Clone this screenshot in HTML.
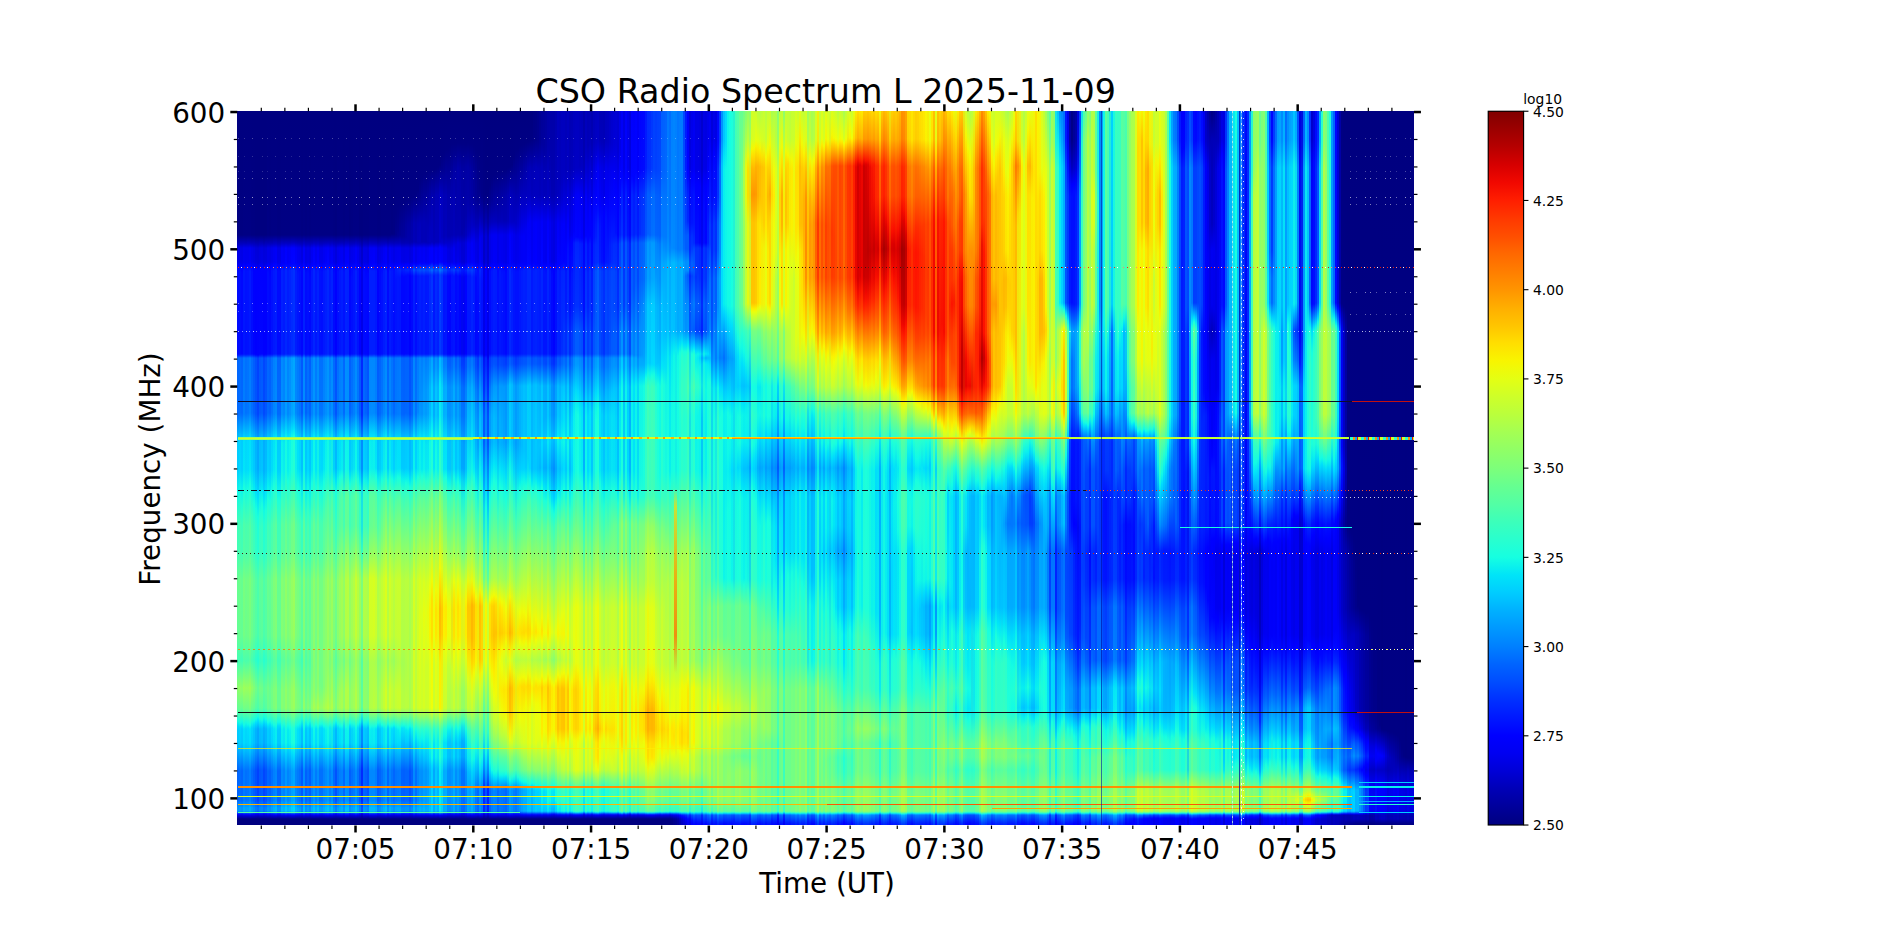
<!DOCTYPE html>
<html><head><meta charset="utf-8"><title>CSO Radio Spectrum L 2025-11-09</title>
<style>
html,body{margin:0;padding:0;background:#fff}
body{width:1898px;height:927px;position:relative;overflow:hidden}
#sp{position:absolute;left:237px;top:111px;width:1177px;height:714px;display:flex;overflow:hidden}
#sp i{display:block;flex:none;width:2px;height:714px}
#ln{position:absolute;left:0;top:0;width:1898px;height:927px}
#ln b{position:absolute;display:block}
#cb{position:absolute;left:1488px;top:111px;width:36px;height:714px;background:linear-gradient(to top,#000080 0.0%,#00009b 2.5%,#0000b6 5.0%,#0000d6 7.5%,#0000f1 10.0%,#0000ff 12.5%,#0018ff 15.0%,#0030ff 17.5%,#004cff 20.0%,#0064ff 22.5%,#0080ff 25.0%,#0098ff 27.5%,#00b0ff 30.0%,#00ccff 32.5%,#00e4f8 35.0%,#16ffe1 37.5%,#29ffce 40.0%,#3cffba 42.5%,#53ffa4 45.0%,#66ff90 47.5%,#7dff7a 50.0%,#90ff66 52.5%,#a4ff53 55.0%,#baff3c 57.5%,#ceff29 60.0%,#e4ff13 62.5%,#f8f500 65.0%,#ffde00 67.5%,#ffc400 70.0%,#ffae00 72.5%,#ff9400 75.0%,#ff7e00 77.5%,#ff6800 80.0%,#ff4e00 82.5%,#ff3800 85.0%,#ff1e00 87.5%,#f10800 90.0%,#d60000 92.5%,#b60000 95.0%,#9b0000 97.5%,#800000 100.0%)}
svg{position:absolute;left:0;top:0}
</style></head><body>
<div id="sp"><i style="background:linear-gradient(#000080 0px,#000082 124px,#0000bf 133px,#0000e8 137px,#0000e8 151px,#0000ff 156px,#000aff 161px,#000aff 243px,#0018ff 244px,#0066ff 247px,#006aff 303px,#00ccff 330px,#00d0ff 359px,#11f8e6 381px,#3cffba 410px,#43ffb4 442px,#68ff8f 470px,#63ff94 524px,#41ffb5 550px,#8fff68 577px,#62ff95 598px,#19fcde 610px,#01defa 615px,#00ccff 619px,#00c8ff 632px,#0066ff 659px,#0066ff 689px,#0098ff 697px,#0098ff 700px,#007cff 701px,#000eff 703px,#0000e4 704px,#000080 708px,#000080 713px)"></i><i style="background:linear-gradient(#000080 0px,#000082 124px,#0000c1 133px,#0000e8 137px,#0000ea 151px,#0000ff 155px,#000cff 161px,#000cff 243px,#001cff 244px,#006aff 247px,#006cff 302px,#00d2ff 330px,#00d6ff 359px,#11fae6 379px,#43ffb4 415px,#48ffaf 443px,#6bff8c 469px,#66ff90 525px,#43ffb4 549px,#94ff63 577px,#65ff92 598px,#11fae6 612px,#00dcfb 616px,#00d2ff 619px,#00ceff 632px,#006aff 660px,#006cff 689px,#009eff 697px,#009eff 700px,#0080ff 701px,#0010ff 703px,#0000e6 704px,#000080 708px,#000080 713px)"></i><i style="background:linear-gradient(#000080 0px,#000082 124px,#0000c1 133px,#0000e6 137px,#0000e8 151px,#0000ff 156px,#0008ff 163px,#0008ff 243px,#0034ff 245px,#0064ff 247px,#0068ff 302px,#00ccff 330px,#00d0ff 359px,#0cf4eb 379px,#26ffd1 396px,#3effb9 415px,#43ffb4 443px,#66ff90 468px,#63ff94 525px,#40ffb7 549px,#90ff66 577px,#66ff90 597px,#13fae4 611px,#01defa 615px,#00ccff 618px,#00c8ff 632px,#0064ff 660px,#0068ff 689px,#0098ff 697px,#0098ff 700px,#007cff 701px,#000cff 703px,#0000e4 704px,#000080 708px,#000080 713px)"></i><i style="background:linear-gradient(#000080 0px,#000084 124px,#0000bb 132px,#0000ef 137px,#0000f1 151px,#0000ff 154px,#000eff 158px,#0016ff 160px,#0016ff 243px,#0026ff 244px,#007aff 247px,#007eff 303px,#00e0fb 330px,#01e4f8 359px,#1bffdc 377px,#4effa9 414px,#53ffa4 442px,#78ff7f 470px,#73ff83 524px,#4effa9 549px,#9fff58 577px,#70ff87 598px,#11fae6 614px,#00e0fb 618px,#00dcfd 632px,#007aff 659px,#007aff 689px,#00acff 697px,#00acff 700px,#008eff 701px,#001aff 703px,#0000ed 704px,#000080 708px,#000080 713px)"></i><i style="background:linear-gradient(#000080 0px,#000084 124px,#0000b8 132px,#0000ed 137px,#0000ef 151px,#0000ff 155px,#0010ff 160px,#0010ff 243px,#0020ff 244px,#0070ff 247px,#0072ff 302px,#00d8fb 330px,#01dcfa 359px,#16fae1 378px,#48ffaf 414px,#4dffaa 442px,#70ff87 468px,#6bff8c 525px,#4bffac 550px,#9aff5d 577px,#70ff87 597px,#16fae1 612px,#00d8fb 618px,#00d4fd 632px,#0070ff 660px,#0072ff 689px,#00a4ff 697px,#00a4ff 700px,#0088ff 701px,#0014ff 703px,#0000ea 704px,#000080 708px,#000080 713px)"></i><i style="background:linear-gradient(#000080 0px,#000084 124px,#0000c4 133px,#0000ed 137px,#0000ef 151px,#0000ff 154px,#0006ff 157px,#0012ff 160px,#0012ff 243px,#0024ff 244px,#0074ff 247px,#0076ff 302px,#00daff 330px,#00defc 359px,#17ffdf 378px,#4bffac 415px,#4effa9 442px,#73ff83 469px,#6eff88 525px,#4bffac 549px,#9aff5d 577px,#6dff8a 598px,#13fce4 613px,#00defc 617px,#00d4ff 633px,#0074ff 659px,#0076ff 689px,#00a6ff 697px,#00a8ff 700px,#008aff 701px,#0016ff 703px,#0000ed 704px,#000080 708px,#000080 713px)"></i><i style="background:linear-gradient(#000080 0px,#000084 124px,#0000bb 132px,#0000f1 137px,#0000f3 151px,#0000ff 154px,#0010ff 158px,#0018ff 160px,#0018ff 243px,#0028ff 244px,#007eff 247px,#0080ff 302px,#00e0fb 328px,#02e8f4 359px,#19ffde 373px,#53ffa4 415px,#58ff9f 443px,#7bff7b 470px,#77ff80 525px,#53ffa4 549px,#a0ff56 577px,#7aff7d 597px,#14fee3 614px,#00e4f8 618px,#00e0fb 632px,#007eff 660px,#0080ff 689px,#00b0ff 697px,#00b0ff 700px,#0094ff 701px,#001cff 703px,#0000f1 704px,#000080 708px,#000080 713px)"></i><i style="background:linear-gradient(#000080 0px,#000082 124px,#0000b8 132px,#0000ea 137px,#0000ea 151px,#0000ff 155px,#000cff 161px,#000cff 243px,#0038ff 245px,#006cff 247px,#006eff 302px,#00d2fd 330px,#00d6fb 358px,#14f8e3 380px,#3bffbc 405px,#45ffb2 419px,#49ffad 443px,#6dff8a 469px,#68ff8f 525px,#45ffb2 549px,#90ff66 577px,#66ff90 598px,#17fadf 611px,#00d6fb 617px,#00ccff 633px,#006cff 659px,#006eff 689px,#00a0ff 697px,#00a0ff 700px,#0082ff 701px,#0012ff 703px,#0000e8 704px,#000080 708px,#000080 713px)"></i><i style="background:linear-gradient(#000080 0px,#000082 124px,#0000c6 134px,#0000e4 137px,#0000e6 151px,#0000ff 156px,#0004ff 243px,#0014ff 244px,#005eff 247px,#0060ff 302px,#00c6ff 330px,#00caff 359px,#04eaf3 376px,#1cffdb 392px,#39ffbe 415px,#3effb9 443px,#62ff95 469px,#5dff9a 525px,#3bffbc 549px,#82ff75 577px,#62ff95 597px,#14fce3 610px,#00defb 614px,#00c6ff 618px,#00c2ff 632px,#005eff 660px,#0060ff 689px,#0092ff 697px,#0092ff 700px,#0076ff 701px,#0008ff 703px,#0000ca 705px,#000080 708px,#000080 713px)"></i><i style="background:linear-gradient(#000080 0px,#000080 124px,#0000b2 132px,#0000da 137px,#0000df 151px,#0000ff 158px,#0000ff 243px,#0008ff 244px,#0050ff 247px,#0054ff 303px,#00b4ff 330px,#00b8ff 359px,#00e0fb 381px,#16ffe1 398px,#2cffca 415px,#30ffc7 442px,#56ffa0 470px,#53ffa4 523px,#2cffca 549px,#72ff85 577px,#53ffa4 597px,#13fce4 608px,#00dcfe 612px,#00b4ff 618px,#00b0ff 632px,#0050ff 659px,#0054ff 690px,#0080ff 697px,#0080ff 700px,#0064ff 701px,#0000ff 703px,#0000da 704px,#000080 708px,#000080 713px)"></i><i style="background:linear-gradient(#000080 0px,#000080 124px,#0000bd 134px,#0000d8 137px,#0000dd 152px,#0000ff 159px,#0002ff 244px,#0042ff 247px,#0046ff 303px,#00a8ff 330px,#00aaff 358px,#01e2f9 388px,#19ffde 406px,#21ffd6 419px,#26ffd1 442px,#4bffac 469px,#48ffaf 524px,#24ffd2 550px,#63ff94 577px,#4bffac 597px,#14fce3 606px,#00e0fb 610px,#00a8ff 618px,#00a6ff 632px,#0042ff 659px,#0042ff 689px,#0076ff 697px,#0076ff 700px,#0058ff 701px,#0024ff 702px,#0000ff 703px,#0000d4 704px,#000080 708px,#000080 713px)"></i><i style="background:linear-gradient(#000080 0px,#000080 124px,#0000c4 134px,#0000df 137px,#0000e1 151px,#0000ff 157px,#0004ff 243px,#0010ff 244px,#0056ff 247px,#0058ff 302px,#00bcff 330px,#00c0ff 359px,#08ecf1 383px,#23ffd4 402px,#33ffc4 416px,#38ffbf 443px,#5bff9c 470px,#56ffa0 525px,#34ffc2 550px,#72ff85 577px,#5aff9d 597px,#19fcde 608px,#00d6fd 614px,#00bcff 618px,#00b8ff 632px,#0056ff 659px,#0058ff 689px,#0088ff 697px,#0088ff 700px,#006cff 701px,#0006ff 703px,#0000c6 705px,#000080 708px,#000080 713px)"></i><i style="background:linear-gradient(#000080 0px,#000080 124px,#0000bd 133px,#0000e1 137px,#0000e4 151px,#0000ff 157px,#0004ff 243px,#002aff 245px,#005aff 247px,#005cff 302px,#00c0ff 330px,#00c4ff 359px,#04e8f4 378px,#1cffdb 395px,#36ffc1 416px,#3bffbc 443px,#5eff98 470px,#5aff9d 525px,#38ffbf 550px,#70ff87 578px,#5dff9a 597px,#16fce1 609px,#00dafd 614px,#00c0ff 618px,#00bcff 632px,#005aff 659px,#005cff 689px,#008cff 697px,#008cff 700px,#0070ff 701px,#0006ff 703px,#0000c6 705px,#000080 708px,#000080 713px)"></i><i style="background:linear-gradient(#000080 0px,#000080 124px,#0000af 132px,#0000da 137px,#0000df 152px,#0000ff 159px,#0000ff 243px,#0006ff 244px,#0046ff 247px,#004aff 303px,#00aeff 330px,#00b2ff 360px,#03e2f8 386px,#14fae3 400px,#24ffd2 414px,#28ffcf 441px,#4effa9 469px,#4bffac 524px,#28ffcf 550px,#5eff98 577px,#4effa9 597px,#17fcdf 606px,#01defa 611px,#00b2ff 617px,#00aaff 632px,#0046ff 659px,#0046ff 689px,#007aff 697px,#007aff 700px,#005aff 701px,#0000ff 703px,#0000d6 704px,#000080 708px,#000080 713px)"></i><i style="background:linear-gradient(#000080 0px,#000080 124px,#0000ca 135px,#0000dd 137px,#0000df 151px,#0000ff 157px,#0000ff 243px,#000cff 244px,#0052ff 247px,#0056ff 303px,#00b8ff 330px,#00bcff 359px,#03e4f8 380px,#1cffdb 399px,#2effc9 415px,#33ffc4 442px,#58ff9f 469px,#53ffa4 525px,#31ffc6 550px,#65ff92 577px,#56ffa0 597px,#14fce3 608px,#00dafd 613px,#00b8ff 618px,#00b6ff 632px,#0052ff 659px,#0052ff 689px,#0086ff 698px,#0086ff 700px,#0068ff 701px,#0002ff 703px,#0000dd 704px,#000080 708px,#000080 713px)"></i><i style="background:linear-gradient(#000080 0px,#000084 124px,#0000b6 132px,#0000e8 137px,#0000e8 151px,#0000ff 155px,#000aff 162px,#000aff 243px,#001aff 244px,#0066ff 247px,#0068ff 302px,#00ceff 330px,#00d2ff 359px,#06ecf1 373px,#1cffdb 388px,#40ffb7 415px,#45ffb2 443px,#68ff8f 469px,#63ff94 525px,#41ffb5 550px,#70ff87 577px,#68ff8f 597px,#14fee3 611px,#00e0fb 615px,#00ceff 618px,#00caff 632px,#0066ff 660px,#0068ff 689px,#009aff 697px,#009aff 700px,#007cff 701px,#000eff 703px,#0000e6 704px,#000080 708px,#000080 713px)"></i><i style="background:linear-gradient(#000080 0px,#000082 124px,#0000bf 133px,#0000e6 137px,#0000e6 151px,#0000ff 156px,#0006ff 169px,#0006ff 243px,#0030ff 245px,#0060ff 247px,#0062ff 302px,#00c8ff 330px,#00ccff 359px,#03e8f4 374px,#1bffdc 390px,#3bffbc 415px,#40ffb7 443px,#63ff94 469px,#5eff98 525px,#3cffba 550px,#68ff8f 578px,#63ff94 597px,#16fee1 610px,#00e0fb 614px,#00c8ff 618px,#00c4ff 632px,#0060ff 660px,#0062ff 689px,#0094ff 697px,#0094ff 700px,#0078ff 701px,#000aff 703px,#0000e1 704px,#000080 708px,#000080 713px)"></i><i style="background:linear-gradient(#000080 0px,#000084 124px,#0000b8 132px,#0000ed 137px,#0000ed 151px,#0000ff 155px,#0010ff 160px,#0010ff 243px,#0020ff 244px,#0070ff 247px,#0072ff 302px,#00d8fb 330px,#01dcfa 359px,#16fae1 378px,#48ffaf 414px,#4dffaa 442px,#70ff87 469px,#6bff8c 525px,#49ffad 550px,#73ff83 578px,#70ff87 597px,#16fae1 612px,#01dcfa 617px,#00d4fd 632px,#0070ff 660px,#0072ff 689px,#00a4ff 697px,#00a4ff 700px,#0088ff 701px,#0014ff 703px,#0000ea 704px,#000080 708px,#000080 713px)"></i><i style="background:linear-gradient(#000080 0px,#000084 124px,#0000c6 133px,#0000f3 137px,#0000f3 151px,#0000ff 153px,#000cff 157px,#0018ff 160px,#0018ff 243px,#0048ff 245px,#0080ff 247px,#0084ff 303px,#01e2f9 328px,#04eaf3 359px,#1cffdb 375px,#53ffa4 414px,#58ff9f 442px,#7dff7a 469px,#78ff7f 525px,#55ffa2 550px,#7fff78 579px,#7bff7b 597px,#16fce1 614px,#03e6f6 618px,#01e2f9 632px,#0080ff 659px,#0080ff 689px,#00b2ff 697px,#00b2ff 700px,#0096ff 701px,#001cff 703px,#0000f1 704px,#000080 708px,#000080 713px)"></i><i style="background:linear-gradient(#000080 0px,#000084 124px,#0000c8 133px,#0000f6 137px,#0000f8 151px,#000aff 156px,#001cff 159px,#001cff 243px,#004eff 245px,#0086ff 247px,#008aff 302px,#01dafa 324px,#09eef0 330px,#0bf2ec 360px,#2bffcc 380px,#5aff9d 414px,#5eff98 443px,#82ff75 468px,#7fff78 525px,#5bff9c 550px,#82ff75 578px,#82ff75 597px,#1bfcdc 614px,#09eef0 618px,#08eaf3 632px,#00b6ff 646px,#0086ff 660px,#008aff 689px,#00baff 697px,#00baff 700px,#009eff 701px,#0022ff 703px,#0000f3 704px,#000080 708px,#000080 713px)"></i><i style="background:linear-gradient(#000080 0px,#000082 124px,#0000bf 133px,#0000e6 137px,#0000e8 151px,#0000ff 155px,#0002ff 158px,#000aff 160px,#000aff 243px,#0034ff 245px,#0064ff 247px,#0068ff 303px,#00ccff 330px,#00d0ff 360px,#09f0ee 377px,#1bffdc 388px,#3cffba 413px,#40ffb7 441px,#66ff90 468px,#63ff94 525px,#40ffb7 550px,#66ff90 578px,#66ff90 597px,#13fce4 611px,#00dcfd 615px,#00ccff 619px,#00c8ff 632px,#0064ff 660px,#0066ff 689px,#0098ff 697px,#0098ff 700px,#007cff 701px,#000eff 703px,#0000e6 704px,#000080 708px,#000080 713px)"></i><i style="background:linear-gradient(#000080 0px,#000082 124px,#0000bf 133px,#0000e6 137px,#0000e8 151px,#0000ff 155px,#0002ff 158px,#000aff 160px,#000aff 243px,#0034ff 245px,#0064ff 247px,#0068ff 303px,#00ccff 330px,#00d0ff 360px,#09f0ee 377px,#1cffdb 389px,#3cffba 414px,#40ffb7 441px,#66ff90 469px,#62ff95 525px,#40ffb7 550px,#66ff90 579px,#66ff90 597px,#13fce4 611px,#00dcfd 615px,#00ccff 618px,#00c8ff 632px,#0064ff 660px,#0066ff 689px,#0098ff 697px,#0098ff 700px,#007aff 701px,#000eff 703px,#0000e6 704px,#000080 708px,#000080 713px)"></i><i style="background:linear-gradient(#000080 0px,#000084 124px,#0000ca 133px,#0000f8 137px,#0000f8 151px,#0000ff 154px,#0020ff 159px,#0020ff 243px,#0030ff 244px,#008aff 247px,#008eff 303px,#01e2f9 325px,#0af2ec 332px,#0ef6e9 360px,#2bffcc 379px,#5bff9c 414px,#5eff98 441px,#85ff72 469px,#82ff75 524px,#5bff9c 549px,#85ff72 579px,#85ff72 597px,#11fae6 616px,#0af2ec 619px,#07eef0 632px,#00caff 641px,#008aff 659px,#008aff 689px,#00beff 697px,#00beff 700px,#009eff 701px,#0024ff 703px,#0000f3 704px,#000080 708px,#000080 713px)"></i><i style="background:linear-gradient(#000080 0px,#000084 124px,#0000bf 132px,#0000f3 137px,#0000f8 152px,#000eff 157px,#001aff 160px,#001aff 243px,#002cff 244px,#0082ff 247px,#0086ff 303px,#01d6fa 324px,#09e8f2 332px,#0ceeee 361px,#2effc9 385px,#55ffa2 414px,#5aff9d 442px,#7fff78 469px,#7bff7b 524px,#58ff9f 550px,#7fff78 579px,#7fff78 597px,#1efcd9 613px,#09e8f2 618px,#08e6f3 632px,#00b6ff 645px,#0082ff 659px,#0082ff 689px,#00b6ff 697px,#00b6ff 700px,#0096ff 701px,#001eff 703px,#0000f1 704px,#000080 708px,#000080 713px)"></i><i style="background:linear-gradient(#000080 0px,#000084 124px,#0000c1 132px,#0000fd 137px,#0002ff 153px,#0026ff 159px,#0026ff 243px,#003aff 244px,#007eff 246px,#0098ff 247px,#009cff 303px,#01dcfa 320px,#14fae3 330px,#19fcde 360px,#66ff90 414px,#6bff8c 442px,#90ff66 469px,#8cff6b 524px,#68ff8f 550px,#90ff66 579px,#8fff68 597px,#14fae3 618px,#11f8e6 632px,#00ceff 644px,#0098ff 660px,#0098ff 689px,#00caff 697px,#00caff 700px,#00aeff 701px,#002cff 703px,#0000fa 704px,#000080 708px,#000080 713px)"></i><i style="background:linear-gradient(#000080 0px,#000084 124px,#0000c8 133px,#0000f6 137px,#0000f6 151px,#0000ff 153px,#0014ff 158px,#001cff 160px,#001cff 243px,#004cff 245px,#0084ff 247px,#0088ff 303px,#00e0fb 326px,#06ecf1 331px,#09f0ee 360px,#19ffde 370px,#56ffa0 413px,#5aff9d 441px,#80ff77 468px,#7bff7b 525px,#5aff9d 550px,#80ff77 578px,#80ff77 597px,#13fce4 615px,#06ecf1 619px,#02e8f4 632px,#00d2ff 638px,#0084ff 660px,#0086ff 689px,#00b8ff 697px,#00b8ff 700px,#009cff 701px,#0020ff 703px,#0000f1 704px,#000080 708px,#000080 713px)"></i><i style="background:linear-gradient(#000080 0px,#000084 124px,#0000bf 132px,#0000f8 137px,#0000fa 151px,#0006ff 155px,#0022ff 159px,#0022ff 243px,#0034ff 244px,#008eff 247px,#0092ff 303px,#00e0fb 324px,#0cf4eb 330px,#0ff8e7 359px,#30ffc7 380px,#5eff98 414px,#63ff94 442px,#88ff6e 470px,#83ff73 524px,#60ff97 550px,#88ff6e 579px,#87ff70 597px,#14fee3 616px,#0cf4eb 620px,#09f0ee 632px,#00d2ff 640px,#008eff 660px,#008eff 689px,#00c0ff 697px,#00c0ff 700px,#00a2ff 701px,#0026ff 703px,#0000f8 704px,#000080 708px,#000080 713px)"></i><i style="background:linear-gradient(#000080 0px,#000084 124px,#0000c4 132px,#0000ff 137px,#0002ff 153px,#002aff 159px,#002aff 243px,#003eff 244px,#009eff 247px,#00a2ff 303px,#00e2f9 320px,#16fee1 328px,#1effd9 360px,#6dff8a 414px,#72ff85 443px,#95ff62 469px,#90ff66 525px,#6eff88 550px,#95ff62 579px,#95ff62 597px,#1bffdc 618px,#17ffdf 632px,#00defc 642px,#009eff 660px,#00a0ff 689px,#00d2ff 697px,#00d2ff 700px,#00b4ff 701px,#0030ff 703px,#0000ff 704px,#000080 708px,#000080 713px)"></i><i style="background:linear-gradient(#000080 0px,#000084 124px,#0000bb 131px,#0000ff 137px,#0004ff 153px,#0030ff 159px,#0030ff 243px,#0044ff 244px,#00a6ff 247px,#00aaff 303px,#00e2f9 318px,#17ffdf 326px,#21ffd6 334px,#24ffd2 360px,#72ff85 413px,#75ff82 441px,#9cff5b 469px,#98ff5e 524px,#75ff82 550px,#9cff5b 579px,#9cff5b 597px,#23ffd4 617px,#1effd9 632px,#0af2ec 638px,#00daff 645px,#00a6ff 660px,#00a6ff 689px,#00daff 697px,#00daff 700px,#00bcff 701px,#0036ff 703px,#0000ff 704px,#000080 708px,#000080 713px)"></i><i style="background:linear-gradient(#000080 0px,#000084 124px,#0000bf 132px,#0000f6 137px,#0000fa 152px,#0010ff 157px,#001cff 160px,#001cff 243px,#002eff 244px,#006eff 246px,#0084ff 247px,#0088ff 302px,#01d4fa 323px,#0becf0 330px,#0ef0eb 361px,#30ffc7 384px,#5aff9d 415px,#5eff98 443px,#80ff77 468px,#7dff7a 525px,#5dff9a 550px,#83ff73 581px,#83ff73 597px,#1cfadb 614px,#0becf0 618px,#09e8f2 632px,#00b0ff 647px,#0084ff 660px,#0088ff 689px,#00b8ff 697px,#00b8ff 700px,#009cff 701px,#0020ff 703px,#0000f1 704px,#000080 708px,#000080 713px)"></i><i style="background:linear-gradient(#000080 0px,#000084 124px,#0000bb 132px,#0000ef 137px,#0000f1 151px,#0000ff 154px,#000eff 158px,#0014ff 164px,#0014ff 243px,#0026ff 244px,#007aff 247px,#007eff 303px,#00e0fb 330px,#00e2f9 358px,#17ffdf 375px,#4effa9 414px,#53ffa4 442px,#78ff7f 469px,#75ff82 524px,#55ffa2 550px,#78ff7f 580px,#7bff7b 597px,#11fae6 614px,#00e0fb 618px,#00defc 632px,#007aff 659px,#007aff 689px,#00aeff 698px,#00aeff 700px,#008eff 701px,#001aff 703px,#0000ed 704px,#000080 708px,#000080 713px)"></i><i style="background:linear-gradient(#000080 0px,#000084 124px,#0000c1 133px,#0000ed 137px,#0000ed 151px,#0000ff 155px,#000eff 161px,#000eff 243px,#0070ff 247px,#0074ff 303px,#00d6fd 330px,#00d8fd 358px,#16fce1 379px,#46ffb1 414px,#4bffac 442px,#70ff87 469px,#6bff8c 525px,#4effa9 551px,#72ff85 581px,#75ff82 597px,#16fce1 612px,#00d6fd 618px,#00d4ff 632px,#0070ff 659px,#0070ff 689px,#00a4ff 698px,#00a4ff 700px,#0086ff 701px,#0014ff 703px,#0000e8 704px,#000080 708px,#000080 713px)"></i><i style="background:linear-gradient(#000080 0px,#000082 124px,#0000bd 133px,#0000df 137px,#0000e4 151px,#0004ff 158px,#0006ff 243px,#0010ff 244px,#0058ff 247px,#005aff 302px,#00beff 330px,#00c2ff 358px,#0ef2e9 386px,#31ffc6 410px,#38ffbf 442px,#5dff9a 469px,#58ff9f 526px,#3effb9 550px,#62ff95 585px,#65ff92 597px,#1efcd9 608px,#03daf8 614px,#00beff 618px,#00bcff 632px,#0058ff 659px,#005aff 689px,#008aff 697px,#008cff 700px,#006eff 701px,#0008ff 703px,#0000c6 705px,#000080 708px,#000080 713px)"></i><i style="background:linear-gradient(#000080 0px,#000084 124px,#0000ca 133px,#0000f8 137px,#0000fa 151px,#0006ff 155px,#0020ff 159px,#0020ff 243px,#0052ff 245px,#008aff 247px,#008cff 302px,#01e2f9 325px,#0af2ec 330px,#0ff8e7 360px,#31ffc6 382px,#5dff9a 415px,#62ff95 442px,#85ff72 469px,#80ff77 527px,#6bff8c 551px,#8fff68 591px,#92ff65 597px,#14fce3 616px,#0af2ec 620px,#07eef0 632px,#00caff 642px,#008aff 660px,#008cff 689px,#00beff 697px,#00beff 700px,#00a2ff 701px,#0024ff 703px,#0000f6 704px,#000080 708px,#000080 713px)"></i><i style="background:linear-gradient(#000080 0px,#000082 124px,#0000c6 134px,#0000e4 137px,#0000e6 151px,#0000f8 155px,#000aff 162px,#000aff 243px,#0016ff 244px,#0060ff 247px,#0062ff 302px,#00c6ff 330px,#00cafd 359px,#0ef0eb 381px,#31ffc6 406px,#3bffbc 418px,#40ffb7 443px,#63ff94 470px,#5eff98 527px,#4dffaa 551px,#73ff83 597px,#21fcd6 609px,#08e4f3 614px,#00c6ff 618px,#00c2ff 632px,#0060ff 660px,#0062ff 689px,#0092ff 697px,#0092ff 700px,#0076ff 701px,#000cff 703px,#0000e4 704px,#000080 708px,#000080 713px)"></i><i style="background:linear-gradient(#000080 0px,#000084 124px,#0000c1 133px,#0000ea 137px,#0000ea 151px,#0000ff 154px,#0008ff 158px,#000eff 163px,#000eff 243px,#001eff 244px,#006eff 247px,#0070ff 302px,#00d4ff 330px,#00d8ff 359px,#0ff8e7 376px,#36ffc1 402px,#46ffb1 416px,#4bffac 443px,#6eff88 470px,#6aff8d 529px,#5bff9c 551px,#82ff75 597px,#13fce4 613px,#00d8ff 617px,#00ceff 633px,#006eff 659px,#0070ff 689px,#00a0ff 697px,#00a0ff 700px,#0084ff 701px,#0012ff 703px,#0000ea 704px,#000080 708px,#000080 713px)"></i><i style="background:linear-gradient(#000080 0px,#000082 124px,#0000c6 134px,#0000e4 137px,#0000e4 151px,#0002ff 157px,#0008ff 168px,#0008ff 243px,#0014ff 244px,#005eff 247px,#0062ff 303px,#00c4ff 330px,#00c8ff 359px,#10f2e7 384px,#30ffc7 406px,#38ffbf 419px,#3cffba 442px,#62ff95 469px,#5dff9a 530px,#50ffa7 551px,#70ff87 590px,#77ff80 597px,#1bfadc 610px,#03daf8 615px,#00c4ff 618px,#00c0ff 632px,#005eff 659px,#0060ff 689px,#0090ff 697px,#0090ff 700px,#0074ff 701px,#000aff 703px,#0000e1 704px,#000080 708px,#000080 713px)"></i><i style="background:linear-gradient(#000080 0px,#000084 124px,#0000bb 132px,#0000f1 137px,#0000f3 151px,#0000ff 154px,#0016ff 160px,#0016ff 243px,#0046ff 245px,#007eff 247px,#0082ff 303px,#00defc 328px,#01e6f6 359px,#17ffdf 373px,#51ffa5 414px,#55ffa2 442px,#7bff7b 470px,#77ff80 529px,#6eff88 555px,#83ff73 583px,#94ff63 597px,#11fae6 615px,#00e2f9 618px,#00defc 633px,#007eff 659px,#007eff 689px,#00aeff 697px,#00b0ff 700px,#0092ff 701px,#001cff 703px,#0000ef 704px,#000080 708px,#000080 713px)"></i><i style="background:linear-gradient(#000080 0px,#000084 124px,#0000c1 132px,#0000fa 137px,#0002ff 154px,#0024ff 159px,#0024ff 243px,#0038ff 244px,#0092ff 247px,#0096ff 303px,#01e2f9 324px,#0ef6e9 330px,#11fae6 359px,#62ff95 414px,#65ff92 442px,#8cff6b 470px,#87ff70 531px,#83ff73 560px,#92ff65 582px,#a7ff50 597px,#11fae6 617px,#0af2ec 633px,#00ceff 642px,#0092ff 659px,#0092ff 689px,#00c2ff 697px,#00c2ff 700px,#00a6ff 701px,#0028ff 703px,#0000f8 704px,#000080 708px,#000080 713px)"></i><i style="background:linear-gradient(#000080 0px,#000084 124px,#0000c6 133px,#0000ef 137px,#0000f3 151px,#0000ff 154px,#000eff 158px,#0016ff 160px,#0016ff 243px,#0028ff 244px,#007aff 247px,#007eff 303px,#00e0fb 330px,#01e4f8 359px,#19ffde 376px,#50ffa7 415px,#55ffa2 443px,#78ff7f 470px,#72ff85 546px,#7dff7a 580px,#9aff5d 597px,#16fee1 614px,#00e0fb 618px,#00dcfd 632px,#007aff 660px,#007cff 689px,#00acff 697px,#00acff 700px,#0090ff 701px,#001aff 703px,#0000ef 704px,#000080 708px,#000080 713px)"></i><i style="background:linear-gradient(#000080 0px,#000084 124px,#0000ca 133px,#0000f8 137px,#0000fd 152px,#001aff 158px,#0020ff 164px,#0020ff 243px,#0034ff 244px,#008cff 247px,#0090ff 303px,#01d4fa 321px,#0ef0eb 329px,#10f2e7 360px,#30ffc7 380px,#5dff9a 413px,#63ff94 442px,#88ff6e 469px,#88ff6e 576px,#aaff4d 597px,#1ffcd7 615px,#0ef0eb 618px,#0becf0 633px,#00bcff 646px,#008cff 660px,#008eff 689px,#00c0ff 697px,#00c0ff 700px,#00a4ff 701px,#0024ff 703px,#0000f6 704px,#000080 708px,#000080 713px)"></i><i style="background:linear-gradient(#000080 0px,#000084 124px,#0000c1 133px,#0000ea 137px,#0000ed 151px,#0000ff 155px,#0010ff 160px,#0010ff 243px,#0020ff 244px,#0070ff 247px,#0074ff 303px,#00d8fd 330px,#00dcfb 360px,#19fede 379px,#46ffb1 413px,#4dffaa 442px,#73ff83 469px,#70ff87 569px,#7dff7a 582px,#97ff60 597px,#19fede 613px,#00dcfb 617px,#00d4ff 632px,#0070ff 659px,#0070ff 689px,#00a4ff 697px,#00a4ff 700px,#0086ff 701px,#0014ff 703px,#0000ea 704px,#000080 708px,#000080 713px)"></i><i style="background:linear-gradient(#000080 0px,#000084 124px,#0000c1 133px,#0000ea 137px,#0000ed 151px,#0000ff 155px,#000eff 161px,#000eff 243px,#003aff 245px,#0070ff 247px,#0074ff 303px,#00d4ff 330px,#00d8fd 358px,#13fae4 376px,#46ffb1 414px,#4effa9 442px,#73ff83 469px,#73ff83 576px,#97ff60 597px,#16fce1 613px,#00d8fd 617px,#00d0ff 633px,#0070ff 659px,#0070ff 689px,#00a0ff 697px,#00a2ff 700px,#0084ff 701px,#0012ff 703px,#0000e8 704px,#000080 708px,#000080 713px)"></i><i style="background:linear-gradient(#000080 0px,#000084 124px,#0000bd 132px,#0000f3 137px,#0000f3 151px,#0000ff 153px,#000aff 157px,#0018ff 160px,#0018ff 243px,#002aff 244px,#0080ff 247px,#0084ff 303px,#00e0fb 328px,#03e8f4 358px,#19ffde 371px,#53ffa4 412px,#5eff98 442px,#82ff75 469px,#82ff75 576px,#a4ff53 597px,#13fce4 615px,#01e4f8 618px,#00e0fb 633px,#0080ff 659px,#0084ff 690px,#00b0ff 697px,#00b0ff 700px,#0094ff 701px,#001eff 703px,#0000ef 704px,#000080 708px,#000080 713px)"></i><i style="background:linear-gradient(#000080 0px,#000084 124px,#0000bf 132px,#0000f6 137px,#0000fa 151px,#000aff 156px,#001eff 160px,#001eff 243px,#0030ff 244px,#008aff 247px,#008eff 303px,#01dcfa 324px,#09f0ee 331px,#0ef6e9 359px,#30ffc7 378px,#4dffaa 398px,#60ff97 424px,#6aff8d 442px,#8fff68 469px,#88ff6e 540px,#8cff6b 568px,#94ff63 580px,#adff49 597px,#14fae3 616px,#09f0ee 619px,#08ecf1 632px,#00c4ff 643px,#008aff 659px,#008aff 689px,#00bcff 697px,#00bcff 700px,#009eff 701px,#0022ff 703px,#0000f6 704px,#000080 708px,#000080 713px)"></i><i style="background:linear-gradient(#000080 0px,#000084 124px,#0000c1 132px,#0000fa 137px,#0004ff 154px,#0026ff 159px,#0026ff 243px,#0038ff 244px,#0094ff 247px,#0098ff 303px,#03e2f8 323px,#11f8e6 330px,#16fae1 359px,#4effa9 390px,#68ff8f 422px,#78ff7f 444px,#9cff5b 470px,#97ff60 529px,#8fff68 555px,#a2ff55 583px,#b5ff41 597px,#14fae3 617px,#0ef6e9 632px,#00caff 644px,#0094ff 660px,#0096ff 689px,#00c6ff 697px,#00c6ff 700px,#00aaff 701px,#002aff 703px,#0000fa 704px,#000080 708px,#000080 713px)"></i><i style="background:linear-gradient(#000080 0px,#000084 124px,#0000c6 133px,#0000f1 137px,#0000f3 151px,#0008ff 156px,#0018ff 160px,#0018ff 243px,#002aff 244px,#007eff 247px,#0082ff 303px,#01d2fa 324px,#09e6f2 330px,#0cecee 360px,#30ffc7 379px,#45ffb2 395px,#6dff8a 445px,#8dff6a 470px,#88ff6e 530px,#7bff7b 550px,#98ff5e 587px,#a5ff51 597px,#24fed2 613px,#0beaf0 617px,#08e2f3 632px,#00b2ff 645px,#007eff 660px,#007eff 689px,#00b2ff 697px,#00b2ff 700px,#0094ff 701px,#001eff 703px,#0000f1 704px,#000080 708px,#000080 713px)"></i><i style="background:linear-gradient(#000080 0px,#000084 124px,#0000c1 132px,#0000f4 137px,#0000f8 152px,#0020ff 159px,#0020ff 243px,#0034ff 244px,#0074ff 246px,#008cff 247px,#0090ff 303px,#03ccf8 319px,#13eae8 329px,#16eee4 360px,#38ffbf 376px,#4effa9 390px,#7bff7b 445px,#9cff5b 469px,#97ff60 529px,#8aff6d 551px,#b1ff46 597px,#26fad1 614px,#13eae8 618px,#0ee4ed 634px,#00b0ff 649px,#008cff 660px,#008eff 689px,#00c0fd 697px,#00c0fd 700px,#00a2ff 701px,#0024ff 703px,#0000f4 704px,#000080 708px,#000080 713px)"></i><i style="background:linear-gradient(#000080 0px,#000082 124px,#0000c1 133px,#0000e8 137px,#0000ea 151px,#0002ff 156px,#000aff 163px,#000aff 243px,#0036ff 245px,#006aff 247px,#006eff 303px,#00cefd 329px,#00d2fb 358px,#0cf2eb 369px,#30ffc7 384px,#5bff9c 440px,#83ff73 470px,#7fff78 527px,#6bff8c 551px,#92ff65 597px,#1bfadc 612px,#01d6fa 617px,#00cefd 619px,#00caff 633px,#006aff 659px,#006aff 689px,#009eff 698px,#009eff 700px,#007eff 701px,#0010ff 703px,#0000e6 704px,#000080 708px,#000080 713px)"></i><i style="background:linear-gradient(#000080 0px,#000080 124px,#0000ca 135px,#0000dd 137px,#0000df 151px,#0000ff 157px,#0000ff 243px,#000cff 244px,#0052ff 247px,#0056ff 303px,#00b8ff 330px,#00baff 357px,#01e2f9 370px,#1bffdc 382px,#28ffcf 399px,#46ffb1 435px,#73ff83 470px,#6eff88 527px,#58ff9f 550px,#7fff78 594px,#78ff7f 598px,#17fedf 610px,#00dafd 614px,#00b8ff 618px,#00b6ff 632px,#0052ff 659px,#0052ff 689px,#0086ff 697px,#0086ff 700px,#0066ff 701px,#0002ff 703px,#0000dd 704px,#000080 708px,#000080 713px)"></i><i style="background:linear-gradient(#000080 0px,#000084 124px,#0000b8 132px,#0000ed 137px,#0000ed 151px,#0000ff 155px,#000eff 161px,#000eff 243px,#003cff 245px,#0070ff 247px,#0074ff 303px,#00d6fd 330px,#00dafb 358px,#16fae1 370px,#3cffba 386px,#4dffaa 418px,#8fff68 470px,#8aff6d 527px,#70ff87 550px,#90ff66 581px,#98ff5e 597px,#17fcdf 613px,#00dafb 617px,#00d0ff 633px,#0070ff 659px,#0070ff 689px,#00a4ff 698px,#00a4ff 700px,#0084ff 701px,#0014ff 703px,#0000e8 704px,#000080 708px,#000080 713px)"></i><i style="background:linear-gradient(#000080 0px,#000084 124px,#0000bb 132px,#0000f1 137px,#0000f3 151px,#0000ff 154px,#0016ff 160px,#0016ff 243px,#0028ff 244px,#007eff 247px,#0082ff 303px,#00defc 328px,#01e6f6 358px,#17ffdf 366px,#4bffac 386px,#56ffa0 416px,#9dff5a 470px,#98ff5e 525px,#7bff7b 551px,#9fff58 582px,#a2ff55 597px,#11fae6 615px,#00e2f9 618px,#00defc 632px,#007eff 659px,#0082ff 690px,#00aeff 697px,#00aeff 700px,#0092ff 701px,#001aff 703px,#0000ef 704px,#000080 708px,#000080 713px)"></i><i style="background:linear-gradient(#000080 0px,#000084 124px,#0000bd 132px,#0000f3 137px,#0000f6 151px,#0002ff 155px,#001cff 159px,#001cff 243px,#002cff 244px,#0082ff 247px,#0086ff 303px,#01e2f9 327px,#04eaf3 332px,#07eef0 358px,#1bffdc 365px,#51ffa5 385px,#5aff9d 414px,#a5ff51 469px,#a0ff56 525px,#82ff75 550px,#a5ff51 581px,#a9ff4e 597px,#17fedf 615px,#04eaf3 618px,#03e6f6 632px,#00c2ff 642px,#0082ff 660px,#0084ff 689px,#00b6ff 697px,#00b6ff 700px,#0098ff 701px,#0020ff 703px,#0000f3 704px,#000080 708px,#000080 713px)"></i><i style="background:linear-gradient(#000080 0px,#000082 124px,#0000bf 133px,#0000e6 137px,#0000ea 151px,#0012ff 161px,#0012ff 243px,#001cff 244px,#0068ff 247px,#006aff 302px,#01bafa 324px,#09cef2 330px,#0cd4ee 359px,#28f4cf 376px,#3effb9 386px,#45ffb2 415px,#94ff63 469px,#8fff68 525px,#6eff88 550px,#92ff65 581px,#92ff65 597px,#31fac6 609px,#13dce8 615px,#09cef2 619px,#08caf3 632px,#0096ff 646px,#0068ff 660px,#006aff 689px,#009aff 697px,#009aff 700px,#007eff 701px,#0016ff 703px,#0000e6 704px,#000080 708px,#000080 713px)"></i><i style="background:linear-gradient(#000080 0px,#000084 124px,#0000ca 133px,#0000f8 137px,#0000fc 151px,#0006ff 155px,#0022ff 159px,#0022ff 243px,#0034ff 244px,#008eff 247px,#0092ff 303px,#01e2f9 324px,#0cf4eb 330px,#11fae6 358px,#5eff98 385px,#63ff94 414px,#b5ff41 469px,#b2ff45 524px,#8fff68 550px,#b1ff46 579px,#b1ff46 597px,#19ffde 616px,#0cf4eb 618px,#0af2ec 632px,#00d0ff 641px,#008eff 660px,#0090ff 689px,#00c2ff 698px,#00c2ff 700px,#00a4ff 701px,#0026ff 703px,#0000f8 704px,#000080 708px,#000080 713px)"></i><i style="background:linear-gradient(#000080 0px,#000084 124px,#0000c1 132px,#0000f8 137px,#0000fd 152px,#000cff 156px,#0020ff 159px,#0020ff 243px,#0052ff 245px,#008cff 247px,#0090ff 303px,#01dcfa 323px,#0cf4eb 331px,#0ff6e7 358px,#33ffc4 370px,#5dff9a 385px,#60ff97 414px,#b7ff40 469px,#b2ff45 525px,#8fff68 550px,#b1ff46 580px,#adff49 597px,#16fae1 616px,#0cf4eb 620px,#09f0ee 632px,#00c6ff 643px,#008cff 659px,#008cff 689px,#00c0ff 697px,#00c0ff 700px,#00a0ff 701px,#0024ff 703px,#0000f6 704px,#000080 708px,#000080 713px)"></i><i style="background:linear-gradient(#000080 0px,#000080 124px,#0000bf 133px,#0000e3 137px,#0000e8 151px,#0000ff 156px,#0006ff 169px,#0006ff 243px,#0016ff 244px,#0060ff 247px,#0062ff 302px,#00c8ff 330px,#00ccff 358px,#01e6f6 365px,#19ffde 373px,#3bffbc 385px,#40ffb7 415px,#80ff77 454px,#98ff5e 470px,#94ff63 525px,#70ff87 551px,#8dff6a 581px,#8dff6a 597px,#14fee3 612px,#00e0fb 615px,#00c8ff 618px,#00c4ff 632px,#0060ff 660px,#0062ff 689px,#0094ff 697px,#0094ff 700px,#0076ff 701px,#000aff 703px,#0000e3 704px,#000080 708px,#000080 713px)"></i><i style="background:linear-gradient(#000080 0px,#000082 124px,#0000c1 133px,#0000ea 137px,#0000ed 151px,#0008ff 157px,#000eff 167px,#000eff 243px,#003cff 245px,#006eff 247px,#0072ff 302px,#01d2fa 328px,#04daf6 358px,#1efad9 370px,#48ffaf 385px,#4bffac 415px,#82ff75 448px,#a7ff50 468px,#a2ff55 525px,#80ff77 551px,#98ff5e 579px,#98ff5e 597px,#21fcd6 612px,#09e6f2 616px,#03d6f8 618px,#01d2fa 632px,#006eff 660px,#0072ff 689px,#00a2ff 697px,#00a2ff 700px,#0086ff 701px,#0012ff 703px,#0000e8 704px,#000080 708px,#000080 713px)"></i><i style="background:linear-gradient(#000080 0px,#000084 124px,#0000bb 132px,#0000ef 137px,#0000f1 151px,#000aff 157px,#0014ff 160px,#0014ff 243px,#0042ff 245px,#007aff 247px,#007eff 303px,#01d6fa 327px,#04def6 332px,#06e2f5 357px,#1efcd9 368px,#4effa9 385px,#51ffa5 414px,#88ff6e 447px,#b2ff45 468px,#adff49 525px,#8aff6d 550px,#a0ff56 582px,#9fff58 597px,#1efcd9 613px,#06e4f5 617px,#04def6 623px,#03daf8 633px,#009aff 650px,#007aff 659px,#007aff 689px,#00aaff 697px,#00acff 700px,#008eff 701px,#001aff 703px,#0000ed 704px,#000080 708px,#000080 713px)"></i><i style="background:linear-gradient(#000080 0px,#000084 124px,#0000ca 133px,#0000f8 137px,#0000fa 151px,#0008ff 155px,#0020ff 160px,#0020ff 243px,#0052ff 245px,#008cff 247px,#008eff 302px,#01e0fa 324px,#0cf4eb 330px,#0ff8e7 358px,#33ffc4 370px,#5eff98 385px,#63ff94 415px,#97ff60 446px,#c7ff30 468px,#c2ff34 524px,#9dff5a 550px,#b1ff46 583px,#b1ff46 597px,#17fedf 616px,#0cf4eb 619px,#09f0ee 632px,#00ccff 642px,#008cff 660px,#008eff 689px,#00c0ff 697px,#00c0ff 700px,#00a4ff 701px,#0026ff 703px,#0000f6 704px,#000080 708px,#000080 713px)"></i><i style="background:linear-gradient(#000080 0px,#000084 124px,#0000c4 133px,#0000ef 137px,#0000ef 151px,#0000ff 155px,#0012ff 160px,#0012ff 243px,#0022ff 244px,#0074ff 247px,#0076ff 302px,#01dafa 330px,#03def8 358px,#1bfcdc 368px,#4bffac 385px,#4effa9 415px,#82ff75 445px,#b5ff41 468px,#b1ff46 525px,#8dff6a 550px,#9cff5b 583px,#9cff5b 597px,#1bfcdc 613px,#03def8 617px,#00d4fb 633px,#0074ff 659px,#0076ff 689px,#00a6ff 697px,#00a6ff 700px,#008aff 701px,#0016ff 703px,#0000ea 704px,#000080 708px,#000080 713px)"></i><i style="background:linear-gradient(#000080 0px,#000080 124px,#0000c4 134px,#0000df 137px,#0000e1 151px,#0000ff 157px,#0000ff 243px,#0026ff 245px,#0056ff 247px,#005aff 303px,#00baff 330px,#00beff 357px,#00e2f9 367px,#17ffdf 376px,#31ffc6 385px,#36ffc1 415px,#65ff92 443px,#9fff58 468px,#9aff5d 525px,#78ff7f 551px,#83ff73 595px,#7bff7b 598px,#11fae6 611px,#00defc 614px,#00baff 618px,#00b8ff 632px,#0056ff 659px,#0056ff 689px,#0088ff 697px,#0088ff 700px,#006aff 701px,#0002ff 703px,#0000dd 704px,#000080 708px,#000080 713px)"></i><i style="background:linear-gradient(#000080 0px,#000080 124px,#0000b4 134px,#0000ca 137px,#0000cf 152px,#0000e8 159px,#0000e8 243px,#0028ff 247px,#002cff 304px,#008cff 330px,#0090ff 358px,#03c0f8 371px,#10d8eb 379px,#16e2e5 389px,#1be8e0 418px,#33fcc4 439px,#7dff7a 468px,#78ff7f 524px,#53ffa4 551px,#5dff9a 596px,#43ffb4 600px,#20ecdb 605px,#08ccf3 611px,#0098ff 616px,#008cff 619px,#0088ff 632px,#002aff 658px,#002cff 690px,#0058ff 697px,#0058ff 700px,#0018f8 702px,#0000e8 703px,#0000c6 704px,#000080 708px,#000080 713px)"></i><i style="background:linear-gradient(#000080 0px,#000082 124px,#0000c8 134px,#0000e6 137px,#0000e8 151px,#0000ff 156px,#000aff 161px,#000aff 243px,#001aff 244px,#0066ff 247px,#006aff 303px,#00ccff 330px,#00d0fd 358px,#11f6e6 369px,#38ffbf 382px,#3effb9 390px,#43ffb4 415px,#73ff83 443px,#b4ff43 467px,#afff48 525px,#8cff6b 551px,#90ff66 597px,#17fadf 612px,#01dafa 616px,#00ccff 618px,#00c8ff 632px,#0066ff 660px,#0066ff 689px,#0098ff 697px,#0098ff 700px,#007cff 701px,#000eff 703px,#0000e6 704px,#000080 708px,#000080 713px)"></i><i style="background:linear-gradient(#000080 0px,#000082 124px,#0000bf 133px,#0000e4 137px,#0000e6 151px,#0002ff 157px,#0008ff 168px,#0008ff 243px,#0014ff 244px,#005eff 247px,#0062ff 302px,#00c6ff 330px,#00caff 358px,#0ef0eb 369px,#2effc9 380px,#3bffbc 388px,#40ffb7 415px,#72ff85 444px,#b2ff45 468px,#adff49 524px,#88ff6e 552px,#8cff6b 597px,#1bfadc 611px,#09eaf2 614px,#00c6ff 618px,#00c2ff 632px,#005eff 660px,#0062ff 689px,#0092ff 697px,#0092ff 700px,#0076ff 701px,#000aff 703px,#0000e1 704px,#000080 708px,#000080 713px)"></i><i style="background:linear-gradient(#000080 0px,#000082 124px,#0000bb 133px,#0000df 137px,#0000df 151px,#0000f6 155px,#0006ff 163px,#0006ff 243px,#000eff 244px,#0054ff 247px,#0058ff 303px,#00bcff 330px,#00c0ff 358px,#0ef0eb 372px,#30ffc7 385px,#36ffc1 414px,#6aff8d 444px,#aaff4d 468px,#a7ff50 524px,#80ff77 552px,#85ff72 597px,#23fed4 609px,#09e8f2 613px,#00c0ff 617px,#00b8ff 632px,#0054ff 659px,#0054ff 689px,#0088ff 697px,#0088ff 700px,#0068ff 701px,#0008ff 703px,#0000c6 705px,#000080 708px,#000080 713px)"></i><i style="background:linear-gradient(#000080 0px,#000084 124px,#0000ca 133px,#0000f6 137px,#0000f8 151px,#0000ff 154px,#001eff 159px,#001eff 243px,#0032ff 244px,#0088ff 247px,#008aff 302px,#00e0fb 325px,#09f0ee 331px,#0cf4eb 358px,#21ffd6 365px,#5bff9c 385px,#65ff92 415px,#92ff65 442px,#d6ff21 467px,#d1ff26 525px,#adff49 552px,#b2ff45 597px,#14fee3 616px,#09f0ee 619px,#06ecf1 632px,#00ceff 640px,#0088ff 660px,#008aff 689px,#00bcff 697px,#00bcff 700px,#009eff 701px,#0022ff 703px,#0000f3 704px,#000080 708px,#000080 713px)"></i><i style="background:linear-gradient(#000080 0px,#000084 124px,#0000c8 133px,#0000f6 137px,#0000fa 152px,#0010ff 157px,#001eff 160px,#001eff 243px,#0030ff 244px,#0088ff 247px,#008cff 303px,#01d8fa 323px,#09ecf1 331px,#0bf0ee 357px,#30ffc7 370px,#5aff9d 385px,#68ff8f 416px,#98ff5e 444px,#d4ff23 467px,#d1ff26 525px,#adff49 551px,#b4ff43 597px,#1cfcdb 615px,#09ecf1 618px,#08e8f3 633px,#00b8ff 646px,#0088ff 659px,#0088ff 689px,#00bcff 697px,#00bcff 700px,#009cff 701px,#0022ff 703px,#0000f3 704px,#000080 708px,#000080 713px)"></i><i style="background:linear-gradient(#000080 0px,#000084 124px,#0000c8 133px,#0000f8 137px,#0000fd 152px,#000cff 156px,#001eff 160px,#001eff 243px,#0050ff 245px,#0088ff 247px,#008aff 302px,#01d8fa 323px,#0bf0ee 330px,#0cf2eb 358px,#2cffca 369px,#5dff9a 386px,#6eff88 417px,#9dff5a 444px,#d7ff1f 468px,#d4ff23 524px,#adff49 551px,#baff3c 593px,#b9ff3e 597px,#1cfcdb 615px,#0bf0ee 618px,#09ecf1 632px,#00b8ff 646px,#0088ff 660px,#008aff 689px,#00bcff 697px,#00bcff 700px,#00a0ff 701px,#0022ff 703px,#0000f3 704px,#000080 708px,#000080 713px)"></i><i style="background:linear-gradient(#000080 0px,#000084 124px,#0000c6 133px,#0000f3 137px,#0000f3 151px,#0000ff 153px,#0006ff 156px,#0018ff 160px,#0018ff 243px,#002aff 244px,#007eff 247px,#0080ff 302px,#00e0fb 328px,#03e6f6 357px,#19ffde 365px,#53ffa4 385px,#66ff90 415px,#97ff60 444px,#ceff29 468px,#c9ff2e 525px,#a7ff50 551px,#b4ff43 586px,#b4ff43 597px,#16fee1 615px,#01e4f8 618px,#01e2f9 632px,#007eff 659px,#0080ff 689px,#00b2ff 697px,#00b2ff 700px,#0094ff 701px,#001cff 703px,#0000ef 704px,#000080 708px,#000080 713px)"></i><i style="background:linear-gradient(#000080 0px,#000082 124px,#0000b4 132px,#0000e1 137px,#0000e4 151px,#0000ff 157px,#0004ff 243px,#0012ff 244px,#005cff 247px,#0060ff 303px,#00c2ff 330px,#00c6ff 358px,#09f0ee 369px,#26ffd1 379px,#38ffbf 386px,#50ffa7 417px,#80ff77 445px,#b2ff45 469px,#adff49 524px,#8aff6d 551px,#9aff5d 582px,#9aff5d 597px,#14fae3 612px,#00d2ff 616px,#00c2ff 618px,#00beff 632px,#005cff 659px,#005cff 689px,#008eff 697px,#008eff 700px,#0070ff 701px,#0006ff 703px,#0000c8 705px,#000080 708px,#000080 713px)"></i><i style="background:linear-gradient(#000080 0px,#000082 124px,#0000c8 134px,#0000e6 137px,#0000e8 151px,#0008ff 158px,#000cff 243px,#0016ff 244px,#0064ff 247px,#0068ff 303px,#00cafb 330px,#01cefa 358px,#0ee8ed 366px,#33ffc4 381px,#43ffb4 391px,#5dff9a 419px,#8dff6a 447px,#b9ff3e 468px,#b4ff43 524px,#90ff66 551px,#a7ff50 584px,#a4ff53 597px,#24fcd2 611px,#06daf5 616px,#00cafb 618px,#00c6fd 632px,#0064ff 659px,#0064ff 689px,#0096ff 697px,#0096ff 700px,#0078ff 701px,#000eff 703px,#0000e4 704px,#000080 708px,#000080 713px)"></i><i style="background:linear-gradient(#000080 0px,#000084 124px,#0000c4 133px,#0000ea 137px,#0000ef 151px,#0000ff 154px,#000aff 158px,#0010ff 164px,#0010ff 243px,#0022ff 244px,#0070ff 247px,#0074ff 302px,#00d8ff 330px,#00dcfd 358px,#17ffdf 368px,#49ffad 386px,#73ff83 423px,#aaff4d 454px,#c4ff33 468px,#c1ff36 524px,#9cff5b 550px,#b4ff43 581px,#b4ff43 597px,#16fee1 614px,#00dcfd 617px,#00d4ff 632px,#0070ff 660px,#0074ff 689px,#00a4ff 697px,#00a4ff 700px,#0088ff 701px,#0016ff 703px,#0000ea 704px,#000080 708px,#000080 713px)"></i><i style="background:linear-gradient(#000080 0px,#000084 124px,#0000c6 133px,#0000f3 137px,#0000f8 152px,#0012ff 158px,#001aff 160px,#001aff 243px,#0048ff 245px,#0080ff 247px,#0084ff 303px,#01d0fa 323px,#09e4f2 331px,#0ceaee 358px,#23fcd4 368px,#56ffa0 387px,#8cff6b 430px,#ceff29 467px,#caff2c 525px,#a7ff50 551px,#c2ff34 580px,#c2ff34 597px,#23fcd4 614px,#09e4f2 618px,#08e0f3 633px,#00b0ff 646px,#0080ff 659px,#0080ff 689px,#00b4ff 697px,#00b4ff 700px,#0094ff 701px,#001eff 703px,#0000ef 704px,#000080 708px,#000080 713px)"></i><i style="background:linear-gradient(#000080 0px,#000084 124px,#0000bf 132px,#0000f8 137px,#0000fd 152px,#0014ff 157px,#0022ff 160px,#0022ff 243px,#0034ff 244px,#008cff 247px,#0090ff 302px,#01d8fa 322px,#0cf2eb 330px,#0ff4e7 358px,#30ffc7 368px,#63ff94 387px,#acff4b 441px,#dbff1c 468px,#d7ff1f 524px,#b4ff43 550px,#d2ff24 581px,#d1ff26 597px,#19fade 616px,#0cf2eb 618px,#0bf0ee 632px,#00bcff 646px,#008cff 660px,#0090ff 689px,#00c0ff 697px,#00c0ff 700px,#00a4ff 701px,#0026ff 703px,#0000f8 704px,#000080 708px,#000080 713px)"></i><i style="background:linear-gradient(#000080 0px,#000084 124px,#0000b6 132px,#0000e6 137px,#0000e8 151px,#0000ff 156px,#0008ff 163px,#0008ff 243px,#0018ff 244px,#0066ff 247px,#006aff 303px,#00caff 330px,#00ccff 357px,#11f6e6 369px,#2effc9 379px,#45ffb2 389px,#a5ff51 455px,#b9ff3e 469px,#b4ff43 525px,#92ff65 550px,#b4ff43 580px,#b4ff43 597px,#17fadf 613px,#01dcfa 616px,#00ccff 618px,#00c4ff 633px,#0066ff 659px,#0066ff 689px,#0096ff 697px,#0098ff 700px,#007aff 701px,#000cff 703px,#0000e6 704px,#000080 708px,#000080 713px)"></i><i style="background:linear-gradient(#000080 0px,#000084 124px,#0000bd 132px,#0000f3 137px,#0000f6 151px,#0004ff 155px,#001cff 160px,#001aff 243px,#002cff 244px,#0084ff 247px,#0088ff 303px,#01dcfa 326px,#06e8f4 331px,#08ecf1 357px,#29ffce 369px,#5dff9a 388px,#beff39 454px,#d1ff26 468px,#ceff29 525px,#acff4b 550px,#ceff29 579px,#ceff29 597px,#1cfedb 615px,#09f0ee 617px,#04e4f6 633px,#00b2ff 646px,#0084ff 659px,#0084ff 689px,#00b4ff 697px,#00b6ff 700px,#0098ff 701px,#0020ff 703px,#0000f1 704px,#000080 708px,#000080 713px)"></i><i style="background:linear-gradient(#000080 0px,#000082 123px,#0000bb 132px,#0000ed 137px,#0000ef 151px,#0000ff 154px,#000eff 158px,#0016ff 160px,#0012ff 243px,#0022ff 244px,#0074ff 247px,#0078ff 303px,#00daff 330px,#00defc 358px,#19ffde 368px,#50ffa7 388px,#c6ff31 469px,#c1ff36 525px,#a0ff56 550px,#c4ff33 580px,#c1ff36 597px,#13fce4 615px,#00dcfd 618px,#00d6ff 632px,#0074ff 659px,#0074ff 689px,#00a6ff 697px,#00a6ff 700px,#0088ff 701px,#0016ff 703px,#0000ea 704px,#000080 708px,#000080 713px)"></i><i style="background:linear-gradient(#000080 0px,#000084 123px,#0000b8 132px,#0000e6 137px,#0000e8 151px,#0000ff 155px,#000eff 160px,#000aff 243px,#001aff 244px,#0066ff 247px,#0068ff 302px,#00ccff 330px,#00d0ff 358px,#11f8e6 369px,#36ffc1 381px,#baff3c 468px,#b7ff40 525px,#98ff5e 550px,#baff3c 580px,#baff3c 597px,#13fae4 614px,#00d8fd 617px,#00c8ff 632px,#0066ff 659px,#0068ff 689px,#0098ff 697px,#0098ff 700px,#007cff 701px,#000eff 703px,#0000e4 704px,#000080 708px,#000080 713px)"></i><i style="background:linear-gradient(#000080 0px,#000084 102px,#00008d 124px,#0000bb 132px,#0000ed 137px,#0000ef 151px,#0000ff 154px,#001cff 159px,#0012ff 169px,#0012ff 243px,#0040ff 245px,#0074ff 247px,#0078ff 303px,#01d8fa 328px,#04e0f6 358px,#16f8e1 367px,#3bffbc 379px,#55ffa2 391px,#c7ff30 469px,#c4ff33 524px,#a9ff4e 551px,#c7ff30 580px,#c4ff33 597px,#19fade 615px,#06e6f5 618px,#01d8fa 632px,#0074ff 660px,#0074ff 689px,#00a8ff 697px,#00a8ff 700px,#008aff 701px,#0016ff 703px,#0000ea 704px,#000080 708px,#000080 713px)"></i><i style="background:linear-gradient(#000080 0px,#000084 95px,#00008f 120px,#000096 125px,#0000bb 132px,#0000ef 137px,#0000f1 151px,#0000ff 154px,#0024ff 159px,#0016ff 166px,#0016ff 243px,#0026ff 244px,#0078ff 247px,#007cff 303px,#00e0fb 330px,#01e4f8 358px,#17ffdf 366px,#56ffa0 389px,#caff2c 469px,#c6ff31 525px,#afff48 551px,#caff2c 581px,#c7ff30 597px,#16fee1 616px,#06ecf1 619px,#00dcfd 632px,#0078ff 660px,#007aff 689px,#00acff 697px,#00acff 700px,#008eff 701px,#001aff 703px,#0000ef 704px,#000080 708px,#000080 713px)"></i><i style="background:linear-gradient(#000080 0px,#000084 93px,#000094 116px,#000096 124px,#0000bd 132px,#0000ef 137px,#0000f3 151px,#0000ff 153px,#0008ff 155px,#0028ff 159px,#0014ff 167px,#0014ff 243px,#0028ff 244px,#007aff 247px,#007eff 303px,#01e0fa 330px,#01e2f9 357px,#1cffdb 367px,#55ffa2 388px,#caff2c 469px,#c6ff31 528px,#b2ff45 551px,#caff2c 581px,#caff2c 597px,#11fae6 617px,#07eef0 622px,#00d6ff 634px,#007aff 659px,#007cff 689px,#00aeff 698px,#00aeff 700px,#0090ff 701px,#001aff 703px,#0000ef 704px,#000080 708px,#000080 713px)"></i><i style="background:linear-gradient(#000080 0px,#000084 92px,#000096 114px,#00009b 125px,#0000b4 132px,#0000e4 137px,#0000e8 151px,#0000ff 154px,#0012ff 158px,#001aff 159px,#0006ff 165px,#0006ff 243px,#0030ff 245px,#0062ff 247px,#0066ff 303px,#00c6ff 330px,#00caff 357px,#0af2ec 368px,#28ffcf 378px,#41ffb5 388px,#b5ff41 468px,#b1ff46 529px,#a4ff53 552px,#b5ff41 581px,#b5ff41 597px,#13fae4 615px,#03e4f8 617px,#00baff 635px,#0062ff 659px,#0062ff 689px,#0096ff 698px,#0096ff 700px,#0076ff 701px,#000aff 703px,#0000e4 704px,#000080 708px,#000080 713px)"></i><i style="background:linear-gradient(#000080 0px,#000084 90px,#000098 112px,#00009d 125px,#0000b4 132px,#0000e4 137px,#0000e6 151px,#0000fd 154px,#0016ff 158px,#001eff 159px,#0006ff 166px,#0006ff 243px,#0014ff 244px,#0060ff 247px,#0064ff 303px,#00c6ff 330px,#00caff 358px,#0cf4eb 369px,#30ffc7 381px,#83ff73 433px,#b5ff41 470px,#b1ff46 528px,#a5ff51 551px,#b5ff41 587px,#b4ff43 597px,#1efed9 614px,#06e6f5 617px,#00b4ff 636px,#0060ff 659px,#0060ff 689px,#0092ff 697px,#0092ff 700px,#0074ff 701px,#0008ff 703px,#0000c8 705px,#000080 708px,#000080 713px)"></i><i style="background:linear-gradient(#000080 0px,#000084 89px,#00009f 113px,#0000a4 126px,#0000b6 132px,#0000e6 137px,#0000e8 151px,#0000fc 153px,#000aff 156px,#0026ff 159px,#0008ff 165px,#0008ff 243px,#0032ff 245px,#0064ff 247px,#0066ff 302px,#00caff 330px,#00ccff 357px,#01e6f6 364px,#19ffde 372px,#41ffb5 387px,#b9ff3e 469px,#b4ff43 532px,#acff4b 554px,#b9ff3e 586px,#b9ff3e 597px,#11fae6 616px,#02e8f4 619px,#00ccff 631px,#0064ff 659px,#0066ff 689px,#0096ff 697px,#0098ff 700px,#007aff 701px,#000eff 703px,#0000e3 704px,#000080 708px,#000080 713px)"></i><i style="background:linear-gradient(#000080 0px,#000084 88px,#0000a4 113px,#0000ab 128px,#0000b6 132px,#0000e6 137px,#0000ea 151px,#0000ff 153px,#0004ff 155px,#002aff 159px,#000aff 164px,#000aff 243px,#0034ff 245px,#0064ff 247px,#0068ff 303px,#00ccff 330px,#00d0ff 358px,#0cf4eb 368px,#23ffd4 375px,#46ffb1 389px,#baff3c 469px,#b5ff41 532px,#b2ff45 558px,#baff3c 596px,#a0ff56 600px,#16fee1 616px,#04eaf3 620px,#00d0ff 630px,#0064ff 660px,#0066ff 689px,#0098ff 697px,#0098ff 700px,#007cff 701px,#000eff 703px,#0000e6 704px,#000080 708px,#000080 713px)"></i><i style="background:linear-gradient(#000080 0px,#000084 88px,#0000a4 112px,#0000ab 129px,#0000b2 132px,#0000df 137px,#0000e1 151px,#0000ff 154px,#0004ff 156px,#001eff 159px,#0000ff 165px,#0000ff 243px,#000cff 244px,#0052ff 247px,#0056ff 303px,#00baff 330px,#00beff 358px,#00e2f9 368px,#17ffdf 376px,#36ffc1 389px,#acff4b 469px,#a7ff50 535px,#aaff4d 574px,#a9ff4e 597px,#13fce4 615px,#00e0fb 618px,#00a6ff 636px,#0052ff 660px,#0052ff 689px,#0086ff 697px,#0086ff 700px,#0068ff 701px,#0002ff 703px,#0000c4 705px,#000080 708px,#000080 713px)"></i><i style="background:linear-gradient(#000080 0px,#000084 86px,#0000ab 112px,#0000af 131px,#0000e4 137px,#0000e6 151px,#0000fa 153px,#000eff 156px,#002cff 159px,#0008ff 165px,#0008ff 243px,#0016ff 244px,#0060ff 247px,#0064ff 303px,#00c6ff 330px,#00c8ff 357px,#0ff4e7 370px,#2cffca 380px,#49ffad 394px,#b5ff41 469px,#b4ff43 540px,#b4ff43 597px,#19fade 616px,#0bf0ee 618px,#00bcff 634px,#0060ff 659px,#0060ff 689px,#0094ff 698px,#0094ff 700px,#0074ff 701px,#000aff 703px,#0000e1 704px,#000080 708px,#000080 713px)"></i><i style="background:linear-gradient(#000080 0px,#000084 84px,#0000b6 112px,#0000b8 131px,#0000f6 137px,#0000f8 151px,#0006ff 153px,#0050ff 159px,#001cff 165px,#001cff 243px,#0030ff 244px,#0086ff 247px,#008eff 303px,#01dafa 324px,#09eef0 330px,#0bf2ec 358px,#2cffca 369px,#5eff98 387px,#d6ff21 469px,#d4ff23 545px,#d6ff21 597px,#2cffca 618px,#0bf2ec 630px,#00c2ff 644px,#008aff 660px,#008cff 689px,#00baff 697px,#00baff 700px,#009eff 701px,#0022ff 703px,#0000f3 704px,#000080 708px,#000080 713px)"></i><i style="background:linear-gradient(#000080 0px,#000084 83px,#0000b2 112px,#0000b4 131px,#0000ea 137px,#0000ea 151px,#0000ff 153px,#000cff 155px,#003aff 159px,#000cff 165px,#000cff 243px,#001cff 244px,#006aff 247px,#0072ff 303px,#00d0ff 330px,#00d2ff 357px,#09f0ee 365px,#21ffd6 373px,#49ffad 389px,#bfff38 470px,#beff39 546px,#beff39 597px,#17fedf 618px,#00dcfd 628px,#006eff 660px,#0070ff 689px,#009eff 697px,#009eff 700px,#0080ff 701px,#0010ff 703px,#0000e6 704px,#000080 708px,#000080 713px)"></i><i style="background:linear-gradient(#000080 0px,#000084 80px,#0000b8 113px,#0000bd 132px,#0000f1 137px,#0000f6 151px,#0002ff 153px,#004aff 159px,#0018ff 165px,#0018ff 243px,#002aff 244px,#007cff 247px,#0086ff 301px,#01e0fa 328px,#04e8f4 358px,#1cffdb 366px,#56ffa0 387px,#ceff29 469px,#d2ff24 529px,#ceff29 597px,#26ffd1 618px,#0cf4eb 627px,#00d0ff 637px,#0086ff 659px,#0086ff 689px,#00b0ff 697px,#00b0ff 700px,#0094ff 701px,#001cff 703px,#0000ef 704px,#000080 708px,#000080 713px)"></i><i style="background:linear-gradient(#000080 0px,#000084 69px,#00008f 85px,#0000bb 113px,#0000bf 132px,#0000f6 137px,#0000f8 151px,#0008ff 153px,#0052ff 159px,#001eff 165px,#001eff 243px,#0030ff 244px,#0088ff 247px,#0092ff 291px,#0096ff 303px,#01d6fa 322px,#0beef0 330px,#0cf2eb 358px,#30ffc7 370px,#60ff97 388px,#d7ff1f 470px,#dfff17 522px,#d6ff21 573px,#d4ff23 597px,#30ffc7 618px,#0ef2e9 629px,#00c2ff 646px,#0092ff 660px,#0096ff 689px,#00baff 698px,#00baff 700px,#009eff 701px,#0022ff 703px,#0000f3 704px,#000080 708px,#000080 713px)"></i><i style="background:linear-gradient(#000080 0px,#000084 67px,#00009f 94px,#0000b6 111px,#0000b6 131px,#0000f1 137px,#0000f6 151px,#0002ff 153px,#004aff 159px,#0018ff 165px,#0018ff 243px,#002aff 244px,#007eff 247px,#0090ff 285px,#0092ff 303px,#00e2f9 328px,#04eaf3 358px,#1bffdc 365px,#58ff9f 387px,#cfff28 469px,#dcff1b 506px,#d2ff24 543px,#ceff29 597px,#28ffcf 618px,#0ef6e9 627px,#00defc 634px,#00b0ff 650px,#0090ff 660px,#0090ff 689px,#00b2ff 698px,#00b2ff 700px,#0096ff 701px,#001eff 703px,#0000f1 704px,#000080 708px,#000080 713px)"></i><i style="background:linear-gradient(#000080 0px,#000084 63px,#0000a2 92px,#0000b8 111px,#0000b8 131px,#0000f6 137px,#0000fa 151px,#0006ff 153px,#0054ff 159px,#001eff 165px,#001eff 243px,#0030ff 244px,#0088ff 247px,#009cff 280px,#00a0ff 303px,#03e2f8 325px,#08eef0 331px,#0cf4eb 358px,#2bffcc 368px,#5eff98 387px,#d9ff1e 471px,#e7fe0f 504px,#e1ff16 533px,#d6ff21 561px,#d6ff21 597px,#30ffc7 618px,#11f8e6 628px,#00d8fb 641px,#00c0ff 649px,#009cff 660px,#009eff 689px,#00bcff 698px,#00bcff 700px,#009eff 701px,#0022ff 703px,#0000f6 704px,#000080 708px,#000080 713px)"></i><i style="background:linear-gradient(#000080 0px,#000084 63px,#0000b6 112px,#0000b6 131px,#0000ef 137px,#0000f3 151px,#0004ff 153px,#0048ff 159px,#0016ff 165px,#0016ff 243px,#002aff 244px,#007cff 247px,#0096ff 279px,#009aff 303px,#01dafa 326px,#06e4f5 334px,#08e8f3 358px,#26ffd1 370px,#56ffa0 388px,#d1ff26 472px,#e1ff16 502px,#dbff1c 530px,#ceff29 557px,#ccff2b 597px,#26ffd1 618px,#08e8f3 630px,#00beff 648px,#0096ff 659px,#009aff 690px,#00b0ff 699px,#00b0ff 700px,#0092ff 701px,#001aff 703px,#0000ef 704px,#000080 708px,#000080 713px)"></i><i style="background:linear-gradient(#000080 0px,#000084 61px,#0000ab 95px,#0000b8 117px,#0000bd 132px,#0000f3 137px,#0000f8 151px,#0004ff 153px,#004cff 159px,#0018ff 165px,#0018ff 243px,#002cff 244px,#0082ff 247px,#008cff 261px,#009eff 279px,#00a2ff 303px,#03def8 326px,#06e6f5 334px,#08eaf3 357px,#28ffcf 369px,#5bff9c 388px,#d6ff21 472px,#e7fc0f 501px,#e1ff16 529px,#cfff28 555px,#cfff28 597px,#2bffcc 618px,#09eef0 629px,#00c6ff 648px,#009eff 660px,#00a2ff 690px,#00b2ff 698px,#00b2ff 700px,#0096ff 701px,#001eff 703px,#0000f1 704px,#000080 708px,#000080 713px)"></i><i style="background:linear-gradient(#000080 0px,#000084 60px,#0000a8 85px,#0000bd 117px,#0000c1 132px,#0000fc 137px,#0000ff 152px,#005cff 159px,#0028ff 164px,#0024ff 243px,#0038ff 244px,#0092ff 247px,#009cff 259px,#00b4ff 276px,#00b8ff 303px,#01e4f8 321px,#11fae6 332px,#14fce3 358px,#6aff8d 388px,#e7ff0f 475px,#fbf100 499px,#f8f501 525px,#e3ff14 545px,#deff19 597px,#38ffbf 618px,#0ff8e7 633px,#01e4f8 646px,#00bcff 657px,#00b4ff 662px,#00b8ff 691px,#00c6ff 700px,#00a8ff 701px,#002aff 703px,#0000f8 704px,#000080 708px,#000080 713px)"></i><i style="background:linear-gradient(#000080 0px,#000084 59px,#0000b4 87px,#0000bf 119px,#0000bf 131px,#0000ff 137px,#0000ff 151px,#0032ff 155px,#006cff 159px,#0034ff 164px,#0030ff 243px,#0044ff 244px,#00a6ff 247px,#00aeff 257px,#00ceff 277px,#00d2ff 304px,#07eef0 316px,#1cffdb 327px,#24ffd2 358px,#78ff7f 387px,#f3fa04 470px,#ffe000 489px,#ffe000 526px,#f4f802 544px,#eeff09 597px,#48ffaf 618px,#1effd9 634px,#11fae6 647px,#00defc 654px,#00ceff 659px,#00d2ff 693px,#00daff 700px,#00bcff 701px,#0036ff 703px,#0000ff 704px,#000080 708px,#000080 713px)"></i><i style="background:linear-gradient(#000080 0px,#000084 59px,#0000ad 84px,#0000b8 126px,#0000bd 132px,#0000f1 137px,#0000f6 151px,#0002ff 153px,#0048ff 159px,#0016ff 165px,#0016ff 243px,#002aff 244px,#007eff 247px,#0086ff 257px,#00a8ff 276px,#00acff 304px,#03e2f8 330px,#04e6f6 357px,#21ffd6 368px,#58ff9f 388px,#e1ff16 482px,#f0fa08 499px,#ebfe0c 525px,#ccff2b 553px,#ccff2b 597px,#26ffd1 618px,#0af2ec 627px,#03e2f8 633px,#00d4ff 647px,#00a8ff 659px,#00acff 694px,#00b0ff 700px,#0092ff 701px,#001aff 703px,#0000f1 704px,#000080 708px,#000080 713px)"></i><i style="background:linear-gradient(#000080 0px,#000084 58px,#0000b6 84px,#0000bd 131px,#0000fa 137px,#0002ff 152px,#005cff 159px,#002aff 164px,#0026ff 243px,#003aff 244px,#0094ff 247px,#009eff 257px,#00c4ff 277px,#00c8ff 305px,#0af2ec 325px,#13fae4 338px,#16fce1 358px,#6aff8d 387px,#f1fa06 479px,#ffe200 498px,#ffe600 523px,#ebfe0c 542px,#e1ff16 556px,#dfff17 597px,#39ffbe 618px,#11f8e6 633px,#0af2ec 646px,#00c8ff 657px,#00c8ff 700px,#00aaff 701px,#002aff 703px,#0000fa 704px,#000080 708px,#000080 713px)"></i><i style="background:linear-gradient(#000080 0px,#000084 56px,#0000b6 84px,#0000bd 131px,#0000f6 137px,#0000f8 151px,#0006ff 153px,#0052ff 159px,#0022ff 164px,#001eff 243px,#0030ff 244px,#0086ff 247px,#0090ff 257px,#00b6ff 276px,#00baff 304px,#08e8f3 327px,#0bf0ee 358px,#2cffca 369px,#60ff97 388px,#ebfa0c 480px,#f8ed03 502px,#f3f208 527px,#d7ff1f 551px,#d4ff23 597px,#2effc9 618px,#0cf2eb 629px,#09ecf1 637px,#06e2f5 647px,#00b6ff 660px,#00b8ff 700px,#009cff 701px,#0022ff 703px,#0000f3 704px,#000080 708px,#000080 713px)"></i><i style="background:linear-gradient(#000080 0px,#000084 54px,#0000c1 83px,#0000ca 131px,#0000fd 136px,#0002ff 151px,#0078ff 159px,#003eff 164px,#003aff 243px,#004eff 244px,#00b8ff 247px,#00bcff 255px,#04e6f6 273px,#08eef0 305px,#23ffd4 322px,#2cffca 334px,#31ffc6 358px,#83ff73 386px,#f0fa08 457px,#ffdd00 475px,#ffbb00 497px,#ffc100 524px,#fbeb00 552px,#faf101 597px,#e3ff14 600px,#55ffa2 618px,#2cffca 633px,#29ffce 646px,#0af2ec 656px,#06eaf3 664px,#06eaf3 700px,#00ccff 701px,#003eff 703px,#0000ff 704px,#0000c6 706px,#000080 708px,#000080 713px)"></i><i style="background:linear-gradient(#000080 0px,#000084 45px,#00008d 57px,#0000bf 84px,#0000c1 126px,#0000d1 132px,#0000fa 137px,#0000fd 151px,#002eff 155px,#0066ff 159px,#0030ff 164px,#002cff 243px,#0042ff 244px,#00a0ff 247px,#00a8ff 256px,#04d4f6 277px,#06d8f5 304px,#1bf6dc 332px,#1ff8d7 358px,#43ffb4 370px,#73ff83 388px,#e1fa16 458px,#fbdb00 487px,#ffcc00 497px,#ffd000 523px,#f2eb09 542px,#e9f611 592px,#e9f611 597px,#c9ff2e 601px,#43ffb4 618px,#1ff8d7 630px,#17f4df 646px,#04d4f6 661px,#04d4f6 700px,#00b6ff 701px,#0032ff 703px,#0000f8 704px,#00009f 707px,#000080 708px,#000080 713px)"></i><i style="background:linear-gradient(#000080 0px,#000084 42px,#000092 58px,#0000b6 85px,#0000b8 125px,#0000c8 132px,#0000ef 137px,#0000f3 151px,#0000ff 152px,#0000ff 153px,#0046ff 159px,#0014ff 165px,#0014ff 243px,#0026ff 244px,#007aff 247px,#0082ff 256px,#00acff 276px,#00b0ff 304px,#01e0fa 331px,#03e4f8 358px,#1bffdc 367px,#55ffa2 388px,#b4ff43 449px,#f1fa06 486px,#fbed00 497px,#faf101 524px,#dfff17 542px,#d1ff26 558px,#c9ff2e 597px,#23ffd4 618px,#0cf4eb 626px,#01e0fa 632px,#00dcfb 646px,#00acff 660px,#00acff 700px,#0090ff 701px,#0018ff 703px,#0000ef 704px,#000080 708px,#000080 713px)"></i><i style="background:linear-gradient(#000080 0px,#000084 39px,#00009f 66px,#0000b6 84px,#0000bb 125px,#0000cd 132px,#0000ef 137px,#0000f3 151px,#0000ff 152px,#000aff 154px,#0048ff 159px,#0016ff 165px,#0016ff 243px,#0026ff 244px,#007aff 247px,#0082ff 255px,#00aeff 276px,#00b2ff 304px,#00e2f9 332px,#01e6f6 358px,#19ffde 366px,#55ffa2 387px,#b5ff41 449px,#eeff09 480px,#ffe800 496px,#ffeb00 524px,#e9ff0e 538px,#d6ff21 557px,#ccff2b 590px,#caff2c 597px,#24ffd2 618px,#0ff8e7 625px,#00e2f9 632px,#00defc 646px,#00aeff 660px,#00aeff 700px,#0090ff 701px,#001aff 703px,#0000ef 704px,#000080 708px,#000080 713px)"></i><i style="background:linear-gradient(#000080 0px,#000084 38px,#0000af 85px,#0000b4 125px,#0000d6 135px,#0000e4 138px,#0000e6 151px,#0000fa 153px,#0006ff 155px,#0030ff 159px,#0006ff 165px,#0006ff 243px,#0014ff 244px,#005cff 247px,#0064ff 256px,#0090ff 276px,#0094ff 304px,#00c4ff 331px,#00c8ff 358px,#0ff6e7 371px,#2effc9 381px,#7aff7d 428px,#a4ff53 451px,#dcff1b 482px,#eefa09 498px,#e9fe0e 525px,#c1ff36 555px,#b4ff43 586px,#b2ff45 597px,#19fcde 616px,#08ecf1 620px,#00c4ff 632px,#00c0ff 646px,#0090ff 660px,#0090ff 700px,#0074ff 701px,#0008ff 703px,#0000c8 705px,#000080 708px,#000080 713px)"></i><i style="background:linear-gradient(#000080 0px,#000084 36px,#0000af 85px,#0000b4 125px,#0000e1 138px,#0000e4 151px,#0000ff 154px,#0018ff 157px,#002cff 159px,#0004ff 165px,#0004ff 243px,#0012ff 244px,#005aff 247px,#0060ff 255px,#008eff 276px,#0092ff 305px,#00c2ff 332px,#00c6ff 358px,#08eef0 369px,#23ffd4 378px,#3effb9 390px,#8fff68 442px,#cfff28 473px,#f0fa08 497px,#ebfe0c 524px,#bfff38 557px,#b2ff45 583px,#afff48 597px,#17fcdf 616px,#06eaf3 620px,#00c6ff 630px,#00bcff 646px,#008eff 659px,#008eff 700px,#006eff 701px,#0006ff 703px,#0000c8 705px,#000080 708px,#000080 713px)"></i><i style="background:linear-gradient(#000080 0px,#000084 33px,#0000a8 71px,#0000b2 91px,#0000b4 124px,#0000e6 138px,#0000e8 151px,#0012ff 155px,#0036ff 159px,#0012ff 164px,#0010ff 243px,#001aff 244px,#0064ff 247px,#006eff 257px,#0096ff 276px,#009aff 304px,#06caf5 331px,#08cef3 358px,#24f4d2 376px,#40ffb7 386px,#98ff5e 443px,#d6fa21 469px,#ebe410 499px,#e6e915 528px,#c9ff2e 559px,#b9ff3e 583px,#b9ff3e 597px,#30fcc7 614px,#19eae1 618px,#06caf5 633px,#04c6f6 646px,#0096ff 659px,#0096ff 700px,#007aff 701px,#0012ff 703px,#0000e4 704px,#000080 708px,#000080 713px)"></i><i style="background:linear-gradient(#000080 0px,#000084 33px,#0000a6 59px,#0000b6 92px,#0000b8 124px,#0000ef 137px,#0000f3 151px,#0000ff 153px,#0044ff 159px,#0014ff 165px,#0014ff 243px,#0024ff 244px,#0076ff 247px,#007eff 256px,#00aaff 276px,#00aeff 305px,#00defb 331px,#01e2f9 358px,#14fce3 366px,#51ffa5 387px,#a9ff4e 443px,#ebfe0c 471px,#ffe400 489px,#ffdd00 501px,#ffe200 525px,#ecfe0a 543px,#c9ff2e 579px,#c6ff31 597px,#21ffd6 618px,#04eaf3 628px,#00defb 633px,#00dafd 646px,#00aaff 659px,#00aaff 700px,#008cff 701px,#0018ff 703px,#0000ed 704px,#000080 708px,#000080 713px)"></i><i style="background:linear-gradient(#000080 0px,#000084 33px,#0000a6 59px,#0000af 103px,#0000b4 124px,#0000dd 134px,#0000e6 151px,#0000ff 154px,#002eff 159px,#0008ff 164px,#0006ff 243px,#0012ff 244px,#005aff 247px,#0062ff 255px,#008eff 276px,#0092ff 304px,#00c2ff 331px,#00c6ff 358px,#0ef4e9 371px,#2effc9 381px,#95ff62 444px,#d9ff1e 471px,#f6f104 494px,#f1f609 528px,#d2ff24 548px,#b2ff45 579px,#b2ff45 597px,#17fadf 616px,#08eaf3 620px,#00c2ff 632px,#00beff 646px,#008eff 660px,#008eff 700px,#0072ff 701px,#0008ff 703px,#0000c8 705px,#000080 708px,#000080 713px)"></i><i style="background:linear-gradient(#000080 0px,#000084 32px,#0000ab 57px,#0000b2 117px,#0000b6 124px,#0000e1 132px,#0000e8 146px,#0000ed 151px,#0000ff 153px,#000cff 155px,#003aff 159px,#000cff 165px,#000cff 243px,#001cff 244px,#006aff 247px,#0072ff 256px,#009eff 277px,#00a2ff 305px,#00d0ff 331px,#00d2ff 357px,#06ecf1 364px,#1bffdc 371px,#49ffad 389px,#9fff58 443px,#e6ff11 470px,#f6f601 481px,#ffe000 496px,#ffe600 525px,#eefe09 540px,#beff39 580px,#bcff3b 597px,#17ffdf 618px,#00e0fb 627px,#00d0ff 633px,#00ccff 646px,#009eff 659px,#009eff 700px,#0080ff 701px,#0010ff 703px,#0000e8 704px,#000080 708px,#000080 713px)"></i><i style="background:linear-gradient(#000080 0px,#000084 32px,#0000a8 57px,#0000b4 124px,#0000dd 133px,#0000e3 151px,#0000fc 153px,#0002ff 155px,#002cff 159px,#0002ff 165px,#0002ff 243px,#0028ff 245px,#0058ff 247px,#005cff 255px,#008aff 276px,#0090ff 305px,#00bcff 330px,#00c4ff 358px,#01e4f8 367px,#17fedf 375px,#36ffc1 387px,#90ff66 443px,#dbff1c 471px,#f4f803 488px,#fded00 498px,#fbf100 524px,#e9ff0e 536px,#b1ff46 578px,#adff49 597px,#11fae6 617px,#00dcfd 624px,#00c2ff 632px,#00bcff 646px,#008cff 660px,#008aff 700px,#006cff 701px,#0004ff 703px,#0000c6 705px,#000080 708px,#000080 713px)"></i><i style="background:linear-gradient(#000080 0px,#000084 32px,#0000a4 59px,#0000ad 123px,#0000d1 132px,#0000d8 151px,#0006f1 155px,#001aff 159px,#0006f1 166px,#0006f1 243px,#002aff 246px,#003aff 247px,#003eff 254px,#006eff 276px,#0076ff 305px,#00a2ff 332px,#00a6ff 357px,#09d2f2 369px,#24f4d2 390px,#45ffb2 411px,#7bff7b 444px,#c2ff34 470px,#e3f118 492px,#e0f21b 527px,#c1ff36 551px,#98ff5e 581px,#95ff62 597px,#2cfaca 611px,#13e2e8 616px,#00b0ff 630px,#00a4ff 646px,#0074ff 660px,#006eff 700px,#0052ff 701px,#0022ff 702px,#0006f4 703px,#0000d4 704px,#000080 708px,#000080 713px)"></i><i style="background:linear-gradient(#000080 0px,#000084 32px,#0000a2 57px,#0000ab 116px,#0000b4 125px,#0000d4 132px,#0000d6 151px,#0000ef 154px,#0016ff 159px,#0002f4 166px,#0002f4 243px,#0026ff 246px,#0036ff 247px,#0040ff 257px,#006aff 277px,#0074ff 305px,#009eff 333px,#00a6ff 358px,#08d4f3 371px,#1ef4d9 388px,#40ffb7 411px,#75ff82 443px,#c4ff33 473px,#e1f619 489px,#e6f115 522px,#c6ff31 549px,#97ff60 580px,#92ff65 597px,#2cfcca 611px,#16eae5 615px,#00b8ff 628px,#00acff 634px,#00a4ff 646px,#0074ff 660px,#006aff 692px,#006aff 700px,#004cff 701px,#001eff 702px,#0004f4 703px,#0000bd 705px,#000080 708px,#000080 713px)"></i><i style="background:linear-gradient(#000080 0px,#000084 33px,#0000a4 56px,#0000ab 103px,#0000bb 124px,#0000df 132px,#0000e4 151px,#0000ff 154px,#0006ff 156px,#0022ff 159px,#0002ff 165px,#0002ff 243px,#0024ff 245px,#004eff 247px,#0054ff 256px,#0080ff 277px,#008eff 305px,#00b4ff 333px,#00c0ff 358px,#04e8f4 370px,#19fede 378px,#3cffba 396px,#8aff6d 444px,#d9ff1e 475px,#f6f603 489px,#fdea00 497px,#fbed00 524px,#e3ff14 545px,#adff49 579px,#a5ff51 597px,#17fcdf 618px,#01dcfa 628px,#00ceff 634px,#00c2ff 646px,#0090ff 661px,#0080ff 685px,#0080ff 700px,#0064ff 701px,#0002ff 703px,#0000c6 705px,#000080 708px,#000080 713px)"></i><i style="background:linear-gradient(#000080 0px,#000084 32px,#0000a6 56px,#0000ab 90px,#0000bf 116px,#0000ca 124px,#0000f1 132px,#0000f6 151px,#0012ff 155px,#003cff 159px,#0018ff 165px,#0018ff 243px,#0026ff 244px,#0070ff 247px,#0078ff 256px,#00a4ff 276px,#00b8ff 307px,#03d8f8 334px,#09e8f2 358px,#2cffca 374px,#4dffaa 388px,#a0ff56 442px,#e9fa0e 470px,#fdde00 485px,#ffc600 495px,#ffcc00 526px,#f5ed06 552px,#dcff1b 569px,#caff2c 582px,#c1ff36 597px,#3bffbc 619px,#1cf8db 629px,#09e6f2 648px,#00baff 661px,#00a4ff 683px,#00a4ff 700px,#0088ff 701px,#0018ff 703px,#0000f1 704px,#000080 708px,#000080 713px)"></i><i style="background:linear-gradient(#000080 0px,#000084 33px,#0000a4 58px,#0000a8 92px,#0000c6 120px,#0000d8 126px,#0000f1 133px,#0000f3 151px,#000aff 154px,#0038ff 159px,#0018ff 165px,#0018ff 243px,#0026ff 244px,#006cff 247px,#0072ff 256px,#00a0ff 277px,#00baff 311px,#04d6f6 337px,#10eceb 361px,#31ffc6 377px,#58ff9f 398px,#a4ff53 445px,#e1fa16 470px,#fae001 485px,#ffc600 496px,#ffcc00 526px,#f3ed08 554px,#d2ff24 574px,#b9ff3e 598px,#41ffb5 619px,#19f6de 634px,#09e4f2 650px,#00beff 661px,#009eff 681px,#009eff 700px,#0082ff 701px,#0018ff 703px,#0000ef 704px,#000080 708px,#000080 713px)"></i><i style="background:linear-gradient(#000080 0px,#000084 33px,#00009f 58px,#0000a4 87px,#0000c8 116px,#0000df 125px,#0000f8 132px,#0000fa 151px,#000eff 154px,#0040ff 159px,#0022ff 166px,#0022ff 243px,#004aff 245px,#0078ff 247px,#007cff 254px,#00aeff 276px,#03dcf8 325px,#0ff4e7 357px,#30ffc7 371px,#5eff98 394px,#acff4b 444px,#e9fa0e 469px,#ffdd00 482px,#ffb600 494px,#ffb900 528px,#ffd700 552px,#eef80b 568px,#d4ff23 585px,#c9ff2e 597px,#58ff9f 619px,#2effc9 635px,#17fadf 648px,#00d4fb 661px,#00aeff 681px,#00aeff 700px,#0092ff 701px,#0022ff 703px,#0000f8 704px,#000080 708px,#000080 713px)"></i><i style="background:linear-gradient(#000080 0px,#000084 35px,#000098 59px,#00009d 86px,#0000c1 114px,#0000ef 130px,#0000f8 151px,#0006ff 154px,#0032ff 159px,#001aff 166px,#001aff 243px,#003eff 245px,#0066ff 247px,#006aff 254px,#00a0ff 279px,#00e0fb 349px,#09f0ee 360px,#19ffde 366px,#53ffa4 397px,#a5ff51 448px,#e3ff14 473px,#f6f601 479px,#ffde00 486px,#ffc100 495px,#ffc600 527px,#ffdd00 551px,#f3fa04 562px,#ceff29 579px,#b7ff40 598px,#55ffa2 619px,#28ffcf 635px,#0ff8e7 648px,#00d2ff 658px,#009aff 681px,#009aff 700px,#0080ff 701px,#0016ff 703px,#0000f3 704px,#000080 708px,#000080 713px)"></i><i style="background:linear-gradient(#000080 0px,#000084 39px,#000092 61px,#000096 87px,#0000b8 113px,#0000e6 133px,#0000ea 151px,#0000ff 154px,#000aff 157px,#001aff 159px,#0008ff 167px,#0008ff 243px,#0048ff 247px,#0050ff 256px,#0080ff 280px,#00a2ff 315px,#00ccff 357px,#06ecf1 369px,#19ffde 379px,#5aff9d 419px,#8aff6d 448px,#b9ff3e 469px,#f1fc06 486px,#ffdd00 494px,#ffe200 530px,#f8f503 551px,#dcff1b 562px,#b2ff45 582px,#9cff5b 598px,#39ffbe 622px,#0ff8e7 639px,#00d8fd 650px,#007aff 679px,#0078ff 700px,#0060ff 701px,#0006ff 703px,#000098 707px,#000080 708px,#000080 713px)"></i><i style="background:linear-gradient(#000080 0px,#000084 42px,#00008d 70px,#00008f 86px,#0000b8 113px,#0000e1 132px,#0000e4 151px,#0006fa 156px,#0010ff 160px,#000aff 189px,#000aff 243px,#001eff 245px,#003aff 247px,#003eff 254px,#0072ff 280px,#0092ff 310px,#00a2ff 334px,#03cef8 362px,#13ece8 378px,#38ffbf 404px,#75ff82 444px,#aaff4d 469px,#dffa18 484px,#f5e406 496px,#eded0e 550px,#ceff29 565px,#a9ff4e 582px,#8fff68 598px,#26fad1 628px,#0ee4ed 643px,#00c0fd 655px,#006aff 680px,#006aff 700px,#0052ff 701px,#0008fd 703px,#0000c8 705px,#000080 708px,#000080 713px)"></i><i style="background:linear-gradient(#000080 0px,#000084 43px,#00008b 80px,#0000b2 105px,#0000d6 118px,#0000ef 127px,#0000f8 151px,#0008ff 155px,#0028ff 159px,#001cff 168px,#001cff 243px,#003aff 245px,#005cff 247px,#0064ff 256px,#0098ff 279px,#00bcff 308px,#00caff 334px,#0cf2eb 361px,#2cffca 378px,#b2ff45 461px,#c9ff2e 470px,#ecf80c 479px,#ffd900 488px,#ffbf00 495px,#ffc800 548px,#f5f206 563px,#d4ff23 576px,#aaff4d 600px,#3effb9 634px,#17fadf 650px,#03dcf8 660px,#0098ff 677px,#0090ff 685px,#0090ff 700px,#0078ff 701px,#0016ff 703px,#0000f3 704px,#000080 708px,#000080 713px)"></i><i style="background:linear-gradient(#000080 0px,#000089 84px,#0000bd 112px,#0000e8 125px,#0000ef 151px,#0000ff 154px,#0018ff 159px,#0010ff 172px,#0010ff 243px,#0048ff 247px,#0050ff 256px,#0086ff 282px,#00a6ff 304px,#00b2ff 333px,#03e0f8 360px,#1bfcdc 377px,#a9ff4e 467px,#ebfa0c 483px,#fde400 490px,#ffd100 495px,#ffd700 549px,#f0f809 561px,#ccff2b 574px,#94ff63 602px,#17fadf 646px,#04e4f6 654px,#00aeff 667px,#007aff 680px,#007aff 700px,#0062ff 701px,#0008ff 703px,#0000d1 705px,#000080 708px,#000080 713px)"></i><i style="background:linear-gradient(#000080 0px,#000086 87px,#0000a6 111px,#0000c6 125px,#0000ca 151px,#0000e6 157px,#0002ea 244px,#0014f6 247px,#0030ff 279px,#0058ff 305px,#005eff 331px,#00acff 374px,#0cd6ee 396px,#23f2d4 427px,#46ffb1 449px,#6aff8d 468px,#d1fc26 493px,#d7f821 510px,#cefe29 550px,#80ff77 581px,#4bffac 607px,#29f8ce 620px,#15e2e6 631px,#06caf5 641px,#0092ff 656px,#002aff 679px,#002aff 700px,#0020ff 701px,#0000e6 703px,#0000c6 704px,#000080 708px,#000080 713px)"></i><i style="background:linear-gradient(#000080 0px,#000084 84px,#0000b2 111px,#0000da 125px,#0000dd 151px,#0000ff 157px,#0002ff 244px,#0026ff 247px,#002aff 254px,#0078ff 295px,#0082ff 309px,#008aff 333px,#00e0fb 379px,#17ffdf 397px,#88ff6e 468px,#f3fa04 493px,#f8f501 502px,#f6f601 538px,#ebff0c 552px,#a4ff53 582px,#72ff85 608px,#41ffb5 626px,#11fae6 642px,#00d8ff 651px,#009cff 665px,#0052ff 680px,#0052ff 700px,#003eff 701px,#0000ff 703px,#0000da 704px,#000080 708px,#000080 713px)"></i><i style="background:linear-gradient(#000080 0px,#000084 84px,#0000a4 111px,#0000c6 126px,#0000ca 152px,#0000e8 160px,#0000ea 244px,#000cf6 249px,#002eff 281px,#0050ff 305px,#0054ff 332px,#01c4fa 392px,#10e2eb 411px,#26f8d1 435px,#4dffaa 460px,#60ff97 469px,#ccff2b 494px,#ccff2b 536px,#bfff38 552px,#75ff82 588px,#31fec6 621px,#13e2e8 635px,#00befb 646px,#007eff 662px,#0020ff 679px,#0020ff 700px,#0006f1 702px,#0000e4 703px,#0000c4 704px,#000080 708px,#000080 713px)"></i><i style="background:linear-gradient(#000080 0px,#000084 75px,#000098 93px,#0000bb 112px,#0000e8 124px,#0000e8 151px,#0000ff 156px,#000aff 161px,#000aff 243px,#0038ff 247px,#003eff 255px,#0078ff 278px,#009aff 306px,#009eff 332px,#00e2f9 368px,#1bffdc 387px,#94ff63 467px,#f0fe07 489px,#ffe400 494px,#ffde00 526px,#f9f300 551px,#e6ff11 561px,#95ff62 608px,#6eff88 624px,#13fce4 652px,#00daff 660px,#0066ff 680px,#0066ff 700px,#0052ff 701px,#0000ff 703px,#000080 708px,#000080 713px)"></i><i style="background:linear-gradient(#000080 0px,#000084 68px,#000098 89px,#0000bd 111px,#0000f1 124px,#0000f1 151px,#0000ff 154px,#0016ff 160px,#0016ff 243px,#0048ff 247px,#0050ff 255px,#008cff 276px,#00aeff 304px,#00b2ff 331px,#00e2f9 357px,#19ffde 375px,#a9ff4e 468px,#f3fa04 486px,#ffe400 491px,#ffd500 495px,#ffca00 524px,#f9f300 560px,#e7ff0f 573px,#b5ff41 606px,#7fff78 628px,#2cffca 651px,#14fee3 659px,#00defc 664px,#007cff 679px,#007cff 700px,#0066ff 701px,#000cff 703px,#0000ef 704px,#000080 708px,#000080 713px)"></i><i style="background:linear-gradient(#000080 0px,#000084 64px,#0000a6 96px,#0000bf 111px,#0000f3 124px,#0000f8 151px,#0002ff 155px,#001cff 159px,#001cff 243px,#0050ff 247px,#0054ff 253px,#009aff 275px,#00baff 307px,#00beff 332px,#01e4f8 352px,#1bffdc 370px,#adff49 467px,#f1fc06 484px,#ffe200 490px,#ffd000 495px,#ffc100 524px,#fded00 562px,#e9ff0e 585px,#c1ff36 610px,#97ff60 626px,#30ffc7 655px,#13fae4 662px,#00dafd 667px,#0086ff 680px,#0086ff 700px,#0070ff 701px,#0012ff 703px,#0000f3 704px,#000080 708px,#000080 713px)"></i><i style="background:linear-gradient(#000080 0px,#000084 63px,#0000bb 110px,#0000f3 124px,#0000f6 151px,#0000ff 155px,#001aff 159px,#001aff 243px,#0032ff 245px,#004eff 247px,#0052ff 254px,#009cff 276px,#00b4ff 307px,#00b8ff 331px,#00e2f9 354px,#19ffde 372px,#adff49 468px,#f3fa04 486px,#ffdd00 493px,#ffc300 522px,#fcef00 552px,#f1fc06 582px,#d2ff24 604px,#a9ff4e 622px,#7dff7a 635px,#43ffb4 650px,#1fffd7 660px,#09f0ee 664px,#00d4ff 668px,#0082ff 679px,#0082ff 700px,#006aff 701px,#0010ff 703px,#0000f1 704px,#000080 708px,#000080 713px)"></i><i style="background:linear-gradient(#000080 0px,#000084 61px,#0000b8 111px,#0000ea 124px,#0000ea 151px,#0008ff 157px,#000eff 169px,#000eff 243px,#0022ff 245px,#003cff 247px,#0042ff 254px,#0088ff 275px,#009eff 307px,#00a2ff 331px,#04d6f6 359px,#13f0e6 378px,#36ffc1 403px,#9cff5b 468px,#e3fa15 487px,#f3eb08 496px,#fdd900 523px,#eef20c 541px,#e6f813 554px,#e6f615 584px,#d2ff24 601px,#a2ff55 622px,#7aff7d 634px,#3effb9 648px,#1ff8d7 658px,#06d8f5 665px,#00acff 671px,#006aff 680px,#006aff 700px,#0058ff 701px,#000aff 703px,#0000e6 704px,#000080 708px,#000080 713px)"></i><i style="background:linear-gradient(#000080 0px,#000084 61px,#0000a6 88px,#0000b8 110px,#0000ef 124px,#0000f3 151px,#0000ff 154px,#0016ff 160px,#0016ff 243px,#0048ff 247px,#004eff 254px,#009cff 275px,#00aeff 308px,#00b2ff 332px,#03e4f8 358px,#19fede 375px,#a5ff51 467px,#f3fa04 489px,#ffe400 496px,#ffca00 522px,#f9f301 541px,#ebff0c 551px,#fbed00 578px,#e9fe0e 601px,#b4ff43 624px,#8cff6b 635px,#55ffa2 647px,#29ffce 660px,#0ff8e7 664px,#00ceff 669px,#007aff 680px,#007aff 700px,#0066ff 701px,#000cff 703px,#0000ef 704px,#000080 708px,#000080 713px)"></i><i style="background:linear-gradient(#000080 0px,#000084 60px,#0000a6 85px,#0000bb 111px,#0000ef 124px,#0000ef 151px,#0000ff 154px,#000cff 158px,#0012ff 164px,#0012ff 243px,#0044ff 247px,#004aff 254px,#009aff 275px,#00aaff 314px,#00aeff 332px,#01e2f9 360px,#19ffde 378px,#a5ff51 469px,#f1fc06 491px,#ffea00 498px,#ffce00 522px,#f8f501 537px,#e1ff16 547px,#ebff0c 558px,#fdea00 579px,#f1fa06 600px,#baff3c 624px,#95ff62 634px,#53ffa4 648px,#2bffcc 660px,#0ff8e7 664px,#00d6ff 668px,#0076ff 679px,#0076ff 700px,#0060ff 701px,#000aff 703px,#0000ea 704px,#000080 708px,#000080 713px)"></i><i style="background:linear-gradient(#000080 0px,#000084 60px,#0000ab 86px,#0000b6 110px,#0000ea 124px,#0000ed 151px,#0002ff 156px,#000eff 161px,#000eff 243px,#0040ff 247px,#0044ff 254px,#009aff 276px,#00a6ff 331px,#03def8 361px,#1bfcdc 383px,#9dff5a 468px,#ebfa0c 491px,#f6f104 500px,#ffd500 522px,#ecfa0b 538px,#d4ff23 550px,#f5f406 569px,#fde600 579px,#f6f404 599px,#d7ff1f 615px,#a0ff56 633px,#5dff9a 646px,#2cffca 660px,#0ff6e7 664px,#00caff 669px,#0072ff 679px,#006eff 700px,#005aff 701px,#0008ff 703px,#0000cd 705px,#000080 708px,#000080 713px)"></i><i style="background:linear-gradient(#000080 0px,#000084 59px,#0000ad 85px,#0000b6 110px,#0000e8 124px,#0000e8 151px,#0000ff 156px,#0008ff 163px,#0008ff 243px,#0038ff 247px,#003cff 253px,#0094ff 275px,#009cff 331px,#00e0fb 367px,#17ffdf 385px,#97ff60 468px,#ecff0a 496px,#ffe800 513px,#ffde00 522px,#f4f802 531px,#d6ff21 543px,#c6ff31 549px,#f3fa04 569px,#ffe800 578px,#fbf100 599px,#e7ff0f 608px,#bcff3b 626px,#9cff5b 634px,#58ff9f 647px,#33ffc4 659px,#14fee3 663px,#00e4f8 666px,#00c8ff 669px,#0068ff 679px,#0068ff 700px,#0054ff 701px,#0000ff 703px,#000080 708px,#000080 713px)"></i><i style="background:linear-gradient(#000080 0px,#000084 57px,#0000b4 85px,#0000bb 110px,#0000ef 124px,#0000f4 152px,#0016ff 159px,#0016ff 243px,#0048ff 247px,#004eff 254px,#00aaff 275px,#00b0ff 331px,#0cdeee 358px,#23f6d4 383px,#40ffb7 402px,#a7ff50 468px,#dbfa1d 485px,#f0e70b 499px,#ffce00 522px,#eaef11 537px,#d2ff24 550px,#f3e408 569px,#fbd300 579px,#f8db03 598px,#dcf81d 622px,#b7ff40 633px,#6eff88 647px,#41ffb5 660px,#1df0dc 665px,#04ccf6 671px,#009cff 676px,#007cff 680px,#007cff 700px,#0066ff 701px,#0010ff 703px,#0000ef 704px,#000080 708px,#000080 713px)"></i><i style="background:linear-gradient(#000080 0px,#000084 56px,#0000bb 83px,#0000c8 111px,#0000fc 124px,#0004ff 154px,#0028ff 159px,#0028ff 243px,#0040ff 245px,#005eff 247px,#0062ff 253px,#00c6ff 274px,#00ceff 332px,#09f0ee 352px,#21ffd6 367px,#bfff38 469px,#f1fa06 486px,#ffde00 495px,#ffb600 522px,#faf101 540px,#e1ff16 549px,#faf101 558px,#ffb800 577px,#ffc100 599px,#f9f301 621px,#e4ff13 629px,#a0ff56 642px,#7aff7d 652px,#63ff94 659px,#14fce3 669px,#00d8ff 673px,#009eff 679px,#009aff 700px,#0082ff 701px,#001cff 703px,#0000fa 704px,#000080 708px,#000080 713px)"></i><i style="background:linear-gradient(#000080 0px,#000084 54px,#0000bb 85px,#0000c6 111px,#0000f4 123px,#0000f8 152px,#0018ff 158px,#001eff 164px,#001eff 243px,#0052ff 247px,#0056ff 253px,#00bcff 274px,#00c0ff 332px,#11ecea 362px,#36ffc1 386px,#b4ff43 469px,#e4f815 486px,#fbdb00 507px,#ffc400 522px,#f2eb09 535px,#d1ff26 549px,#edef0e 560px,#fdd700 570px,#ffc300 577px,#ffce00 599px,#ebf210 622px,#d7ff1f 631px,#87ff70 646px,#5eff98 659px,#26fcd1 666px,#09e2f2 671px,#00a6ff 677px,#0092ff 679px,#0090ff 700px,#0078ff 701px,#0018ff 703px,#0000f4 704px,#000080 708px,#000080 713px)"></i><i style="background:linear-gradient(#000080 0px,#000084 46px,#000094 61px,#0000b6 85px,#0000c4 110px,#0000ed 124px,#0000f1 151px,#000aff 157px,#0014ff 160px,#0014ff 243px,#0044ff 247px,#0048ff 253px,#00a8ff 275px,#00acff 332px,#03d8f8 360px,#19f8de 379px,#3cffba 401px,#a7ff50 470px,#e7fa10 494px,#fbe000 517px,#fddd00 523px,#e4fc13 536px,#bfff38 549px,#e6fa11 562px,#fbe000 574px,#ffd900 580px,#f2f109 608px,#dffe17 621px,#beff39 633px,#7aff7d 646px,#51ffa5 659px,#23fed4 665px,#09e8f2 669px,#00b4ff 674px,#0080ff 680px,#0080ff 700px,#006aff 701px,#000cff 703px,#0000ed 704px,#000080 708px,#000080 713px)"></i><i style="background:linear-gradient(#000080 0px,#000084 39px,#000098 63px,#0000b6 89px,#0000c8 112px,#0000e8 125px,#0000ed 152px,#0010ff 161px,#0010ff 243px,#0038ff 247px,#003cff 253px,#009aff 275px,#009eff 332px,#03c6f8 360px,#16e8e5 380px,#3cffba 410px,#9aff5d 470px,#d9fa1e 495px,#eee50c 523px,#ccff2b 539px,#afff48 549px,#d9fa1e 563px,#f0e40b 579px,#dcf81d 615px,#b7ff40 632px,#70ff87 647px,#49ffad 659px,#29f8ce 663px,#11deea 668px,#01c0fa 672px,#0078ff 679px,#0078ff 700px,#0060ff 701px,#000efd 703px,#0000e6 704px,#000080 708px,#000080 713px)"></i><i style="background:linear-gradient(#000080 0px,#000084 38px,#0000c4 101px,#0000d1 113px,#0000ea 124px,#0000ef 151px,#0004ff 156px,#0010ff 161px,#0010ff 243px,#0040ff 247px,#0044ff 253px,#00a4ff 275px,#00a8ff 333px,#00ccff 360px,#13f6e4 378px,#30ffc7 395px,#a7ff50 472px,#e4fe13 499px,#fbe600 522px,#dcff1b 535px,#b4ff43 549px,#e9fa0e 567px,#fbe400 577px,#e9fa0e 608px,#c1ff36 632px,#78ff7f 648px,#56ffa0 659px,#1efed9 666px,#04e2f6 670px,#00b0ff 675px,#0088ff 679px,#0086ff 700px,#006cff 701px,#000cff 703px,#0000ea 704px,#000080 708px,#000080 713px)"></i><i style="background:linear-gradient(#000080 0px,#000084 35px,#0000da 113px,#0000f1 125px,#0000f3 151px,#0000ff 154px,#0016ff 160px,#0016ff 243px,#004aff 247px,#004eff 253px,#00b0ff 275px,#00b2ff 333px,#00ceff 358px,#01e6f6 367px,#17ffdf 377px,#72ff85 433px,#b2ff45 473px,#f0fe07 502px,#ffe200 519px,#ffe400 523px,#f0fe07 531px,#b9ff3e 549px,#f3fa04 568px,#ffe200 575px,#ffe800 585px,#f0fe07 605px,#ccff2b 631px,#85ff72 648px,#63ff94 659px,#13fce4 669px,#00dcfd 672px,#0098ff 679px,#0094ff 700px,#007cff 701px,#0014ff 703px,#0000ef 704px,#000080 708px,#000080 713px)"></i><i style="background:linear-gradient(#000080 0px,#000084 34px,#0000af 72px,#0000e4 114px,#0000f6 126px,#0000f6 151px,#0004ff 155px,#001cff 160px,#001cff 243px,#0050ff 247px,#0054ff 253px,#00b8ff 275px,#00bcff 335px,#00d2ff 358px,#0ff8e7 371px,#33ffc4 387px,#baff3c 474px,#f0fa08 500px,#ffdd00 522px,#ecfc0a 533px,#bcff3b 549px,#f0fa08 566px,#ffdb00 576px,#f0fa08 606px,#d1ff26 632px,#8dff6a 649px,#6dff8a 659px,#14fce3 670px,#01e0fa 673px,#00a4ff 679px,#00a2ff 700px,#0088ff 701px,#001aff 703px,#0000f3 704px,#000080 708px,#000080 713px)"></i><i style="background:linear-gradient(#000080 0px,#000084 33px,#0000a6 57px,#0000c6 91px,#0000f8 125px,#0000f8 151px,#0000ff 154px,#0020ff 159px,#0020ff 243px,#0056ff 247px,#0058ff 253px,#00c0ff 275px,#00c4ff 339px,#00d4ff 358px,#0cf4eb 368px,#23ffd4 377px,#4dffaa 400px,#c1ff36 475px,#f1fc06 501px,#ffe200 515px,#ffdb00 522px,#f8f501 530px,#e1ff16 537px,#beff39 549px,#f1fc06 566px,#ffde00 574px,#ffdb00 579px,#f4f803 599px,#d9ff1e 631px,#82ff75 655px,#75ff82 659px,#14fce3 671px,#01e2f9 674px,#00aeff 679px,#00aeff 700px,#0092ff 701px,#0020ff 703px,#0000f8 704px,#000080 708px,#000080 713px)"></i><i style="background:linear-gradient(#000080 0px,#000084 32px,#0000ab 57px,#0000bf 85px,#0000f3 120px,#0000f8 151px,#0000ff 154px,#001eff 159px,#001eff 243px,#0054ff 247px,#0058ff 253px,#00bcff 275px,#00c0ff 338px,#00ccff 357px,#03e8f4 366px,#1bffdc 375px,#45ffb2 396px,#c7ff30 480px,#f1fc06 504px,#ffde00 520px,#fded00 526px,#e7ff0f 533px,#baff3c 549px,#f1fc06 568px,#ffde00 576px,#f4f803 592px,#e4ff13 612px,#d4ff23 632px,#95ff62 650px,#78ff7f 659px,#17fedf 671px,#00dafd 675px,#00b2ff 679px,#00aeff 700px,#0092ff 701px,#0020ff 703px,#0000f3 704px,#000080 708px,#000080 713px)"></i><i style="background:linear-gradient(#000080 0px,#000084 31px,#0000b4 57px,#0000c1 84px,#0000f6 113px,#0004ff 153px,#0028ff 159px,#0028ff 243px,#0062ff 247px,#0066ff 253px,#00cefb 275px,#01d2fa 348px,#06def5 359px,#21fcd6 373px,#48ffaf 389px,#d6ff21 482px,#f0f20b 498px,#ffd700 519px,#ffd900 523px,#f0f20b 533px,#d1ff26 544px,#c2ff34 549px,#ebf80e 562px,#ffd700 575px,#ffdb00 581px,#f2f209 597px,#e3fc14 632px,#87ff70 659px,#1ffad7 672px,#04daf6 677px,#00c6ff 679px,#00c4ff 700px,#00a8ff 701px,#002aff 703px,#0000f8 704px,#000080 708px,#000080 713px)"></i><i style="background:linear-gradient(#000080 0px,#000084 30px,#0000b8 57px,#0000c1 84px,#0000f6 110px,#0002ff 153px,#0028ff 159px,#0028ff 243px,#0060ff 247px,#0064ff 253px,#00caff 274px,#00d4ff 357px,#13fae4 369px,#46ffb1 389px,#f1fa06 500px,#ffdb00 519px,#ffdd00 523px,#eefc09 533px,#bfff38 549px,#f0fa08 565px,#ffdb00 575px,#ffdd00 580px,#eefc09 598px,#e3ff14 632px,#8cff6b 659px,#1bfedc 673px,#01defa 677px,#00caff 679px,#00c6ff 700px,#00aaff 701px,#002aff 703px,#0000fa 704px,#000080 708px,#000080 713px)"></i><i style="background:linear-gradient(#000080 0px,#000084 29px,#0000b6 58px,#0000bb 84px,#0000ef 111px,#0000f6 151px,#0000ff 155px,#0018ff 159px,#0018ff 243px,#004cff 247px,#0050ff 253px,#00b4ff 275px,#00bcff 358px,#00e4f8 370px,#16ffe1 378px,#30ffc7 388px,#f1fc06 515px,#fbf100 522px,#e7ff0f 528px,#aaff4d 549px,#f1fc06 572px,#fcef00 577px,#e9ff0e 588px,#d9ff1e 601px,#cfff28 632px,#7aff7d 659px,#14fee3 672px,#00defc 675px,#00b8ff 679px,#00b2ff 700px,#0096ff 701px,#001eff 703px,#0000f1 704px,#000080 708px,#000080 713px)"></i><i style="background:linear-gradient(#000084 0px,#000089 30px,#0000b8 56px,#0000bf 85px,#0000f8 112px,#0000fd 152px,#0012ff 157px,#0020ff 160px,#0020ff 243px,#0056ff 247px,#005aff 253px,#00beff 274px,#00c6ff 358px,#11f4e6 373px,#31ffc6 385px,#e9fa0e 504px,#f8ea03 522px,#deff19 534px,#b2ff45 549px,#e9fa0e 567px,#fbe400 578px,#eef80b 591px,#e3fe14 601px,#dbff1c 632px,#87ff70 659px,#19fade 673px,#04def6 677px,#00c8ff 680px,#00c4ff 700px,#00a4ff 701px,#0026ff 703px,#0000f6 704px,#000080 708px,#000080 713px)"></i><i style="background:linear-gradient(#000086 0px,#00008b 29px,#0000bb 56px,#0000bf 84px,#0000fa 112px,#0000ff 154px,#0022ff 159px,#0022ff 243px,#005aff 247px,#005cff 253px,#00c2ff 274px,#00caff 327px,#00c6ff 358px,#01e6f6 367px,#1bffdc 376px,#48ffaf 397px,#f3fa04 509px,#ffe400 521px,#f0fe07 529px,#b2ff45 549px,#f1fc06 568px,#ffe200 575px,#ffe600 581px,#f1fc06 593px,#ebff0c 606px,#e1ff16 632px,#87ff70 660px,#13fce4 675px,#00e0fb 678px,#00d4ff 679px,#00ccff 700px,#00acff 701px,#002aff 703px,#0000f8 704px,#000080 708px,#000080 713px)"></i><i style="background:linear-gradient(#00008b 0px,#00008f 30px,#0000bb 58px,#0000bf 85px,#0000f6 111px,#0000f8 151px,#0000ff 154px,#001eff 159px,#001eff 243px,#0044ff 246px,#0052ff 247px,#0054ff 253px,#00b8ff 274px,#00beff 311px,#00c4ff 337px,#00beff 358px,#01e4f8 370px,#1bffdc 380px,#6dff8a 424px,#f1fc06 513px,#fbf100 522px,#e1ff16 531px,#adff49 549px,#f3fa04 570px,#ffe200 577px,#f0fc07 593px,#e9ff0e 606px,#e1ff16 629px,#8aff6d 659px,#11fae6 675px,#00defb 678px,#00d2ff 681px,#00ceff 693px,#00c6ff 700px,#00a8ff 701px,#0026ff 703px,#0000f3 704px,#000080 708px,#000080 713px)"></i><i style="background:linear-gradient(#000092 0px,#000096 31px,#0000b8 57px,#0000bb 84px,#0000f3 111px,#0000f6 151px,#0000ff 155px,#001aff 159px,#001aff 243px,#0032ff 245px,#004eff 247px,#0050ff 253px,#00b4ff 275px,#00baff 312px,#00c4ff 334px,#00b6ff 357px,#00e2f9 371px,#17ffdf 382px,#63ff94 421px,#f3fa04 517px,#f6f601 523px,#dfff17 530px,#a9ff4e 549px,#f1fc06 570px,#ffe200 576px,#f8f500 589px,#ecff0a 600px,#e7ff0f 623px,#d1ff26 636px,#82ff75 660px,#13fce4 675px,#00d8ff 679px,#00d0ff 692px,#00c4ff 700px,#00a4ff 701px,#0024ff 703px,#0000f1 704px,#000080 708px,#000080 713px)"></i><i style="background:linear-gradient(#000098 0px,#00009d 32px,#0000bb 56px,#0000bf 84px,#0000fa 111px,#0004ff 154px,#0024ff 159px,#0024ff 243px,#005cff 247px,#0060ff 253px,#00c8ff 275px,#00ccff 310px,#00daff 333px,#00c8ff 357px,#00e4f8 367px,#19ffde 377px,#6eff88 419px,#f3fa04 507px,#ffe400 520px,#ffea00 524px,#eeff09 530px,#b7ff40 549px,#f1fc06 565px,#ffe400 571px,#ffce00 577px,#ffea00 600px,#fcef00 622px,#ebff0c 633px,#95ff62 660px,#13fce4 678px,#0af2ec 680px,#07eef0 690px,#00dcfe 699px,#00dcfe 700px,#00baff 701px,#0030ff 703px,#0000fa 704px,#000080 708px,#000080 713px)"></i><i style="background:linear-gradient(#00009b 0px,#00009f 34px,#0000b6 59px,#0000bb 84px,#0000ef 110px,#0000f3 151px,#0000ff 154px,#0014ff 160px,#0014ff 243px,#0048ff 247px,#004cff 253px,#00aeff 275px,#00b2ff 308px,#00c6ff 331px,#00aeff 357px,#01e2f9 375px,#1cffdb 389px,#58ff9f 417px,#f3fa04 522px,#a2ff55 549px,#f1fc06 570px,#ffe200 576px,#f4f803 601px,#f1fc06 620px,#d7ff1f 634px,#83ff73 660px,#13fce4 676px,#00e0fb 680px,#00dcfd 691px,#00c8ff 699px,#00c8ff 700px,#00a6ff 701px,#0020ff 703px,#0000ef 704px,#000080 708px,#000080 713px)"></i><i style="background:linear-gradient(#00009f 0px,#0000a4 35px,#0000b6 59px,#0000bb 84px,#0000ef 111px,#0000ef 151px,#0000ff 154px,#000eff 158px,#0014ff 164px,#0014ff 243px,#0048ff 247px,#0048ff 253px,#00acff 275px,#00b0ff 306px,#00c8ff 331px,#00acff 357px,#01e2f9 377px,#1bffdc 390px,#5bff9c 420px,#f1fc06 522px,#a0ff56 549px,#eefe09 569px,#ffe200 575px,#ffe600 585px,#f9f300 604px,#f4f803 621px,#ceff29 638px,#87ff70 660px,#11fae6 677px,#03e8f4 680px,#01e4f8 690px,#00caff 699px,#00caff 700px,#00a8ff 701px,#0022ff 703px,#0000ef 704px,#000080 708px,#000080 713px)"></i><i style="background:linear-gradient(#0000a6 0px,#0000ab 33px,#0000bd 61px,#0000c1 85px,#0000fa 111px,#0004ff 154px,#0024ff 159px,#0024ff 243px,#003cff 245px,#005aff 247px,#005eff 253px,#00c4ff 275px,#00c8ff 305px,#06e6f5 331px,#00c4ff 357px,#0af2ec 375px,#2effc9 391px,#68ff8f 416px,#eefa09 505px,#fde600 522px,#e4ff13 533px,#b4ff43 549px,#ecfa0b 563px,#ffd700 572px,#ffc300 577px,#ffd300 605px,#ffd900 620px,#eefa09 635px,#9dff5a 660px,#1efed9 679px,#19fade 690px,#06e6f5 698px,#06e6f5 700px,#00c4ff 701px,#0032ff 703px,#0000f8 704px,#000080 708px,#000080 713px)"></i><i style="background:linear-gradient(#0000a8 0px,#0000ad 38px,#0000b8 68px,#0000bd 86px,#0000f1 112px,#0000f1 151px,#0000ff 154px,#0016ff 160px,#0016ff 243px,#0048ff 247px,#004cff 253px,#00aeff 275px,#00b0ff 304px,#00d4ff 330px,#00b0ff 357px,#03e4f8 380px,#21ffd6 394px,#56ffa0 416px,#f1fa06 519px,#eefc09 524px,#a4ff53 549px,#f1fa06 568px,#ffdb00 575px,#ffd700 581px,#ffe000 613px,#ffe400 619px,#ebfe0c 631px,#95ff62 659px,#11fae6 680px,#0ef6e9 690px,#00d4ff 697px,#00d4ff 700px,#00b2ff 701px,#0024ff 703px,#0000ef 704px,#000080 708px,#000080 713px)"></i><i style="background:linear-gradient(#0000a8 0px,#0000af 54px,#0000b4 84px,#0000e6 112px,#0000e6 151px,#0000fd 155px,#0008ff 164px,#0008ff 243px,#001cff 245px,#0036ff 247px,#0036ff 253px,#0094ff 274px,#0098ff 304px,#00c0ff 330px,#0098ff 357px,#01defa 388px,#19fede 399px,#43ffb4 416px,#e1ff16 521px,#90ff66 549px,#f1fa06 572px,#ffe800 577px,#f9f301 619px,#dfff17 629px,#85ff72 659px,#14fce3 677px,#04eaf3 680px,#03e6f6 690px,#00c2ff 697px,#00c0ff 700px,#009cff 701px,#0016ff 703px,#0000e4 704px,#000080 708px,#000080 713px)"></i><i style="background:linear-gradient(#0000a8 0px,#0000b4 84px,#0000df 111px,#0000e3 151px,#0000ff 157px,#0002ff 243px,#002cff 247px,#0030ff 253px,#008aff 275px,#0090ff 304px,#00b8ff 330px,#008eff 358px,#00d4ff 389px,#09f0ee 397px,#1bffdc 403px,#3bffbc 417px,#d4ff23 522px,#87ff70 549px,#f3fa04 574px,#fbf100 578px,#f4f802 619px,#deff19 627px,#80ff77 659px,#16ffe1 676px,#01e6f6 680px,#00e2f9 690px,#00baff 698px,#00baff 700px,#0096ff 701px,#0010ff 703px,#0000df 704px,#000080 708px,#000080 713px)"></i><i style="background:linear-gradient(#0000af 0px,#0000bb 84px,#0000ea 111px,#0000ef 151px,#0000ff 154px,#0008ff 158px,#000eff 163px,#0010ff 243px,#0040ff 247px,#0044ff 253px,#00a2ff 275px,#00a8ff 304px,#00d0ff 330px,#00a6ff 358px,#01e2f9 386px,#19ffde 396px,#4bffac 415px,#e6ff11 522px,#9cff5b 549px,#f3fa04 570px,#ffdd00 576px,#ffe000 618px,#eefe09 628px,#95ff62 659px,#17fedf 679px,#17fedf 689px,#01e0fa 695px,#00d6ff 699px,#00d6ff 700px,#00aeff 701px,#0020ff 703px,#0000ea 704px,#000080 708px,#000080 713px)"></i><i style="background:linear-gradient(#0000bb 0px,#0000bf 82px,#0000f8 112px,#0002ff 154px,#001eff 159px,#0024ff 243px,#005aff 247px,#0060ff 254px,#00bcff 275px,#00c6ff 304px,#01e4f8 323px,#09f0ee 329px,#00d2ff 347px,#00c4ff 358px,#01e4f8 375px,#1effd9 390px,#60ff97 415px,#f3fa04 515px,#f8f501 523px,#dfff17 532px,#b4ff43 549px,#f1fc06 564px,#ffe400 569px,#ffc100 577px,#ffc400 618px,#f9f301 632px,#e4ff13 640px,#aaff4d 660px,#30ffc7 680px,#2cffca 690px,#13fce4 696px,#0cf4eb 699px,#0cf4eb 700px,#00d0ff 701px,#0034ff 703px,#0000f3 704px,#000080 708px,#000080 713px)"></i><i style="background:linear-gradient(#0000b8 0px,#0000bd 72px,#0000c6 85px,#0000f1 111px,#0000f6 127px,#0000fc 142px,#0004ff 155px,#0018ff 160px,#0020ff 218px,#0022ff 243px,#0054ff 247px,#0058ff 253px,#00b2ff 275px,#00c2ff 306px,#03e4f8 330px,#00beff 358px,#04e6f6 380px,#13fae4 388px,#58ff9f 415px,#e3ff14 510px,#f0fa08 522px,#adff49 549px,#f0fa08 566px,#ffd900 574px,#ffce00 579px,#ffd000 618px,#f6f604 629px,#d6ff21 642px,#aaff4d 659px,#29ffce 680px,#24ffd2 690px,#08eef0 698px,#08eef0 700px,#00c8ff 701px,#002eff 703px,#0000f1 704px,#000080 708px,#000080 713px)"></i><i style="background:linear-gradient(#0000bd 0px,#0000c1 68px,#0000cf 85px,#0000fa 113px,#0004ff 153px,#0022ff 160px,#0028ff 206px,#002eff 243px,#0064ff 247px,#0068ff 253px,#00c2ff 276px,#00d6fd 308px,#0af2ec 331px,#00d0ff 358px,#0ef6e9 378px,#33ffc4 395px,#65ff92 415px,#e6ff11 504px,#f4f606 523px,#d2ff24 539px,#bcff3b 549px,#f0fa08 563px,#ffdb00 571px,#ffc400 577px,#ffc600 618px,#f6f404 632px,#d9ff1e 646px,#baff3c 659px,#34ffc2 680px,#31ffc6 690px,#17fcdf 698px,#17fcdf 700px,#00dafb 701px,#0038ff 703px,#0000f6 704px,#000080 708px,#000080 713px)"></i><i style="background:linear-gradient(#0000bd 0px,#0000c1 62px,#0000d8 86px,#0000fc 113px,#0002ff 151px,#0024ff 160px,#002aff 203px,#0036ff 223px,#0036ff 243px,#006eff 247px,#0072ff 253px,#00c8ff 276px,#00e2f9 310px,#0ff8e7 331px,#00dcfd 353px,#00dcfd 359px,#17ffdf 379px,#50ffa7 404px,#77ff80 424px,#e7ff0f 503px,#f6f603 523px,#dbff1c 537px,#c7ff30 550px,#f1fc06 562px,#ffdd00 570px,#ffc300 578px,#ffc400 618px,#f8f501 632px,#deff19 645px,#c1ff36 659px,#39ffbe 680px,#36ffc1 690px,#1fffd7 698px,#1fffd7 700px,#01e4f8 701px,#003eff 703px,#0000f8 704px,#000080 708px,#000080 713px)"></i><i style="background:linear-gradient(#0000b8 0px,#0000bd 62px,#0000f1 113px,#0000f6 125px,#0000ff 136px,#0004ff 153px,#0016ff 161px,#001aff 197px,#002cff 224px,#002cff 243px,#0060ff 247px,#0068ff 255px,#00b0ff 275px,#03e0f8 331px,#00c8ff 358px,#0cf4eb 382px,#30ffc7 397px,#5eff98 421px,#d1ff26 499px,#e1ff16 523px,#b7ff40 549px,#f0fa08 567px,#ffdd00 577px,#ffe000 619px,#e9fe0e 629px,#b4ff43 659px,#29ffce 679px,#21ffd6 691px,#0ff6e7 699px,#0ff6e7 700px,#00d0ff 701px,#0030ff 703px,#0000ef 704px,#000080 708px,#000080 713px)"></i><i style="background:linear-gradient(#0000bd 0px,#0000c1 59px,#0000fc 111px,#0004ff 129px,#000cff 137px,#0012ff 153px,#0026ff 160px,#002aff 196px,#0044ff 224px,#0044ff 243px,#007cff 247px,#0082ff 254px,#00ccff 275px,#0af2ec 317px,#11f8e6 334px,#04e8f4 358px,#1effd9 377px,#73ff83 420px,#e4ff13 497px,#f3fa04 524px,#cfff28 549px,#f4f804 562px,#ffd500 572px,#ffc600 579px,#ffc800 618px,#f8f503 631px,#dcff1b 649px,#ccff2b 659px,#3cffba 680px,#36ffc1 692px,#29ffce 700px,#09f0ee 701px,#009eff 702px,#0042ff 703px,#0000fa 704px,#000080 708px,#000080 713px)"></i><i style="background:linear-gradient(#0000b4 0px,#0000b8 59px,#0000dd 94px,#0000e8 120px,#0000ef 125px,#0000ff 132px,#0006ff 156px,#000cff 171px,#0012ff 199px,#0028ff 224px,#0028ff 243px,#0056ff 247px,#005aff 253px,#009eff 275px,#00c6ff 316px,#00ceff 330px,#00beff 358px,#08eaf3 381px,#28ffcf 399px,#55ffa2 424px,#bfff38 497px,#caff2c 524px,#b1ff46 550px,#eefa09 573px,#f6f404 582px,#f3f608 619px,#d1ff26 630px,#aaff4d 659px,#17fadf 680px,#11f6e6 693px,#0bf0ee 700px,#00c6ff 701px,#0026ff 703px,#0000e6 704px,#000080 708px,#000080 713px)"></i><i style="background:linear-gradient(#0000b6 0px,#0000bb 58px,#0000e1 87px,#0000ef 115px,#0000f3 124px,#0000ff 129px,#0006ff 142px,#000aff 153px,#0016ff 163px,#001aff 196px,#0038ff 223px,#0038ff 243px,#006cff 247px,#0070ff 254px,#00b2ff 277px,#00d4ff 307px,#00e0fb 333px,#00d4ff 358px,#09f0ee 374px,#1cffdb 385px,#70ff87 433px,#ceff29 498px,#d6ff21 525px,#c1ff36 550px,#f3fa04 570px,#ffe800 579px,#fdeb00 618px,#e9ff0e 626px,#d6ff21 634px,#beff39 659px,#28ffcf 679px,#1fffd7 694px,#19ffde 700px,#00dcfd 701px,#0032ff 703px,#0000ef 704px,#000080 708px,#000080 713px)"></i><i style="background:linear-gradient(#0000bd 0px,#0000c1 58px,#0000ef 85px,#0000fa 120px,#0006ff 128px,#0018ff 132px,#001eff 155px,#0024ff 172px,#0028ff 194px,#004eff 221px,#004eff 243px,#0088ff 247px,#008cff 254px,#00ccff 277px,#09f0ee 306px,#0ef6e9 339px,#0cf4eb 360px,#2cffca 381px,#90ff66 441px,#e1ff16 497px,#e6ff11 526px,#d9ff1e 550px,#f8f103 566px,#ffd500 579px,#ffd900 618px,#f0fa08 629px,#deff19 647px,#d4ff23 659px,#3cffba 679px,#31ffc6 700px,#0ff6e7 701px,#00a0ff 702px,#0044ff 703px,#0000fa 704px,#000080 708px,#000080 713px)"></i><i style="background:linear-gradient(#0000bf 0px,#0000c4 57px,#0000f8 84px,#0004ff 126px,#0024ff 132px,#002aff 158px,#0030ff 195px,#005cff 221px,#005cff 243px,#0096ff 247px,#009aff 254px,#00d8fb 278px,#14f8e3 302px,#17fadf 360px,#bcff3b 465px,#e7fe0f 496px,#ebfc0c 531px,#e6fe11 551px,#fde600 567px,#ffd000 579px,#ffd300 618px,#f4f606 629px,#e7fe0f 645px,#dfff17 659px,#45ffb2 679px,#3effb9 700px,#1bfcdc 701px,#00aeff 702px,#004eff 703px,#0000fd 704px,#000080 708px,#000080 713px)"></i><i style="background:linear-gradient(#0000bf 0px,#0000c4 57px,#0000fa 84px,#0002ff 126px,#0024ff 132px,#002aff 158px,#0030ff 195px,#005cff 221px,#005cff 243px,#0094ff 247px,#0098ff 253px,#00d8ff 280px,#06ecf1 293px,#13fce4 304px,#16ffe1 359px,#e6ff11 496px,#e4ff13 543px,#e4ff13 551px,#f4f802 560px,#ffe000 571px,#ffd700 581px,#ffd700 618px,#f8f500 627px,#ebff0c 632px,#deff19 659px,#43ffb4 679px,#3cffba 700px,#19ffde 701px,#00acff 702px,#004cff 703px,#0000fc 704px,#000080 708px,#000080 713px)"></i><i style="background:linear-gradient(#0000bb 0px,#0000bf 55px,#0000f6 84px,#0004ff 127px,#001eff 133px,#0024ff 158px,#002aff 196px,#0054ff 221px,#0054ff 243px,#008aff 247px,#0090ff 255px,#00ccff 281px,#03e8f4 297px,#09f0ee 307px,#0cf4eb 359px,#1fffd7 371px,#dbff1c 497px,#dbff1c 551px,#f4f803 567px,#ffe600 579px,#ffe600 619px,#ebff0c 627px,#deff19 635px,#d4ff23 659px,#36ffc1 679px,#33ffc4 700px,#0ff8e7 701px,#00a0ff 702px,#0042ff 703px,#0000f8 704px,#000080 708px,#000080 713px)"></i><i style="background:linear-gradient(#0000b8 0px,#0000c1 56px,#0000f3 84px,#0000ff 127px,#001aff 133px,#0024ff 194px,#004eff 222px,#004eff 243px,#0074ff 246px,#0082ff 247px,#008cff 257px,#00e0fb 297px,#02e8f4 310px,#06ecf1 359px,#19ffde 372px,#d1ff26 496px,#d6ff21 552px,#f3fa04 571px,#fbf100 581px,#feed00 618px,#e9ff0e 625px,#d6ff21 634px,#ceff29 659px,#2effc9 679px,#2cffca 700px,#07eef0 701px,#0096ff 702px,#003cff 703px,#0000f1 704px,#000080 708px,#000080 713px)"></i><i style="background:linear-gradient(#0000ab 0px,#0000b2 45px,#0000bb 60px,#0000dd 87px,#0000e8 124px,#0004fa 133px,#000eff 201px,#0020ff 223px,#0020ff 243px,#004aff 247px,#0052ff 256px,#00aaff 298px,#00b0ff 322px,#00b2ff 358px,#09e4f2 384px,#28fecf 411px,#a4ff53 496px,#a9ff4e 552px,#ceff29 579px,#d4ff23 618px,#acff4b 632px,#a5ff51 658px,#21fad6 675px,#0be6f0 679px,#09e4f2 700px,#00b6ff 701px,#005eff 702px,#0012ff 703px,#0000d8 704px,#000080 708px,#000080 713px)"></i><i style="background:linear-gradient(#0000bb 0px,#0000bf 36px,#0000d6 61px,#0000fc 88px,#0002ff 125px,#0020ff 133px,#0024ff 154px,#0030ff 162px,#0034ff 196px,#0056ff 222px,#0056ff 243px,#006eff 245px,#008cff 247px,#0092ff 255px,#01e2f9 293px,#0af2ec 306px,#0ff8e7 360px,#34ffc2 385px,#d9ff1e 497px,#deff19 552px,#f8f503 569px,#fdea00 581px,#ffe200 607px,#ffe000 619px,#f0fc07 628px,#e6ff11 634px,#deff19 653px,#d6ff21 659px,#36ffc1 679px,#33ffc4 700px,#0ff8e7 701px,#00a0ff 702px,#0042ff 703px,#0000f6 704px,#000080 708px,#000080 713px)"></i><i style="background:linear-gradient(#0000b4 0px,#0000b8 34px,#0000da 70px,#0000f3 94px,#0000ff 120px,#0004ff 129px,#000eff 134px,#0010ff 152px,#0020ff 162px,#0022ff 195px,#003eff 224px,#003eff 243px,#006eff 247px,#0076ff 256px,#00baff 287px,#00d6ff 305px,#00daff 360px,#0ef6e9 375px,#21ffd6 387px,#c2ff34 497px,#c7ff30 553px,#ebff0c 579px,#f0fe07 605px,#f9f300 618px,#e6ff11 624px,#d1ff26 633px,#c9ff2e 653px,#bfff38 659px,#1effd9 679px,#1cffdb 700px,#00dcfe 701px,#002cff 703px,#0000e8 704px,#000080 708px,#000080 713px)"></i><i style="background:linear-gradient(#0000b6 0px,#0000bb 32px,#0000ff 98px,#0002ff 125px,#0018ff 133px,#001cff 152px,#002eff 160px,#0032ff 196px,#004aff 222px,#004aff 243px,#007eff 247px,#0086ff 256px,#00c6ff 285px,#00e2f9 301px,#04eaf3 360px,#1bffdc 374px,#cfff28 497px,#d2ff24 552px,#f3fa04 573px,#fcef00 603px,#ffe000 618px,#f1fc06 626px,#e1ff16 634px,#dcff1b 649px,#ccff2b 659px,#2bffcc 679px,#29ffce 700px,#04eaf3 701px,#0092ff 702px,#0038ff 703px,#0000f1 704px,#000080 708px,#000080 713px)"></i><i style="background:linear-gradient(#0000af 0px,#0000b4 32px,#0000fd 112px,#0008ff 152px,#001cff 161px,#0020ff 198px,#0032ff 227px,#0032ff 243px,#005eff 247px,#0066ff 256px,#00c4ff 301px,#00c8ff 359px,#07eef0 379px,#1effd9 394px,#b4ff43 496px,#b9ff3e 552px,#deff19 579px,#e4ff13 603px,#f3fa04 618px,#ccff2b 632px,#c6ff31 648px,#b1ff46 659px,#11fae6 679px,#0ff8e7 700px,#00ccff 701px,#0022ff 703px,#0000e1 704px,#000080 708px,#000080 713px)"></i><i style="background:linear-gradient(#0000bb 0px,#0000bf 31px,#0000e8 64px,#0006ff 99px,#0012ff 127px,#0020ff 134px,#0024ff 152px,#0040ff 160px,#0044ff 199px,#0054ff 225px,#0054ff 243px,#008aff 247px,#0092ff 256px,#03ccf8 282px,#11e6ea 300px,#16ece5 362px,#38ffbf 388px,#d9fc1e 497px,#dcfa1b 552px,#f3e508 582px,#f8de03 605px,#ffce00 618px,#ebef10 631px,#e5f416 651px,#d6fe21 659px,#34ffc2 679px,#33ffc4 700px,#15eae6 701px,#009eff 702px,#0040ff 703px,#0000f4 704px,#000080 708px,#000080 713px)"></i><i style="background:linear-gradient(#0000bf 0px,#0000c4 32px,#0000ed 58px,#0000ff 90px,#0016ff 114px,#001cff 126px,#0028ff 134px,#002cff 152px,#0050ff 160px,#0056ff 203px,#0060ff 231px,#0060ff 243px,#0098ff 247px,#00a0ff 256px,#00dcfe 283px,#0ef6e9 297px,#16ffe1 309px,#19ffde 360px,#e4ff13 497px,#e7ff0f 552px,#f8f500 563px,#ffdd00 578px,#ffd700 601px,#ffbd00 618px,#ffea00 632px,#feed00 646px,#ebff0c 655px,#e1ff16 659px,#40ffb7 679px,#3effb9 700px,#19ffde 701px,#00acff 702px,#004cff 703px,#0000fa 704px,#000080 708px,#000080 713px)"></i><i style="background:linear-gradient(#0000c1 0px,#0000c6 31px,#0000f6 57px,#0004ff 92px,#0022ff 113px,#0028ff 128px,#002eff 146px,#002eff 151px,#005cff 159px,#0062ff 207px,#0068ff 243px,#0082ff 245px,#00a2ff 247px,#00aaff 256px,#03e2f8 281px,#17fcdf 298px,#1effd9 315px,#21ffd6 360px,#ecfc0a 497px,#f1f808 553px,#ffd700 574px,#ffce00 600px,#ffae00 618px,#ffde00 632px,#ffe200 647px,#e9fe0e 659px,#48ffaf 679px,#46ffb1 700px,#23ffd4 701px,#00b6ff 702px,#0054ff 703px,#0000fd 704px,#000080 708px,#000080 713px)"></i><i style="background:linear-gradient(#0000b6 0px,#0000bb 29px,#0000ea 57px,#0000f6 84px,#0000ff 95px,#0012ff 115px,#001aff 151px,#0044ff 160px,#004aff 243px,#007eff 247px,#0086ff 256px,#00e0fb 299px,#02e8f4 359px,#17ffdf 373px,#ceff29 496px,#d2ff24 552px,#f3fa04 573px,#fcef00 600px,#ffce00 618px,#f9f300 629px,#f3fa04 635px,#ecff0a 647px,#caff2c 659px,#2bffcc 679px,#29ffce 700px,#06ecf1 701px,#0092ff 702px,#0038ff 703px,#0000f1 704px,#000080 708px,#000080 713px)"></i><i style="background:linear-gradient(#0000b6 0px,#0000bb 31px,#0000e6 57px,#0000f1 86px,#0006ff 105px,#0010ff 151px,#003aff 160px,#003eff 243px,#006eff 247px,#0076ff 256px,#00aaff 279px,#00d2fb 304px,#01d6fa 359px,#11f4e6 378px,#31ffc6 399px,#bfff38 496px,#c2ff34 551px,#e9fa0e 579px,#ecf80c 599px,#ffdd00 618px,#f2f409 627px,#e6fc11 633px,#dfff17 647px,#bcff3b 659px,#1efcd9 679px,#1efcd9 700px,#03daf8 701px,#002cff 703px,#0000e8 704px,#000080 708px,#000080 713px)"></i><i style="background:linear-gradient(#0000b4 0px,#0000b8 31px,#0000e1 58px,#0000ea 85px,#0000ff 101px,#0008ff 151px,#002eff 160px,#0032ff 243px,#0060ff 247px,#0066ff 255px,#00a8ff 287px,#00c2ff 305px,#00c6ff 359px,#04e8f4 377px,#1fffd7 395px,#b2ff45 497px,#b7ff40 552px,#dbff1c 579px,#dfff17 599px,#f8f503 613px,#faf101 619px,#e3ff14 628px,#d7ff1f 639px,#ceff29 648px,#afff48 659px,#13fae4 679px,#0ff8e7 700px,#00ccff 701px,#0070ff 702px,#0020ff 703px,#0000e1 704px,#000080 708px,#000080 713px)"></i><i style="background:linear-gradient(#0000bd 0px,#0000c1 30px,#0000ed 57px,#0000fa 89px,#000eff 108px,#0018ff 151px,#0042ff 159px,#0048ff 217px,#004aff 243px,#007aff 247px,#0082ff 256px,#00b6ff 279px,#03daf8 305px,#04def6 359px,#16f8e1 377px,#3effb9 402px,#6eff88 435px,#c6ff31 497px,#caff2c 552px,#eef80b 576px,#f6f104 604px,#ffd700 618px,#f1f609 630px,#e4fe13 647px,#c2ff34 659px,#28ffcf 679px,#28ffcf 700px,#08e6f3 701px,#008aff 702px,#0032ff 703px,#0000ea 704px,#000080 708px,#000080 713px)"></i><i style="background:linear-gradient(#0000bf 0px,#0000c4 31px,#0000ea 58px,#0000fd 92px,#000cff 120px,#0016ff 141px,#001cff 152px,#003aff 160px,#0040ff 204px,#0046ff 243px,#0076ff 247px,#007eff 256px,#00b2ff 280px,#00d0ff 304px,#00d4fd 358px,#16fae1 381px,#5bff9c 424px,#a0ff56 474px,#beff39 496px,#c1ff36 551px,#e7fe0f 578px,#ebfc0c 599px,#ffe200 618px,#f1f808 627px,#e4ff13 638px,#d4ff23 650px,#bcff3b 659px,#24ffd2 679px,#23ffd4 700px,#04e2f6 701px,#002eff 703px,#0000e8 704px,#000080 708px,#000080 713px)"></i><i style="background:linear-gradient(#0000c6 0px,#0000ca 31px,#0000ed 57px,#0006ff 98px,#0010ff 117px,#0016ff 127px,#001eff 134px,#0020ff 151px,#0040ff 160px,#0046ff 203px,#0050ff 235px,#0050ff 243px,#0082ff 247px,#0088ff 255px,#00beff 281px,#03d8f8 305px,#04dcf6 359px,#16f6e1 378px,#3cffba 399px,#5eff98 420px,#88ff6e 454px,#c4ff33 496px,#c9ff2e 552px,#ebf80e 575px,#f3f108 605px,#fbe200 619px,#ebf80e 633px,#dbff1c 648px,#c1ff36 659px,#2effc9 679px,#2bffcc 700px,#0becf0 701px,#008eff 702px,#0034ff 703px,#0000ea 704px,#000080 708px,#000080 713px)"></i><i style="background:linear-gradient(#0000cd 0px,#0000d1 33px,#0000f3 61px,#0006ff 96px,#0014ff 117px,#001aff 126px,#0026ff 134px,#002aff 151px,#0046ff 160px,#004cff 201px,#005aff 229px,#005aff 243px,#008cff 247px,#0096ff 257px,#00c6ff 280px,#04e0f6 307px,#06e4f5 360px,#1cfcdb 378px,#4bffac 403px,#65ff92 419px,#80ff77 446px,#caff2c 497px,#ceff29 552px,#eef80b 574px,#f6f104 604px,#fde000 619px,#f1f609 632px,#d6ff21 652px,#c7ff30 659px,#36ffc1 679px,#34ffc2 700px,#0ef4e9 701px,#0098ff 702px,#0038ff 703px,#0000ef 704px,#000080 708px,#000080 713px)"></i><i style="background:linear-gradient(#0000d1 0px,#0000d6 33px,#0000fa 68px,#0008ff 98px,#0014ff 116px,#0018ff 125px,#002cff 134px,#0030ff 152px,#0046ff 160px,#0048ff 196px,#005cff 222px,#005cff 243px,#0092ff 247px,#0096ff 255px,#00c6ff 277px,#03def8 306px,#04e2f6 359px,#1bfcdc 378px,#65ff92 415px,#80ff77 445px,#c9ff2e 496px,#ceff29 552px,#f0f809 574px,#f8ef03 606px,#fde200 618px,#ebfa0c 636px,#c7ff30 659px,#39ffbe 679px,#38ffbf 700px,#11f6e6 701px,#009aff 702px,#003aff 703px,#0000ef 704px,#000080 708px,#000080 713px)"></i><i style="background:linear-gradient(#0000d4 0px,#0000d8 33px,#0000ff 79px,#0010ff 122px,#002aff 133px,#002eff 152px,#0040ff 161px,#0044ff 196px,#005cff 225px,#005cff 243px,#008cff 247px,#0094ff 255px,#00c4ff 278px,#00d8fb 310px,#01dcfa 359px,#19fcde 380px,#60ff97 414px,#7aff7d 445px,#c4ff33 497px,#c9ff2e 552px,#ecfc0a 579px,#f3f806 604px,#faef01 619px,#e1ff16 638px,#c1ff36 659px,#36ffc1 679px,#36ffc1 700px,#0ff6e7 701px,#0094ff 702px,#0036ff 703px,#0000ea 704px,#000080 708px,#000080 713px)"></i><i style="background:linear-gradient(#0000cf 0px,#0000d4 38px,#0000f1 70px,#0000ff 87px,#0002ff 124px,#001cff 133px,#0020ff 153px,#002aff 162px,#002eff 196px,#0046ff 223px,#0046ff 243px,#0078ff 247px,#007eff 255px,#00acff 277px,#00beff 311px,#00c2ff 360px,#00e2f9 377px,#1cffdb 392px,#4effa9 414px,#62ff95 444px,#afff48 497px,#b2ff45 552px,#d7ff1f 579px,#deff19 606px,#e3ff14 621px,#b2ff45 655px,#a5ff51 660px,#23ffd4 680px,#23ffd4 700px,#00e0fb 701px,#0022ff 703px,#0000df 704px,#000080 708px,#000080 713px)"></i><i style="background:linear-gradient(#0000e3 0px,#0000e8 37px,#0000fc 60px,#0006ff 77px,#001aff 114px,#001eff 124px,#0042ff 133px,#0046ff 154px,#004eff 164px,#0052ff 195px,#0076ff 222px,#0076ff 243px,#008eff 245px,#00aaff 247px,#00aeff 255px,#00defc 276px,#04eaf3 317px,#07eef0 359px,#19ffde 371px,#38ffbf 388px,#75ff82 413px,#87ff70 444px,#d2ff24 497px,#d7ff1f 552px,#f4f803 571px,#fcef00 584px,#ffe800 610px,#ffe600 622px,#f4f803 635px,#dbff1c 649px,#cfff28 659px,#4bffac 680px,#4bffac 700px,#24ffd2 701px,#00acff 702px,#0046ff 703px,#0000f3 704px,#000080 708px,#000080 713px)"></i><i style="background:linear-gradient(#0000f6 0px,#0000fa 42px,#0002ff 65px,#0022ff 85px,#0030ff 124px,#005aff 132px,#0060ff 155px,#0068ff 194px,#0094ff 222px,#0094ff 243px,#00c8ff 247px,#00d0ff 256px,#09f0ee 269px,#13fce4 278px,#19ffde 344px,#1fffd7 360px,#50ffa7 389px,#8fff68 413px,#9aff5d 442px,#e7ff0f 496px,#ebff0c 551px,#ffea00 565px,#ffd700 580px,#ffd100 624px,#ffde00 634px,#f3fa04 644px,#e7ff0f 659px,#65ff92 680px,#65ff92 700px,#3cffba 701px,#00ccff 702px,#005cff 703px,#0000ff 704px,#000080 708px,#000080 713px)"></i><i style="background:linear-gradient(#0000e1 0px,#0000ea 57px,#0008fd 78px,#0014ff 125px,#0032ff 132px,#003cff 195px,#0062ff 222px,#0062ff 243px,#0094ff 247px,#009eff 257px,#01c6fa 275px,#04cef6 336px,#06d2f5 360px,#1bf2dc 386px,#3cffba 398px,#65ff92 413px,#6dff8a 442px,#baff3c 496px,#bfff38 552px,#dff819 573px,#e3f618 632px,#c1ff36 645px,#b9ff3e 659px,#3bffbc 679px,#3bffbc 700px,#16ece5 701px,#0094ff 702px,#0032ff 703px,#0000e6 704px,#000080 708px,#000080 713px)"></i><i style="background:linear-gradient(#0000f8 0px,#0004ff 67px,#0020ff 84px,#0028ff 124px,#0056ff 132px,#005eff 193px,#008cff 221px,#008cff 243px,#00bcff 247px,#00c4ff 255px,#04e8f4 270px,#0cf4eb 278px,#13fae4 360px,#40ffb7 388px,#87ff70 413px,#8dff6a 442px,#dbff1c 496px,#dfff17 552px,#faf101 571px,#ffe600 580px,#ffe600 631px,#e7ff0f 642px,#deff19 651px,#d7ff1f 659px,#5eff98 680px,#5dff9a 700px,#33ffc4 701px,#00bcff 702px,#0052ff 703px,#0000f6 704px,#000080 708px,#000080 713px)"></i><i style="background:linear-gradient(#0000ea 0px,#0000ef 56px,#0000ff 69px,#000aff 81px,#0012ff 124px,#003aff 132px,#0046ff 195px,#006aff 222px,#006aff 243px,#0098ff 247px,#00a0ff 255px,#00d0ff 275px,#00d6ff 359px,#09f0ee 375px,#23ffd4 388px,#68ff8f 413px,#70ff87 442px,#baff3c 496px,#beff39 551px,#e4ff13 578px,#e7ff0f 627px,#d7ff1f 636px,#c1ff36 647px,#baff3c 659px,#43ffb4 679px,#3effb9 700px,#16fee1 701px,#0098ff 702px,#0034ff 703px,#0000e6 704px,#000080 708px,#000080 713px)"></i><i style="background:linear-gradient(#0000dd 0px,#0000e1 57px,#0000f6 73px,#0004fd 106px,#0006fd 124px,#0022ff 133px,#0028ff 192px,#004aff 223px,#004aff 243px,#0076ff 247px,#007eff 255px,#00b2ff 276px,#00b6ff 360px,#09e0f2 385px,#1ef8d9 396px,#4bffac 412px,#58ff9f 444px,#9fff58 497px,#a2ff55 552px,#c9ff2e 580px,#c9ff2e 631px,#a2ff55 648px,#9cff5b 659px,#2bffcc 679px,#23fad4 700px,#08dcf3 701px,#0072ff 702px,#0018ff 703px,#0000d4 704px,#000080 708px,#000080 713px)"></i><i style="background:linear-gradient(#0000fd 0px,#0004ff 65px,#0026ff 84px,#002aff 124px,#0058ff 132px,#005eff 178px,#006cff 198px,#008cff 222px,#008cff 243px,#00b2ff 247px,#00b6ff 254px,#04e6f6 270px,#0af2ec 276px,#0ef6e9 359px,#2effc9 385px,#7fff78 413px,#8fff68 446px,#c6ff31 488px,#cfff28 498px,#d2ff24 551px,#f3f806 573px,#fde800 606px,#faef01 627px,#f0fa08 635px,#d6ff21 649px,#c9ff2e 660px,#5dff9a 680px,#55ffa2 700px,#2bffcc 701px,#00b2ff 702px,#0048ff 703px,#0000f1 704px,#000080 708px,#000080 713px)"></i><i style="background:linear-gradient(#0000fa 0px,#0004ff 69px,#001cff 85px,#0020ff 124px,#004aff 132px,#0050ff 178px,#0070ff 212px,#007cff 224px,#0080ff 244px,#009eff 247px,#00a6ff 255px,#00e0fb 275px,#01e4f8 360px,#19ffde 384px,#6dff8a 413px,#82ff75 448px,#afff48 484px,#beff39 498px,#c2ff34 552px,#ebff0c 582px,#f4f803 606px,#eefe09 625px,#c4ff33 652px,#b7ff40 660px,#50ffa7 679px,#49ffad 693px,#43ffb4 700px,#19ffde 701px,#009aff 702px,#0036ff 703px,#0000e6 704px,#000080 708px,#000080 713px)"></i><i style="background:linear-gradient(#0000ff 0px,#0004ff 62px,#0028ff 84px,#0028ff 123px,#005cff 132px,#0060ff 171px,#0090ff 225px,#0094ff 244px,#00acff 247px,#00b2ff 254px,#00e0fb 268px,#0cf4eb 276px,#0ff8e7 361px,#1fffd7 378px,#31ffc6 388px,#78ff7f 413px,#a2ff55 467px,#caff2c 497px,#cfff28 552px,#f3fa04 576px,#ffe600 599px,#ffea00 621px,#eeff09 635px,#c4ff33 660px,#60ff97 679px,#5dff9a 690px,#4effa9 700px,#24ffd2 701px,#00aaff 702px,#0042ff 703px,#0000ed 704px,#000080 708px,#000080 713px)"></i><i style="background:linear-gradient(#0000f6 0px,#0000fa 60px,#0018ff 87px,#001cff 124px,#0044ff 132px,#0048ff 170px,#0076ff 225px,#007aff 244px,#008eff 248px,#0094ff 254px,#03d6f8 273px,#06def5 361px,#11f0e7 385px,#30ffc7 396px,#62ff95 414px,#92ff65 473px,#b2ff45 497px,#b7ff40 553px,#e4fa13 585px,#eef40c 606px,#e7f811 623px,#bfff38 650px,#b1ff46 659px,#4bffac 680px,#48ffaf 690px,#36ffc1 699px,#36ffc1 700px,#10eeeb 701px,#008cff 702px,#002aff 703px,#0000e1 704px,#000080 708px,#000080 713px)"></i><i style="background:linear-gradient(#0002ff 0px,#0006ff 60px,#002cff 83px,#002cff 123px,#005eff 132px,#0062ff 168px,#0090ff 220px,#0094ff 244px,#00a6ff 248px,#00acff 254px,#04e4f6 269px,#0ff6e7 275px,#14f8e3 365px,#26ffd1 386px,#75ff82 413px,#a7ff50 474px,#c6ff31 497px,#caff2c 552px,#f1f808 579px,#ffe200 602px,#fde600 619px,#ebfc0c 635px,#c4ff33 659px,#60ff97 680px,#5bff9c 691px,#49ffad 699px,#49ffad 700px,#1fffd7 701px,#00a4ff 702px,#003eff 703px,#0000ea 704px,#000080 708px,#000080 713px)"></i><i style="background:linear-gradient(#0004ff 0px,#0008ff 59px,#0032ff 85px,#0036ff 124px,#0062ff 132px,#0066ff 168px,#008aff 202px,#0096ff 231px,#0098ff 244px,#00a6ff 248px,#00acff 254px,#03def8 267px,#11f6e6 275px,#16fae1 364px,#26ffd1 386px,#75ff82 414px,#92ff65 448px,#a7ff50 474px,#c6ff31 497px,#caff2c 553px,#f1f808 579px,#ffe000 600px,#fde600 620px,#ebfc0c 635px,#d1ff26 653px,#baff3c 661px,#65ff92 680px,#62ff95 690px,#49ffad 698px,#49ffad 700px,#1fffd7 701px,#00a4ff 702px,#003eff 703px,#0000ea 704px,#000080 708px,#000080 713px)"></i><i style="background:linear-gradient(#0006ff 0px,#000aff 58px,#0036ff 84px,#003aff 124px,#0068ff 132px,#006cff 169px,#008eff 195px,#009aff 236px,#00a0ff 245px,#00a8ff 250px,#00b0ff 255px,#03e2f8 267px,#16fce1 275px,#1bfedc 370px,#23ffd4 385px,#77ff80 414px,#94ff63 446px,#a0ff56 470px,#c4ff33 496px,#c7ff30 551px,#f1fa06 579px,#ffdb00 597px,#ffde00 619px,#eefc09 631px,#deff19 648px,#bfff38 660px,#68ff8f 680px,#63ff94 690px,#49ffad 698px,#49ffad 700px,#1fffd7 701px,#00a4ff 702px,#003eff 703px,#0000ea 704px,#000080 708px,#000080 713px)"></i><i style="background:linear-gradient(#0018ff 0px,#001cff 57px,#004eff 84px,#0052ff 124px,#0084ff 132px,#0088ff 167px,#00aeff 193px,#00b8ff 241px,#00c4ff 253px,#00e4f8 261px,#16ffe1 267px,#2effc9 275px,#33ffc4 381px,#50ffa7 393px,#8aff6d 413px,#acff4b 445px,#b4ff43 469px,#dbff1c 496px,#deff19 552px,#f4f802 567px,#ffe200 578px,#ffbf00 600px,#ffc400 619px,#ffea00 634px,#f8f500 647px,#e6ff11 654px,#b7ff40 667px,#80ff77 680px,#7bff7b 690px,#5eff98 699px,#5eff98 700px,#36ffc1 701px,#00bcff 702px,#0052ff 703px,#0000f6 704px,#000080 708px,#000080 713px)"></i><i style="background:linear-gradient(#002aff 0px,#002eff 57px,#0060ff 83px,#0060ff 123px,#009aff 132px,#00a0ff 168px,#00c8ff 194px,#01d4fa 252px,#17f8df 263px,#3effb9 275px,#45ffb2 384px,#98ff5e 413px,#bcff3b 444px,#c6ff31 470px,#e9fa0e 497px,#ecf80c 552px,#fbe400 569px,#ffac00 599px,#ffb000 619px,#ffd700 633px,#fdde00 646px,#e9fa0e 658px,#92ff65 680px,#90ff66 689px,#6bff8c 698px,#6bff8c 700px,#41ffb5 701px,#00cefd 702px,#005eff 703px,#0000fa 704px,#000080 708px,#000080 713px)"></i><i style="background:linear-gradient(#002cff 0px,#0030ff 58px,#005eff 84px,#0062ff 124px,#0090ff 131px,#0098ff 167px,#00c4ff 195px,#00ccff 252px,#0cf4eb 262px,#2bffcc 271px,#36ffc1 278px,#3bffbc 384px,#90ff66 415px,#b2ff45 443px,#beff39 471px,#deff19 497px,#e3ff14 552px,#faef01 570px,#ffb900 599px,#ffb800 618px,#ffe000 633px,#fdea00 646px,#e3ff14 657px,#88ff6e 680px,#83ff73 690px,#62ff95 698px,#62ff95 700px,#38ffbf 701px,#00c2ff 702px,#0054ff 703px,#0000fa 704px,#000080 708px,#000080 713px)"></i><i style="background:linear-gradient(#0036ff 0px,#003aff 57px,#006aff 84px,#006eff 124px,#009aff 132px,#00a6ff 168px,#00ccff 194px,#00d8ff 253px,#09f0ee 259px,#1cffdb 265px,#3cffba 276px,#40ffb7 384px,#94ff63 415px,#b7ff40 441px,#c1ff36 470px,#e1ff16 497px,#e6ff11 552px,#f4f802 562px,#ffe200 575px,#ffb600 598px,#ffb600 619px,#ffdb00 632px,#ffe200 646px,#f1fc06 653px,#c1ff36 667px,#8dff6a 680px,#8dff6a 689px,#66ff90 697px,#66ff90 700px,#3cffba 701px,#00c8ff 702px,#0058ff 703px,#0000fa 704px,#000080 708px,#000080 713px)"></i><i style="background:linear-gradient(#0040ff 0px,#0044ff 58px,#006cff 84px,#0070ff 124px,#009aff 132px,#00a8ff 168px,#00ccff 194px,#00d4ff 240px,#00dcfb 254px,#16fce1 263px,#38ffbf 276px,#3cffba 379px,#4dffaa 389px,#90ff66 415px,#b4ff43 442px,#c1ff36 472px,#deff19 498px,#e1ff16 552px,#faf101 569px,#ffbb00 599px,#ffb900 619px,#ffde00 634px,#fdea00 647px,#e4ff13 656px,#8aff6d 680px,#8aff6d 689px,#60ff97 698px,#60ff97 700px,#36ffc1 701px,#00c0ff 702px,#0056ff 703px,#0000f8 704px,#000080 708px,#000080 713px)"></i><i style="background:linear-gradient(#003cff 0px,#0040ff 58px,#0060ff 85px,#0064ff 124px,#0086ff 132px,#0094ff 161px,#00acff 182px,#00baff 197px,#00c0ff 230px,#00caff 253px,#0ef2e9 266px,#26ffd1 276px,#2bffcc 371px,#34ffc2 386px,#7dff7a 415px,#a4ff53 444px,#b4ff43 474px,#caff2c 498px,#ceff29 551px,#eef60c 573px,#fddd00 593px,#ffcc00 618px,#f6ef04 634px,#ebf80e 648px,#c1ff36 661px,#77ff80 680px,#73ff83 690px,#50ffa7 697px,#50ffa7 700px,#26ffd1 701px,#00acff 702px,#0044ff 703px,#0000ed 704px,#000080 708px,#000080 713px)"></i><i style="background:linear-gradient(#0040ff 0px,#0044ff 59px,#005eff 85px,#0062ff 124px,#0080ff 133px,#0092ff 156px,#0098ff 170px,#00b4ff 196px,#00baff 230px,#00c6ff 252px,#00e2f9 262px,#19ffde 273px,#1fffd7 365px,#30ffc7 386px,#77ff80 416px,#9aff5d 444px,#b4ff43 481px,#c1ff36 498px,#c4ff33 551px,#f3fa04 582px,#ffe000 601px,#ffd700 619px,#f4f803 636px,#e4ff13 647px,#acff4b 664px,#70ff87 680px,#6dff8a 689px,#46ffb1 698px,#46ffb1 700px,#1cffdb 701px,#00a0ff 702px,#003aff 703px,#0000ea 704px,#000080 708px,#000080 713px)"></i><i style="background:linear-gradient(#0042ff 0px,#0046ff 60px,#005cff 87px,#0060ff 125px,#0078ff 133px,#008cff 154px,#0090ff 168px,#00aaff 195px,#00b0ff 225px,#00c0ff 248px,#00c8ff 255px,#03e8f4 267px,#11fae6 275px,#14fce3 362px,#2bffcc 387px,#6bff8c 416px,#92ff65 445px,#b9ff3e 501px,#beff39 553px,#f3fa04 592px,#ffe000 618px,#f0fc07 634px,#d6ff21 649px,#8aff6d 670px,#65ff92 680px,#65ff92 689px,#3bffbc 698px,#3bffbc 700px,#11fae6 701px,#0092ff 702px,#0030ff 703px,#0000e4 704px,#000080 708px,#000080 713px)"></i><i style="background:linear-gradient(#005eff 0px,#0062ff 59px,#0078ff 88px,#007cff 125px,#0090ff 133px,#009cff 143px,#00aaff 153px,#00b2ff 172px,#00c4ff 196px,#00c8ff 224px,#00defb 248px,#03e8f4 257px,#19ffde 269px,#23ffd4 279px,#28ffcf 363px,#3cffba 386px,#7fff78 418px,#a5ff51 447px,#c9ff2e 501px,#ceff29 553px,#f3fa04 578px,#ffe200 599px,#ffd000 619px,#f8f501 641px,#dcff1b 652px,#7fff78 677px,#75ff82 683px,#75ff82 689px,#4dffaa 698px,#4dffaa 700px,#23ffd4 701px,#00a6ff 702px,#0042ff 703px,#0000ed 704px,#000080 708px,#000080 713px)"></i><i style="background:linear-gradient(#0060ff 0px,#0064ff 60px,#0076ff 90px,#007aff 125px,#008aff 135px,#00a8ff 154px,#00b4ff 181px,#00bcff 205px,#00c2ff 224px,#00dafb 246px,#03e2f8 256px,#19fcde 274px,#1cfedb 361px,#39ffbe 388px,#7aff7d 420px,#a0ff56 452px,#beff39 497px,#c1ff36 551px,#eefa09 583px,#fbea00 604px,#ffd700 618px,#f4f606 638px,#e1ff16 647px,#a5ff51 665px,#6dff8a 680px,#6bff8c 689px,#43ffb4 698px,#43ffb4 700px,#19fcde 701px,#009cff 702px,#0036ff 703px,#0000e8 704px,#000080 708px,#000080 713px)"></i><i style="background:linear-gradient(#0064ff 0px,#0068ff 61px,#0076ff 92px,#007aff 126px,#0086ff 134px,#008eff 140px,#00aaff 153px,#00b2ff 183px,#00baff 204px,#00beff 223px,#01dcfa 246px,#04e2f6 257px,#13f6e4 275px,#17fadf 361px,#38ffbf 388px,#83ff73 431px,#afff48 474px,#b9ff3e 515px,#beff39 553px,#e4fe13 581px,#f8ed03 609px,#ffe000 619px,#ecfa0b 640px,#afff48 661px,#66ff90 680px,#65ff92 689px,#3cffba 698px,#3cffba 700px,#13f6e4 701px,#0094ff 702px,#0030ff 703px,#0000e6 704px,#000080 708px,#000080 713px)"></i><i style="background:linear-gradient(#0078ff 0px,#007eff 67px,#0088ff 126px,#0096ff 139px,#00b8ff 152px,#00c4ff 218px,#06e8f4 242px,#13f8e4 268px,#1bfedc 360px,#48ffaf 393px,#98ff5e 443px,#b5ff41 473px,#beff39 528px,#c2ff34 553px,#e9fe0e 580px,#f8f303 603px,#ffd900 619px,#fbeb00 634px,#e3ff14 646px,#a4ff53 665px,#6bff8c 680px,#6aff8d 689px,#41ffb5 698px,#41ffb5 700px,#17fcdf 701px,#009aff 702px,#0036ff 703px,#0000e8 704px,#000080 708px,#000080 713px)"></i><i style="background:linear-gradient(#006eff 0px,#0074ff 77px,#007aff 129px,#0086ff 140px,#00aaff 152px,#00b4ff 221px,#00dcfd 246px,#06ecf1 285px,#09f0ee 360px,#19ffde 373px,#8aff6d 446px,#a5ff51 472px,#afff48 552px,#d4ff23 579px,#dfff17 600px,#f4f802 613px,#fbf100 619px,#f4f802 632px,#d7ff1f 644px,#9aff5d 663px,#56ffa0 680px,#53ffa4 690px,#30ffc7 697px,#30ffc7 700px,#06ecf1 701px,#0084ff 702px,#0024ff 703px,#0000da 704px,#000080 708px,#000080 713px)"></i><i style="background:linear-gradient(#0080ff 0px,#008aff 137px,#00b8ff 152px,#00c2ff 222px,#04e8f4 240px,#09f0ee 248px,#13fae4 290px,#16fce1 360px,#b1ff46 466px,#baff3c 552px,#dfff17 579px,#e7ff0f 599px,#ffe400 617px,#fdea00 632px,#e3ff14 643px,#98ff5e 666px,#63ff94 680px,#63ff94 689px,#39ffbe 698px,#39ffbe 700px,#11f8e6 701px,#0094ff 702px,#0032ff 703px,#0000e6 704px,#000086 708px,#000082 713px)"></i><i style="background:linear-gradient(#0084ff 0px,#0088ff 137px,#00baff 152px,#00c0ff 221px,#03e6f6 236px,#0ff8e7 245px,#14fce3 287px,#17fedf 360px,#acff4b 460px,#b5ff41 482px,#baff3c 552px,#e3ff14 579px,#e9ff0e 600px,#ffea00 613px,#ffe200 625px,#ffea00 633px,#e7ff0f 642px,#a9ff4e 663px,#66ff90 680px,#62ff95 690px,#3effb9 697px,#3effb9 700px,#14fce3 701px,#009aff 702px,#003aff 703px,#0000f1 704px,#00008f 708px,#00008b 713px)"></i><i style="background:linear-gradient(#0080ff 0px,#0082ff 138px,#00b2ff 152px,#00b4ff 220px,#0beaf0 239px,#11f0e7 256px,#13f2e4 359px,#33ffc4 381px,#a7ff50 460px,#b1ff46 474px,#b4ff43 552px,#defe19 579px,#e1fc16 599px,#f6e904 619px,#f2ef09 635px,#d4ff23 647px,#a4ff53 663px,#63ff94 680px,#60ff97 689px,#39ffbe 697px,#39ffbe 700px,#11f2e6 701px,#0096ff 702px,#0038ff 703px,#0000f3 704px,#000096 708px,#00008f 713px)"></i><i style="background:linear-gradient(#0076ff 0px,#007aff 138px,#00a8ff 152px,#00aaff 220px,#00e0fb 236px,#11fae6 245px,#16fee1 285px,#14fee3 360px,#98ff5e 449px,#adff49 471px,#b2ff45 551px,#dfff17 579px,#e3ff14 600px,#f6f601 611px,#ffeb00 621px,#fbf100 633px,#e9ff0e 639px,#a9ff4e 662px,#63ff94 680px,#5eff98 690px,#3bffbc 697px,#3bffbc 700px,#14fee3 701px,#009cff 702px,#0040ff 703px,#0000fd 704px,#0000a4 708px,#00009b 713px)"></i><i style="background:linear-gradient(#007aff 0px,#007eff 139px,#00aaff 151px,#00aeff 220px,#00e0fb 233px,#19ffde 242px,#28ffcf 279px,#1effd9 316px,#21ffd6 360px,#a5ff51 450px,#b7ff40 472px,#baff3c 551px,#ecfe0a 579px,#f1fc06 601px,#ffe200 617px,#ffe200 632px,#eefe09 640px,#b5ff41 662px,#6eff88 680px,#6aff8d 690px,#46ffb1 698px,#46ffb1 700px,#21ffd6 701px,#00b2ff 702px,#0006ff 704px,#0000fd 705px,#0000bb 708px,#0000ad 713px)"></i><i style="background:linear-gradient(#007aff 0px,#0080ff 138px,#00b0ff 152px,#00b0ff 220px,#01e2f9 231px,#1bffdc 239px,#29ffce 245px,#36ffc1 278px,#29ffce 317px,#2cffca 359px,#adff49 446px,#bfff38 472px,#c2ff34 550px,#f1fa06 573px,#f8f503 586px,#fbef00 600px,#ffd500 621px,#ffd900 632px,#f3fa04 642px,#c6ff31 661px,#7dff7a 680px,#7bff7b 689px,#53ffa4 698px,#53ffa4 700px,#30ffc7 701px,#00c8ff 702px,#001cff 704px,#0008ff 705px,#0000fd 706px,#0000d4 708px,#0000bf 713px)"></i><i style="background:linear-gradient(#0048ff 0px,#004cff 62px,#0056ff 97px,#005cff 115px,#0066ff 129px,#006aff 138px,#009aff 152px,#0094ff 161px,#008aff 166px,#009aff 213px,#009cff 220px,#01e2f9 234px,#1bffdc 241px,#24ffd2 247px,#31ffc6 269px,#31ffc6 282px,#24ffd2 309px,#28ffcf 360px,#a2ff55 443px,#b7ff40 474px,#baff3c 551px,#f3fa04 578px,#f8f501 602px,#ffe000 623px,#ffe400 632px,#eefe09 640px,#bcff3b 662px,#75ff82 680px,#72ff85 690px,#4effa9 697px,#4effa9 700px,#2bffcc 701px,#00c6ff 702px,#0024ff 704px,#0002ff 706px,#0000f8 707px,#0000e4 708px,#0000cd 713px)"></i><i style="background:linear-gradient(#001aff 0px,#001cff 58px,#003aff 86px,#003cff 111px,#005cff 125px,#005cff 138px,#008eff 151px,#008eff 159px,#006cff 165px,#008cff 197px,#0092ff 220px,#01e0fa 234px,#1bffdc 241px,#26ffd1 246px,#36ffc1 269px,#36ffc1 281px,#26ffd1 308px,#2bffcc 360px,#a4ff53 443px,#b4ff43 473px,#b7ff40 550px,#f1fa06 575px,#f8f503 602px,#ffe200 622px,#ffe600 632px,#e4ff13 643px,#c6ff31 660px,#78ff7f 680px,#73ff83 690px,#50ffa7 697px,#50ffa7 700px,#2effc9 701px,#00ceff 702px,#0032ff 704px,#0000ff 707px,#0000da 713px)"></i><i style="background:linear-gradient(#0000fd 0px,#0004ff 64px,#0024ff 84px,#0028ff 110px,#005cff 124px,#005cff 138px,#0092ff 151px,#0092ff 159px,#005eff 164px,#0064ff 170px,#008eff 195px,#0096ff 220px,#01e0fa 232px,#1effd9 239px,#33ffc4 244px,#3cffba 261px,#4bffac 276px,#33ffc4 307px,#38ffbf 360px,#b2ff45 444px,#bfff38 481px,#c4ff33 551px,#f0fa08 569px,#fbea00 580px,#ffe400 605px,#ffd700 626px,#ffdb00 632px,#eefc09 643px,#cfff28 661px,#85ff72 680px,#85ff72 689px,#5bff9c 698px,#5bff9c 700px,#3effb9 701px,#04e4f6 702px,#004cff 704px,#0006ff 708px,#0000f1 713px)"></i><i style="background:linear-gradient(#0000dd 0px,#0000e1 57px,#0008f6 79px,#0010fa 112px,#0024ff 126px,#002cff 139px,#004eff 152px,#004eff 159px,#0028ff 165px,#0052ff 194px,#0052ff 220px,#01bcfa 236px,#11dcea 242px,#21f0d7 277px,#15e0e6 311px,#18e4e3 361px,#2cf8ca 383px,#4effa9 405px,#83ff73 443px,#8dff6a 482px,#90ff66 550px,#d4fa23 578px,#dbf620 610px,#dbf620 633px,#b7ff40 646px,#a5ff51 660px,#58ff9f 680px,#53ffa4 690px,#30fac7 698px,#30fac7 700px,#19e8e1 701px,#00b2ff 702px,#0068ff 703px,#002cff 704px,#0004f6 708px,#0000e4 713px)"></i><i style="background:linear-gradient(#0000ea 0px,#0000ef 57px,#0000ff 68px,#000cff 81px,#0014ff 112px,#002eff 125px,#0032ff 133px,#0060ff 152px,#005eff 159px,#0040ff 165px,#006eff 193px,#0060ff 219px,#00b8ff 232px,#01e2f9 238px,#1bffdc 243px,#28ffcf 260px,#3cffba 276px,#1effd9 305px,#21ffd6 360px,#9cff5b 443px,#a2ff55 536px,#a5ff51 550px,#ecfe0a 577px,#f3fa04 632px,#caff2c 647px,#c2ff34 659px,#6eff88 680px,#6bff8c 690px,#48ffaf 697px,#48ffaf 700px,#2bffcc 701px,#00d4ff 702px,#004eff 704px,#0010ff 709px,#0000ff 712px,#0000ff 713px)"></i><i style="background:linear-gradient(#0000f1 0px,#0000f6 58px,#0000ff 64px,#0008ff 75px,#0014ff 85px,#0018ff 112px,#002aff 127px,#002cff 132px,#0048ff 138px,#005cff 154px,#0058ff 160px,#004aff 166px,#007aff 193px,#005cff 219px,#00dcfe 236px,#11fae6 240px,#26ffd1 244px,#2effc9 258px,#48ffaf 276px,#26ffd1 305px,#2bffcc 360px,#a0ff56 441px,#a7ff50 529px,#aaff4d 550px,#f3fa04 576px,#fbf100 631px,#e7ff0f 637px,#ceff29 648px,#c6ff31 660px,#78ff7f 680px,#78ff7f 689px,#4effa9 698px,#4effa9 700px,#34ffc2 701px,#01e6f6 702px,#0064ff 704px,#0024ff 709px,#0006ff 713px)"></i><i style="background:linear-gradient(#0000e3 0px,#0000e8 59px,#0000ff 73px,#000aff 119px,#0010ff 132px,#0030ff 137px,#003aff 159px,#0030ff 166px,#005aff 193px,#0040ff 220px,#00daff 240px,#0cf4eb 244px,#09f0ee 250px,#1cffdb 262px,#2effc9 275px,#11fae6 298px,#0cf4eb 322px,#0ff8e7 359px,#29ffce 376px,#83ff73 442px,#8dff6a 549px,#dbff1c 578px,#dbff1c 632px,#b4ff43 646px,#adff49 659px,#62ff95 680px,#60ff97 689px,#38ffbf 698px,#38ffbf 700px,#1effd9 701px,#00caff 702px,#004eff 704px,#001aff 709px,#0000ff 713px)"></i><i style="background:linear-gradient(#0000e4 0px,#0000e8 57px,#0000ff 73px,#000eff 132px,#0032ff 137px,#0034ff 162px,#003aff 170px,#005cff 193px,#0042ff 220px,#01dcfa 240px,#0cf4eb 243px,#08eaf3 247px,#23ffd4 266px,#2effc9 276px,#0ff6e7 305px,#13f8e4 360px,#3bffbc 389px,#82ff75 443px,#90ff66 550px,#dbff1c 578px,#d9ff1e 632px,#b2ff45 646px,#acff4b 660px,#63ff94 681px,#60ff97 690px,#3cffba 697px,#3cffba 700px,#23ffd4 701px,#00d0ff 702px,#0056ff 704px,#001aff 710px,#0004ff 713px)"></i><i style="background:linear-gradient(#0000df 0px,#0000e4 57px,#0000ff 75px,#0004ff 132px,#002aff 137px,#002eff 167px,#0054ff 194px,#003aff 220px,#00dcfb 241px,#06ecf1 243px,#00dafb 247px,#0cf4eb 255px,#24ffd2 276px,#0cf4eb 299px,#0cf4eb 360px,#29ffce 381px,#75ff82 443px,#7bff7b 487px,#87ff70 550px,#d1ff26 577px,#d4ff23 612px,#ccff2b 633px,#a7ff50 647px,#a4ff53 660px,#60ff97 681px,#5bff9c 690px,#38ffbf 698px,#38ffbf 700px,#1effd9 701px,#00ccff 702px,#0054ff 704px,#001aff 710px,#0004ff 713px)"></i><i style="background:linear-gradient(#0000cd 0px,#0000d1 59px,#0000ea 78px,#0004f1 133px,#0014fd 138px,#001aff 173px,#002cff 194px,#0020ff 220px,#0032ff 224px,#01c2fa 243px,#00aeff 246px,#00a6ff 247px,#03c6f8 253px,#0ee0ed 274px,#03c6f8 307px,#04caf6 359px,#13e6e8 385px,#2cfcca 415px,#48ffaf 441px,#4dffaa 472px,#5aff9d 501px,#63ff94 549px,#adff49 577px,#b4ff43 603px,#aaff4d 632px,#83ff73 646px,#80ff77 660px,#41ffb5 681px,#3cffba 690px,#1df0dc 697px,#1deede 700px,#10e0eb 701px,#00a6ff 702px,#002cff 704px,#0008f4 711px,#0000ef 713px)"></i><i style="background:linear-gradient(#0000e4 0px,#0000e8 57px,#0000fa 69px,#000aff 96px,#000cff 132px,#0034ff 137px,#0038ff 167px,#0062ff 193px,#0050ff 219px,#0076ff 225px,#01d4fa 238px,#10f2e7 243px,#09e6f2 245px,#00cefb 247px,#10f2e7 252px,#21fcd6 277px,#13f4e4 312px,#17f8df 362px,#40ffb7 400px,#68ff8f 442px,#6bff8c 470px,#82ff75 499px,#8cff6b 545px,#a0ff56 556px,#d7ff1f 579px,#deff19 603px,#d4ff23 629px,#b7ff40 641px,#aaff4d 647px,#a7ff50 660px,#72ff85 680px,#70ff87 689px,#48ffaf 698px,#48ffaf 700px,#2effc9 701px,#04def6 702px,#0062ff 704px,#0024ff 710px,#000cff 713px)"></i><i style="background:linear-gradient(#0000df 0px,#0000e6 58px,#0000ff 75px,#0004ff 132px,#002aff 137px,#0032ff 169px,#0054ff 194px,#004cff 220px,#00defc 242px,#01e6f6 243px,#00b4ff 247px,#00dcfe 251px,#04eaf3 253px,#0ff8e7 279px,#07eef0 317px,#0af2ec 361px,#1bffdc 379px,#53ffa4 442px,#56ffa0 470px,#72ff85 496px,#75ff82 527px,#88ff6e 551px,#c9ff2e 579px,#d2ff24 601px,#c6ff31 625px,#bfff38 633px,#9cff5b 646px,#98ff5e 660px,#6aff8d 681px,#6aff8d 689px,#40ffb7 698px,#40ffb7 700px,#26ffd1 701px,#00d2ff 702px,#0052ff 704px,#0002ff 713px)"></i><i style="background:linear-gradient(#0000e8 0px,#0000ed 34px,#0002ff 71px,#001eff 116px,#0020ff 132px,#003cff 138px,#0058ff 175px,#006aff 195px,#006aff 220px,#00defc 243px,#00beff 247px,#00defc 251px,#04eaf3 254px,#1bffdc 272px,#1cffdb 362px,#5bff9c 444px,#60ff97 470px,#82ff75 497px,#88ff6e 531px,#9aff5d 551px,#d7ff1f 579px,#e7ff0f 598px,#d4ff23 623px,#cfff28 633px,#acff4b 646px,#a7ff50 661px,#7fff78 681px,#7fff78 689px,#55ffa2 698px,#55ffa2 700px,#3bffbc 701px,#06ecf1 702px,#00a8ff 703px,#006aff 704px,#0022ff 711px,#0010ff 713px)"></i><i style="background:linear-gradient(#0000f1 0px,#0000f6 31px,#0008ff 55px,#001cff 87px,#003aff 114px,#003cff 133px,#004eff 141px,#0070ff 172px,#007eff 212px,#0088ff 222px,#00ccff 244px,#00c0ff 247px,#01e2f9 254px,#1cffdb 271px,#26ffd1 310px,#29ffce 363px,#5eff98 446px,#62ff95 469px,#8cff6b 497px,#90ff66 529px,#a7ff50 551px,#e4ff13 581px,#f4f606 598px,#deff19 622px,#dbff1c 632px,#b4ff43 646px,#b1ff46 661px,#8fff68 682px,#8aff6d 690px,#66ff90 698px,#66ff90 700px,#4bffac 701px,#14f8e3 702px,#00baff 703px,#007aff 704px,#002cff 711px,#001cff 713px)"></i><i style="background:linear-gradient(#0000d8 0px,#0000dd 30px,#0000ed 45px,#0008f4 66px,#000ef8 89px,#0022ff 116px,#0026ff 142px,#0048ff 168px,#004eff 206px,#005eff 225px,#008cff 251px,#03c4f8 269px,#0bd6f0 277px,#15e0e6 374px,#28f6cf 435px,#30fcc7 469px,#5eff98 496px,#63ff94 526px,#83ff73 554px,#baff3c 583px,#caff2c 599px,#b1ff46 622px,#acff4b 633px,#88ff6e 646px,#82ff75 663px,#6aff8d 683px,#65ff92 690px,#41ffb5 698px,#41ffb5 700px,#25f2d2 701px,#09cef2 702px,#0088ff 703px,#0048ff 704px,#001eff 709px,#000cf6 713px)"></i><i style="background:linear-gradient(#0000e8 0px,#0000ed 29px,#0000ff 42px,#000cff 62px,#0010ff 85px,#003aff 112px,#003eff 139px,#006aff 167px,#0070ff 200px,#0098ff 248px,#00e0fb 270px,#09f0ee 278px,#17fedf 308px,#1bffdc 365px,#3bffbc 449px,#3effb9 468px,#77ff80 496px,#7bff7b 526px,#a2ff55 556px,#e6ff11 596px,#c9ff2e 622px,#c4ff33 633px,#a0ff56 646px,#9aff5d 664px,#8aff6d 684px,#83ff73 690px,#60ff97 698px,#60ff97 700px,#43ffb4 701px,#0af2ec 702px,#00acff 703px,#006aff 704px,#0020ff 711px,#0010ff 713px)"></i><i style="background:linear-gradient(#0000e1 0px,#0000e6 30px,#0006f8 49px,#0012ff 90px,#002eff 113px,#0030ff 139px,#005aff 167px,#005eff 196px,#0078ff 223px,#007cff 248px,#01c8fa 271px,#08d8f3 277px,#15e8e6 309px,#19f0df 398px,#24fad2 464px,#39ffbe 475px,#66ff90 496px,#6bff8c 526px,#9cff5b 560px,#d9fc1e 598px,#b9ff3e 620px,#b4ff43 633px,#8fff68 646px,#88ff6e 669px,#7fff78 689px,#56ffa0 698px,#56ffa0 700px,#39ffbe 701px,#0ee0ed 702px,#009eff 703px,#005aff 704px,#0018ff 711px,#000eff 713px)"></i><i style="background:linear-gradient(#0006fa 0px,#000aff 32px,#002eff 58px,#0032ff 85px,#005eff 111px,#0062ff 139px,#0090ff 167px,#0092ff 196px,#00acff 221px,#0098ff 247px,#00e0fb 268px,#11fae6 277px,#2effc9 306px,#31ffc6 376px,#41ffb5 468px,#87ff70 496px,#8aff6d 526px,#d4ff23 574px,#f1fc06 591px,#fbf100 598px,#ebff0c 607px,#d7ff1f 620px,#d2ff24 633px,#adff49 646px,#a4ff53 689px,#7bff7b 698px,#7bff7b 700px,#5eff98 701px,#23ffd4 702px,#00c8ff 703px,#0084ff 704px,#003cff 710px,#0020ff 713px)"></i><i style="background:linear-gradient(#003aff 0px,#003cff 29px,#006aff 57px,#006cff 86px,#0088ff 114px,#008cff 142px,#00a8ff 170px,#009eff 219px,#007cff 247px,#00daff 276px,#0ef6e9 293px,#19ffde 307px,#1bffdc 383px,#24ffd2 467px,#6eff88 495px,#73ff83 525px,#b9ff3e 573px,#e3ff14 598px,#bfff38 620px,#bcff3b 632px,#95ff62 646px,#90ff66 689px,#66ff90 698px,#66ff90 700px,#49ffad 701px,#0ff8e7 702px,#00b0ff 703px,#0068ff 704px,#0010ff 713px)"></i><i style="background:linear-gradient(#0090ff 0px,#0094ff 29px,#00c2ff 55px,#00c8ff 94px,#00d2ff 124px,#00dcfd 160px,#00dcfd 194px,#0092ff 235px,#0080ff 247px,#01defa 278px,#19fede 301px,#21ffd6 467px,#70ff87 495px,#75ff82 526px,#d1ff26 586px,#e4ff13 598px,#beff39 620px,#b9ff3e 633px,#95ff62 646px,#95ff62 689px,#6dff8a 698px,#6dff8a 700px,#50ffa7 701px,#13fae4 702px,#00b4ff 703px,#006cff 704px,#001aff 712px,#0012ff 713px)"></i><i style="background:linear-gradient(#00c2ff 0px,#00c6ff 30px,#00e4f8 47px,#09f0ee 59px,#07eef0 193px,#00d4ff 202px,#009aff 223px,#0070ff 247px,#00c6ff 278px,#00e4f8 294px,#0af2ec 304px,#06ecf1 355px,#0ef6e9 467px,#28ffcf 476px,#5eff98 495px,#62ff95 525px,#b9ff3e 584px,#d1ff26 598px,#aaff4d 619px,#a7ff50 632px,#82ff75 646px,#82ff75 690px,#5eff98 697px,#5eff98 700px,#3effb9 701px,#04eaf3 702px,#009eff 703px,#0058ff 704px,#000eff 712px,#0006ff 713px)"></i><i style="background:linear-gradient(#00d8ff 0px,#00dcfd 31px,#0ff8e7 59px,#0cf4eb 193px,#00d2ff 207px,#008cff 240px,#0084ff 248px,#00d0ff 281px,#0cf4eb 301px,#0af2ec 341px,#06ecf1 361px,#0ff8e7 402px,#13fae4 468px,#60ff97 494px,#65ff92 525px,#a9ff4e 576px,#d1ff26 598px,#aaff4d 620px,#a5ff51 633px,#82ff75 646px,#8aff6d 674px,#8aff6d 689px,#60ff97 698px,#60ff97 700px,#43ffb4 701px,#06ecf1 702px,#00a4ff 703px,#005cff 704px,#0008ff 713px)"></i><i style="background:linear-gradient(#0cf4eb 0px,#13fae4 52px,#13fae4 194px,#00dafb 211px,#0096ff 247px,#01e0fa 286px,#16fce1 302px,#0ff8e7 342px,#09f0ee 360px,#16fce1 399px,#19fede 468px,#66ff90 494px,#6bff8c 525px,#95ff62 561px,#d4ff23 598px,#adff49 619px,#aaff4d 632px,#85ff72 646px,#90ff66 665px,#90ff66 689px,#66ff90 698px,#66ff90 700px,#49ffad 701px,#0cf4eb 702px,#00acff 703px,#0064ff 704px,#0026ff 710px,#000eff 713px)"></i><i style="background:linear-gradient(#16ffe1 0px,#11fae6 196px,#00dcfe 214px,#00a0ff 247px,#01e2f9 288px,#13fce4 305px,#0ef6e9 339px,#04eaf3 358px,#13fce4 393px,#17fedf 468px,#65ff92 495px,#6aff8d 527px,#88ff6e 556px,#b9ff3e 585px,#cfff28 598px,#a9ff4e 619px,#a5ff51 632px,#7fff78 646px,#8fff68 664px,#8dff6a 689px,#65ff92 698px,#65ff92 700px,#48ffaf 701px,#0af2ec 702px,#00a8ff 703px,#0062ff 704px,#0024ff 710px,#000cff 713px)"></i><i style="background:linear-gradient(#1cffdb 0px,#17ffdf 195px,#00defc 215px,#00a2ff 248px,#00c6ff 279px,#00e2f9 294px,#0af2ec 305px,#07eef0 335px,#00daff 359px,#0af2ec 389px,#0ef6e9 468px,#24ffd2 475px,#5bff9c 494px,#5eff98 525px,#7fff78 557px,#b2ff45 588px,#c2ff34 598px,#9cff5b 619px,#98ff5e 632px,#73ff83 646px,#85ff72 662px,#85ff72 689px,#5bff9c 698px,#5bff9c 700px,#3effb9 701px,#02e8f4 702px,#009eff 703px,#0056ff 704px,#0016ff 711px,#0006ff 713px)"></i><i style="background:linear-gradient(#24f4d2 0px,#21f2d6 195px,#06ccf5 228px,#00a8ff 248px,#00befb 278px,#0ee0ed 298px,#0cdeee 340px,#06d0f5 360px,#11e2ea 384px,#15e6e6 468px,#2bfacc 479px,#58ff9f 495px,#5dff9a 530px,#70ff87 554px,#aaff4d 588px,#baff3c 598px,#94ff63 619px,#90ff66 632px,#6bff8c 646px,#80ff77 661px,#7bff7b 690px,#58ff9f 698px,#58ff9f 700px,#39ffbe 701px,#0edeed 702px,#0098ff 703px,#0050ff 704px,#0020ff 709px,#000cfd 713px)"></i><i style="background:linear-gradient(#45ffb2 0px,#40ffb7 195px,#19f8de 218px,#04dcf6 239px,#00ccfd 250px,#00d2fb 276px,#11f4e6 297px,#17f8df 319px,#0ef2e9 339px,#06e2f5 358px,#17f8df 386px,#1cfcdb 468px,#6aff8d 495px,#70ff87 535px,#80ff77 555px,#c1ff36 592px,#c7ff30 598px,#a0ff56 620px,#9dff5a 633px,#78ff7f 645px,#94ff63 662px,#92ff65 689px,#6aff8d 698px,#6aff8d 700px,#4bffac 701px,#0ff4e7 702px,#00aeff 703px,#0068ff 704px,#0020ff 711px,#000eff 713px)"></i><i style="background:linear-gradient(#51ffa5 0px,#4dffaa 195px,#13fce4 228px,#00dcfd 245px,#00ceff 275px,#09f0ee 294px,#16fce1 305px,#13fae4 333px,#00dafb 357px,#0ff8e7 379px,#16fce1 396px,#1bffdc 468px,#68ff8f 495px,#70ff87 544px,#aaff4d 583px,#c4ff33 598px,#9dff5a 619px,#9aff5d 632px,#73ff83 645px,#90ff66 660px,#8cff6b 690px,#68ff8f 698px,#68ff8f 700px,#49ffad 701px,#0ff8e7 702px,#00acff 703px,#0066ff 704px,#0016ff 712px,#000eff 713px)"></i><i style="background:linear-gradient(#66ff90 0px,#63ff94 193px,#19fede 234px,#04e8f4 251px,#00d4fd 275px,#0ff6e7 294px,#1cfedb 307px,#19fcde 332px,#03def8 356px,#13f8e4 378px,#1cfedb 390px,#1fffd7 468px,#6dff8a 494px,#75ff82 549px,#b5ff41 588px,#c6ff31 598px,#9fff58 619px,#9cff5b 632px,#75ff82 645px,#97ff60 660px,#97ff60 689px,#6dff8a 698px,#6dff8a 700px,#50ffa7 701px,#13f8e4 702px,#00b4ff 703px,#006cff 704px,#0024ff 711px,#0012ff 713px)"></i><i style="background:linear-gradient(#65ff92 0px,#77ff80 75px,#6bff8c 194px,#24ffd2 223px,#11fae6 237px,#00e0fb 252px,#00c4ff 275px,#00e4f8 292px,#0ef6e9 305px,#0af2ec 331px,#00daff 345px,#00caff 358px,#00e2f9 374px,#0ef6e9 387px,#11fae6 468px,#5eff98 494px,#68ff8f 552px,#b2ff45 595px,#afff48 601px,#8fff68 619px,#88ff6e 633px,#65ff92 645px,#88ff6e 660px,#88ff6e 689px,#60ff97 698px,#60ff97 700px,#41ffb5 701px,#06ecf1 702px,#00a2ff 703px,#005aff 704px,#0010ff 712px,#0008ff 713px)"></i><i style="background:linear-gradient(#72ff85 0px,#8dff6a 34px,#acff4b 58px,#a9ff4e 88px,#98ff5e 116px,#95ff62 193px,#30ffc7 221px,#13fce4 240px,#00e0fb 256px,#00c2ff 275px,#00e2f9 293px,#0af2ec 304px,#06ecf1 331px,#00d0ff 348px,#00c2ff 358px,#01e4f8 378px,#09f0ee 388px,#0cf4eb 467px,#21ffd6 474px,#5bff9c 495px,#65ff92 552px,#a7ff50 592px,#adff49 598px,#88ff6e 621px,#80ff77 634px,#60ff97 645px,#83ff73 660px,#7fff78 690px,#5eff98 698px,#5eff98 700px,#40ffb7 701px,#04eaf3 702px,#009eff 703px,#0058ff 704px,#000eff 712px,#0006ff 713px)"></i><i style="background:linear-gradient(#83ff73 0px,#aaff4d 30px,#e4fa13 54px,#e4fa13 85px,#c6ff31 113px,#c1ff36 193px,#3bffbc 220px,#14fae3 247px,#00dafb 265px,#00c8ff 275px,#07eef0 297px,#0cf4eb 307px,#07eef0 331px,#00ceff 349px,#00c2ff 358px,#03e6f6 378px,#0af2ec 390px,#13fae4 468px,#5dff9a 495px,#66ff90 552px,#afff48 598px,#8aff6d 621px,#82ff75 633px,#62ff95 645px,#85ff72 660px,#80ff77 690px,#60ff97 698px,#60ff97 700px,#43ffb4 701px,#06ecf1 702px,#00a2ff 703px,#005cff 704px,#0018ff 711px,#0008ff 713px)"></i><i style="background:linear-gradient(#92ff65 0px,#beff39 30px,#ebf80e 45px,#fbe000 59px,#fbde00 84px,#e6f813 113px,#e4fa13 192px,#46ffb1 220px,#1ffad7 246px,#06dcf5 268px,#00cefb 275px,#0eeeec 297px,#10f2e7 308px,#09e8f2 334px,#00beff 357px,#0ceeee 385px,#11f2e6 456px,#14f4e3 468px,#33ffc4 479px,#5dff9a 496px,#68ff8f 553px,#adff49 598px,#8aff6d 622px,#80ff77 633px,#65ff92 646px,#87ff70 661px,#83ff73 689px,#63ff94 698px,#63ff94 700px,#45ffb2 701px,#0ceeee 702px,#00a6ff 703px,#005eff 704px,#0022ff 710px,#000cff 713px)"></i><i style="background:linear-gradient(#8aff6d 0px,#a4ff53 29px,#cefa2a 43px,#e5e416 58px,#eada11 85px,#d6f125 116px,#d3f428 193px,#acff4b 200px,#36fac1 220px,#20e4db 242px,#06c0f5 270px,#03b8f8 277px,#0ed2ed 297px,#09caf2 333px,#009eff 357px,#09caf2 382px,#11d4ea 432px,#15d8e6 469px,#2ef6c9 487px,#41ffb5 496px,#4bffac 541px,#55ffa2 555px,#92ff65 598px,#6eff88 626px,#5bff9c 638px,#4effa9 646px,#6bff8c 661px,#66ff90 690px,#4bffac 699px,#4bffac 700px,#2ef6c9 701px,#0ed0ed 702px,#0088ff 703px,#0042ff 704px,#0022ff 708px,#000cf1 713px)"></i><i style="background:linear-gradient(#ceff29 0px,#d7ff1f 28px,#f4f802 38px,#ffe200 44px,#ffb900 57px,#ff9800 84px,#ffc400 111px,#ffc400 192px,#fbf100 198px,#e7ff0f 201px,#75ff82 220px,#28ffcf 265px,#16ffe1 276px,#30ffc7 304px,#1bffdc 335px,#01e6f6 352px,#00defc 358px,#17ffdf 377px,#2bffcc 401px,#33ffc4 468px,#75ff82 495px,#83ff73 534px,#87ff70 552px,#c6ff31 598px,#92ff65 637px,#85ff72 646px,#9fff58 662px,#9aff5d 690px,#83ff73 698px,#83ff73 700px,#65ff92 701px,#29ffce 702px,#00ccff 703px,#0086ff 704px,#0034ff 711px,#0022ff 713px)"></i><i style="background:linear-gradient(#cfff28 0px,#d9ff1e 28px,#f4f802 37px,#ffdd00 45px,#ffb800 58px,#ff9600 83px,#ffc300 112px,#ffc400 192px,#fcef00 198px,#e9ff0e 201px,#77ff80 220px,#36ffc1 258px,#14fee3 276px,#29ffce 305px,#13fce4 334px,#00dcfd 351px,#00d4ff 358px,#0af2ec 374px,#1cffdb 388px,#2bffcc 421px,#2effc9 468px,#6dff8a 496px,#7dff7a 531px,#83ff73 553px,#beff39 597px,#88ff6e 639px,#7fff78 646px,#95ff62 661px,#92ff65 690px,#7dff7a 699px,#7dff7a 700px,#5eff98 701px,#24ffd2 702px,#00c6ff 703px,#0080ff 704px,#003aff 710px,#001eff 713px)"></i><i style="background:linear-gradient(#ccff2b 0px,#e6ff11 29px,#f9f300 35px,#ffb000 56px,#ff9a00 83px,#ffca00 113px,#ffca00 192px,#f9f300 198px,#e7ff0f 201px,#77ff80 220px,#40ffb7 254px,#13fce4 276px,#24ffd2 305px,#0ff8e7 331px,#00dcfd 346px,#00caff 358px,#03e8f4 374px,#16fee1 389px,#28ffcf 421px,#2bffcc 469px,#66ff90 497px,#78ff7f 527px,#7bff7b 551px,#afff48 589px,#b4ff43 600px,#8cff6b 632px,#7bff7b 646px,#8dff6a 662px,#88ff6e 691px,#78ff7f 699px,#78ff7f 700px,#5bff9c 701px,#1effd9 702px,#00c2ff 703px,#007aff 704px,#0036ff 710px,#001aff 713px)"></i><i style="background:linear-gradient(#baff3c 0px,#e4ff13 30px,#fdea00 39px,#ffb600 55px,#ffb200 85px,#ffde00 112px,#ffde00 192px,#e9fe0e 198px,#6eff88 220px,#34ffc2 254px,#13f8e4 268px,#06eaf3 276px,#13f8e4 305px,#01dafa 333px,#00aeff 357px,#03e0f8 384px,#14f8e3 413px,#19fcde 469px,#51ffa5 497px,#66ff90 527px,#6aff8d 551px,#97ff60 584px,#9fff58 600px,#87ff70 623px,#68ff8f 646px,#78ff7f 664px,#73ff83 691px,#66ff90 700px,#49ffad 701px,#0cf4eb 702px,#00acff 703px,#0064ff 704px,#0026ff 710px,#000cff 713px)"></i><i style="background:linear-gradient(#b5ff41 0px,#dcff1b 29px,#f4f803 37px,#ffdd00 45px,#ffbb00 56px,#ffbf00 85px,#ffe400 115px,#ffeb00 173px,#ffeb00 192px,#ebff0c 196px,#70ff87 220px,#39ffbe 253px,#13fce4 268px,#04eaf3 276px,#11fae6 302px,#00dcfe 325px,#00a4ff 357px,#00e0fb 391px,#11fae6 415px,#14fee3 469px,#4dffaa 499px,#62ff95 525px,#65ff92 551px,#8fff68 580px,#97ff60 600px,#85ff72 621px,#68ff8f 639px,#65ff92 648px,#70ff87 665px,#6bff8c 692px,#62ff95 700px,#45ffb2 701px,#09f0ee 702px,#00a6ff 703px,#005eff 704px,#0022ff 710px,#000aff 713px)"></i><i style="background:linear-gradient(#beff39 0px,#d7ff1f 29px,#fae601 44px,#ffc300 56px,#ffc800 91px,#f6ed04 134px,#f2f109 193px,#d7ff1f 200px,#7fff78 220px,#4dffaa 251px,#17fadf 271px,#0ff4e7 278px,#16f8e1 305px,#03daf8 331px,#00aaff 357px,#03daf8 383px,#14f6e3 407px,#1efcd9 469px,#55ffa2 501px,#6bff8c 526px,#70ff87 552px,#97ff60 581px,#9cff5b 603px,#8dff6a 621px,#72ff85 635px,#6eff88 650px,#75ff82 681px,#6dff8a 696px,#6bff8c 700px,#4dffaa 701px,#11f4e6 702px,#00b0ff 703px,#0068ff 704px,#0022ff 711px,#0012ff 713px)"></i><i style="background:linear-gradient(#c7ff30 0px,#d1ff26 28px,#f0f40b 39px,#ffd300 51px,#ffc600 57px,#ffd000 112px,#f3f108 137px,#f2f409 193px,#d2ff24 202px,#8dff6a 222px,#5bff9c 252px,#1cfcdb 275px,#1ffed7 305px,#06e4f5 330px,#00b4ff 356px,#04e0f6 382px,#13f6e4 398px,#23ffd4 416px,#28ffcf 469px,#63ff94 507px,#75ff82 526px,#7aff7d 552px,#a0ff56 581px,#a0ff56 615px,#7aff7d 634px,#7bff7b 658px,#7aff7d 693px,#75ff82 700px,#58ff9f 701px,#1cfcdb 702px,#00bcff 703px,#0076ff 704px,#003cff 709px,#0018ff 713px)"></i><i style="background:linear-gradient(#b9ff3e 0px,#c6ff31 29px,#f4f804 46px,#ffde00 56px,#ffd700 89px,#ffe800 116px,#ebfc0c 137px,#e6ff11 193px,#83ff73 222px,#56ffa0 250px,#11fae6 274px,#11fae6 304px,#00dafd 322px,#009cff 357px,#01e2f9 397px,#11fae6 413px,#17fedf 469px,#65ff92 522px,#68ff8f 552px,#8fff68 579px,#8fff68 617px,#68ff8f 634px,#65ff92 700px,#48ffaf 701px,#0af2ec 702px,#00aaff 703px,#0062ff 704px,#0014ff 712px,#000cff 713px)"></i><i style="background:linear-gradient(#c4ff33 0px,#deff19 29px,#f3fa04 39px,#ffe400 48px,#ffce00 59px,#ffb900 85px,#ffe800 140px,#ffe800 192px,#f4f802 196px,#e4ff13 200px,#95ff62 221px,#6bff8c 249px,#1effd9 275px,#19ffde 306px,#00e0fb 326px,#00a8ff 357px,#01e2f9 389px,#19ffde 410px,#1fffd7 468px,#6dff8a 523px,#70ff87 551px,#97ff60 579px,#94ff63 619px,#73ff83 632px,#70ff87 700px,#53ffa4 701px,#16fee1 702px,#00b6ff 703px,#0070ff 704px,#002eff 710px,#0014ff 713px)"></i><i style="background:linear-gradient(#c4ff33 0px,#f3fa04 34px,#ffd700 52px,#ffab00 83px,#ffd300 112px,#ffd900 192px,#f8f501 198px,#e1ff16 203px,#9aff5d 221px,#72ff85 249px,#21ffd6 275px,#19fede 305px,#00dcfb 326px,#00a4ff 357px,#03e2f8 391px,#19fede 412px,#1fffd7 469px,#6bff8c 524px,#70ff87 552px,#94ff63 579px,#90ff66 619px,#70ff87 633px,#70ff87 700px,#53ffa4 701px,#16fce1 702px,#00b4ff 703px,#0070ff 704px,#002eff 710px,#0014ff 713px)"></i><i style="background:linear-gradient(#a9ff4e 0px,#e1fc16 44px,#fbe000 75px,#ffdb00 84px,#f0f10b 107px,#e4fc13 193px,#85ff72 221px,#5eff98 249px,#24fad2 266px,#11eaea 275px,#09e0f2 307px,#00b0ff 333px,#0084ff 357px,#01cefa 400px,#09e0f2 416px,#10eaeb 472px,#2effc9 500px,#4effa9 525px,#53ffa4 552px,#77ff80 579px,#73ff83 619px,#56ffa0 632px,#56ffa0 700px,#38ffbf 701px,#09e0f2 702px,#0094ff 703px,#0050ff 704px,#0016ff 710px,#0008ff 713px)"></i><i style="background:linear-gradient(#b2ff45 0px,#ccff2b 32px,#f1fc06 59px,#ffeb00 85px,#f0fc07 113px,#ebff0c 143px,#d7ff1f 170px,#d2ff24 194px,#90ff66 223px,#70ff87 249px,#19fcde 276px,#0af2ec 305px,#00ceff 324px,#0092ff 357px,#00d6fd 397px,#04e8f4 415px,#08eef0 451px,#17fcdf 475px,#53ffa4 520px,#5bff9c 552px,#7fff78 579px,#7aff7d 620px,#62ff95 633px,#62ff95 700px,#45ffb2 701px,#08eef0 702px,#00a2ff 703px,#005eff 704px,#0020ff 710px,#000aff 713px)"></i><i style="background:linear-gradient(#afff48 0px,#b7ff40 30px,#dcff1b 57px,#d9ff1e 140px,#b7ff40 168px,#b2ff45 196px,#7dff7a 244px,#6eff88 250px,#19ffde 275px,#07eef0 304px,#00d2ff 319px,#008aff 357px,#00c2ff 387px,#00e0fb 417px,#01e6f6 450px,#1bffdc 484px,#4effa9 524px,#53ffa4 552px,#77ff80 579px,#72ff85 620px,#5bff9c 635px,#5bff9c 700px,#3effb9 701px,#04eaf3 702px,#009eff 703px,#0056ff 704px,#0016ff 711px,#0006ff 713px)"></i><i style="background:linear-gradient(#87ff70 0px,#95ff62 31px,#baff3c 58px,#c4ff33 105px,#b4ff43 142px,#9aff5d 168px,#95ff62 195px,#68ff8f 226px,#51ffa5 248px,#1cfcdb 263px,#06e4f5 271px,#00d4fb 275px,#00b4ff 307px,#0058ff 357px,#0090ff 389px,#00a6ff 414px,#00acff 445px,#03def8 496px,#14f8e3 513px,#21ffd6 526px,#26ffd1 552px,#4bffac 580px,#46ffb1 620px,#33ffc4 634px,#33ffc4 700px,#16f8e1 701px,#00b4ff 702px,#0024ff 704px,#0008ff 708px,#0000f3 713px)"></i><i style="background:linear-gradient(#baff3c 0px,#deff19 35px,#faed01 57px,#ffd500 86px,#ffdb00 117px,#f3f806 150px,#ebfe0c 184px,#e7ff0f 193px,#a5ff51 221px,#8fff68 248px,#2bffcc 275px,#0cf2eb 308px,#00c4ff 334px,#0098ff 357px,#00d0fd 388px,#06e4f5 418px,#09eaf2 445px,#2bffcc 495px,#51ffa5 524px,#56ffa0 552px,#7bff7b 579px,#77ff80 621px,#66ff90 635px,#66ff90 700px,#49ffad 701px,#0cf2eb 702px,#00acff 703px,#0064ff 704px,#0016ff 712px,#000eff 713px)"></i><i style="background:linear-gradient(#bfff38 0px,#f3fa04 37px,#ffe200 50px,#ffb000 84px,#ffb600 114px,#ffdb00 139px,#ffe200 193px,#f0fe07 200px,#adff49 221px,#9aff5d 248px,#31ffc6 275px,#13fce4 307px,#00dcfd 323px,#00a0ff 357px,#00d4ff 388px,#01e4f8 417px,#03e8f4 442px,#19ffde 466px,#31ffc6 499px,#53ffa4 524px,#58ff9f 552px,#7dff7a 579px,#7aff7d 620px,#6dff8a 636px,#6dff8a 700px,#4effa9 701px,#13fce4 702px,#00b0ff 703px,#006aff 704px,#0022ff 711px,#0012ff 713px)"></i><i style="background:linear-gradient(#8dff6a 0px,#b4ff43 32px,#e6fa11 60px,#f6ed04 90px,#f2f209 116px,#d4ff23 139px,#d1ff26 193px,#7fff78 221px,#72ff85 247px,#21fad6 267px,#0ce8ee 275px,#00c0ff 306px,#0060ff 357px,#0094ff 386px,#00a4ff 423px,#00aaff 444px,#00c8fd 470px,#06def5 498px,#1efad9 524px,#23fcd4 552px,#48ffaf 580px,#43ffb4 622px,#39ffbe 640px,#39ffbe 700px,#1cf8db 701px,#00bcff 702px,#002cff 704px,#000cff 709px,#0000f4 713px)"></i><i style="background:linear-gradient(#c1ff36 0px,#d7ff1f 30px,#f3fa04 41px,#ffdd00 52px,#ffd100 59px,#ffc100 91px,#ffc600 112px,#fbf100 140px,#f8f501 193px,#e3ff14 202px,#b7ff40 221px,#afff48 247px,#39ffbe 276px,#11fae6 309px,#00d4ff 329px,#00a2ff 357px,#00d6ff 387px,#01e0fa 435px,#11fae6 457px,#1fffd7 477px,#2bffcc 498px,#4effa9 524px,#53ffa4 552px,#78ff7f 579px,#73ff83 625px,#6eff88 700px,#50ffa7 701px,#14fce3 702px,#00b4ff 703px,#006cff 704px,#0024ff 711px,#0014ff 713px)"></i><i style="background:linear-gradient(#c1ff36 0px,#c9ff2e 29px,#f3fa04 44px,#ffdb00 53px,#ffd300 79px,#ffd700 113px,#f8f501 130px,#eefe09 142px,#e7ff0f 195px,#baff3c 223px,#b5ff41 247px,#3effb9 275px,#13fae4 308px,#00d8fd 327px,#00a0ff 357px,#00d4ff 386px,#00defb 441px,#19fede 464px,#28ffcf 498px,#4bffac 524px,#4effa9 552px,#73ff83 579px,#6eff88 630px,#6dff8a 700px,#50ffa7 701px,#14fce3 702px,#00b4ff 703px,#006cff 704px,#0024ff 711px,#0012ff 713px)"></i><i style="background:linear-gradient(#bcff3b 0px,#c1ff36 29px,#ecf80c 46px,#fae801 58px,#f8eb03 113px,#dcff1b 158px,#d6ff21 196px,#baff3c 224px,#b4ff43 247px,#3cffba 276px,#19f8de 300px,#03d8f8 324px,#009cff 357px,#00cefb 387px,#03d8f8 442px,#13f4e4 464px,#1ffcd7 498px,#43ffb4 524px,#46ffb1 552px,#6dff8a 579px,#6aff8d 700px,#4bffac 701px,#10f2e7 702px,#00aeff 703px,#0066ff 704px,#0016ff 712px,#000eff 713px)"></i><i style="background:linear-gradient(#c7ff30 0px,#caff2c 29px,#f4f804 49px,#fdeb00 58px,#faf101 119px,#e1ff16 153px,#d7ff1f 171px,#cfff28 210px,#c2ff34 247px,#4dffaa 276px,#16fae1 310px,#04e4f6 325px,#00b0ff 352px,#00a8ff 357px,#01dcfa 386px,#03e0f8 441px,#17fcdf 461px,#1fffd7 476px,#29ffce 498px,#49ffad 525px,#4effa9 552px,#77ff80 579px,#73ff83 700px,#56ffa0 701px,#19fcde 702px,#00bcff 703px,#0074ff 704px,#0028ff 711px,#0018ff 713px)"></i><i style="background:linear-gradient(#c6ff31 0px,#c9ff2e 29px,#ecf80c 51px,#f2f409 111px,#e9f810 141px,#c9ff2e 168px,#ccff2b 232px,#bfff38 248px,#51ffa5 275px,#1cfadb 305px,#06e0f5 326px,#00acff 354px,#00acff 360px,#04daf6 386px,#04dcf6 441px,#10f2e7 457px,#1cfadb 473px,#23fed4 496px,#45ffb2 524px,#49ffad 552px,#73ff83 579px,#73ff83 700px,#55ffa2 701px,#19f8de 702px,#00b8ff 703px,#0074ff 704px,#0030ff 710px,#0016ff 713px)"></i><i style="background:linear-gradient(#d4ff23 0px,#e7fe0f 32px,#fde600 52px,#ffde00 61px,#ffe400 120px,#f1fa06 148px,#e1ff16 169px,#dfff17 228px,#cfff28 248px,#62ff95 277px,#1effd9 313px,#04eaf3 330px,#00c6ff 349px,#00b8ff 357px,#03e4f8 380px,#06ecf1 390px,#09f0ee 442px,#21ffd6 462px,#36ffc1 500px,#4effa9 525px,#53ffa4 551px,#80ff77 579px,#80ff77 700px,#63ff94 701px,#26ffd1 702px,#00ccff 703px,#0084ff 704px,#0034ff 711px,#0020ff 713px)"></i><i style="background:linear-gradient(#c7ff30 0px,#f1fa06 37px,#ffde00 56px,#ffe200 113px,#eefe09 142px,#e3ff14 176px,#dbff1c 226px,#c2ff34 248px,#5aff9d 278px,#17ffdf 308px,#00dcfd 329px,#00aaff 358px,#00dcfd 386px,#00e0fb 442px,#17ffdf 469px,#28ffcf 500px,#40ffb7 526px,#45ffb2 552px,#75ff82 578px,#75ff82 700px,#58ff9f 701px,#1bffdc 702px,#00baff 703px,#0076ff 704px,#0032ff 710px,#0016ff 713px)"></i><i style="background:linear-gradient(#d9ff1e 0px,#f6ed04 26px,#ffbd00 56px,#ffbf00 114px,#fbe400 139px,#f6ed04 204px,#e9f810 233px,#d2ff24 249px,#65ff92 283px,#2bffcc 307px,#09e6f2 335px,#00beff 357px,#0eeeec 383px,#10f0e9 443px,#2effc9 481px,#4effa9 528px,#53ffa4 551px,#88ff6e 579px,#88ff6e 700px,#68ff8f 701px,#2effc9 702px,#01d2fa 703px,#008aff 704px,#004cff 709px,#0026ff 713px)"></i><i style="background:linear-gradient(#c7ff30 0px,#f3fa04 33px,#ffe400 44px,#ffcc00 57px,#ffbd00 94px,#ffbd00 113px,#ffdb00 141px,#ffe000 178px,#f0fc07 222px,#c2ff34 250px,#26ffd1 302px,#0ef6e9 319px,#00d8ff 335px,#00b0ff 357px,#01e2f9 384px,#03e8f4 446px,#19ffde 472px,#3effb9 529px,#43ffb4 551px,#7aff7d 578px,#7aff7d 700px,#5dff9a 701px,#1fffd7 702px,#00c2ff 703px,#007cff 704px,#0038ff 710px,#001cff 713px)"></i><i style="background:linear-gradient(#c1ff36 0px,#dfff17 30px,#f8f501 42px,#ffd100 57px,#ffb400 88px,#ffb000 115px,#ffbf00 148px,#ffc400 171px,#fbf100 215px,#eeff09 226px,#bfff38 251px,#23ffd4 304px,#11fae6 316px,#00defc 331px,#00aeff 357px,#00e2f9 386px,#01e6f6 447px,#1bffdc 479px,#39ffbe 530px,#3effb9 551px,#78ff7f 578px,#78ff7f 700px,#5bff9c 701px,#1effd9 702px,#00c0ff 703px,#007aff 704px,#0036ff 710px,#001aff 713px)"></i><i style="background:linear-gradient(#cfff28 0px,#e1fc16 28px,#fddd00 46px,#ffbb00 60px,#ff9400 87px,#ff8b00 127px,#ff9100 167px,#ffc300 200px,#fbe200 225px,#eef60c 238px,#ceff29 253px,#87ff70 279px,#34ffc2 304px,#17f6df 324px,#04daf6 345px,#00c6ff 358px,#0eeeec 381px,#11f2e6 445px,#38ffbf 493px,#48ffaf 532px,#4dffaa 551px,#8cff6b 578px,#8cff6b 700px,#6dff8a 701px,#31ffc6 702px,#03d6f8 703px,#0090ff 704px,#0050ff 709px,#002aff 713px)"></i><i style="background:linear-gradient(#9dff5a 0px,#adff49 29px,#d7f821 45px,#f0de0b 69px,#ffc300 96px,#ffbb00 129px,#ffbf00 167px,#f0dc0b 189px,#d6f823 226px,#b1ff46 243px,#5bff9c 278px,#30fac7 290px,#16e2e5 300px,#04c4f6 322px,#0090ff 349px,#0086ff 358px,#00b8fb 386px,#01bcfa 451px,#15e0e6 499px,#1deade 551px,#39ffbe 565px,#56ffa0 578px,#56ffa0 700px,#39ffbe 701px,#10daeb 702px,#0096ff 703px,#0050ff 704px,#0020ff 709px,#000ef8 713px)"></i><i style="background:linear-gradient(#b2ff45 0px,#c1ff36 29px,#f3fa04 48px,#ffe000 57px,#ffb000 87px,#ff9800 114px,#ff9c00 167px,#ffdb00 205px,#f8f501 222px,#e3ff14 231px,#77ff80 277px,#13fae4 304px,#00d8fd 324px,#009cff 358px,#00ceff 386px,#00d2ff 451px,#00dcfb 470px,#16fce1 494px,#1fffd7 545px,#29ffce 553px,#6aff8d 578px,#6aff8d 700px,#4bffac 701px,#0ff8e7 702px,#00acff 703px,#0066ff 704px,#0020ff 711px,#0010ff 713px)"></i><i style="background:linear-gradient(#a5ff51 0px,#adff49 28px,#eefa09 51px,#fde600 62px,#ffb200 96px,#ffa100 114px,#ffa500 167px,#faef01 212px,#eefa09 221px,#9cff5b 255px,#6dff8a 277px,#16fae1 298px,#06e8f4 304px,#00b8ff 330px,#0086ff 357px,#00b8ff 386px,#00beff 466px,#08eaf3 495px,#0ef4e9 550px,#30ffc7 562px,#58ff9f 577px,#58ff9f 700px,#3bffbc 701px,#04e2f6 702px,#0052ff 704px,#001aff 710px,#0004ff 713px)"></i><i style="background:linear-gradient(#acff4b 0px,#b4ff43 28px,#f3fa04 49px,#ffe400 56px,#ff9200 111px,#ff9600 166px,#fbf100 220px,#e7ff0f 227px,#a7ff50 252px,#7aff7d 276px,#13fce4 300px,#00e4f8 310px,#00c4ff 328px,#008cff 357px,#00beff 387px,#00c0ff 460px,#00ccff 472px,#02e8f4 490px,#0af2ec 506px,#11fae6 550px,#5bff9c 578px,#5dff9a 700px,#40ffb7 701px,#02e8f4 702px,#009eff 703px,#0058ff 704px,#001cff 710px,#0004ff 713px)"></i><i style="background:linear-gradient(#d1ff26 0px,#d9ff1e 28px,#f6e704 41px,#ffb200 57px,#ff6200 112px,#ff6400 166px,#ffc800 222px,#f2eb09 234px,#d1ff26 250px,#a2ff55 276px,#30ffc7 303px,#0ce8ee 331px,#00b6ff 357px,#0ce8ee 384px,#10eceb 471px,#2bffcc 498px,#31ffc6 550px,#7bff7b 577px,#7fff78 700px,#62ff95 701px,#26fcd1 702px,#00cafb 703px,#0082ff 704px,#0032ff 711px,#0020ff 713px)"></i><i style="background:linear-gradient(#eef20c 0px,#f6e904 30px,#ffb600 43px,#ff8400 57px,#ff3600 113px,#ff3a00 166px,#ff9e00 222px,#f8e603 243px,#d9ff1e 268px,#c7ff30 276px,#51ffa5 303px,#1ffad7 335px,#08e0f3 356px,#16f4e1 375px,#24fed2 389px,#21fcd6 454px,#2effc9 474px,#49ffad 500px,#50ffa7 550px,#9cff5b 578px,#9cff5b 643px,#a0ff56 700px,#83ff73 701px,#46ffb1 702px,#0eeced 703px,#00acff 704px,#0066ff 709px,#003aff 713px)"></i><i style="background:linear-gradient(#c4ff33 0px,#cfff28 28px,#eef40c 37px,#ffd000 48px,#ffb200 56px,#ff6a00 112px,#ff6d00 167px,#ffce00 221px,#f2f109 233px,#d4ff23 244px,#9cff5b 276px,#24fed2 303px,#08e4f3 328px,#00aeff 352px,#00a4ff 357px,#03d8f8 386px,#00d2fb 424px,#00d0fb 448px,#03d8f8 468px,#11f4e6 490px,#1ffcd7 538px,#23fed4 551px,#68ff8f 578px,#70ff87 617px,#6aff8d 666px,#70ff87 700px,#53ffa4 701px,#16f6e1 702px,#00b8ff 703px,#0070ff 704px,#002eff 710px,#0014ff 713px)"></i><i style="background:linear-gradient(#d9ff1e 0px,#e7ff0f 28px,#fded00 34px,#ff8d00 56px,#ff4c00 114px,#ff5000 166px,#ffb200 221px,#f9f300 240px,#e7ff0f 246px,#b4ff43 276px,#3effb9 303px,#11fae6 332px,#00dcfd 344px,#00beff 357px,#00e2f9 377px,#0af2ec 387px,#06ecf1 420px,#00e4f8 445px,#11fae6 474px,#2bffcc 504px,#38ffbf 551px,#7bff7b 579px,#85ff72 610px,#80ff77 637px,#78ff7f 658px,#85ff72 689px,#85ff72 700px,#68ff8f 701px,#2bffcc 702px,#00d2ff 703px,#008aff 704px,#0042ff 710px,#0024ff 713px)"></i><i style="background:linear-gradient(#c4ff33 0px,#d7ff1f 28px,#f4f804 35px,#ffd500 42px,#ff9800 56px,#ff6000 113px,#ff6400 167px,#ffc400 221px,#f8f503 235px,#dcff1b 244px,#a4ff53 276px,#2cffca 303px,#0ff8e7 323px,#00d4ff 339px,#00a4ff 357px,#00d8fd 386px,#00d2ff 420px,#00c6ff 443px,#04e6f6 479px,#14fae3 503px,#1fffd7 535px,#24ffd2 551px,#62ff95 578px,#70ff87 603px,#6bff8c 636px,#62ff95 652px,#70ff87 690px,#70ff87 700px,#53ffa4 701px,#17fcdf 702px,#00b8ff 703px,#0070ff 704px,#0026ff 711px,#0016ff 713px)"></i><i style="background:linear-gradient(#dfff17 0px,#f6f604 28px,#ffc400 38px,#ff6f00 55px,#ff3d00 115px,#ff4100 166px,#ffa500 222px,#faef01 243px,#e4ff13 256px,#c1ff36 276px,#4bffac 303px,#14fae3 336px,#00d6fd 351px,#00c6ff 358px,#08eef0 379px,#11f8e6 389px,#0cf4eb 416px,#03e2f8 442px,#1cffdb 483px,#38ffbf 525px,#3bffbc 550px,#7bff7b 580px,#8cff6b 603px,#88ff6e 634px,#78ff7f 649px,#82ff75 670px,#8cff6b 686px,#8cff6b 700px,#6eff88 701px,#31ffc6 702px,#00d6fd 703px,#0092ff 704px,#0048ff 710px,#002aff 713px)"></i><i style="background:linear-gradient(#d1ff26 0px,#ebff0c 28px,#ffea00 33px,#ff7100 56px,#ff4a00 114px,#ff4e00 167px,#ffae00 221px,#f9f300 241px,#e7ff0f 247px,#b7ff40 276px,#40ffb7 303px,#13fce4 332px,#00defc 342px,#00b6ff 358px,#00e2f9 382px,#00e2f9 418px,#00ccff 440px,#00e4f8 463px,#1bffdc 501px,#2bffcc 528px,#30ffc7 551px,#6bff8c 580px,#7fff78 602px,#7bff7b 633px,#66ff90 648px,#6eff88 666px,#7fff78 684px,#7fff78 700px,#60ff97 701px,#24ffd2 702px,#00c6ff 703px,#0080ff 704px,#003aff 710px,#001eff 713px)"></i><i style="background:linear-gradient(#c7ff30 0px,#e5f116 29px,#fbd100 38px,#ff7300 55px,#ff5000 117px,#ff5400 166px,#ffb800 222px,#f3de08 234px,#d6fc21 254px,#b1ff46 276px,#3bffbc 303px,#19ece1 328px,#06ccf5 345px,#00a8ff 357px,#0bd8f0 383px,#09d4f2 419px,#00bcfb 441px,#0cdaee 468px,#1ef0db 517px,#23f4d4 539px,#26f6d1 551px,#49ffad 568px,#73ff83 597px,#70ff87 634px,#5aff9d 648px,#60ff97 664px,#73ff83 682px,#73ff83 700px,#56ffa0 701px,#1deede 702px,#00bcfb 703px,#0074ff 704px,#0028ff 711px,#0018ff 713px)"></i><i style="background:linear-gradient(#dbff1c 0px,#f4f803 24px,#fdeb00 29px,#ff5200 55px,#ff3600 121px,#ff3a00 166px,#ff9e00 222px,#f9f301 246px,#e3ff14 260px,#ccff2b 275px,#51ffa5 302px,#1bffdc 335px,#01e2f9 346px,#00c0ff 357px,#01e4f8 377px,#0cf4eb 388px,#09f0ee 414px,#00d4ff 435px,#00ceff 440px,#03e8f4 460px,#0ff8e7 476px,#21ffd6 504px,#34ffc2 526px,#39ffbe 552px,#7aff7d 588px,#87ff70 601px,#83ff73 633px,#6aff8d 646px,#6dff8a 662px,#87ff70 682px,#87ff70 700px,#6aff8d 701px,#2cffca 702px,#00d2ff 703px,#008cff 704px,#0044ff 710px,#0026ff 713px)"></i><i style="background:linear-gradient(#d2ff24 0px,#f3fa04 27px,#ffe000 31px,#ff4c00 55px,#ff3a00 127px,#ff3d00 166px,#ffa100 222px,#fcef00 244px,#f0fe07 251px,#c9ff2e 275px,#4effa9 302px,#1effd9 332px,#0ef6e9 338px,#00d8ff 347px,#00b8ff 357px,#00e2f9 380px,#04eaf3 390px,#01e6f6 414px,#00c8ff 434px,#00c4ff 440px,#00e2f9 461px,#09f0ee 483px,#13fce4 500px,#2effc9 526px,#33ffc4 552px,#80ff77 600px,#7bff7b 633px,#60ff97 646px,#63ff94 662px,#80ff77 682px,#80ff77 700px,#62ff95 701px,#26ffd1 702px,#00caff 703px,#0084ff 704px,#003cff 710px,#0020ff 713px)"></i><i style="background:linear-gradient(#caff2c 0px,#f1fc06 28px,#ffe200 32px,#ff4c00 55px,#ff4300 148px,#ff4800 168px,#ffab00 222px,#f9f300 243px,#ebff0c 249px,#bcff3b 276px,#46ffb1 303px,#14fee3 333px,#00defc 342px,#00acff 357px,#00defc 387px,#00daff 414px,#00b2ff 440px,#00defc 469px,#01e6f6 496px,#17ffdf 513px,#24ffd2 527px,#29ffce 552px,#75ff82 599px,#72ff85 633px,#51ffa5 646px,#55ffa2 661px,#77ff80 682px,#77ff80 700px,#58ff9f 701px,#1cffdb 702px,#00beff 703px,#0076ff 704px,#002aff 711px,#001aff 713px)"></i><i style="background:linear-gradient(#b9ff3e 0px,#e4fe13 28px,#fde400 34px,#ff5900 55px,#ff5700 167px,#ffbd00 222px,#f8ed03 236px,#dbff1c 248px,#acff4b 276px,#36ffc1 303px,#16f8e1 325px,#06e6f5 334px,#00b2ff 349px,#0098ff 357px,#00c8ff 387px,#00c4ff 414px,#009cff 440px,#00c8ff 469px,#00d0fd 497px,#0ff4e7 519px,#16f8e1 552px,#3cffba 577px,#63ff94 599px,#60ff97 632px,#3cffba 647px,#40ffb7 660px,#63ff94 680px,#63ff94 700px,#46ffb1 701px,#0bf0ee 702px,#00a8ff 703px,#0060ff 704px,#0024ff 710px,#000aff 713px)"></i><i style="background:linear-gradient(#c6ff31 0px,#f3fa04 28px,#ffe600 31px,#ff4300 55px,#ff4500 167px,#ffac00 222px,#f9f300 242px,#e9ff0e 248px,#bfff38 275px,#45ffb2 302px,#14fee3 332px,#00daff 342px,#00aaff 357px,#00d6ff 387px,#00d2ff 414px,#00aaff 440px,#00d6ff 469px,#00dcfe 496px,#11fae6 513px,#1effd9 526px,#23ffd4 553px,#60ff97 591px,#6dff8a 603px,#6aff8d 632px,#48ffaf 646px,#4dffaa 661px,#70ff87 681px,#70ff87 700px,#51ffa5 701px,#16ffe1 702px,#00b6ff 703px,#006eff 704px,#001cff 712px,#0014ff 713px)"></i><i style="background:linear-gradient(#bfff38 0px,#ecff0a 28px,#ffeb00 31px,#ff4800 55px,#ff4c00 167px,#ffb200 220px,#fbf100 239px,#e7ff0f 245px,#b4ff43 275px,#39ffbe 303px,#13fce4 330px,#00e0fb 338px,#009eff 357px,#00c8ff 385px,#00c4ff 416px,#00a0ff 440px,#00c8ff 468px,#00ccff 496px,#01e6f6 509px,#13fce4 523px,#16ffe1 551px,#49ffad 586px,#60ff97 600px,#63ff94 625px,#56ffa0 635px,#3cffba 647px,#41ffb5 661px,#66ff90 681px,#66ff90 700px,#49ffad 701px,#0cf4eb 702px,#00a8ff 703px,#0064ff 704px,#0024ff 710px,#000cff 713px)"></i><i style="background:linear-gradient(#a9ff4e 0px,#d7ff1f 28px,#f0fe07 32px,#ffe800 35px,#ff6200 55px,#ff6600 168px,#ffbb00 212px,#ffea00 228px,#e9ff0e 236px,#c2ff34 251px,#9cff5b 275px,#21ffd6 303px,#0ef6e9 316px,#00d4ff 332px,#0086ff 357px,#00aaff 388px,#00a6ff 415px,#0082ff 439px,#00aaff 469px,#00aeff 496px,#00defc 524px,#00e2f9 552px,#19ffde 575px,#43ffb4 599px,#49ffad 622px,#39ffbe 636px,#23ffd4 647px,#28ffcf 661px,#4dffaa 681px,#4dffaa 700px,#30ffc7 701px,#00d4ff 702px,#0044ff 704px,#0006ff 711px,#0000ff 713px)"></i><i style="background:linear-gradient(#bfff38 0px,#ecfe0a 28px,#ffe400 32px,#ff4800 55px,#ff4c00 167px,#ff9c00 208px,#ffc400 223px,#f8f503 237px,#dbff1c 248px,#aaff4d 276px,#33ffc4 303px,#0ff8e7 328px,#00d4ff 340px,#009eff 357px,#00c0ff 386px,#00bcff 417px,#00a0ff 440px,#00c0ff 468px,#00c4ff 496px,#04e8f4 515px,#0cf4eb 525px,#0ff8e7 553px,#31ffc6 581px,#55ffa2 601px,#5dff9a 621px,#36ffc1 648px,#39ffbe 661px,#60ff97 681px,#60ff97 700px,#41ffb5 701px,#06ecf1 702px,#00a0ff 703px,#005cff 704px,#001eff 710px,#0008ff 713px)"></i><i style="background:linear-gradient(#d1ff26 0px,#f0ed0b 26px,#fdd900 31px,#ff3400 55px,#ff3800 166px,#ff7300 198px,#ffb800 224px,#f5e906 239px,#d6ff21 259px,#b7ff40 276px,#41ffb5 303px,#1ef8d9 327px,#04d6f6 345px,#00b4ff 357px,#03d2f8 389px,#01ccfa 417px,#00b4ff 441px,#03d2f8 471px,#04d6f6 496px,#1bf6dc 522px,#1ff8d7 555px,#3bffbc 581px,#5eff98 601px,#6bff8c 619px,#43ffb4 648px,#49ffad 662px,#6bff8c 681px,#6bff8c 700px,#4effa9 701px,#15f0e4 702px,#00b2ff 703px,#006aff 704px,#0022ff 711px,#0010ff 713px)"></i><i style="background:linear-gradient(#d4ff23 0px,#f3fa04 20px,#fcef00 27px,#ff3000 55px,#ff3400 167px,#ff7700 201px,#ffb900 225px,#fbf100 241px,#e7ff0f 247px,#beff39 275px,#43ffb4 302px,#13fce4 333px,#00e0fb 343px,#00baff 357px,#00d4ff 390px,#00ceff 417px,#00baff 441px,#00d4ff 471px,#00d8ff 497px,#06ecf1 508px,#16ffe1 519px,#23ffd4 561px,#3bffbc 582px,#60ff97 603px,#6dff8a 618px,#43ffb4 648px,#49ffad 662px,#6dff8a 681px,#6dff8a 700px,#50ffa7 701px,#13fce4 702px,#00b4ff 703px,#006cff 704px,#0034ff 709px,#0010ff 713px)"></i><i style="background:linear-gradient(#c9ff2e 0px,#f0fe07 27px,#ffe800 30px,#ff3d00 55px,#ff4100 166px,#ff7900 196px,#ffd700 228px,#f9f300 236px,#e7ff0f 242px,#c9ff2e 258px,#a9ff4e 276px,#31ffc6 303px,#11fae6 325px,#00d8ff 339px,#00aaff 358px,#00beff 390px,#00b8ff 420px,#00aaff 442px,#00beff 472px,#00c2ff 496px,#00e4f8 514px,#0af2ec 524px,#0ef6e9 554px,#1fffd7 578px,#4dffaa 603px,#5aff9d 619px,#34ffc2 646px,#39ffbe 661px,#5dff9a 681px,#5dff9a 700px,#40ffb7 701px,#02e8f4 702px,#009eff 703px,#0058ff 704px,#000cff 712px,#0004ff 713px)"></i><i style="background:linear-gradient(#e4fe13 0px,#fbe400 23px,#ffd700 28px,#fd1e00 55px,#ff2200 166px,#ff5500 194px,#ffbb00 228px,#f6f204 244px,#d9ff1e 263px,#c4ff33 275px,#49ffad 303px,#19fade 334px,#04e0f6 349px,#00ccff 358px,#03dcf8 392px,#00d6fb 422px,#00ccff 443px,#03dcf8 473px,#04e0f6 496px,#17fadf 514px,#23ffd4 526px,#29ffce 562px,#38ffbf 580px,#65ff92 605px,#73ff83 618px,#51ffa5 639px,#50ffa7 661px,#75ff82 681px,#75ff82 700px,#56ffa0 701px,#1bfcdc 702px,#00bcff 703px,#0076ff 704px,#0032ff 710px,#0018ff 713px)"></i><i style="background:linear-gradient(#fbea00 0px,#ffbd00 27px,#fa1600 51px,#e60600 56px,#e80600 166px,#ff1e00 182px,#ff3400 194px,#ffb400 234px,#fde400 249px,#e4ff13 272px,#c2ff34 281px,#63ff94 303px,#1cfedb 346px,#09f0ee 359px,#13f8e4 410px,#0bf2ec 447px,#17fadf 498px,#3bffbc 524px,#41ffb5 568px,#51ffa5 582px,#88ff6e 613px,#88ff6e 620px,#6eff88 633px,#65ff92 655px,#6eff88 663px,#8fff68 681px,#8fff68 700px,#70ff87 701px,#34ffc2 702px,#01dafa 703px,#0094ff 704px,#004aff 710px,#002cff 713px)"></i><i style="background:linear-gradient(#ffdb00 0px,#ffab00 27px,#fa1a00 48px,#df0400 53px,#d10000 56px,#d60000 168px,#f10d00 182px,#ff2500 195px,#ffd500 249px,#eef80b 273px,#c1ff36 284px,#6eff88 303px,#19fade 358px,#19fade 438px,#23ffd4 497px,#48ffaf 524px,#4effa9 576px,#9aff5d 617px,#75ff82 634px,#75ff82 661px,#9aff5d 681px,#9aff5d 700px,#7dff7a 701px,#40ffb7 702px,#09eaf2 703px,#00a4ff 704px,#0054ff 710px,#0034ff 713px)"></i><i style="background:linear-gradient(#ffe400 0px,#ffb400 27px,#fd1800 50px,#e40200 54px,#dd0000 165px,#f81100 179px,#ff3600 197px,#ffe200 249px,#ecfc0a 267px,#dfff17 275px,#65ff92 302px,#13fae4 354px,#13fae4 494px,#3bffbc 525px,#43ffb4 578px,#8dff6a 618px,#6aff8d 633px,#6aff8d 661px,#8fff68 682px,#8fff68 700px,#70ff87 701px,#34ffc2 702px,#00dafb 703px,#0094ff 704px,#003eff 711px,#002aff 713px)"></i><i style="background:linear-gradient(#fdea00 0px,#ffb600 28px,#fa1500 52px,#ed0600 55px,#e60200 150px,#ed0600 167px,#ff1a00 180px,#ff3b00 196px,#fdea00 248px,#e7ff0f 266px,#d7ff1f 275px,#5dff9a 302px,#13fae4 349px,#06ecf1 361px,#0af2ec 495px,#26ffd1 515px,#30ffc7 527px,#38ffbf 578px,#83ff73 618px,#5eff98 633px,#60ff97 661px,#85ff72 681px,#85ff72 700px,#66ff90 701px,#2bffcc 702px,#00d0ff 703px,#0088ff 704px,#004aff 709px,#0024ff 713px)"></i><i style="background:linear-gradient(#ffcc00 0px,#ff9800 28px,#fa1c00 47px,#e10600 52px,#cd0000 55px,#c40000 126px,#c80000 165px,#f10f00 187px,#ff2300 197px,#ffd100 249px,#f2f409 274px,#d2ff24 281px,#73ff83 303px,#1efcd9 359px,#23fed4 497px,#45ffb2 526px,#4dffaa 578px,#98ff5e 618px,#72ff85 632px,#75ff82 661px,#9cff5b 682px,#9cff5b 700px,#7bff7b 701px,#41ffb5 702px,#09eaf2 703px,#00a2ff 704px,#005eff 709px,#0034ff 713px)"></i><i style="background:linear-gradient(#ffce00 0px,#ff9a00 28px,#fa0f00 50px,#e40000 53px,#d60000 56px,#cd0000 108px,#c40000 144px,#cf0000 166px,#ef0600 181px,#ff1800 192px,#ffd300 249px,#f9f300 268px,#ecff0a 275px,#72ff85 303px,#1bffdc 357px,#1effd9 498px,#3effb9 527px,#48ffaf 579px,#95ff62 618px,#6dff8a 632px,#72ff85 661px,#95ff62 681px,#95ff62 700px,#78ff7f 701px,#3bffbc 702px,#01e6f6 703px,#009eff 704px,#0050ff 710px,#0032ff 713px)"></i><i style="background:linear-gradient(#ffc800 0px,#ff9400 28px,#fa1800 49px,#df0400 54px,#d10000 98px,#bd0000 140px,#cf0000 167px,#f61100 187px,#ff3600 202px,#ffae00 239px,#ffd000 250px,#f4f606 274px,#ceff29 283px,#77ff80 303px,#2bffcc 346px,#1bfcdc 360px,#1fffd7 498px,#3effb9 531px,#48ffaf 578px,#95ff62 618px,#6eff88 632px,#72ff85 661px,#97ff60 681px,#97ff60 700px,#78ff7f 701px,#3cffba 702px,#06e6f5 703px,#009eff 704px,#005cff 709px,#0032ff 713px)"></i><i style="background:linear-gradient(#ffd000 0px,#ff9c00 28px,#fd1e00 50px,#ed0900 56px,#e80800 90px,#c60000 140px,#da0200 166px,#f40f00 180px,#ff2900 194px,#ff9600 230px,#ffd300 249px,#f0f809 273px,#c2ff34 284px,#70ff87 303px,#29ffce 341px,#13f6e4 358px,#17f8df 500px,#33ffc4 535px,#39ffbe 575px,#8dff6a 618px,#63ff94 632px,#66ff90 660px,#8dff6a 681px,#8dff6a 700px,#70ff87 701px,#33ffc4 702px,#01dafa 703px,#0094ff 704px,#0048ff 710px,#002aff 713px)"></i><i style="background:linear-gradient(#ffd700 0px,#ffa300 28px,#fa1c00 53px,#f61300 57px,#ef0d00 95px,#e10400 115px,#cf0000 140px,#f10d00 172px,#ff2d00 191px,#ff9600 228px,#ffdb00 249px,#f0f809 269px,#e4fe13 275px,#66ff90 304px,#23ffd4 338px,#0bf0ee 358px,#0cf2eb 501px,#29ffce 538px,#30ffc7 569px,#36ffc1 579px,#82ff75 618px,#5aff9d 632px,#5dff9a 660px,#83ff73 681px,#83ff73 700px,#66ff90 701px,#29ffce 702px,#00ccff 703px,#0088ff 704px,#0040ff 710px,#0022ff 713px)"></i><i style="background:linear-gradient(#ffd000 0px,#ff9c00 28px,#fa1800 54px,#f61100 87px,#d10000 127px,#c40000 138px,#ea0800 168px,#ff2700 190px,#ff7e00 223px,#ffd300 248px,#f1f609 272px,#deff19 278px,#70ff87 303px,#28ffcf 337px,#0bf2ec 360px,#0ff4e7 501px,#2cffca 540px,#34ffc2 563px,#39ffbe 579px,#85ff72 618px,#5dff9a 632px,#62ff95 661px,#87ff70 682px,#87ff70 700px,#68ff8f 701px,#2cffca 702px,#00d2fd 703px,#008aff 704px,#002eff 712px,#0026ff 713px)"></i><i style="background:linear-gradient(#ffde00 0px,#ffab00 28px,#ff2b00 55px,#ff2500 87px,#f80d00 112px,#da0000 133px,#da0000 141px,#f80d00 165px,#ff2e00 183px,#ff5400 201px,#ff8d00 223px,#ffe200 249px,#eefe09 266px,#d6ff21 277px,#60ff97 304px,#1effd9 333px,#0af2ec 346px,#00defb 359px,#01e2f9 501px,#1bffdc 540px,#24ffd2 556px,#28ffcf 579px,#75ff82 618px,#4effa9 632px,#51ffa5 661px,#75ff82 680px,#75ff82 700px,#58ff9f 701px,#1bffdc 702px,#00beff 703px,#0076ff 704px,#0034ff 710px,#0018ff 713px)"></i><i style="background:linear-gradient(#ffd900 0px,#ffa500 28px,#ff2d00 55px,#ff2900 86px,#ea0800 118px,#cf0000 138px,#f40d00 165px,#ff2e00 184px,#ff6d00 214px,#ffb800 237px,#ffe000 251px,#e9fc0e 272px,#d2ff24 279px,#65ff92 304px,#1efed9 334px,#04e0f6 357px,#06e4f5 502px,#13f6e4 531px,#26ffd1 555px,#2bffcc 579px,#77ff80 618px,#4effa9 632px,#53ffa4 661px,#78ff7f 681px,#78ff7f 700px,#5bff9c 701px,#1efed9 702px,#00c0ff 703px,#007aff 704px,#0036ff 710px,#001aff 713px)"></i><i style="background:linear-gradient(#eef60c 0px,#fdde00 20px,#ffcc00 29px,#ff5f00 55px,#ff5b00 85px,#fa1e00 131px,#f61600 139px,#ff3400 161px,#ff8200 204px,#ffb600 225px,#f8ea03 240px,#e1fe16 254px,#c1ff36 275px,#43ffb4 303px,#19f8de 319px,#06e0f5 331px,#00b0ff 357px,#00b4ff 506px,#00beff 524px,#08e4f3 552px,#0beaf0 579px,#29ffce 598px,#50ffa7 618px,#28ffcf 632px,#2cffca 661px,#50ffa7 681px,#50ffa7 700px,#33ffc4 701px,#04daf6 702px,#0048ff 704px,#0012ff 710px,#0004ff 713px)"></i><i style="background:linear-gradient(#ffca00 0px,#ff9200 29px,#ff2d00 56px,#ff2700 86px,#e80b00 111px,#bd0000 138px,#ed0d00 166px,#ff3000 190px,#ff7100 221px,#ffce00 249px,#f2f109 273px,#dbff1c 280px,#6eff88 305px,#26ffd1 333px,#09e8f2 358px,#0ceeee 522px,#2cffca 552px,#31ffc6 579px,#7dff7a 618px,#55ffa2 632px,#5aff9d 661px,#7fff78 681px,#7fff78 700px,#60ff97 701px,#24fed2 702px,#00c8ff 703px,#0082ff 704px,#0044ff 709px,#001eff 713px)"></i><i style="background:linear-gradient(#ffb800 0px,#ff8600 28px,#ff2300 55px,#ff2000 84px,#e40400 107px,#a80000 138px,#e80600 171px,#ff1c00 187px,#ff6000 222px,#ffb900 249px,#fbea00 275px,#e6ff11 281px,#7fff78 305px,#33ffc4 332px,#13f8e4 355px,#14f8e3 522px,#36ffc1 547px,#3cffba 579px,#88ff6e 618px,#63ff94 632px,#66ff90 661px,#8aff6d 680px,#8aff6d 700px,#6dff8a 701px,#30ffc7 702px,#00d8fb 703px,#0090ff 704px,#0052ff 709px,#0028ff 713px)"></i><i style="background:linear-gradient(#ffc100 0px,#ff8d00 29px,#ff3200 55px,#ff2e00 84px,#fa0f00 103px,#df0000 116px,#b60000 138px,#ef0600 168px,#ff1a00 180px,#ff6400 221px,#ffbd00 249px,#fbf100 275px,#e4ff13 280px,#7dff7a 304px,#2cffca 331px,#0ff8e7 351px,#06ecf1 361px,#09f0ee 522px,#1cffdb 535px,#30ffc7 553px,#33ffc4 578px,#7dff7a 618px,#5aff9d 633px,#5dff9a 661px,#82ff75 681px,#82ff75 700px,#63ff94 701px,#29ffce 702px,#00ccff 703px,#0086ff 704px,#003eff 710px,#0022ff 713px)"></i><i style="background:linear-gradient(#ffce00 0px,#ff9c00 30px,#ff4700 55px,#ff4300 84px,#fa1600 110px,#e40400 125px,#cb0000 138px,#f60d00 162px,#ff2e00 184px,#ff7500 223px,#ffca00 250px,#f8f303 272px,#e9fe0e 277px,#72ff85 304px,#1cfedb 332px,#03e2f8 353px,#01dcfa 365px,#03e0f8 419px,#03e0f8 524px,#1bfedc 544px,#21ffd6 566px,#26ffd1 579px,#6dff8a 618px,#4bffac 633px,#50ffa7 661px,#73ff83 681px,#73ff83 700px,#56ffa0 701px,#19fcde 702px,#00baff 703px,#0074ff 704px,#0028ff 711px,#0016ff 713px)"></i><i style="background:linear-gradient(#ebe410 0px,#fbcc00 27px,#ff6c00 56px,#ff6600 86px,#fa3400 115px,#e41c00 138px,#fa3400 165px,#ff8b00 220px,#fad101 242px,#e0f21b 269px,#d1fc26 276px,#53ffa4 305px,#2bf8cc 317px,#15e0e6 328px,#06c8f5 347px,#00b4fd 359px,#01befa 401px,#00b4fd 473px,#00b8fb 524px,#0cd6ee 540px,#13dee8 561px,#18e4e3 581px,#33fcc4 602px,#4dffaa 618px,#2cf8ca 633px,#30fac7 661px,#56ffa0 682px,#56ffa0 700px,#36fec1 701px,#10daeb 702px,#0094ff 703px,#004eff 704px,#0020ff 709px,#000ef8 713px)"></i><i style="background:linear-gradient(#ffd100 0px,#ffab00 29px,#ff5200 55px,#ff4c00 85px,#fa0f00 120px,#e10000 132px,#d80000 138px,#ef0600 153px,#ff1800 167px,#ff4800 202px,#ff7700 225px,#ffc400 252px,#f9f300 274px,#e7ff0f 278px,#72ff85 305px,#1bffdc 331px,#0af2ec 343px,#00daff 355px,#01e6f6 403px,#00d6ff 455px,#00daff 523px,#0cf4eb 537px,#1effd9 549px,#21ffd6 578px,#5dff9a 611px,#62ff95 619px,#48ffaf 633px,#4bffac 661px,#72ff85 682px,#72ff85 700px,#53ffa4 701px,#17ffdf 702px,#00b6ff 703px,#0070ff 704px,#0026ff 711px,#0014ff 713px)"></i><i style="background:linear-gradient(#ffca00 0px,#ffa500 29px,#ff4e00 55px,#ff4800 85px,#fa0f00 118px,#da0000 133px,#d40000 138px,#f10800 161px,#ff1600 174px,#ff4500 207px,#ff6a00 225px,#ffbf00 256px,#fbf100 276px,#e9ff0e 280px,#73ff83 307px,#1fffd7 332px,#0ff8e7 344px,#00e0fb 358px,#0af2ec 392px,#06ecf1 422px,#00e0fb 446px,#01e4f8 524px,#19ffde 541px,#26ffd1 554px,#29ffce 579px,#56ffa0 603px,#68ff8f 618px,#4dffaa 635px,#50ffa7 660px,#77ff80 681px,#77ff80 700px,#5aff9d 701px,#1cffdb 702px,#00c0ff 703px,#0078ff 704px,#0022ff 712px,#001aff 713px)"></i><i style="background:linear-gradient(#ffce00 0px,#ffb000 28px,#ff5400 56px,#ff5000 85px,#fa1800 117px,#e60600 132px,#dd0200 139px,#f40d00 163px,#ff3200 197px,#ff6000 222px,#faea01 275px,#dcff1b 283px,#70ff87 308px,#1efed9 332px,#04e2f6 354px,#06e4f5 366px,#0cf2eb 391px,#09ecf1 422px,#03def8 443px,#04e2f6 524px,#21ffd6 548px,#28ffcf 579px,#51ffa5 602px,#60ff97 619px,#4bffac 635px,#4effa9 660px,#75ff82 681px,#75ff82 700px,#58ff9f 701px,#1bfcdc 702px,#00bcff 703px,#0076ff 704px,#0032ff 710px,#0018ff 713px)"></i><i style="background:linear-gradient(#ffc300 0px,#ffa700 29px,#ff4e00 55px,#ff4800 85px,#fa0f00 118px,#df0000 131px,#d40000 138px,#ef0600 167px,#ff1600 187px,#ff5500 224px,#ffdd00 275px,#f6f601 280px,#e4ff13 284px,#65ff92 314px,#28ffcf 331px,#0ff8e7 348px,#04eaf3 358px,#17ffdf 386px,#13fce4 419px,#02e8f4 444px,#04eaf3 523px,#1bffdc 537px,#2bffcc 552px,#2effc9 578px,#58ff9f 601px,#66ff90 619px,#55ffa2 635px,#5aff9d 661px,#7fff78 681px,#7fff78 700px,#62ff95 701px,#24ffd2 702px,#00c6ff 703px,#0082ff 704px,#003aff 710px,#001eff 713px)"></i><i style="background:linear-gradient(#ffb400 0px,#ff9e00 28px,#ff4300 55px,#ff3f00 84px,#fa1300 110px,#d80000 128px,#c60000 138px,#ef0800 190px,#ff2700 210px,#ff6000 237px,#ffc800 275px,#f8f303 283px,#d6ff21 291px,#4effa9 324px,#34ffc2 332px,#14fae3 354px,#17fcdf 366px,#29ffce 391px,#23ffd4 419px,#11f8e6 444px,#14fae3 525px,#38ffbf 550px,#3bffbc 577px,#65ff92 600px,#70ff87 619px,#62ff95 637px,#65ff92 660px,#8cff6b 681px,#8cff6b 700px,#6eff88 701px,#31ffc6 702px,#00d8fd 703px,#0092ff 704px,#0048ff 710px,#002aff 713px)"></i><i style="background:linear-gradient(#ff9200 0px,#ff8000 28px,#ff2500 56px,#ff2000 86px,#ef0800 101px,#c10000 122px,#a20000 138px,#c80000 194px,#f10800 214px,#ff2200 226px,#ff6a00 256px,#ffa300 275px,#faf101 290px,#dfff17 296px,#55ffa2 330px,#2effc9 358px,#49ffad 388px,#45ffb2 416px,#2cffca 444px,#30ffc7 524px,#56ffa0 552px,#5bff9c 579px,#82ff75 601px,#88ff6e 621px,#7fff78 643px,#83ff73 661px,#a9ff4e 682px,#a9ff4e 700px,#8aff6d 701px,#13fae4 703px,#00b4ff 704px,#006cff 709px,#003eff 713px)"></i><i style="background:linear-gradient(#ff9400 0px,#ff8600 28px,#ff2b00 56px,#ff2500 85px,#fa0f00 98px,#e10000 110px,#a80000 138px,#c10000 193px,#ef0600 214px,#ff1800 224px,#ff5500 251px,#ffa700 276px,#fcef00 290px,#e6ff11 295px,#53ffa4 330px,#2cffca 358px,#4bffac 387px,#46ffb1 416px,#2cffca 443px,#30ffc7 525px,#55ffa2 552px,#5aff9d 579px,#80ff77 600px,#83ff73 624px,#7dff7a 655px,#9aff5d 673px,#a7ff50 682px,#a7ff50 700px,#8aff6d 701px,#11fae6 703px,#00b4ff 704px,#0060ff 710px,#003eff 713px)"></i><i style="background:linear-gradient(#ffa300 0px,#ff9c00 28px,#ff3f00 55px,#ff3b00 85px,#fa0f00 110px,#da0000 124px,#bf0000 138px,#d40000 194px,#ef0600 207px,#ff1800 218px,#ff5f00 251px,#ffac00 275px,#fcef00 288px,#e9ff0e 292px,#45ffb2 330px,#1fffd7 358px,#41ffb5 388px,#3cffba 415px,#1effd9 442px,#21ffd6 524px,#46ffb1 552px,#49ffad 578px,#70ff87 599px,#73ff83 661px,#98ff5e 681px,#98ff5e 700px,#7bff7b 701px,#40ffb7 702px,#03e8f4 703px,#00a2ff 704px,#0052ff 710px,#0032ff 713px)"></i><i style="background:linear-gradient(#ffd700 0px,#ffd000 28px,#ff7300 56px,#ff6d00 85px,#fa1600 138px,#ff2200 194px,#ff8700 250px,#ffde00 276px,#ecfc0a 283px,#19fcde 330px,#03e0f8 350px,#00d6fd 358px,#14fae3 382px,#13f8e4 415px,#00d6fd 441px,#00d4fd 523px,#13f8e4 544px,#19fcde 561px,#1fffd7 578px,#45ffb2 599px,#49ffad 661px,#6dff8a 681px,#6dff8a 700px,#50ffa7 701px,#14fae3 702px,#00b2ff 703px,#006cff 704px,#0024ff 711px,#0012ff 713px)"></i><i style="background:linear-gradient(#ffdb00 0px,#ffd700 28px,#ff7a00 56px,#ff7100 85px,#ff1c00 139px,#ff2300 195px,#ff8600 250px,#ffde00 277px,#ebfe0c 284px,#17fcdf 330px,#06eaf3 344px,#00d2ff 358px,#11f8e6 380px,#17fcdf 397px,#14fae3 415px,#00dafb 437px,#00ceff 521px,#0cf4eb 542px,#17fcdf 558px,#1effd9 579px,#43ffb4 599px,#45ffb2 660px,#6bff8c 681px,#6bff8c 700px,#4effa9 701px,#11f8e6 702px,#00b2ff 703px,#006aff 704px,#0022ff 711px,#0012ff 713px)"></i><i style="background:linear-gradient(#ffe600 0px,#ffe200 29px,#ff8900 55px,#ff7e00 85px,#ff2d00 135px,#ff2d00 194px,#ff8b00 250px,#ffde00 276px,#f4f803 281px,#bfff38 293px,#11fae6 329px,#00d4ff 349px,#00caff 359px,#07eef0 378px,#11fae6 388px,#0cf4eb 415px,#00d2ff 437px,#00c6ff 482px,#00c0ff 522px,#03e4f8 541px,#0cf4eb 552px,#16fce1 579px,#39ffbe 599px,#3effb9 661px,#63ff94 681px,#63ff94 700px,#46ffb1 701px,#09f0ee 702px,#00a6ff 703px,#0060ff 704px,#0022ff 710px,#000aff 713px)"></i><i style="background:linear-gradient(#ffd900 0px,#ffd500 28px,#ff7900 55px,#ff6a00 85px,#ff2300 130px,#ff1800 142px,#ff1c00 194px,#ff6f00 247px,#ffc300 276px,#fbf100 285px,#e9ff0e 289px,#33ffc4 326px,#1fffd7 331px,#0af2ec 345px,#00defc 358px,#1bffdc 379px,#23ffd4 394px,#1cffdb 417px,#06ecf1 436px,#00e2f9 472px,#00d2ff 499px,#00d6ff 525px,#0af2ec 540px,#1bffdc 550px,#26ffd1 578px,#4bffac 599px,#50ffa7 661px,#75ff82 682px,#75ff82 700px,#56ffa0 701px,#1bffdc 702px,#00bcff 703px,#0074ff 704px,#0032ff 710px,#0016ff 713px)"></i><i style="background:linear-gradient(#ffd000 0px,#ffcc00 28px,#ff6f00 56px,#ff5f00 85px,#ff2b00 116px,#ff1300 141px,#ff1600 196px,#ff4500 230px,#ff7900 256px,#ffab00 275px,#fbf100 289px,#e7ff0f 293px,#9aff5d 309px,#2bffcc 330px,#11fae6 348px,#04eaf3 358px,#17ffdf 370px,#2cffca 387px,#28ffcf 417px,#0ff8e7 444px,#0cf4eb 470px,#00daff 494px,#00defc 524px,#19ffde 544px,#31ffc6 579px,#55ffa2 598px,#58ff9f 660px,#7fff78 681px,#7fff78 700px,#62ff95 701px,#24ffd2 702px,#00caff 703px,#0082ff 704px,#0046ff 709px,#0020ff 713px)"></i><i style="background:linear-gradient(#ffd300 0px,#ffd000 28px,#ff7300 56px,#ff5f00 85px,#ff2b00 117px,#ff1600 142px,#ff1a00 197px,#ff4100 228px,#ff9800 272px,#ffb900 280px,#feed00 290px,#ebff0c 294px,#aaff4d 307px,#2bffcc 330px,#11fae6 348px,#06ecf1 358px,#1bffdc 372px,#2cffca 388px,#28ffcf 418px,#13fce4 445px,#11fae6 469px,#00dcfd 489px,#00d4ff 502px,#00d8ff 523px,#0ef6e9 539px,#1fffd7 554px,#31ffc6 579px,#55ffa2 598px,#58ff9f 660px,#7fff78 681px,#7fff78 700px,#62ff95 701px,#24ffd2 702px,#00c8ff 703px,#0082ff 704px,#0046ff 709px,#001eff 713px)"></i><i style="background:linear-gradient(#ffdd00 0px,#ffd900 28px,#ff7c00 56px,#ff6000 86px,#ff3200 116px,#ff2000 142px,#ff2300 198px,#ff4100 225px,#ff9e00 275px,#fbf100 291px,#e9ff0e 295px,#9aff5d 310px,#28ffcf 330px,#0ff8e7 346px,#01e6f6 358px,#1bffdc 375px,#28ffcf 389px,#21ffd6 420px,#13fce4 445px,#0ff8e7 469px,#00daff 485px,#00caff 498px,#00ceff 523px,#01e6f6 536px,#17ffdf 552px,#30ffc7 580px,#51ffa5 599px,#56ffa0 661px,#7bff7b 682px,#7bff7b 700px,#5dff9a 701px,#21ffd6 702px,#00c2ff 703px,#007cff 704px,#0036ff 710px,#001cff 713px)"></i><i style="background:linear-gradient(#fde200 0px,#ffde00 29px,#ff8600 55px,#ff5f00 89px,#ff3600 116px,#ff2500 144px,#ff2900 197px,#ff4800 227px,#ff9a00 275px,#fae801 290px,#d6ff21 300px,#24ffd2 330px,#06e4f5 354px,#08e6f3 360px,#24ffd2 386px,#1ffed7 420px,#13f4e4 450px,#0ef2e9 470px,#00c4ff 494px,#00c8ff 524px,#0cf2eb 547px,#2effc9 581px,#4effa9 599px,#53ffa4 661px,#78ff7f 682px,#78ff7f 700px,#5aff9d 701px,#1efcd9 702px,#00c0ff 703px,#0078ff 704px,#002cff 711px,#001aff 713px)"></i><i style="background:linear-gradient(#ffe800 0px,#ffe400 28px,#ff8700 56px,#ff6000 88px,#ff3800 113px,#ff2900 147px,#ff2e00 201px,#ff3f00 223px,#ff7300 254px,#ff8f00 275px,#faed01 293px,#dfff17 300px,#26ffd1 329px,#0cf4eb 347px,#01e0fa 357px,#16fce1 373px,#26ffd1 387px,#1fffd7 425px,#17fcdf 456px,#11f8e6 470px,#00d8fd 484px,#00c0ff 496px,#00c4ff 523px,#03e6f6 541px,#14fce3 558px,#30ffc7 581px,#50ffa7 599px,#53ffa4 661px,#7aff7d 681px,#7aff7d 700px,#5aff9d 701px,#1fffd7 702px,#00c0ff 703px,#0078ff 704px,#0036ff 710px,#001aff 713px)"></i><i style="background:linear-gradient(#f8f501 0px,#fbf100 29px,#ff9400 56px,#ff6000 94px,#ff4300 114px,#ff3800 153px,#ff3d00 203px,#ff4c00 223px,#ff7900 251px,#ff9400 275px,#fbf100 293px,#e9ff0e 297px,#b1ff46 307px,#1bffdc 330px,#09f0ee 342px,#00d8ff 358px,#0af2ec 372px,#1cffdb 384px,#17ffdf 427px,#0ef6e9 468px,#00daff 478px,#00b0ff 495px,#00b4ff 524px,#00e0fb 548px,#19ffde 573px,#46ffb1 599px,#4bffac 661px,#6eff88 681px,#6eff88 700px,#51ffa5 701px,#14fee3 702px,#00b4ff 703px,#006eff 704px,#0036ff 709px,#0012ff 713px)"></i><i style="background:linear-gradient(#f5ef06 0px,#f8eb03 29px,#ffa300 50px,#ff8d00 59px,#ff5400 97px,#ff3d00 112px,#ff3400 162px,#ff3a00 213px,#ff4800 226px,#ff7100 252px,#ff8200 275px,#faea01 295px,#e1ff16 302px,#21fed6 330px,#08e6f3 353px,#04def6 357px,#17f8df 376px,#24ffd2 389px,#17f8df 468px,#04def6 480px,#00b4ff 495px,#00b8ff 523px,#09eaf2 550px,#28ffcf 579px,#4effa9 599px,#51ffa5 661px,#75ff82 680px,#75ff82 700px,#58ff9f 701px,#1bfadc 702px,#00beff 703px,#0076ff 704px,#0034ff 710px,#0018ff 713px)"></i><i style="background:linear-gradient(#e7ff0f 0px,#ecfc0a 29px,#ffdb00 40px,#ffa300 58px,#ff5000 113px,#ff4c00 205px,#ff5400 222px,#ff8000 250px,#ff8f00 275px,#fbeb00 293px,#e1ff16 300px,#1effd9 328px,#11f8e6 332px,#00ceff 354px,#00ceff 359px,#0ff8e7 382px,#0cf4eb 467px,#00ceff 479px,#009eff 495px,#00a2ff 524px,#03e2f8 560px,#1bfedc 580px,#3cffba 599px,#41ffb5 661px,#65ff92 681px,#65ff92 700px,#48ffaf 701px,#0cf4eb 702px,#00aaff 703px,#0062ff 704px,#0026ff 710px,#000cff 713px)"></i><i style="background:linear-gradient(#ffe600 0px,#ffe200 28px,#ff8600 56px,#ff3000 111px,#ff2900 201px,#ff3200 223px,#ff5b00 250px,#ff6200 274px,#fbef00 302px,#dfff17 306px,#38ffbf 330px,#11fae6 354px,#0ff8e7 359px,#30ffc7 387px,#28ffcf 468px,#0ff8e7 477px,#00d8ff 487px,#00c2ff 495px,#00c8ff 523px,#03e6f6 540px,#19ffde 558px,#5aff9d 600px,#5dff9a 660px,#83ff73 681px,#83ff73 700px,#66ff90 701px,#29ffce 702px,#00ceff 703px,#0088ff 704px,#0040ff 710px,#0022ff 713px)"></i><i style="background:linear-gradient(#ffc300 0px,#ffb900 29px,#ff6000 57px,#fa1100 106px,#f30900 130px,#f10800 221px,#ff2200 236px,#ff3000 249px,#ff3a00 275px,#ffca00 303px,#f8f303 308px,#dcff1b 312px,#60ff97 330px,#31ffc6 358px,#4effa9 388px,#48ffaf 468px,#11fae6 489px,#04eaf3 496px,#0cf4eb 525px,#26ffd1 544px,#78ff7f 601px,#80ff77 661px,#a4ff53 681px,#a4ff53 700px,#87ff70 701px,#0ef6e9 703px,#00b0ff 704px,#006aff 709px,#003cff 713px)"></i><i style="background:linear-gradient(#dfff17 0px,#e7fa10 28px,#ffdb00 42px,#ffac00 58px,#ff5b00 111px,#ff5500 221px,#ff7a00 248px,#ff8200 275px,#fae401 295px,#e7fa10 302px,#26fed1 330px,#09e6f2 348px,#01d4fa 358px,#0cf0ec 388px,#09eaf2 468px,#00baff 483px,#0098ff 495px,#00a0ff 523px,#03d8f8 557px,#0ef0eb 571px,#2effc9 594px,#3cffba 645px,#3bffbc 661px,#60ff97 681px,#60ff97 700px,#43ffb4 701px,#0beef0 702px,#00a2ff 703px,#005cff 704px,#0020ff 710px,#000aff 713px)"></i><i style="background:linear-gradient(#ffc100 0px,#ffb200 29px,#ff5d00 58px,#fa1100 109px,#ed0600 204px,#f10800 223px,#ff2200 242px,#ff2900 257px,#ff2e00 275px,#ffb800 303px,#faef01 310px,#e1ff16 314px,#78ff7f 330px,#3cffba 358px,#4bffac 397px,#45ffb2 468px,#11fae6 490px,#09f0ee 498px,#19fede 529px,#72ff85 597px,#83ff73 642px,#7fff78 661px,#a4ff53 681px,#a4ff53 700px,#85ff72 701px,#0ef6e9 703px,#00aeff 704px,#005cff 710px,#003cff 713px)"></i><i style="background:linear-gradient(#ffd100 0px,#ffc100 28px,#ff6d00 58px,#ff2300 111px,#f81300 219px,#ff3000 245px,#ff3b00 275px,#ffc100 303px,#f8ef03 309px,#dcff1b 314px,#77ff80 330px,#33ffc4 358px,#34ffc2 467px,#11f8e6 484px,#03e0f8 496px,#11f6e6 529px,#31ffc6 557px,#55ffa2 584px,#77ff80 636px,#6eff88 655px,#6eff88 661px,#95ff62 682px,#95ff62 700px,#77ff80 701px,#3bffbc 702px,#03e2f8 703px,#009cff 704px,#0058ff 709px,#0030ff 713px)"></i><i style="background:linear-gradient(#ffc800 0px,#ffae00 29px,#ff6400 58px,#ff2000 111px,#f80f00 212px,#fd1600 227px,#ff2e00 252px,#ff3400 275px,#ffb400 303px,#f9f300 312px,#e7ff0f 315px,#8dff6a 330px,#40ffb7 358px,#36ffc1 430px,#30ffc7 469px,#11fae6 487px,#04eaf3 495px,#1effd9 533px,#3bffbc 559px,#58ff9f 581px,#70ff87 619px,#7fff78 635px,#78ff7f 651px,#72ff85 660px,#98ff5e 681px,#98ff5e 700px,#7aff7d 701px,#3effb9 702px,#03e6f6 703px,#00a0ff 704px,#0052ff 710px,#0034ff 713px)"></i><i style="background:linear-gradient(#ffb200 0px,#ff8b00 31px,#ff5200 57px,#ff3600 87px,#ff1500 111px,#f60b00 221px,#ff2000 236px,#ff2e00 251px,#ff3800 276px,#ffac00 304px,#fbf100 316px,#e7ff0f 320px,#a9ff4e 334px,#55ffa2 359px,#34ffc2 387px,#34ffc2 469px,#11fae6 492px,#11fae6 500px,#3effb9 554px,#62ff95 580px,#66ff90 603px,#88ff6e 634px,#82ff75 651px,#78ff7f 660px,#9fff58 681px,#9fff58 700px,#80ff77 701px,#45ffb2 702px,#09f0ee 703px,#00a8ff 704px,#0064ff 709px,#0036ff 713px)"></i><i style="background:linear-gradient(#ffc300 0px,#ff7a00 43px,#ff6400 57px,#ff5400 87px,#ff2e00 111px,#ff2d00 222px,#ff5500 249px,#ff5900 275px,#ffde00 310px,#e1fe16 321px,#48ffaf 360px,#14fae3 383px,#16fae1 427px,#1cfedb 467px,#03def8 491px,#03def8 498px,#11f6e6 525px,#28ffcf 554px,#4bffac 579px,#49ffad 602px,#75ff82 634px,#70ff87 647px,#5eff98 660px,#85ff72 681px,#85ff72 700px,#68ff8f 701px,#2bffcc 702px,#00d0ff 703px,#008aff 704px,#0042ff 710px,#0024ff 713px)"></i><i style="background:linear-gradient(#ffdd00 0px,#ff7e00 57px,#ff7500 85px,#ff5000 112px,#ff4700 207px,#ff5000 224px,#ff7500 250px,#ff7c00 275px,#faed01 308px,#dcff1b 319px,#b1ff46 332px,#36ffc1 359px,#14fae3 371px,#00d0ff 384px,#00d6fb 421px,#04e4f6 449px,#03e0f8 469px,#00c0ff 495px,#06e6f5 531px,#11f6e6 554px,#2effc9 573px,#31ffc6 579px,#29ffce 599px,#5eff98 635px,#58ff9f 648px,#45ffb2 660px,#6bff8c 681px,#6bff8c 700px,#4effa9 701px,#11f6e6 702px,#00b0ff 703px,#006aff 704px,#0032ff 709px,#0010ff 713px)"></i><i style="background:linear-gradient(#ffdb00 0px,#ff7a00 57px,#ff3800 138px,#ff3200 171px,#fa2200 195px,#ff6800 275px,#fae601 311px,#e1fe16 323px,#c1ff36 332px,#3cffba 358px,#17f8df 374px,#08e4f3 386px,#09eaf2 421px,#0becf0 475px,#04daf6 496px,#10f0e9 516px,#24fed2 553px,#46ffb1 578px,#36ffc1 598px,#63ff94 625px,#72ff85 634px,#6dff8a 647px,#53ffa4 659px,#7dff7a 681px,#7dff7a 700px,#5eff98 701px,#23fed4 702px,#00c4ff 703px,#0080ff 704px,#0044ff 709px,#001cff 713px)"></i><i style="background:linear-gradient(#ffeb00 0px,#ff7c00 66px,#ff6400 88px,#ff5500 115px,#ff3800 140px,#ff3200 169px,#fd1300 193px,#ff3a00 225px,#ff4800 252px,#ff6d00 276px,#fcef00 314px,#e9ff0e 320px,#c4ff33 331px,#31ffc6 357px,#13fce4 374px,#00e4f8 386px,#04eaf3 472px,#00defc 496px,#19ffde 520px,#24ffd2 551px,#4bffac 577px,#33ffc4 598px,#65ff92 625px,#75ff82 633px,#72ff85 646px,#53ffa4 659px,#7bff7b 681px,#7bff7b 700px,#5eff98 701px,#21ffd6 702px,#00c4ff 703px,#007eff 704px,#0038ff 710px,#001cff 713px)"></i><i style="background:linear-gradient(#eefa09 0px,#ffd700 22px,#ff7700 82px,#ff6a00 114px,#ff4700 140px,#ff3d00 167px,#fa1a00 191px,#ff4300 224px,#ff4800 252px,#ff7300 277px,#faed01 311px,#d9ff1e 322px,#b1ff46 332px,#1fffd7 357px,#06e4f5 376px,#00d4fb 386px,#00d4fb 481px,#00d0fd 496px,#11f6e6 521px,#19fade 551px,#3cffba 577px,#21fed6 598px,#53ffa4 623px,#6aff8d 633px,#66ff90 646px,#45ffb2 659px,#6dff8a 681px,#6dff8a 700px,#50ffa7 701px,#13f6e4 702px,#00b2ff 703px,#006cff 704px,#001aff 712px,#0012ff 713px)"></i><i style="background:linear-gradient(#e7f811 0px,#fddd00 25px,#ffa300 61px,#ff3400 194px,#ff4a00 224px,#ff5000 254px,#ff6600 275px,#ffce00 304px,#f2f109 312px,#d2ff24 320px,#56ffa0 345px,#21fcd6 355px,#0eeced 363px,#00c6fd 379px,#00b8ff 386px,#00b8ff 483px,#00b8ff 496px,#0be6f0 524px,#11ecea 556px,#28fecf 577px,#10eaeb 597px,#2bffcc 616px,#55ffa2 633px,#51ffa5 646px,#30ffc7 660px,#56ffa0 681px,#56ffa0 700px,#39ffbe 701px,#09e2f2 702px,#0098ff 703px,#0050ff 704px,#0018ff 710px,#0008ff 713px)"></i><i style="background:linear-gradient(#fdeb00 0px,#ff8b00 57px,#ff8000 85px,#ff5b00 113px,#ff4e00 141px,#ff2b00 170px,#ff2700 200px,#ff3600 274px,#ffa100 304px,#f9f301 317px,#e1ff16 321px,#2effc9 358px,#0ff8e7 369px,#00d6ff 379px,#00c6ff 386px,#00caff 497px,#01e6f6 512px,#0ef6e9 525px,#14fee3 553px,#34ffc2 577px,#14fee3 598px,#45ffb2 621px,#62ff95 633px,#5eff98 646px,#3bffbc 659px,#62ff95 680px,#62ff95 700px,#45ffb2 701px,#07eef0 702px,#00a6ff 703px,#005eff 704px,#0022ff 710px,#000aff 713px)"></i><i style="background:linear-gradient(#ffcc00 0px,#ff6c00 58px,#ff6000 87px,#ff3f00 111px,#ff3b00 139px,#fa1600 160px,#f60f00 172px,#e80b00 275px,#ff2500 285px,#ff6800 303px,#fae401 321px,#e3fc14 327px,#51ffa5 359px,#1cfadb 377px,#0cecee 385px,#09eaf2 496px,#29ffce 522px,#2effc9 552px,#49ffad 577px,#2cffca 598px,#63ff94 623px,#7bff7b 633px,#77ff80 647px,#53ffa4 659px,#7bff7b 681px,#7bff7b 700px,#5eff98 701px,#23ffd4 702px,#00c4ff 703px,#007eff 704px,#0038ff 710px,#001eff 713px)"></i><i style="background:linear-gradient(#ffc800 0px,#ff6600 59px,#ff3a00 114px,#ff3600 140px,#fa0f00 162px,#f30900 173px,#ef0600 199px,#c10000 240px,#c10000 276px,#f10800 287px,#ff2000 294px,#ff4a00 304px,#fbef00 328px,#e9ff0e 332px,#72ff85 359px,#28ffcf 385px,#23ffd4 416px,#11fae6 446px,#14fee3 496px,#3bffbc 524px,#40ffb7 553px,#58ff9f 578px,#3bffbc 597px,#75ff82 623px,#8fff68 633px,#8cff6b 646px,#65ff92 659px,#8fff68 682px,#8fff68 700px,#6eff88 701px,#34ffc2 702px,#00daff 703px,#0092ff 704px,#003eff 711px,#002aff 713px)"></i><i style="background:linear-gradient(#e1ed19 0px,#fbca00 34px,#ff7e00 83px,#ff7100 141px,#ff4800 166px,#ff4300 195px,#ed2000 224px,#db0d00 252px,#df1300 277px,#fa2e00 290px,#ff6000 303px,#fad501 320px,#cfff28 332px,#58ff9f 359px,#29face 375px,#15e8e6 385px,#11e2ea 419px,#06caf5 444px,#08cef3 496px,#1beae0 525px,#1ef0db 557px,#2efac9 578px,#1bece0 598px,#41ffb5 619px,#66ff90 632px,#63ff94 646px,#3effb9 659px,#66ff90 681px,#66ff90 700px,#48ffaf 701px,#16e6e5 702px,#00aaff 703px,#0064ff 704px,#001cff 711px,#0014ff 713px)"></i><i style="background:linear-gradient(#cfff28 0px,#f3f806 24px,#ffd900 43px,#ff9e00 83px,#ff8900 139px,#ff6600 168px,#ff6200 194px,#fa1500 239px,#ef0800 250px,#e80200 275px,#fd1500 281px,#ff6600 303px,#faef01 322px,#dcff1b 327px,#4dffaa 359px,#14fae3 378px,#04e6f6 386px,#03e2f8 414px,#00bcff 442px,#00c0ff 496px,#01e2f9 515px,#07eef0 525px,#0af2ec 552px,#1effd9 578px,#0af2ec 598px,#21ffd6 609px,#4effa9 627px,#5bff9c 635px,#58ff9f 646px,#31ffc6 659px,#5bff9c 682px,#5bff9c 700px,#3cffba 701px,#03e6f6 702px,#0054ff 704px,#000cff 712px,#0004ff 713px)"></i><i style="background:linear-gradient(#baff3c 0px,#f1fa06 37px,#ffdb00 55px,#ff7e00 168px,#ff7a00 194px,#ff1a00 251px,#f10800 275px,#ff1e00 281px,#ff6f00 303px,#fdeb00 319px,#e4ff13 323px,#b1ff46 331px,#33ffc4 360px,#0ff8e7 372px,#00d4ff 382px,#00ccff 387px,#00c8ff 416px,#00b4ff 442px,#00b8ff 497px,#00e0fb 519px,#01e6f6 537px,#06ecf1 557px,#14fce3 577px,#03e8f4 598px,#1cffdb 610px,#43ffb4 626px,#53ffa4 633px,#50ffa7 646px,#2bffcc 659px,#53ffa4 681px,#53ffa4 700px,#36ffc1 701px,#00dcfd 702px,#004cff 704px,#0006ff 712px,#0000ff 713px)"></i><i style="background:linear-gradient(#afff48 0px,#f3fa04 45px,#fdea00 58px,#ffde00 85px,#ff9200 139px,#ff8600 195px,#fd1300 264px,#ef0600 275px,#ff1800 280px,#ff6600 302px,#fdeb00 318px,#ebff0c 321px,#a5ff51 331px,#28ffcf 360px,#0ef6e9 369px,#00d4ff 378px,#00beff 385px,#00b6ff 495px,#00e2f9 518px,#04eaf3 526px,#09f0ee 558px,#13fce4 579px,#04eaf3 598px,#17ffdf 607px,#3effb9 623px,#55ffa2 633px,#51ffa5 646px,#2effc9 659px,#55ffa2 680px,#55ffa2 700px,#38ffbf 701px,#00defc 702px,#004eff 704px,#000eff 711px,#0000ff 713px)"></i><i style="background:linear-gradient(#b9ff3e 0px,#e3f816 28px,#fadd01 61px,#fbd700 87px,#ff8f00 141px,#ff8400 195px,#ff3d00 239px,#ed2100 262px,#e41c00 275px,#fd3600 288px,#ff6400 302px,#fad701 316px,#d7fc1f 324px,#a4ff53 332px,#2cfaca 357px,#13e4e8 369px,#04caf6 379px,#00b6ff 385px,#00bafd 496px,#10e0eb 519px,#16e6e5 586px,#16e6e5 601px,#2cfaca 617px,#56ffa0 632px,#53ffa4 646px,#2efcc9 659px,#56ffa0 681px,#56ffa0 700px,#39ffbe 701px,#0edced 702px,#0096ff 703px,#0050ff 704px,#001aff 710px,#000cfa 713px)"></i><i style="background:linear-gradient(#d4fe23 0px,#f6de04 37px,#ffbf00 58px,#ffb900 91px,#ff7a00 169px,#ff7500 195px,#ff4700 224px,#fa2200 271px,#fa2200 276px,#ff6600 302px,#fbd900 317px,#dbfc1c 325px,#8fff68 338px,#24fad2 359px,#0be4f0 371px,#00b4ff 385px,#00b8ff 496px,#0ce6ee 523px,#0ee8ed 592px,#13eee7 604px,#39ffbe 622px,#55ffa2 633px,#51ffa5 646px,#2cffca 659px,#55ffa2 681px,#55ffa2 700px,#36ffc1 701px,#09e0f2 702px,#0094ff 703px,#004cff 704px,#0010ff 711px,#0008fd 713px)"></i><i style="background:linear-gradient(#f8eb03 0px,#ffae00 35px,#ff8d00 57px,#ff7e00 138px,#ff5700 167px,#ff5200 195px,#ff2700 222px,#ff2000 276px,#ff5400 302px,#fbe800 323px,#dcff1b 329px,#38ffbf 358px,#14fae3 370px,#00dafb 380px,#00caff 385px,#00ceff 497px,#0af2ec 516px,#14fae3 528px,#17fcdf 599px,#4bffac 622px,#65ff92 633px,#62ff95 646px,#3effb9 659px,#65ff92 681px,#65ff92 700px,#48ffaf 701px,#0af2ec 702px,#00aaff 703px,#0062ff 704px,#0024ff 710px,#000cff 713px)"></i><i style="background:linear-gradient(#ffd900 0px,#ff7a00 57px,#ff7500 127px,#ff6600 145px,#ff4a00 169px,#ff4500 197px,#ff2500 223px,#ff1e00 254px,#ff2900 276px,#ff6000 302px,#fbf100 324px,#ebff0c 327px,#33ffc4 358px,#13fce4 369px,#00e0fb 377px,#00c4ff 385px,#00d0ff 496px,#09f0ee 513px,#16fee1 523px,#1effd9 600px,#4effa9 622px,#6aff8d 633px,#66ff90 646px,#41ffb5 659px,#6aff8d 681px,#6aff8d 700px,#4dffaa 701px,#0ff8e7 702px,#00aeff 703px,#0068ff 704px,#0028ff 710px,#000eff 713px)"></i><i style="background:linear-gradient(#ffb600 0px,#ff5900 57px,#ff5500 114px,#ff2900 167px,#ff2300 201px,#ea0900 238px,#e10600 249px,#f81500 275px,#ff3d00 290px,#ff6400 303px,#fbe800 325px,#e3ff14 331px,#45ffb2 358px,#14f8e3 374px,#01d8fa 384px,#03dcf8 418px,#0ceeee 441px,#0ef2e9 497px,#31ffc6 521px,#39ffbe 599px,#70ff87 623px,#88ff6e 634px,#85ff72 646px,#60ff97 659px,#88ff6e 681px,#88ff6e 700px,#6aff8d 701px,#2effc9 702px,#01d4fa 703px,#008cff 704px,#0044ff 710px,#0028ff 713px)"></i><i style="background:linear-gradient(#ff8d00 0px,#ff2e00 57px,#ff2b00 112px,#ea1100 134px,#df0600 220px,#ad0000 247px,#e10600 275px,#fa1a00 284px,#ff5f00 304px,#fae601 329px,#e6fc11 334px,#5eff98 357px,#1bfadc 379px,#0cf0ec 386px,#0ef2e9 414px,#2bffcc 441px,#2effc9 496px,#55ffa2 523px,#60ff97 600px,#97ff60 624px,#acff4b 633px,#a9ff4e 646px,#85ff72 659px,#acff4b 681px,#acff4b 700px,#8fff68 701px,#17f6df 703px,#00baff 704px,#0058ff 711px,#0042ff 713px)"></i><i style="background:linear-gradient(#ffa300 0px,#ff4300 58px,#ff3a00 105px,#ff2700 124px,#ff1500 141px,#fd1100 222px,#e10000 235px,#c80000 247px,#ef0600 271px,#ff2000 280px,#ff8d00 307px,#f9f301 328px,#d9ff1e 334px,#4bffac 358px,#13fae4 377px,#01e2f9 385px,#03e6f6 415px,#1bffdc 435px,#21ffd6 496px,#48ffaf 523px,#50ffa7 586px,#55ffa2 599px,#8aff6d 623px,#a2ff55 633px,#9fff58 646px,#7aff7d 659px,#a2ff55 681px,#a2ff55 700px,#85ff72 701px,#48ffaf 702px,#0cf4eb 703px,#00aeff 704px,#0066ff 709px,#003cff 713px)"></i><i style="background:linear-gradient(#ffc300 0px,#ff5d00 60px,#ff4800 87px,#ff4300 117px,#ff3200 145px,#ff2e00 223px,#f81100 240px,#ef0800 250px,#fd1c00 275px,#fbe800 322px,#e9fc0e 329px,#40ffb7 358px,#17fadf 371px,#04e2f6 380px,#00d2fd 385px,#00d6fb 415px,#0ff6e7 441px,#14f8e3 497px,#38ffbf 522px,#45ffb2 566px,#48ffaf 599px,#7bff7b 622px,#95ff62 633px,#90ff66 647px,#6eff88 659px,#95ff62 681px,#95ff62 700px,#78ff7f 701px,#3cffba 702px,#06e6f5 703px,#009eff 704px,#005cff 709px,#0032ff 713px)"></i><i style="background:linear-gradient(#fdeb00 0px,#ff6200 82px,#ff5b00 221px,#ff2e00 249px,#ff3600 275px,#ffc400 304px,#fbf100 316px,#e6ff11 323px,#c2ff34 332px,#29ffce 358px,#11fae6 366px,#00e0fb 373px,#00b6ff 385px,#00baff 415px,#00d8ff 443px,#00dcfd 497px,#19ffde 518px,#2effc9 558px,#31ffc6 599px,#65ff92 622px,#7fff78 633px,#7bff7b 646px,#58ff9f 659px,#7fff78 681px,#7fff78 700px,#62ff95 701px,#24ffd2 702px,#00caff 703px,#0082ff 704px,#0046ff 709px,#0020ff 713px)"></i><i style="background:linear-gradient(#f4f803 0px,#ffd900 24px,#ff7500 85px,#ff6f00 181px,#ff6d00 202px,#ff7100 223px,#ff5400 250px,#ff5500 275px,#ffd700 306px,#f6f603 315px,#dbff1c 324px,#c1ff36 331px,#2cffca 358px,#11fae6 367px,#00dcfe 375px,#00baff 385px,#00beff 415px,#00d6ff 442px,#00daff 496px,#0ef6e9 511px,#1effd9 522px,#30ffc7 556px,#34ffc2 599px,#6dff8a 624px,#83ff73 632px,#80ff77 646px,#5aff9d 659px,#83ff73 681px,#83ff73 700px,#65ff92 701px,#29ffce 702px,#00ccff 703px,#0086ff 704px,#0034ff 711px,#0024ff 713px)"></i><i style="background:linear-gradient(#ccff2b 0px,#e6ff11 33px,#f9f300 46px,#ffb400 84px,#ffb000 169px,#ff9800 193px,#ffb200 222px,#ff9f00 255px,#ffa100 275px,#fbf100 300px,#e6ff11 307px,#9cff5b 331px,#14fce3 357px,#00d6ff 368px,#009aff 385px,#009eff 417px,#00b4ff 445px,#00b8ff 496px,#01e2f9 519px,#17fedf 549px,#1bffdc 599px,#4effa9 622px,#68ff8f 633px,#65ff92 646px,#41ffb5 659px,#68ff8f 680px,#68ff8f 700px,#4bffac 701px,#0ff8e7 702px,#00aeff 703px,#0066ff 704px,#0020ff 711px,#0010ff 713px)"></i><i style="background:linear-gradient(#caff2c 0px,#d1ff26 30px,#f4f804 53px,#ffd700 73px,#ffc400 86px,#ffc100 168px,#ff9c00 193px,#ffc400 221px,#ffc400 275px,#f8f303 298px,#e1ff16 308px,#8fff68 333px,#1cfcdb 358px,#06e4f5 368px,#00acff 383px,#00acff 418px,#00bcff 445px,#00c0ff 496px,#09eef0 520px,#23ffd4 555px,#26ffd1 599px,#5aff9d 622px,#73ff83 633px,#70ff87 646px,#4dffaa 659px,#73ff83 680px,#73ff83 700px,#56ffa0 701px,#19fade 702px,#00bcff 703px,#0074ff 704px,#003cff 709px,#0016ff 713px)"></i><i style="background:linear-gradient(#d7ff1f 0px,#ebff0c 32px,#ffe800 48px,#ffb900 84px,#ffb600 168px,#ff9800 194px,#ffb900 222px,#ffbd00 276px,#fbf100 300px,#e4ff13 309px,#a4ff53 332px,#2cffca 359px,#0ff8e7 369px,#00dcfe 376px,#00c0ff 385px,#00c6ff 426px,#00ceff 457px,#00d2ff 496px,#07eef0 511px,#1bffdc 525px,#33ffc4 552px,#36ffc1 599px,#6dff8a 623px,#87ff70 632px,#83ff73 646px,#5dff9a 659px,#87ff70 681px,#87ff70 700px,#68ff8f 701px,#2cffca 702px,#00d0ff 703px,#008cff 704px,#004cff 709px,#0024ff 713px)"></i><i style="background:linear-gradient(#d4ff23 0px,#f1fc06 31px,#ffde00 47px,#ffca00 67px,#ffc100 93px,#ffbd00 169px,#ffae00 195px,#ffc100 227px,#ffc400 276px,#fbf100 292px,#e4ff13 301px,#a7ff50 330px,#23ffd4 360px,#0ff8e7 367px,#00dcfe 374px,#00b8ff 385px,#00beff 430px,#00c6ff 496px,#00e4f8 512px,#17ffdf 530px,#2cffca 552px,#30ffc7 598px,#6aff8d 624px,#80ff77 632px,#7dff7a 646px,#56ffa0 659px,#80ff77 681px,#80ff77 700px,#63ff94 701px,#26ffd1 702px,#00caff 703px,#0084ff 704px,#003cff 710px,#0020ff 713px)"></i><i style="background:linear-gradient(#d1ff26 0px,#f3f806 25px,#ffd500 46px,#ffc600 58px,#ffc300 244px,#ffc600 275px,#f9f301 289px,#e1ff16 297px,#9fff58 331px,#21ffd6 360px,#09f0ee 368px,#00ccff 378px,#00b4ff 385px,#00c0ff 496px,#03e6f6 516px,#19fede 534px,#2cffca 554px,#30ffc7 599px,#63ff94 622px,#7dff7a 633px,#7bff7b 646px,#56ffa0 659px,#7fff78 681px,#7fff78 700px,#60ff97 701px,#26ffd1 702px,#00c8ff 703px,#0080ff 704px,#003aff 710px,#001eff 713px)"></i><i style="background:linear-gradient(#c9ff2e 0px,#e6f813 20px,#ffd300 67px,#ffc800 149px,#ffbf00 177px,#ffc400 206px,#ffce00 232px,#fdd700 268px,#fadd01 275px,#e1fc16 296px,#9cff5b 330px,#21fad6 357px,#06dcf5 373px,#00b6ff 386px,#00acff 415px,#00beff 448px,#00c2ff 497px,#0eeeec 523px,#2effc9 552px,#31ffc6 599px,#68ff8f 623px,#7fff78 633px,#7fff78 646px,#58ff9f 659px,#82ff75 681px,#82ff75 700px,#63ff94 701px,#28ffcf 702px,#00cafd 703px,#0084ff 704px,#0034ff 711px,#0022ff 713px)"></i><i style="background:linear-gradient(#c1ff36 0px,#ecfe0a 32px,#fdea00 64px,#ffd500 86px,#ffd100 141px,#ffb800 169px,#ffbb00 197px,#ffd500 224px,#ffdb00 252px,#f1fa06 282px,#d2ff24 305px,#8fff68 331px,#17fedf 358px,#00dcfd 373px,#00baff 389px,#00a2ff 413px,#00c2ff 441px,#00c6ff 496px,#00e2f9 511px,#17ffdf 529px,#31ffc6 552px,#34ffc2 598px,#82ff75 630px,#85ff72 646px,#5eff98 659px,#88ff6e 682px,#88ff6e 700px,#6aff8d 701px,#2effc9 702px,#00d2ff 703px,#008cff 704px,#0044ff 710px,#0026ff 713px)"></i><i style="background:linear-gradient(#b1ff46 0px,#dbff1c 30px,#e3fe14 58px,#fbe800 83px,#fde400 139px,#ffbb00 167px,#ffc100 195px,#fbe800 222px,#f6ef04 251px,#deff19 273px,#d2ff24 303px,#7aff7d 332px,#1bfadc 353px,#09ecf1 359px,#00baff 385px,#008cff 412px,#00beff 442px,#00c2ff 498px,#0bf2ec 524px,#2bffcc 548px,#2effc9 592px,#31ffc6 599px,#7fff78 633px,#7fff78 647px,#5bff9c 659px,#85ff72 682px,#85ff72 700px,#65ff92 701px,#2bffcc 702px,#00ceff 703px,#0088ff 704px,#004aff 709px,#0024ff 713px)"></i><i style="background:linear-gradient(#a9ff4e 0px,#d6ff21 31px,#e9ff0e 64px,#fbef00 87px,#fdeb00 141px,#ffce00 168px,#ffd300 196px,#f8f503 228px,#e9fe0e 251px,#c6ff31 277px,#c2ff34 303px,#68ff8f 332px,#16fae1 350px,#04e4f6 355px,#00c0ff 368px,#0092ff 388px,#0076ff 413px,#00a8ff 442px,#00aaff 496px,#03e2f8 527px,#19fcde 549px,#1effd9 586px,#1effd9 599px,#6dff8a 633px,#70ff87 646px,#4bffac 659px,#73ff83 681px,#73ff83 700px,#55ffa2 701px,#1bfedc 702px,#00baff 703px,#0072ff 704px,#0020ff 712px,#0016ff 713px)"></i><i style="background:linear-gradient(#b9ff3e 0px,#ebff0c 37px,#feed00 59px,#ffe000 89px,#ffdb00 147px,#ffce00 174px,#ffd500 203px,#fbf100 235px,#e3ff14 255px,#c6ff31 278px,#c2ff34 303px,#6bff8c 331px,#11fae6 351px,#00dafd 357px,#0086ff 385px,#0076ff 413px,#00a8ff 441px,#00acff 496px,#03e4f8 529px,#16fce1 551px,#1effd9 581px,#19fede 598px,#6aff8d 633px,#70ff87 646px,#4bffac 659px,#73ff83 681px,#73ff83 700px,#56ffa0 701px,#19fede 702px,#00baff 703px,#0074ff 704px,#003aff 709px,#0018ff 713px)"></i><i style="background:linear-gradient(#c6ff31 0px,#eefa09 27px,#ffd100 54px,#ffd300 220px,#f6f604 243px,#d6ff21 265px,#c7ff30 280px,#c2ff34 303px,#68ff8f 332px,#17fcdf 350px,#01defa 356px,#0078ff 385px,#0078ff 415px,#00a8ff 441px,#00acff 497px,#00dcfb 524px,#14fce3 555px,#1fffd7 579px,#14fce3 598px,#53ffa4 622px,#73ff83 645px,#49ffad 659px,#73ff83 681px,#73ff83 700px,#56ffa0 701px,#19fede 702px,#00b8ff 703px,#0074ff 704px,#003aff 709px,#0016ff 713px)"></i><i style="background:linear-gradient(#e4ff13 0px,#f4f802 17px,#ffdb00 35px,#ffac00 56px,#ffca00 116px,#ffce00 222px,#fbf100 253px,#e7ff0f 271px,#d2ff24 303px,#78ff7f 332px,#14fee3 354px,#00defc 361px,#0086ff 386px,#007aff 413px,#00aaff 440px,#00aeff 496px,#01e2f9 525px,#17fedf 559px,#21ffd6 578px,#14fce3 598px,#55ffa2 621px,#77ff80 645px,#4effa9 659px,#77ff80 681px,#77ff80 700px,#58ff9f 701px,#1effd9 702px,#00beff 703px,#0076ff 704px,#0034ff 710px,#0018ff 713px)"></i><i style="background:linear-gradient(#ffd700 0px,#ffc400 29px,#ff7a00 55px,#ffb900 114px,#ffbd00 229px,#ffde00 279px,#f8f500 300px,#e4ff13 307px,#8dff6a 334px,#1cffdb 360px,#07eef0 367px,#00d0ff 375px,#00acff 386px,#008eff 413px,#00c0ff 441px,#00c2ff 496px,#03e6f6 515px,#11fae6 531px,#33ffc4 578px,#21ffd6 598px,#62ff95 620px,#83ff73 646px,#5eff98 659px,#87ff70 681px,#87ff70 700px,#68ff8f 701px,#2cffca 702px,#00d2ff 703px,#008aff 704px,#0038ff 711px,#0026ff 713px)"></i><i style="background:linear-gradient(#f0e50b 0px,#f6e004 30px,#ffac00 46px,#ff8f00 55px,#fad901 102px,#f3e408 116px,#ede90e 280px,#d7fc1f 302px,#75ff82 333px,#29face 350px,#13e6e8 357px,#06d0f5 366px,#00a0ff 379px,#0084ff 388px,#005eff 412px,#0090ff 441px,#0094ff 496px,#01c4fa 523px,#15e8e6 578px,#09d8f2 597px,#23f6d4 611px,#3cffba 621px,#5dff9a 643px,#5aff9d 647px,#39ffbe 660px,#60ff97 681px,#60ff97 700px,#43ffb4 701px,#11e4ea 702px,#00a4ff 703px,#005cff 704px,#0018ff 711px,#0010ff 713px)"></i><i style="background:linear-gradient(#ebef10 0px,#eeeb0c 30px,#ffd000 43px,#ffae00 55px,#f8e403 103px,#eeef0c 213px,#e8f413 283px,#d2ff24 303px,#3effb9 343px,#1bf6dc 352px,#09e2f2 360px,#00b2ff 373px,#0086ff 385px,#0066ff 412px,#009aff 441px,#009eff 497px,#00cefb 524px,#08e2f3 554px,#14f4e3 578px,#06dcf5 597px,#21fcd6 609px,#41ffb5 619px,#55ffa2 636px,#65ff92 646px,#3effb9 659px,#68ff8f 681px,#68ff8f 700px,#4bffac 701px,#10f0e9 702px,#00acff 703px,#0066ff 704px,#0028ff 710px,#000eff 713px)"></i><i style="background:linear-gradient(#c7ff30 0px,#caff2c 29px,#f3fa04 49px,#feed00 57px,#e9ff0e 100px,#e1ff16 196px,#c7ff30 224px,#c2ff34 288px,#b7ff40 303px,#31ffc6 337px,#11fae6 346px,#00d4ff 355px,#0066ff 385px,#0058ff 413px,#008aff 441px,#008eff 496px,#00beff 525px,#00ccff 553px,#09eef0 577px,#00c8ff 597px,#0cf4eb 607px,#2cffca 616px,#43ffb4 635px,#5bff9c 645px,#33ffc4 659px,#5bff9c 681px,#5bff9c 700px,#3cffba 701px,#06e6f5 702px,#009cff 703px,#0056ff 704px,#0022ff 709px,#0006ff 713px)"></i><i style="background:linear-gradient(#b2ff45 0px,#b9ff3e 30px,#dfff17 57px,#d6ff21 196px,#b4ff43 223px,#adff49 302px,#26ffd1 333px,#08e8f3 345px,#00b6ff 358px,#0056ff 385px,#0058ff 414px,#0088ff 440px,#008cff 496px,#00bcff 523px,#00c8ff 552px,#08eef0 577px,#00c4ff 597px,#08ecf1 606px,#24ffd2 614px,#33ffc4 620px,#3cffba 633px,#5bff9c 645px,#33ffc4 659px,#5bff9c 681px,#5bff9c 700px,#3effb9 701px,#04e6f6 702px,#0056ff 704px,#0014ff 711px,#0006ff 713px)"></i><i style="background:linear-gradient(#c6ff31 0px,#dcff1b 32px,#f6ed04 56px,#eef80b 105px,#e9fa0e 199px,#d4ff23 226px,#ceff29 260px,#b5ff41 302px,#26ffd1 331px,#0cf4eb 340px,#00ccff 350px,#0050ff 384px,#0054ff 414px,#0092ff 441px,#0096ff 496px,#00c4ff 522px,#00d0ff 552px,#0ff6e7 577px,#00d0ff 595px,#00d0ff 598px,#0ef6e9 606px,#33ffc4 616px,#3cffba 629px,#63ff94 645px,#3cffba 659px,#63ff94 681px,#63ff94 700px,#46ffb1 701px,#09f0ee 702px,#00a8ff 703px,#0060ff 704px,#001cff 711px,#000cff 713px)"></i><i style="background:linear-gradient(#e1ff16 0px,#f4f802 19px,#ffde00 37px,#ffbd00 55px,#ffde00 84px,#ffe200 198px,#feed00 230px,#f9f300 251px,#e7ff0f 268px,#beff39 303px,#29ffce 330px,#09eef0 341px,#00c2ff 353px,#0050ff 384px,#0054ff 413px,#00a0ff 440px,#00a4ff 496px,#00d4ff 525px,#01e0fa 553px,#1bfedc 576px,#04e6f6 591px,#00dafb 597px,#16fce1 605px,#45ffb2 618px,#4effa9 633px,#6dff8a 645px,#49ffad 660px,#70ff87 681px,#70ff87 700px,#53ffa4 701px,#16fce1 702px,#00b8ff 703px,#0070ff 704px,#0026ff 711px,#0014ff 713px)"></i><i style="background:linear-gradient(#e3ff14 0px,#fbe800 23px,#ffb600 55px,#fde000 84px,#fbe600 250px,#e7fe0f 271px,#b1ff46 303px,#16fae1 330px,#01dafa 340px,#0050ff 377px,#003aff 386px,#003cff 413px,#008eff 440px,#0092ff 496px,#00c2ff 523px,#00cefd 553px,#0ef2e9 576px,#00caff 597px,#0ef2e9 607px,#31ffc6 616px,#3bffbc 629px,#5eff98 645px,#3effb9 660px,#65ff92 681px,#65ff92 700px,#48ffaf 701px,#0cf0ec 702px,#00a8ff 703px,#0062ff 704px,#001cff 711px,#000cff 713px)"></i><i style="background:linear-gradient(#e6fc11 0px,#fbea00 31px,#ffd100 57px,#faed01 87px,#f8ef03 250px,#dfff17 277px,#a5ff51 303px,#1cfadb 332px,#06e0f5 341px,#00b2ff 351px,#0074ff 369px,#0048ff 386px,#003cff 413px,#007cff 441px,#0080ff 497px,#00b0ff 524px,#00c0ff 553px,#03e0f8 577px,#00baff 597px,#06e8f4 607px,#26ffd1 617px,#36ffc1 634px,#50ffa7 645px,#31ffc6 659px,#5aff9d 682px,#5aff9d 700px,#3bffbc 701px,#04e4f6 702px,#0052ff 704px,#000aff 712px,#0006ff 713px)"></i><i style="background:linear-gradient(#f1f808 0px,#ffe400 61px,#fbef00 93px,#f9f301 255px,#ecfc0a 276px,#97ff60 307px,#17fadf 339px,#01dcfa 347px,#00a6ff 358px,#0062ff 388px,#0046ff 412px,#0074ff 441px,#0078ff 496px,#00aaff 525px,#00beff 555px,#00dafd 577px,#00b8ff 597px,#01e2f9 607px,#19ffde 615px,#48ffaf 644px,#31ffc6 657px,#34ffc2 662px,#58ff9f 681px,#58ff9f 700px,#39ffbe 701px,#01e2f9 702px,#0052ff 704px,#0010ff 711px,#0002ff 713px)"></i><i style="background:linear-gradient(#ffde00 0px,#ffd900 245px,#ffe000 275px,#f8f500 281px,#e6ff11 288px,#63ff94 331px,#11fae6 349px,#00dafd 355px,#00beff 366px,#006cff 413px,#008cff 443px,#0090ff 497px,#00c0ff 524px,#01e2f9 563px,#09f0ee 578px,#00d2ff 597px,#0ef6e9 606px,#2cffca 615px,#5aff9d 646px,#46ffb1 660px,#6dff8a 682px,#6dff8a 700px,#4effa9 701px,#13fce4 702px,#00b2ff 703px,#006aff 704px,#0022ff 711px,#0010ff 713px)"></i><i style="background:linear-gradient(#f8f500 0px,#fbf100 62px,#ffe200 90px,#ffdd00 148px,#ffd000 172px,#ffd500 227px,#f9f300 270px,#ecff0a 280px,#b9ff3e 306px,#62ff95 333px,#14fae3 350px,#00d8fd 357px,#0074ff 413px,#008eff 444px,#0092ff 496px,#00c4ff 525px,#04e8f4 565px,#0af2ec 578px,#00dafb 597px,#16fce1 607px,#39ffbe 620px,#5dff9a 646px,#49ffad 659px,#73ff83 682px,#73ff83 700px,#55ffa2 701px,#19fede 702px,#00b8ff 703px,#0072ff 704px,#003aff 709px,#0016ff 713px)"></i><i style="background:linear-gradient(#f3f608 0px,#f6f204 61px,#ffd900 84px,#ffd500 139px,#ffb400 168px,#ffb800 223px,#f8ef03 265px,#d9ff1e 303px,#82ff75 331px,#1efad9 353px,#0eeeec 359px,#00bcff 388px,#0092ff 412px,#00a6ff 444px,#00aaff 496px,#06e0f5 527px,#21fcd6 577px,#11f2e6 598px,#34ffc2 610px,#5bff9c 627px,#72ff85 646px,#63ff94 660px,#8aff6d 681px,#8aff6d 700px,#6bff8c 701px,#31ffc6 702px,#03d6f8 703px,#008eff 704px,#0046ff 710px,#0028ff 713px)"></i><i style="background:linear-gradient(#d9ff1e 0px,#e3ff14 57px,#fbe800 81px,#fde200 139px,#ffb900 167px,#ffb900 221px,#f8ef03 254px,#dfff17 277px,#dbff1c 303px,#75ff82 334px,#14fae3 356px,#03e2f8 369px,#009eff 408px,#0098ff 414px,#00a4ff 450px,#00a8ff 496px,#03e2f8 529px,#13f8e4 552px,#1cfedb 580px,#14fae3 598px,#5aff9d 626px,#70ff87 647px,#65ff92 660px,#8cff6b 681px,#8cff6b 700px,#6eff88 701px,#31ffc6 702px,#00dafb 703px,#0092ff 704px,#0048ff 710px,#002aff 713px)"></i><i style="background:linear-gradient(#c2ff34 0px,#f1fc06 69px,#feed00 89px,#ffea00 141px,#ffd100 170px,#ffcc00 202px,#ffc100 221px,#f9f300 252px,#e6ff11 274px,#e1ff16 303px,#16fee1 358px,#00defc 376px,#00c4ff 394px,#00aeff 421px,#00aeff 497px,#00e2f9 526px,#17ffdf 550px,#1fffd7 582px,#1bffdc 598px,#6bff8c 632px,#73ff83 647px,#6eff88 661px,#94ff63 682px,#94ff63 700px,#75ff82 701px,#39ffbe 702px,#00e2f9 703px,#009aff 704px,#005aff 709px,#002eff 713px)"></i><i style="background:linear-gradient(#a2ff55 0px,#e3ff14 61px,#ebff0c 116px,#f8f501 196px,#ffd500 219px,#f8f500 238px,#e9ff0e 249px,#deff19 302px,#50ffa7 338px,#11fae6 357px,#00dcfd 373px,#00c4ff 390px,#00b4ff 418px,#009eff 443px,#00a2ff 497px,#00e2f9 533px,#13fce4 552px,#16fee1 587px,#16fee1 599px,#66ff90 634px,#66ff90 656px,#70ff87 665px,#8dff6a 681px,#8dff6a 700px,#70ff87 701px,#33ffc4 702px,#00daff 703px,#0094ff 704px,#004aff 710px,#002aff 713px)"></i><i style="background:linear-gradient(#7aff7d 0px,#c7ff30 56px,#caff2c 194px,#ebf80e 218px,#e4fc13 226px,#c9ff2e 249px,#caff2c 302px,#4bffac 331px,#13fae4 351px,#01e0fa 360px,#00b0ff 385px,#00a6ff 414px,#007cff 442px,#0080ff 496px,#01d8fa 546px,#04e0f6 582px,#04e0f6 598px,#1ffed7 614px,#4dffaa 633px,#50ffa7 661px,#77ff80 681px,#77ff80 700px,#58ff9f 701px,#1cfcdb 702px,#00bcff 703px,#0078ff 704px,#0034ff 710px,#001aff 713px)"></i><i style="background:linear-gradient(#5bff9c 0px,#7fff78 36px,#9cff5b 58px,#a0ff56 199px,#b1ff46 222px,#9dff5a 250px,#adff49 284px,#acff4b 302px,#2efac9 331px,#15e4e6 346px,#04caf6 360px,#0092ff 381px,#0084ff 389px,#0068ff 417px,#0040ff 441px,#0044ff 497px,#00a0ff 551px,#00a8ff 599px,#10d8eb 618px,#23eed7 634px,#25f2d2 661px,#48ffaf 679px,#49ffad 700px,#2bf6cc 701px,#0bd0f0 702px,#0084ff 703px,#003eff 704px,#0016fa 710px,#000af1 713px)"></i><i style="background:linear-gradient(#97ff60 0px,#a5ff51 31px,#c9ff2e 57px,#ceff29 209px,#ceff29 235px,#ceff29 251px,#e9ff0e 279px,#e7ff0f 302px,#6aff8d 331px,#28ffcf 364px,#0ff8e7 373px,#00daff 382px,#00aeff 409px,#0074ff 441px,#0078ff 496px,#00d6ff 552px,#00defc 599px,#17ffdf 611px,#4effa9 633px,#51ffa5 661px,#77ff80 681px,#77ff80 700px,#58ff9f 701px,#1cffdb 702px,#00beff 703px,#0076ff 704px,#002aff 711px,#0018ff 713px)"></i><i style="background:linear-gradient(#8aff6d 0px,#95ff62 31px,#b9ff3e 58px,#beff39 200px,#caff2c 227px,#ceff29 249px,#eef20c 272px,#eaf411 303px,#caff2c 310px,#70ff87 331px,#43ffb4 359px,#1ff8d7 371px,#0be4f0 382px,#00baff 404px,#0074ff 440px,#0078ff 497px,#00b2ff 532px,#03d2f8 550px,#06dcf5 598px,#1cf8db 613px,#49ffad 629px,#50ffa7 637px,#55ffa2 661px,#7aff7d 681px,#7aff7d 700px,#5bff9c 701px,#1ffad7 702px,#00c0ff 703px,#007cff 704px,#0036ff 710px,#001aff 713px)"></i><i style="background:linear-gradient(#11e0ea 0px,#1df2db 32px,#3effb9 56px,#43ffb4 194px,#8aff6d 220px,#8fff68 250px,#b4ff43 275px,#a0ff56 302px,#23fcd4 330px,#08e0f3 356px,#00acff 370px,#0078ff 385px,#0058ff 414px,#0022ff 439px,#0024ff 498px,#004eff 527px,#007aff 552px,#0088ff 598px,#01d4fa 622px,#0ef2e9 631px,#13f4e4 661px,#30ffc7 676px,#36ffc1 684px,#36ffc1 700px,#19f8de 701px,#00baff 702px,#0028ff 704px,#0008ff 709px,#0000f4 713px)"></i><i style="background:linear-gradient(#00c4fd 0px,#11f0e7 33px,#30ffc7 57px,#34ffc2 193px,#b2ff45 220px,#b5ff41 249px,#dbff1c 276px,#b5ff41 303px,#3effb9 330px,#14fae3 357px,#00ceff 370px,#009aff 385px,#008aff 414px,#004eff 440px,#0052ff 498px,#0080ff 531px,#00a4ff 553px,#00b2ff 587px,#00b8ff 599px,#03e4f8 612px,#1effd9 623px,#38ffbf 633px,#3bffbc 661px,#60ff97 681px,#60ff97 700px,#41ffb5 701px,#07eef0 702px,#00a2ff 703px,#005cff 704px,#0020ff 710px,#0008ff 713px)"></i><i style="background:linear-gradient(#008eff 0px,#01e2f9 49px,#06ecf1 61px,#07eef0 192px,#23ffd4 196px,#c2ff34 220px,#ccff2b 251px,#e9fe0e 276px,#c6ff31 302px,#45ffb2 330px,#11fae6 359px,#00d6ff 368px,#009aff 385px,#0096ff 414px,#0054ff 440px,#0058ff 498px,#007cff 528px,#00a8ff 553px,#00baff 584px,#00beff 598px,#03e6f6 610px,#17fedf 618px,#41ffb5 633px,#45ffb2 661px,#6aff8d 681px,#6aff8d 700px,#4bffac 701px,#0ff8e7 702px,#00aeff 703px,#0066ff 704px,#0020ff 711px,#0010ff 713px)"></i><i style="background:linear-gradient(#0084ff 0px,#00a4ff 31px,#00d0ff 56px,#00d2ff 192px,#14fae3 196px,#ceff29 217px,#e4ff13 220px,#fbed00 256px,#ffdd00 276px,#f6f604 302px,#d7ff1f 308px,#66ff90 330px,#1bffdc 362px,#02e8f4 370px,#00caff 378px,#00b4ff 385px,#00b0ff 413px,#0068ff 439px,#006cff 500px,#008cff 527px,#00baff 554px,#00ccff 580px,#00d0ff 597px,#00e4f8 603px,#17ffdf 611px,#55ffa2 632px,#5aff9d 661px,#7dff7a 681px,#7dff7a 700px,#60ff97 701px,#24ffd2 702px,#00c6ff 703px,#0080ff 704px,#0030ff 711px,#001eff 713px)"></i><i style="background:linear-gradient(#0070ff 0px,#007cff 29px,#00aeff 56px,#00aeff 192px,#00d8ff 195px,#0af2ec 197px,#21ffd6 199px,#e6fc11 217px,#f8ea03 220px,#ffc400 250px,#ffbf00 288px,#ffc800 302px,#f2ef09 309px,#d6ff21 315px,#80ff77 330px,#19fade 367px,#04e0f6 377px,#00c4ff 385px,#00c0ff 413px,#0072ff 440px,#0076ff 499px,#0092ff 526px,#00c2ff 554px,#01dafa 580px,#03def8 598px,#1bfcdc 608px,#62ff95 632px,#66ff90 661px,#8cff6b 682px,#8cff6b 700px,#6dff8a 701px,#31ffc6 702px,#01d8fa 703px,#0090ff 704px,#0048ff 710px,#002aff 713px)"></i><i style="background:linear-gradient(#0016ff 0px,#001aff 30px,#0048ff 59px,#0054ff 95px,#0054ff 192px,#01dafa 202px,#19fcde 205px,#b1ff46 219px,#d1ff26 249px,#c9ff2e 302px,#36ffc1 330px,#11fae6 345px,#00d8fd 356px,#007eff 385px,#007aff 414px,#0046ff 440px,#004aff 506px,#005cff 527px,#008cff 554px,#00a8ff 580px,#00acff 598px,#09def2 610px,#24fad2 623px,#3cffba 633px,#41ffb5 661px,#65ff92 681px,#65ff92 700px,#48ffaf 701px,#13eae8 702px,#00aaff 703px,#0062ff 704px,#0014ff 712px,#0010ff 713px)"></i><i style="background:linear-gradient(#0000e8 0px,#0000ed 30px,#000aff 51px,#0038ff 85px,#003aff 192px,#00cefb 207px,#0eeced 210px,#30ffc7 215px,#56ffa0 220px,#51ffa5 281px,#3cffba 303px,#15e6e6 316px,#04cef6 324px,#00b2ff 331px,#0050ff 385px,#004aff 429px,#0042ff 455px,#0048ff 504px,#0056ff 525px,#009eff 570px,#00a6ff 583px,#00aaff 598px,#00e0fb 610px,#17ffdf 618px,#40ffb7 633px,#45ffb2 661px,#68ff8f 681px,#68ff8f 700px,#4bffac 701px,#0ef6e9 702px,#00acff 703px,#0066ff 704px,#0028ff 710px,#000eff 713px)"></i><i style="background:linear-gradient(#0000a2 0px,#0000a6 31px,#0000e1 59px,#0008fa 73px,#0014ff 86px,#0018ff 192px,#00b6fb 216px,#0bcef0 220px,#01aefa 250px,#00aafb 277px,#0074ff 308px,#003aff 332px,#001eff 391px,#0024ff 418px,#003cff 444px,#0042ff 522px,#009cff 577px,#009cff 597px,#03d8f8 610px,#16f6e1 619px,#34ffc2 629px,#3bffbc 637px,#40ffb7 661px,#65ff92 682px,#65ff92 700px,#46ffb1 701px,#0cf0ec 702px,#00a6ff 703px,#0060ff 704px,#0022ff 710px,#000cff 713px)"></i><i style="background:linear-gradient(#000086 0px,#000089 29px,#0000bf 56px,#0000ff 74px,#000eff 86px,#000eff 192px,#009eff 220px,#0074ff 250px,#0070ff 277px,#0012ff 328px,#0008ff 408px,#000eff 416px,#0038ff 441px,#0040ff 523px,#009aff 578px,#009aff 597px,#00e2f9 612px,#17ffdf 619px,#3bffbc 632px,#3effb9 660px,#65ff92 681px,#65ff92 700px,#48ffaf 701px,#0af2ec 702px,#00a8ff 703px,#0062ff 704px,#000aff 713px)"></i><i style="background:linear-gradient(#000096 0px,#00009b 31px,#0000cd 57px,#0000ff 73px,#000cff 81px,#0014ff 193px,#0072ff 212px,#009cff 220px,#0082ff 252px,#007eff 277px,#003aff 311px,#0010ff 331px,#000cff 390px,#0000ff 413px,#0024ff 443px,#002cff 524px,#0068ff 561px,#0084ff 579px,#0088ff 598px,#00e0fb 616px,#16ffe1 625px,#29ffce 633px,#30ffc7 661px,#55ffa2 681px,#55ffa2 700px,#36ffc1 701px,#00defc 702px,#004cff 704px,#000eff 711px,#0000ff 713px)"></i><i style="background:linear-gradient(#0000a4 0px,#0000a8 30px,#0000d8 57px,#0000f6 67px,#0010ff 80px,#0018ff 85px,#001cff 193px,#006aff 209px,#00a4ff 220px,#009aff 276px,#005eff 305px,#0018ff 329px,#0014ff 387px,#0002ff 414px,#0014ff 436px,#0022ff 524px,#0052ff 557px,#0078ff 577px,#0078ff 597px,#01d8fa 616px,#13f6e4 626px,#1ffed7 634px,#26ffd1 660px,#4dffaa 681px,#4dffaa 700px,#30ffc7 701px,#00d4fb 702px,#0044ff 704px,#0010ff 710px,#0002ff 713px)"></i><i style="background:linear-gradient(#0000db 0px,#000ce4 43px,#002eff 78px,#0034ff 98px,#0036ff 193px,#01b2fa 217px,#06bef5 222px,#01b6fa 271px,#007aff 303px,#0024ff 322px,#0014ff 332px,#0010fa 393px,#0008f1 417px,#0010fd 456px,#0018ff 528px,#0032ff 554px,#0064ff 579px,#0068ff 598px,#00c0fb 616px,#09daf2 623px,#16eae5 637px,#1bf0de 662px,#3cffba 679px,#3cffba 700px,#1ff4d7 701px,#00c0fb 702px,#0030ff 704px,#000cf8 710px,#0002ef 713px)"></i><i style="background:linear-gradient(#0040ff 0px,#0072ff 58px,#009eff 85px,#00a2ff 193px,#08def3 206px,#1ff8d7 216px,#2bffcc 221px,#26fed1 256px,#09e8f2 287px,#00cafd 302px,#0030ff 326px,#0020ff 330px,#001cff 391px,#000eff 417px,#0016ff 472px,#0020ff 516px,#0034ff 541px,#0050ff 558px,#007cff 578px,#0080ff 598px,#01e0fa 617px,#1cffdb 631px,#26ffd1 655px,#30ffc7 663px,#50ffa7 681px,#50ffa7 700px,#33ffc4 701px,#00d8fd 702px,#0048ff 704px,#000aff 711px,#0000ff 713px)"></i><i style="background:linear-gradient(#11e0ea 0px,#29f6ce 35px,#38ffbf 104px,#3bffbc 193px,#8fff68 221px,#8cff6b 250px,#40ffb7 302px,#16f6e1 308px,#01d6fa 313px,#004cff 329px,#0042ff 420px,#003aff 457px,#0042ff 482px,#004aff 514px,#0050ff 527px,#0074ff 552px,#00b2ff 578px,#00b6ff 598px,#03e2f8 607px,#1bfedc 614px,#33ffc4 623px,#51ffa5 644px,#56ffa0 661px,#7bff7b 681px,#7bff7b 700px,#5dff9a 701px,#21ffd6 702px,#00c2ff 703px,#007eff 704px,#002eff 711px,#001eff 713px)"></i><i style="background:linear-gradient(#48ffaf 0px,#72ff85 30px,#77ff80 194px,#b2ff45 221px,#a5ff51 252px,#5eff98 302px,#1bfcdc 311px,#04e2f6 315px,#00b2ff 320px,#005cff 329px,#0050ff 370px,#004cff 417px,#003aff 444px,#003eff 474px,#0050ff 500px,#0056ff 527px,#0074ff 551px,#00b8ff 577px,#00b8ff 597px,#04e6f6 606px,#21ffd6 614px,#39ffbe 624px,#58ff9f 648px,#5dff9a 661px,#80ff77 681px,#80ff77 700px,#63ff94 701px,#28ffcf 702px,#00caff 703px,#0084ff 704px,#0048ff 709px,#0022ff 713px)"></i><i style="background:linear-gradient(#65ff92 0px,#8dff6a 30px,#90ff66 195px,#b1ff46 221px,#80ff77 280px,#5dff9a 302px,#13fce4 312px,#00e0fb 315px,#005eff 329px,#0040ff 362px,#003cff 419px,#0028ff 445px,#002eff 473px,#0040ff 497px,#0044ff 526px,#0060ff 551px,#00a6ff 578px,#00a8ff 597px,#00e2f9 609px,#16ffe1 615px,#2cffca 626px,#49ffad 648px,#4dffaa 661px,#73ff83 682px,#73ff83 700px,#53ffa4 701px,#19ffde 702px,#00b8ff 703px,#0072ff 704px,#0030ff 710px,#0014ff 713px)"></i><i style="background:linear-gradient(#8dff6a 0px,#b5ff41 29px,#baff3c 205px,#baff3c 223px,#98ff5e 252px,#90ff66 278px,#6bff8c 302px,#11fae6 314px,#00defb 317px,#006eff 329px,#0040ff 359px,#003cff 416px,#0024ff 442px,#0028ff 472px,#0040ff 498px,#0046ff 530px,#005aff 551px,#00a6ff 578px,#00aaff 598px,#00e2f9 609px,#19ffde 616px,#48ffaf 648px,#4dffaa 661px,#72ff85 681px,#72ff85 700px,#53ffa4 701px,#17ffdf 702px,#00b6ff 703px,#0072ff 704px,#0026ff 711px,#0014ff 713px)"></i><i style="background:linear-gradient(#7dff7a 0px,#9dff5a 30px,#a4ff53 72px,#a2ff55 127px,#98ff5e 200px,#80ff77 226px,#62ff95 250px,#5dff9a 277px,#36ffc1 302px,#0ceeee 309px,#00c0ff 315px,#004cff 330px,#0026ff 358px,#0022ff 415px,#0008ff 444px,#000eff 473px,#0026ff 499px,#002cff 538px,#003aff 552px,#0080ff 577px,#0082ff 597px,#01dcfa 615px,#08ecf1 621px,#19fcde 636px,#2cffca 648px,#30ffc7 661px,#56ffa0 682px,#56ffa0 700px,#36ffc1 701px,#03e0f8 702px,#004cff 704px,#0008ff 712px,#0004ff 713px)"></i><i style="background:linear-gradient(#b1ff46 0px,#c2ff34 36px,#c7ff30 62px,#dbff1c 88px,#d6ff21 116px,#c2ff34 142px,#bfff38 194px,#6bff8c 247px,#68ff8f 276px,#3bffbc 303px,#13f4e4 311px,#00d2fb 318px,#008cff 330px,#0056ff 359px,#0052ff 415px,#002eff 441px,#0032ff 470px,#0056ff 496px,#005cff 535px,#0068ff 550px,#00c0ff 577px,#00c0ff 597px,#09eef0 606px,#28ffcf 614px,#38ffbf 621px,#45ffb2 634px,#5eff98 647px,#63ff94 661px,#87ff70 681px,#87ff70 700px,#6aff8d 701px,#2effc9 702px,#00d2fd 703px,#008cff 704px,#0042ff 710px,#0024ff 713px)"></i><i style="background:linear-gradient(#b1ff46 0px,#b7ff40 58px,#dbff1c 85px,#d6ff21 112px,#b4ff43 140px,#afff48 194px,#63ff94 223px,#40ffb7 250px,#3bffbc 277px,#13fce4 303px,#00defc 310px,#0088ff 331px,#0056ff 358px,#0052ff 414px,#0028ff 441px,#002cff 469px,#0056ff 497px,#005eff 549px,#00c0ff 577px,#00c4ff 598px,#09f0ee 607px,#26ffd1 614px,#36ffc1 620px,#41ffb5 634px,#5dff9a 646px,#60ff97 660px,#87ff70 681px,#87ff70 700px,#6aff8d 701px,#2cffca 702px,#00d2ff 703px,#008cff 704px,#004cff 709px,#0026ff 713px)"></i><i style="background:linear-gradient(#5dff9a 0px,#62ff95 60px,#7bff7b 87px,#77ff80 114px,#5dff9a 140px,#5aff9d 194px,#21fad6 226px,#0eeced 252px,#0be8f0 280px,#00b4ff 305px,#0062ff 331px,#003eff 360px,#003aff 415px,#001cff 443px,#0020ff 469px,#004cff 497px,#0050ff 549px,#00b2ff 577px,#00b6ff 598px,#06e8f4 608px,#23ffd4 616px,#31ffc6 633px,#51ffa5 646px,#58ff9f 662px,#7bff7b 681px,#7bff7b 700px,#5dff9a 701px,#21ffd6 702px,#00c4ff 703px,#007eff 704px,#0038ff 710px,#001cff 713px)"></i><i style="background:linear-gradient(#19f0df 0px,#1df2db 61px,#29face 95px,#21f6d6 123px,#19f0df 151px,#13f2e4 212px,#08e6f3 242px,#04e0f6 276px,#00acff 303px,#005cff 331px,#0046ff 363px,#0042ff 419px,#0032ff 445px,#0036ff 469px,#006aff 496px,#006cff 549px,#00d6ff 576px,#00d8ff 597px,#0cf4eb 603px,#1cffdb 607px,#43ffb4 618px,#4effa9 633px,#70ff87 647px,#77ff80 662px,#9aff5d 682px,#9aff5d 700px,#7bff7b 701px,#40ffb7 702px,#04eaf3 703px,#00a2ff 704px,#0052ff 710px,#0032ff 713px)"></i><i style="background:linear-gradient(#008aff 0px,#008eff 195px,#00b6ff 222px,#00acff 277px,#0036ff 332px,#0034ff 469px,#0068ff 495px,#006cff 549px,#01d8fa 577px,#03dcf8 598px,#17fadf 606px,#43ffb4 618px,#4effa9 633px,#70ff87 646px,#73ff83 660px,#9aff5d 681px,#9aff5d 700px,#7dff7a 701px,#40ffb7 702px,#08eaf3 703px,#00a4ff 704px,#0054ff 710px,#0034ff 713px)"></i><i style="background:linear-gradient(#00a4ff 0px,#00a8ff 196px,#00bcff 222px,#00aeff 260px,#00a8ff 278px,#006eff 306px,#002aff 330px,#0024ff 371px,#001eff 418px,#0022ff 470px,#0050ff 495px,#0054ff 550px,#00baff 577px,#00beff 598px,#06eaf3 608px,#21ffd6 616px,#34ffc2 633px,#58ff9f 646px,#5bff9c 660px,#82ff75 681px,#82ff75 700px,#65ff92 701px,#28ffcf 702px,#00caff 703px,#0086ff 704px,#0048ff 709px,#0022ff 713px)"></i><i style="background:linear-gradient(#11f6e6 0px,#0cf4eb 209px,#00e0fb 232px,#00d0ff 250px,#00ccff 277px,#0098ff 303px,#002eff 329px,#002aff 361px,#0010ff 388px,#0014ff 469px,#0042ff 496px,#0046ff 550px,#00a4ff 577px,#00a6ff 597px,#03def8 610px,#14f8e3 618px,#28ffcf 634px,#48ffaf 646px,#4effa9 662px,#72ff85 681px,#72ff85 700px,#53ffa4 701px,#17fadf 702px,#00b8ff 703px,#0070ff 704px,#001eff 712px,#0014ff 713px)"></i><i style="background:linear-gradient(#5aff9d 0px,#55ffa2 196px,#19fade 240px,#0ff4e7 254px,#0cf0ec 278px,#00c0ff 303px,#003aff 329px,#0036ff 359px,#000eff 386px,#0012ff 470px,#003cff 496px,#0040ff 550px,#00a0ff 577px,#00a2ff 597px,#03e2f8 613px,#0ff8e7 620px,#21ffd6 633px,#45ffb2 646px,#48ffaf 661px,#6eff88 682px,#6eff88 700px,#50ffa7 701px,#14fae3 702px,#00b2ff 703px,#006cff 704px,#0034ff 709px,#0012ff 713px)"></i><i style="background:linear-gradient(#49ffad 0px,#45ffb2 195px,#17fadf 218px,#01dcfa 245px,#00d6fd 278px,#00b0ff 303px,#003aff 330px,#0036ff 360px,#0016ff 386px,#001aff 469px,#004aff 496px,#004eff 550px,#00aeff 577px,#00b2ff 598px,#01e2f9 610px,#16fce1 619px,#30ffc7 634px,#50ffa7 647px,#55ffa2 661px,#7aff7d 682px,#7aff7d 700px,#5bff9c 701px,#1fffd7 702px,#00c0ff 703px,#007aff 704px,#002eff 711px,#001cff 713px)"></i><i style="background:linear-gradient(#23ecd8 0px,#20e8db 195px,#08c4f3 215px,#01b4fa 223px,#00a4ff 256px,#009eff 283px,#008cff 303px,#0034ff 330px,#0030ff 364px,#0020ff 388px,#0024ff 469px,#0056ff 496px,#005aff 550px,#00beff 577px,#00c2fd 598px,#10e6eb 609px,#31ffc6 630px,#5dff9a 646px,#62ff95 661px,#87ff70 682px,#87ff70 700px,#68ff8f 701px,#2cfeca 702px,#04d0f6 703px,#008aff 704px,#0042ff 710px,#0024ff 713px)"></i><i style="background:linear-gradient(#00d2ff 0px,#00ceff 193px,#006eff 221px,#0062ff 304px,#0026ff 331px,#0028ff 469px,#0058ff 495px,#005cff 549px,#00c4ff 577px,#00c8ff 598px,#10f2e7 612px,#2cffca 625px,#49ffad 637px,#60ff97 647px,#63ff94 660px,#8aff6d 681px,#8aff6d 700px,#6dff8a 701px,#30ffc7 702px,#01d6fa 703px,#0090ff 704px,#003cff 711px,#0028ff 713px)"></i><i style="background:linear-gradient(#1bfadc 0px,#16f6e1 195px,#04d8f6 210px,#00bcff 223px,#00b0ff 257px,#00aaff 283px,#0098ff 303px,#004cff 330px,#0046ff 366px,#003aff 389px,#003eff 469px,#0078ff 496px,#007cff 550px,#00d0ff 570px,#04e6f6 577px,#06eaf3 598px,#1cffdb 607px,#72ff85 641px,#7fff78 647px,#82ff75 661px,#a9ff4e 682px,#a9ff4e 700px,#88ff6e 701px,#11f8e6 703px,#00b2ff 704px,#0060ff 710px,#003eff 713px)"></i><i style="background:linear-gradient(#38ffbf 0px,#33ffc4 196px,#1cf6db 218px,#09e4f2 251px,#08e0f3 279px,#00c0ff 303px,#0062ff 330px,#005eff 359px,#0038ff 387px,#003cff 468px,#0076ff 496px,#0078ff 549px,#01dcfa 573px,#06e8f4 579px,#08ecf1 598px,#24ffd2 611px,#7bff7b 644px,#85ff72 662px,#a7ff50 681px,#a7ff50 700px,#8aff6d 701px,#11f8e6 703px,#00b4ff 704px,#0060ff 710px,#003eff 713px)"></i><i style="background:linear-gradient(#36ffc1 0px,#31ffc6 206px,#23ffd4 227px,#0af2ec 245px,#04eaf3 277px,#00c8ff 295px,#00b8ff 303px,#005aff 330px,#0054ff 359px,#0026ff 385px,#0028ff 469px,#005aff 496px,#005eff 550px,#00c4ff 577px,#00c8ff 598px,#01e6f6 609px,#1cffdb 620px,#62ff95 646px,#66ff90 661px,#8cff6b 682px,#8cff6b 700px,#6dff8a 701px,#31ffc6 702px,#00d6ff 703px,#0090ff 704px,#0046ff 710px,#0028ff 713px)"></i><i style="background:linear-gradient(#38ffbf 0px,#33ffc4 196px,#11fae6 218px,#00dcfe 241px,#00d0ff 277px,#008cff 311px,#005cff 331px,#0044ff 363px,#0026ff 391px,#0018ff 422px,#001cff 468px,#004cff 495px,#0052ff 549px,#00b6ff 577px,#00b6ff 598px,#01e4f8 615px,#19ffde 625px,#53ffa4 646px,#58ff9f 661px,#7fff78 681px,#7fff78 700px,#62ff95 701px,#24ffd2 702px,#00c4ff 703px,#007cff 704px,#0040ff 709px,#001cff 713px)"></i><i style="background:linear-gradient(#58ff9f 0px,#55ffa2 193px,#13fce4 215px,#04eaf3 221px,#00daff 255px,#00d6ff 277px,#009cff 310px,#005aff 363px,#003eff 394px,#0026ff 415px,#0028ff 468px,#005eff 496px,#006aff 550px,#00ceff 577px,#00ceff 599px,#0af2ec 613px,#24ffd2 623px,#62ff95 646px,#65ff92 660px,#92ff65 681px,#92ff65 700px,#72ff85 701px,#34ffc2 702px,#00dafd 703px,#0090ff 704px,#0054ff 708px,#0026ff 713px)"></i><i style="background:linear-gradient(#53ffa4 0px,#4effa9 193px,#14fae3 207px,#00d8fd 214px,#00bcff 221px,#00b4ff 278px,#0086ff 305px,#0076ff 332px,#004aff 359px,#0044ff 387px,#0016ff 414px,#001aff 468px,#004aff 495px,#0058ff 549px,#00b8ff 577px,#00b2ff 598px,#00e2f9 617px,#17ffdf 626px,#4bffac 646px,#4effa9 660px,#80ff77 681px,#80ff77 700px,#60ff97 701px,#21ffd6 702px,#00beff 703px,#0076ff 704px,#003cff 708px,#0014ff 713px)"></i><i style="background:linear-gradient(#49ffad 0px,#45ffb2 193px,#29f8ce 201px,#13dee8 212px,#08caf3 221px,#04c4f6 257px,#00a4ff 291px,#008cff 305px,#0048ff 333px,#0026ff 359px,#0022ff 387px,#0006fd 412px,#000aff 472px,#0026ff 498px,#003cff 551px,#008cff 577px,#0084ff 598px,#00bcff 619px,#0eeaed 633px,#24fcd2 647px,#28fecf 660px,#5eff98 680px,#5eff98 700px,#3effb9 701px,#09e0f2 702px,#0090ff 703px,#0046ff 704px,#0014ff 708px,#0002fa 713px)"></i><i style="background:linear-gradient(#7aff7d 0px,#75ff82 194px,#38ffbf 221px,#33ffc4 251px,#17f6df 282px,#0ce8ee 304px,#00bcff 313px,#0068ff 330px,#003aff 360px,#0036ff 387px,#000cff 414px,#0010ff 469px,#003cff 497px,#005aff 550px,#00acff 577px,#00a0ff 598px,#01e0fa 622px,#19fede 631px,#36ffc1 647px,#39ffbe 660px,#78ff7f 681px,#78ff7f 700px,#56ffa0 701px,#13fae4 702px,#00a8ff 703px,#005aff 704px,#0020ff 708px,#0002ff 713px)"></i><i style="background:linear-gradient(#94ff63 0px,#90ff66 194px,#66ff90 223px,#62ff95 251px,#3effb9 277px,#3cffba 302px,#19f8de 308px,#01d6fa 314px,#0068ff 329px,#003aff 359px,#0034ff 386px,#000cff 413px,#0010ff 470px,#003cff 498px,#0060ff 550px,#00aeff 577px,#009eff 598px,#01dafa 621px,#17fadf 631px,#31ffc6 648px,#36ffc1 660px,#7aff7d 681px,#7aff7d 700px,#58ff9f 701px,#11f6e6 702px,#00a6ff 703px,#0054ff 704px,#0016ff 708px,#0000ff 713px)"></i><i style="background:linear-gradient(#a9ff4e 0px,#a4ff53 195px,#80ff77 222px,#7dff7a 249px,#56ffa0 277px,#55ffa2 302px,#14fee3 311px,#00dafd 315px,#0060ff 329px,#003aff 366px,#0024ff 393px,#0010ff 415px,#0014ff 469px,#0044ff 498px,#0070ff 550px,#00bcff 577px,#00a6ff 598px,#00e0fb 620px,#1bffdc 630px,#34ffc2 648px,#38ffbf 660px,#83ff73 680px,#83ff73 700px,#60ff97 701px,#19ffde 702px,#00aaff 703px,#005aff 704px,#0014ff 708px,#0000ff 713px)"></i><i style="background:linear-gradient(#adff49 0px,#a9ff4e 195px,#83ff73 223px,#80ff77 250px,#5bff9c 277px,#5aff9d 302px,#17ffdf 310px,#00e4f8 313px,#00c6ff 316px,#0046ff 329px,#002eff 365px,#0014ff 390px,#0008ff 426px,#000cff 469px,#003cff 500px,#0070ff 551px,#00b4ff 577px,#009aff 598px,#00dcfe 622px,#16ffe1 632px,#28ffcf 650px,#28ffcf 659px,#7dff7a 680px,#7dff7a 700px,#5aff9d 701px,#0ff8e7 702px,#009eff 703px,#004aff 704px,#0006ff 708px,#0000ff 713px)"></i><i style="background:linear-gradient(#d9ff1e 0px,#d7ff1f 193px,#b2ff45 223px,#afff48 250px,#88ff6e 277px,#85ff72 302px,#1bfcdc 314px,#04e4f6 317px,#00acff 322px,#005eff 329px,#0052ff 359px,#0024ff 387px,#0024ff 468px,#005cff 498px,#00a0ff 551px,#03e0f8 577px,#00c2ff 598px,#0bf2ec 617px,#2effc9 629px,#43ffb4 646px,#46ffb1 659px,#a2ff55 680px,#a2ff55 700px,#7bff7b 701px,#31ffc6 702px,#00c4ff 703px,#006aff 704px,#0012ff 708px,#0004ff 713px)"></i><i style="background:linear-gradient(#ffea00 0px,#ffd900 37px,#ffdd00 115px,#ffea00 145px,#feed00 195px,#ebff0c 216px,#e4ff13 249px,#baff3c 280px,#aaff4d 302px,#13fce4 320px,#00dcfd 323px,#0096ff 329px,#0072ff 365px,#0050ff 391px,#003cff 417px,#0040ff 468px,#0084ff 498px,#00d2ff 548px,#04eaf3 559px,#1bffdc 570px,#24ffd2 578px,#0ff8e7 592px,#0af2ec 598px,#1bffdc 606px,#40ffb7 622px,#5dff9a 634px,#66ff90 654px,#6dff8a 660px,#ccff2b 680px,#ccff2b 700px,#a5ff51 701px,#56ffa0 702px,#09f0ee 703px,#008cff 704px,#0022ff 708px,#0012ff 713px)"></i><i style="background:linear-gradient(#f0fa08 0px,#ffdd00 26px,#ffe000 114px,#f0fa08 138px,#ebfe0c 205px,#dfff17 250px,#a7ff50 292px,#9cff5b 302px,#14fce3 319px,#01e0fa 322px,#0098ff 329px,#006aff 360px,#0054ff 389px,#0032ff 413px,#0036ff 469px,#008cff 512px,#00d4ff 555px,#0ff8e7 571px,#19fede 577px,#00dcfb 596px,#17fcdf 613px,#4bffac 633px,#55ffa2 659px,#beff39 680px,#beff39 700px,#97ff60 701px,#48ffaf 702px,#00dafb 703px,#0076ff 704px,#000eff 708px,#0004ff 713px)"></i><i style="background:linear-gradient(#fbf100 0px,#ffc400 30px,#ffc400 112px,#fbf100 140px,#f4f802 249px,#d7ff1f 269px,#a7ff50 302px,#14fee3 321px,#00e2f9 324px,#00b0ff 330px,#0074ff 359px,#0070ff 386px,#003cff 413px,#003cff 469px,#009cff 513px,#00e2f9 553px,#19ffde 569px,#23ffd4 578px,#0ff8e7 589px,#02e8f4 598px,#19ffde 609px,#53ffa4 633px,#5aff9d 659px,#caff2c 680px,#caff2c 700px,#a2ff55 701px,#50ffa7 702px,#00e4f8 703px,#007cff 704px,#000aff 708px,#0002ff 713px)"></i><i style="background:linear-gradient(#e9ff0e 0px,#ffe800 29px,#ffd700 63px,#ffdb00 112px,#f4f804 130px,#e9ff0e 142px,#e4ff13 199px,#d7ff1f 233px,#d1ff26 252px,#a7ff50 283px,#94ff63 302px,#13fce4 318px,#00dcfd 321px,#008cff 329px,#0056ff 358px,#0052ff 387px,#0024ff 432px,#001eff 466px,#00a0ff 536px,#00e2f9 572px,#03e8f4 577px,#00caff 591px,#00c0ff 598px,#01e4f8 612px,#1bffdc 623px,#33ffc4 633px,#38ffbf 659px,#acff4b 680px,#acff4b 700px,#83ff73 701px,#30ffc7 702px,#00baff 703px,#0056ff 704px,#000cff 707px,#0000ff 708px,#0000fc 713px)"></i><i style="background:linear-gradient(#ffe600 0px,#ffd700 30px,#ffb600 58px,#ffb900 112px,#ffe600 139px,#ffea00 195px,#eefe09 213px,#e6ff11 231px,#e1ff16 250px,#baff3c 279px,#b1ff46 302px,#14fee3 320px,#00defc 323px,#009eff 329px,#0064ff 358px,#005eff 395px,#0048ff 420px,#002aff 441px,#002eff 469px,#00bcff 540px,#00e0fb 561px,#11fae6 577px,#00dcfd 591px,#00d2ff 598px,#0af2ec 611px,#26ffd1 622px,#41ffb5 633px,#45ffb2 659px,#baff3c 679px,#baff3c 700px,#92ff65 701px,#3effb9 702px,#00ccff 703px,#0064ff 704px,#0010ff 707px,#0000ff 708px,#0000ff 713px)"></i><i style="background:linear-gradient(#fddd00 0px,#ffd700 30px,#ffac00 57px,#ffb000 112px,#ffd900 140px,#fbe000 196px,#ebfa0c 219px,#e6fe11 250px,#c1ff36 277px,#bcff3b 302px,#23fed4 319px,#06e2f5 323px,#00aaff 328px,#0096ff 332px,#0064ff 358px,#005cff 413px,#002aff 441px,#002eff 468px,#01d6fa 552px,#13f4e4 576px,#04dcf6 591px,#01d4fa 598px,#14f6e3 615px,#38ffbf 628px,#41ffb5 634px,#45ffb2 659px,#bcff3b 679px,#beff39 700px,#94ff63 701px,#40ffb7 702px,#00ccfd 703px,#0062ff 704px,#000eff 707px,#0000fd 708px,#0000fa 713px)"></i><i style="background:linear-gradient(#eef60c 0px,#f3f108 33px,#ffd000 58px,#ffd300 113px,#f5f206 150px,#e9fe0e 223px,#e4ff13 249px,#baff3c 280px,#aaff4d 302px,#1bfcdc 318px,#01dafa 322px,#008aff 329px,#0054ff 358px,#0050ff 389px,#001eff 443px,#0022ff 469px,#00c2ff 553px,#06e4f5 576px,#00bcff 597px,#08eaf3 616px,#28ffcf 628px,#31ffc6 634px,#34ffc2 659px,#adff49 680px,#adff49 700px,#83ff73 701px,#2effc9 702px,#00b6ff 703px,#0050ff 704px,#0006ff 707px,#0000f8 710px,#0000f8 713px)"></i><i style="background:linear-gradient(#e9f611 0px,#eef10c 35px,#fbdd00 52px,#fddd00 123px,#f0f10b 154px,#e9f611 186px,#f8ed03 237px,#eef80b 257px,#c4ff33 288px,#b2ff45 302px,#21fcd6 318px,#08e2f3 322px,#00aaff 327px,#0090ff 330px,#005aff 359px,#0056ff 388px,#002eff 417px,#0024ff 457px,#002aff 470px,#00cafd 552px,#09e6f2 578px,#00c6ff 597px,#10f0e9 616px,#31ffc6 629px,#38ffbf 637px,#3bffbc 659px,#b5ff41 680px,#b5ff41 700px,#8cff6b 701px,#38ffbf 702px,#00c0ff 703px,#005aff 704px,#000aff 707px,#0000f8 708px,#0000f8 713px)"></i><i style="background:linear-gradient(#c1ff36 0px,#c6ff31 31px,#ebfc0c 58px,#e9fe0e 137px,#c4ff33 168px,#c9ff2e 196px,#e6ff11 223px,#e1ff16 250px,#98ff5e 302px,#21fcd6 316px,#09e4f2 320px,#00aeff 325px,#0084ff 329px,#0050ff 359px,#0040ff 388px,#0016ff 415px,#000eff 467px,#00aaff 557px,#00beff 578px,#00a2ff 598px,#01dcfa 620px,#17fcdf 630px,#1effd9 659px,#97ff60 680px,#97ff60 700px,#6dff8a 701px,#19fcde 702px,#009cff 703px,#003cff 704px,#000eff 706px,#0000ff 707px,#0000ed 708px,#0000e8 713px)"></i><i style="background:linear-gradient(#cfff28 0px,#d4ff23 30px,#f3f608 50px,#fdde00 89px,#fbe400 119px,#e7fa10 158px,#e1fe16 189px,#e6ff11 249px,#b7ff40 302px,#23fad4 323px,#0ce2ee 328px,#00c4fb 341px,#0018ff 441px,#001cff 468px,#00b8ff 553px,#00ceff 577px,#00b6ff 598px,#08e8f3 618px,#28ffcf 630px,#2cffca 659px,#a7ff50 680px,#a7ff50 700px,#7dff7a 701px,#29ffce 702px,#00aeff 703px,#004cff 704px,#0004ff 707px,#0000f3 708px,#0000f3 713px)"></i><i style="background:linear-gradient(#ceff29 0px,#d2ff24 31px,#f4f804 53px,#ffd500 79px,#ffd500 113px,#f4f804 142px,#e7ff0f 200px,#d6ff21 226px,#ccff2b 278px,#c2ff34 302px,#2cffca 330px,#0eeced 353px,#04daf6 362px,#00aaff 378px,#0058ff 417px,#0018ff 440px,#001cff 470px,#00b4ff 553px,#00c6ff 578px,#00b4ff 598px,#01e2f9 617px,#1bffdc 627px,#28ffcf 633px,#2bffcc 659px,#a2ff55 679px,#a4ff53 700px,#7aff7d 701px,#26ffd1 702px,#00acff 703px,#0048ff 704px,#0000ff 707px,#0000f1 709px,#0000f1 713px)"></i><i style="background:linear-gradient(#e4ff13 0px,#e9ff0e 31px,#ffea00 49px,#ffb800 85px,#ffbd00 114px,#ffe000 139px,#ffe400 194px,#eefe09 210px,#dfff17 223px,#dbff1c 303px,#65ff92 331px,#2cffca 362px,#0ff8e7 372px,#00d4ff 382px,#0090ff 414px,#0028ff 440px,#002cff 469px,#00ccff 548px,#00defb 579px,#00d0ff 598px,#0cf4eb 613px,#29ffce 624px,#40ffb7 633px,#41ffb5 659px,#baff3c 679px,#baff3c 700px,#90ff66 701px,#3cffba 702px,#00c8ff 703px,#005eff 704px,#000cff 707px,#0000ff 708px,#0000fd 713px)"></i><i style="background:linear-gradient(#d7ff1f 0px,#dbff1c 32px,#f3fa04 61px,#ffe600 87px,#ffeb00 116px,#eeff09 142px,#e9ff0e 195px,#c4ff33 223px,#bfff38 303px,#58ff9f 331px,#11fae6 363px,#00dcfd 373px,#00a4ff 397px,#0080ff 414px,#001eff 440px,#0022ff 468px,#00beff 551px,#00c8ff 578px,#00c0ff 598px,#01e2f9 612px,#1cffdb 624px,#33ffc4 633px,#34ffc2 659px,#adff49 679px,#adff49 700px,#85ff72 701px,#30ffc7 702px,#00b8ff 703px,#0054ff 704px,#0006ff 707px,#0000f8 710px,#0000f8 713px)"></i><i style="background:linear-gradient(#ccff2b 0px,#d4ff23 50px,#deff19 111px,#d6ff21 174px,#d1ff26 195px,#acff4b 222px,#a9ff4e 303px,#33ffc4 340px,#11f8e6 353px,#00d6fd 367px,#0072ff 415px,#0018ff 439px,#001cff 470px,#00b2ff 551px,#00b4ff 589px,#00b6ff 599px,#01e2f9 617px,#17fedf 626px,#28ffcf 633px,#2bffcc 659px,#a4ff53 680px,#a4ff53 700px,#7bff7b 701px,#26ffd1 702px,#00aaff 703px,#0048ff 704px,#0000ff 707px,#0000f1 709px,#0000f1 713px)"></i><i style="background:linear-gradient(#aaff4d 0px,#acff4b 196px,#8cff6b 223px,#88ff6e 303px,#16fae1 344px,#00dafb 355px,#0070ff 413px,#0018ff 439px,#001cff 470px,#00aeff 550px,#00b2ff 590px,#00b4ff 599px,#00e0fb 617px,#17ffdf 626px,#28ffcf 634px,#29ffce 659px,#a4ff53 680px,#a4ff53 700px,#7aff7d 701px,#26ffd1 702px,#00acff 703px,#0048ff 704px,#0000ff 707px,#0000f1 708px,#0000f1 713px)"></i><i style="background:linear-gradient(#56ffa0 0px,#5bff9c 37px,#6aff8d 64px,#65ff92 198px,#53ffa4 227px,#4effa9 304px,#11fae6 331px,#00dcfd 341px,#00aeff 359px,#008eff 389px,#0054ff 417px,#0016ff 440px,#001aff 469px,#00aaff 550px,#00b6ff 599px,#06e6f5 619px,#23ffd4 630px,#28ffcf 659px,#a0ff56 679px,#a2ff55 700px,#78ff7f 701px,#24ffd2 702px,#00aaff 703px,#0048ff 704px,#0002ff 707px,#0000ef 709px,#0000ef 713px)"></i><i style="background:linear-gradient(#01e0fa 0px,#03e4f8 30px,#19ffde 51px,#19ffde 215px,#11fae6 305px,#00dcfd 319px,#0086ff 359px,#007aff 387px,#0012ff 441px,#0016ff 469px,#00a2ff 550px,#00b2ff 599px,#04def6 618px,#14f6e3 627px,#21fed6 633px,#24ffd2 659px,#9fff58 680px,#9fff58 700px,#75ff82 701px,#1efcd9 702px,#00a2ff 703px,#0042ff 704px,#0012ff 706px,#0002ff 707px,#0000ef 708px,#0000ed 713px)"></i><i style="background:linear-gradient(#00a2ff 0px,#00a6ff 30px,#00d4fb 57px,#00d0fd 304px,#0076ff 356px,#0072ff 387px,#0018ff 441px,#001cff 469px,#0074ff 520px,#00aaff 552px,#00bcff 598px,#01e2f9 617px,#17fedf 625px,#28ffcf 633px,#2bffcc 659px,#a5ff51 680px,#a5ff51 700px,#7bff7b 701px,#28ffcf 702px,#00aeff 703px,#0048ff 704px,#0000ff 707px,#0000f1 709px,#0000f1 713px)"></i><i style="background:linear-gradient(#007eff 0px,#0080ff 29px,#00b0ff 56px,#00acff 305px,#0078ff 334px,#0064ff 363px,#0060ff 390px,#0040ff 417px,#0018ff 441px,#001cff 469px,#005aff 505px,#0094ff 541px,#00a6ff 554px,#00c2ff 600px,#04e8f4 619px,#1cffdb 627px,#29ffce 635px,#29ffce 659px,#a4ff53 679px,#a4ff53 700px,#7aff7d 701px,#26ffd1 702px,#00acff 703px,#004aff 704px,#0002ff 707px,#0000f1 709px,#0000f1 713px)"></i><i style="background:linear-gradient(#0072ff 0px,#0076ff 29px,#00aaff 57px,#00a6ff 304px,#0072ff 331px,#0060ff 411px,#0026ff 441px,#002aff 468px,#006aff 501px,#0092ff 528px,#00beff 553px,#00defc 598px,#19ffde 619px,#3effb9 632px,#41ffb5 659px,#b9ff3e 679px,#b9ff3e 700px,#90ff66 701px,#3bffbc 702px,#00c6ff 703px,#005eff 704px,#000cff 707px,#0000ff 708px,#0000fc 713px)"></i><i style="background:linear-gradient(#0048ff 0px,#004cff 29px,#0080ff 57px,#007cff 304px,#0052ff 332px,#004eff 415px,#0026ff 441px,#002aff 469px,#005eff 496px,#008aff 528px,#00b6ff 554px,#00e2f9 601px,#1bffdc 621px,#3bffbc 632px,#3cffba 659px,#b5ff41 679px,#b5ff41 700px,#8cff6b 701px,#38ffbf 702px,#00c2ff 703px,#005aff 704px,#000aff 707px,#0000fc 708px,#0000fc 713px)"></i><i style="background:linear-gradient(#0016ff 0px,#001aff 30px,#0048ff 57px,#0046ff 306px,#002eff 336px,#002aff 419px,#0016ff 445px,#001aff 469px,#004eff 498px,#006cff 526px,#009aff 553px,#00d0ff 603px,#01e6f6 618px,#1bffdc 627px,#28ffcf 633px,#2bffcc 659px,#a4ff53 680px,#a4ff53 700px,#7aff7d 701px,#26ffd1 702px,#00aaff 703px,#004aff 704px,#0000ff 707px,#0000f1 709px,#0000f1 713px)"></i><i style="background:linear-gradient(#0000fa 0px,#0004ff 41px,#001cff 57px,#0018ff 324px,#0012ff 428px,#0012ff 468px,#0044ff 499px,#0058ff 525px,#0086ff 551px,#01d8fa 618px,#14f8e3 628px,#1efed9 636px,#1ffed7 659px,#97ff60 679px,#98ff5e 700px,#6eff88 701px,#1bfcdc 702px,#009eff 703px,#003cff 704px,#000eff 706px,#0000ff 707px,#0000ea 708px,#0000ea 713px)"></i><i style="background:linear-gradient(#0000fd 0px,#0004ff 37px,#0022ff 57px,#0020ff 204px,#001aff 258px,#0016ff 338px,#000eff 386px,#0012ff 468px,#0042ff 498px,#0056ff 525px,#0090ff 560px,#00c0ff 593px,#00dcfd 619px,#17ffdf 629px,#1effd9 642px,#1fffd7 659px,#98ff5e 679px,#9aff5d 700px,#70ff87 701px,#1cffdb 702px,#00a0ff 703px,#003eff 704px,#000eff 706px,#0000ff 707px,#0000ed 708px,#0000ea 713px)"></i><i style="background:linear-gradient(#0020ff 0px,#0024ff 29px,#0054ff 56px,#0050ff 198px,#0038ff 224px,#0034ff 335px,#001cff 361px,#0020ff 469px,#0054ff 497px,#0062ff 524px,#00a0ff 558px,#00d0ff 589px,#00e4f8 603px,#0af2ec 619px,#1cffdb 625px,#30ffc7 633px,#33ffc4 659px,#aaff4d 679px,#aaff4d 700px,#80ff77 701px,#2cffca 702px,#00b4ff 703px,#0050ff 704px,#0004ff 707px,#0000f6 709px,#0000f6 713px)"></i><i style="background:linear-gradient(#002cfa 0px,#0030ff 32px,#004aff 59px,#0046ff 195px,#002cff 224px,#0028fd 334px,#0012f1 362px,#0016f4 471px,#002eff 499px,#0036ff 527px,#0098ff 585px,#06b4f5 601px,#09bcf2 618px,#1dd6de 634px,#1ed8dd 659px,#33f2c4 666px,#50ffa7 671px,#82ff75 680px,#82ff75 700px,#58ff9f 701px,#1bd6e0 702px,#0082ff 703px,#002cff 704px,#0004e8 707px,#0000dd 709px,#0000dd 713px)"></i><i style="background:linear-gradient(#004eff 0px,#0050ff 29px,#0088ff 57px,#008cff 196px,#00a2ff 221px,#0098ff 273px,#0092ff 322px,#0084ff 334px,#0052ff 359px,#002aff 449px,#002eff 468px,#0064ff 496px,#006eff 523px,#00b6ff 559px,#08e2f3 583px,#17f6df 602px,#1ffad7 619px,#45ffb2 632px,#46ffb1 659px,#bfff38 679px,#c1ff36 700px,#97ff60 701px,#43ffb4 702px,#01d0fa 703px,#0066ff 704px,#0010ff 707px,#0000fd 708px,#0000fa 713px)"></i><i style="background:linear-gradient(#0038ff 0px,#003cff 29px,#0078ff 57px,#0078ff 192px,#03e0f8 209px,#1bffdc 216px,#28ffcf 221px,#13fce4 252px,#0ef6e9 307px,#00d8fd 334px,#00a0ff 362px,#003aff 441px,#003eff 469px,#0076ff 496px,#007eff 522px,#00c6ff 554px,#11f2e6 582px,#2effc9 599px,#38ffbf 619px,#5bff9c 632px,#5eff98 659px,#d6ff21 679px,#d7ff1f 700px,#adff49 701px,#5aff9d 702px,#0becf0 703px,#007cff 704px,#0004ff 708px,#0004ff 713px)"></i><i style="background:linear-gradient(#0008ff 0px,#000cff 32px,#003eff 57px,#003eff 192px,#00d6ff 206px,#03e8f4 208px,#1bffdc 211px,#5dff9a 220px,#39ffbe 249px,#36ffc1 304px,#13fae4 330px,#00d8fd 349px,#005cff 416px,#0028ff 441px,#002cff 468px,#005eff 496px,#006cff 524px,#00e0fb 581px,#1bffdc 596px,#28ffcf 620px,#4bffac 633px,#4dffaa 659px,#c4ff33 679px,#c6ff31 700px,#9cff5b 701px,#48ffaf 702px,#00d6ff 703px,#006aff 704px,#0012ff 707px,#0000ff 708px,#0000ff 713px)"></i><i style="background:linear-gradient(#0004ff 0px,#0008ff 30px,#003eff 57px,#003eff 192px,#00d0ff 208px,#10f2e7 213px,#30ffc7 218px,#36ffc1 222px,#19f8de 252px,#16f6e1 306px,#03dcf8 331px,#00a2ff 370px,#0044ff 424px,#0024ff 442px,#0028ff 468px,#0056ff 496px,#0066ff 524px,#00e0fb 583px,#19ffde 597px,#23ffd4 618px,#49ffad 632px,#4dffaa 659px,#c6ff31 680px,#c6ff31 700px,#9cff5b 701px,#48ffaf 702px,#00d4ff 703px,#006aff 704px,#0014ff 707px,#0000ff 708px,#0000ff 713px)"></i><i style="background:linear-gradient(#000eff 0px,#0012ff 29px,#0046ff 56px,#0046ff 192px,#00b2fd 219px,#009eff 252px,#009aff 308px,#0034ff 419px,#0018ff 441px,#001cff 470px,#0042ff 498px,#0052ff 523px,#00cafd 582px,#0cecee 597px,#17f6df 619px,#36ffc1 629px,#3cffba 642px,#3effb9 659px,#b9ff3e 680px,#b9ff3e 700px,#8fff68 701px,#3bffbc 702px,#00c4ff 703px,#005cff 704px,#000aff 707px,#0000fa 708px,#0000f8 713px)"></i><i style="background:linear-gradient(#0018ff 0px,#001cff 29px,#004eff 57px,#004aff 198px,#003aff 232px,#0030ff 336px,#001cff 420px,#000cff 443px,#0010ff 472px,#0034ff 504px,#0044ff 524px,#00c0ff 586px,#06e0f5 601px,#0ef0eb 619px,#30ffc7 632px,#33ffc4 659px,#adff49 680px,#adff49 700px,#83ff73 701px,#30ffc7 702px,#00b6ff 703px,#0050ff 704px,#0006ff 707px,#0000f6 709px,#0000f6 713px)"></i><i style="background:linear-gradient(#0008ff 0px,#000cff 29px,#0040ff 56px,#003eff 194px,#0016ff 222px,#001aff 283px,#0026ff 313px,#0022ff 416px,#000cff 444px,#0010ff 471px,#003eff 514px,#004aff 525px,#00d2ff 590px,#06eaf3 602px,#17fcdf 620px,#3bffbc 632px,#3cffba 659px,#b5ff41 679px,#b5ff41 700px,#8cff6b 701px,#38ffbf 702px,#00c2ff 703px,#005cff 704px,#000aff 707px,#0000fd 708px,#0000fa 713px)"></i><i style="background:linear-gradient(#0000ef 0px,#0000f4 31px,#000cff 47px,#001aff 58px,#0016ff 198px,#0006ff 227px,#000aff 281px,#0024ff 306px,#0020ff 415px,#0006ff 444px,#000cff 473px,#0046ff 525px,#00c0ff 585px,#04e4f6 602px,#14fae3 619px,#39ffbe 632px,#3bffbc 659px,#b5ff41 680px,#b5ff41 700px,#8cff6b 701px,#36ffc1 702px,#00c0ff 703px,#005aff 704px,#000aff 707px,#0000fa 708px,#0000fa 713px)"></i><i style="background:linear-gradient(#0000c4 0px,#0000c8 30px,#0000f8 53px,#0004ff 288px,#001cff 304px,#0018ff 416px,#0000ff 441px,#0002ff 475px,#002eff 519px,#00aeff 584px,#00d6ff 601px,#06ecf1 617px,#1bffdc 624px,#30ffc7 633px,#33ffc4 659px,#aaff4d 679px,#acff4b 700px,#82ff75 701px,#2effc9 702px,#00b6ff 703px,#0050ff 704px,#0004ff 707px,#0000f6 709px,#0000f6 713px)"></i><i style="background:linear-gradient(#0000a8 0px,#0000bf 32px,#0000e6 57px,#0000ea 120px,#0000f6 148px,#0000f1 202px,#0000e8 223px,#0000f6 259px,#0000fa 277px,#0006ff 296px,#000eff 306px,#0014ff 342px,#001eff 367px,#001aff 415px,#0000ff 437px,#0004ff 489px,#003eff 530px,#00aaff 584px,#00e0fb 609px,#0cf4eb 619px,#1fffd7 626px,#30ffc7 633px,#33ffc4 659px,#adff49 680px,#adff49 700px,#83ff73 701px,#2effc9 702px,#00b4ff 703px,#0050ff 704px,#0002ff 707px,#0000f6 711px,#0000f6 713px)"></i><i style="background:linear-gradient(#000092 0px,#0000b8 34px,#0000c8 61px,#0000cd 115px,#0000e8 139px,#0000e4 197px,#0000c8 220px,#0000e8 249px,#0000ed 281px,#0000ff 307px,#0004ff 349px,#000cff 367px,#0008ff 415px,#0000fa 437px,#0000fa 482px,#0006ff 509px,#0076ff 576px,#00beff 607px,#00d8fb 619px,#13f8e4 629px,#19fcde 637px,#1cfedb 659px,#94ff63 679px,#95ff62 700px,#6dff8a 701px,#17fcdf 702px,#009aff 703px,#003aff 704px,#000cff 706px,#0000ff 707px,#0000ea 708px,#0000e8 713px)"></i><i style="background:linear-gradient(#000082 0px,#0000b6 28px,#0000c1 113px,#0000f1 139px,#0000ed 194px,#0000bd 220px,#0000f1 249px,#0000f8 331px,#0002ff 345px,#0014ff 358px,#0010ff 416px,#0000ff 429px,#0000f8 463px,#0004ff 506px,#008cff 581px,#00dcfe 615px,#0cf4eb 623px,#1cffdb 628px,#26ffd1 634px,#29ffce 659px,#a0ff56 679px,#a0ff56 700px,#77ff80 701px,#23ffd4 702px,#00a8ff 703px,#0048ff 704px,#0000ff 707px,#0000f1 708px,#0000f1 713px)"></i><i style="background:linear-gradient(#00008d 0px,#0000b8 30px,#0000c8 66px,#0000cd 113px,#0000ef 138px,#0000ea 197px,#0000c8 220px,#0000ef 248px,#0000f3 280px,#0000fd 315px,#0006ff 344px,#0016ff 361px,#0012ff 415px,#0000ff 428px,#0000f6 451px,#0002ff 507px,#0088ff 580px,#00e0fb 617px,#19ffde 627px,#26ffd1 633px,#29ffce 659px,#a4ff53 680px,#a4ff53 700px,#7aff7d 701px,#26ffd1 702px,#00acff 703px,#0048ff 704px,#0000ff 707px,#0000ef 709px,#0000ef 713px)"></i><i style="background:linear-gradient(#00009f 0px,#0000bd 36px,#0000d6 59px,#0000da 118px,#0000e8 143px,#0000e3 200px,#0000d6 223px,#0000e8 251px,#0000ed 278px,#0000ff 296px,#0004ff 345px,#000cff 368px,#0008ff 414px,#0000ff 425px,#0000f6 434px,#0000ea 442px,#0000f1 496px,#0000ff 507px,#000aff 519px,#0072ff 580px,#00daff 621px,#0cf4eb 628px,#16ffe1 633px,#1bffdc 659px,#95ff62 680px,#95ff62 700px,#6bff8c 701px,#16ffe1 702px,#0098ff 703px,#0038ff 704px,#000cff 706px,#0000ff 707px,#0000e8 708px,#0000e8 713px)"></i><i style="background:linear-gradient(#0000b4 0px,#0000bb 30px,#0000ea 57px,#0000f3 276px,#000aff 297px,#0010ff 322px,#000cff 415px,#0000fa 430px,#0000ed 442px,#0000f1 497px,#0000ff 509px,#002cff 538px,#0078ff 582px,#00dafb 620px,#19fcde 631px,#1fffd7 659px,#98ff5e 679px,#9aff5d 700px,#70ff87 701px,#1cfedb 702px,#00a0ff 703px,#003eff 704px,#0000ff 707px,#0000ed 708px,#0000ed 713px)"></i><i style="background:linear-gradient(#0000c8 0px,#0000cd 30px,#0000f1 50px,#0006f8 198px,#0018ff 228px,#001cff 283px,#0032ff 307px,#002cff 342px,#0022ff 368px,#0020ff 413px,#0004fa 429px,#0000ed 444px,#0000f1 497px,#0010ff 519px,#0060ff 569px,#0082ff 586px,#01cafa 615px,#15f0e4 629px,#19f4de 642px,#24fad2 659px,#9dff5a 680px,#9dff5a 700px,#73ff83 701px,#1ff6d7 702px,#00a4ff 703px,#0042ff 704px,#0012ff 706px,#0004fd 707px,#0000ef 708px,#0000ed 713px)"></i><i style="background:linear-gradient(#0000e1 0px,#0000e6 29px,#0000ff 42px,#000eff 60px,#0012ff 194px,#0054ff 221px,#0058ff 281px,#0068ff 311px,#0062ff 333px,#0044ff 360px,#0042ff 412px,#0000ff 434px,#0000f8 451px,#0000fc 496px,#0006ff 508px,#005eff 554px,#0086ff 580px,#00defc 615px,#0ef6e9 622px,#21ffd6 629px,#28ffcf 637px,#34ffc2 658px,#b1ff46 680px,#b1ff46 700px,#87ff70 701px,#33ffc4 702px,#00baff 703px,#0056ff 704px,#0006ff 707px,#0000f8 711px,#0000f8 713px)"></i><i style="background:linear-gradient(#0000dd 0px,#0000e1 31px,#0000f4 45px,#0004fa 75px,#0008ff 196px,#0040ff 221px,#003eff 330px,#001aff 361px,#0018ff 413px,#0000fd 425px,#0000e6 435px,#0000d8 441px,#0000dd 498px,#0000fa 518px,#000eff 540px,#002cff 566px,#0042ff 583px,#00a4ff 621px,#00ccff 633px,#00d2fd 650px,#04e2f6 659px,#1bfcdc 664px,#75ff82 679px,#75ff82 700px,#4bffac 701px,#01dafa 702px,#0072ff 703px,#001cff 704px,#0008ff 705px,#0000fd 706px,#0000d8 708px,#0000d8 713px)"></i><i style="background:linear-gradient(#0030ff 0px,#0034ff 32px,#0052ff 58px,#0056ff 193px,#009aff 221px,#0098ff 304px,#0054ff 359px,#0052ff 412px,#0000ff 434px,#0000f8 451px,#0000fc 497px,#0006ff 509px,#005aff 554px,#0078ff 579px,#00e0fb 620px,#19ffde 629px,#1fffd7 637px,#26ffd1 651px,#39ffbe 660px,#acff4b 679px,#adff49 700px,#83ff73 701px,#30ffc7 702px,#00b8ff 703px,#0052ff 704px,#0004ff 707px,#0000f8 710px,#0000f8 713px)"></i><i style="background:linear-gradient(#006eff 0px,#0074ff 37px,#0080ff 62px,#0084ff 195px,#00a4ff 223px,#00a0ff 303px,#005eff 331px,#004eff 364px,#004aff 412px,#0002ff 433px,#0000f3 443px,#0000f8 498px,#000eff 516px,#0052ff 554px,#006cff 579px,#01d6fa 620px,#14f6e3 631px,#17f8df 647px,#2effc9 659px,#a7ff50 680px,#a7ff50 700px,#7dff7a 701px,#29ffce 702px,#00b0ff 703px,#004cff 704px,#0004ff 707px,#0000f3 709px,#0000f3 713px)"></i><i style="background:linear-gradient(#00b8ff 0px,#00bcff 302px,#0058ff 330px,#0050ff 412px,#0000ff 434px,#0000f6 444px,#0000fa 496px,#0008ff 510px,#0054ff 551px,#006aff 578px,#00d8fb 620px,#11f8e6 629px,#17fcdf 642px,#30ffc7 658px,#adff49 680px,#adff49 700px,#83ff73 701px,#2effc9 702px,#00b6ff 703px,#0050ff 704px,#0004ff 707px,#0000f6 711px,#0000f6 713px)"></i><i style="background:linear-gradient(#00b8ff 0px,#00b8ff 302px,#0042ff 329px,#0034ff 366px,#0030ff 413px,#0006ff 427px,#0000ed 437px,#0000e4 441px,#0000e8 496px,#0000fd 512px,#0022ff 538px,#0036ff 554px,#0046ff 579px,#00aaff 619px,#03d6f8 632px,#04daf6 647px,#13f4e4 659px,#31ffc6 664px,#8cff6b 679px,#8dff6a 700px,#63ff94 701px,#10f2e7 702px,#0090ff 703px,#0032ff 704px,#000aff 706px,#0000f8 707px,#0000e6 708px,#0000e4 713px)"></i><i style="background:linear-gradient(#04eaf3 0px,#04e8f4 302px,#00c0ff 310px,#0060ff 330px,#0040ff 360px,#003eff 412px,#0000ff 431px,#0000f8 436px,#0000ed 441px,#0000f1 497px,#0000ff 508px,#000cff 520px,#0042ff 552px,#004eff 578px,#00baff 621px,#00e0fb 632px,#01e6f6 647px,#17ffdf 656px,#2bffcc 661px,#98ff5e 679px,#98ff5e 700px,#6eff88 701px,#1bffdc 702px,#009eff 703px,#003eff 704px,#000eff 706px,#0000ff 707px,#0000ed 708px,#0000ed 713px)"></i><i style="background:linear-gradient(#1bffdc 0px,#17fedf 302px,#00e0fb 309px,#0074ff 330px,#0046ff 359px,#0042ff 413px,#0000ff 432px,#0000f8 437px,#0000ef 441px,#0000f3 496px,#0000ff 504px,#000cff 516px,#004aff 552px,#0054ff 578px,#00c0ff 620px,#01e4f8 630px,#06ecf1 646px,#19ffde 653px,#30ffc7 660px,#a4ff53 680px,#a4ff53 700px,#7aff7d 701px,#26ffd1 702px,#00aaff 703px,#0048ff 704px,#0000ff 707px,#0000ef 709px,#0000ef 713px)"></i><i style="background:linear-gradient(#00beff 0px,#00bcff 302px,#0058ff 331px,#003aff 360px,#0036ff 413px,#0000ff 432px,#0000f3 444px,#0000f8 497px,#0000ff 507px,#004cff 551px,#0054ff 578px,#00c8ff 622px,#04eaf3 631px,#09f0ee 646px,#1fffd7 654px,#33ffc4 660px,#a7ff50 679px,#a7ff50 700px,#7dff7a 701px,#29ffce 702px,#00b0ff 703px,#004cff 704px,#0000ff 707px,#0000f3 708px,#0000f3 713px)"></i><i style="background:linear-gradient(#007cff 0px,#0078ff 304px,#0048ff 333px,#0038ff 366px,#0034ff 414px,#0000ff 434px,#0004ff 505px,#005cff 550px,#0068ff 578px,#00dcfe 621px,#16ffe1 631px,#1effd9 647px,#48ffaf 660px,#bcff3b 680px,#bcff3b 700px,#92ff65 701px,#3cffba 702px,#00c8ff 703px,#0060ff 704px,#000cff 707px,#0000ff 708px,#0000ff 713px)"></i><i style="background:linear-gradient(#0040ff 0px,#003cff 412px,#0000ff 439px,#0004ff 498px,#0072ff 551px,#007cff 577px,#00caff 603px,#08eef0 618px,#24ffd2 627px,#30ffc7 635px,#34ffc2 647px,#62ff95 660px,#d6ff21 680px,#d6ff21 700px,#acff4b 701px,#56ffa0 702px,#06e8f4 703px,#0078ff 704px,#0000ff 708px,#0000ff 713px)"></i><i style="background:linear-gradient(#0028ff 0px,#0024ff 414px,#0000ff 434px,#0004ff 506px,#0036ff 535px,#0056ff 552px,#0066ff 578px,#01dafa 621px,#14f8e3 631px,#19fcde 646px,#48ffaf 660px,#bcff3b 680px,#bcff3b 700px,#92ff65 701px,#3cffba 702px,#00c8ff 703px,#005eff 704px,#000cff 707px,#0000fd 708px,#0000fa 713px)"></i><i style="background:linear-gradient(#0006fa 0px,#0002f6 417px,#0000e4 434px,#0000da 445px,#0000df 498px,#0000f4 520px,#0012ff 545px,#002aff 580px,#0076ff 614px,#00b2ff 632px,#00b6ff 646px,#10eaeb 660px,#33ffc4 667px,#7dff7a 680px,#7dff7a 700px,#53ffa4 701px,#0be2f0 702px,#007aff 703px,#0022ff 704px,#0006fa 706px,#0000f1 707px,#0000da 708px,#0000da 713px)"></i><i style="background:linear-gradient(#002aff 0px,#0028ff 316px,#000eff 413px,#0000fa 430px,#0000e8 442px,#0000ed 498px,#0000ff 519px,#000eff 534px,#002cff 553px,#003eff 578px,#00a4ff 619px,#00d0ff 632px,#00d4fd 646px,#13f8e4 656px,#26ffd1 661px,#94ff63 679px,#94ff63 700px,#6bff8c 701px,#16fae1 702px,#0098ff 703px,#003aff 704px,#000cff 706px,#0000ff 707px,#0000ea 708px,#0000e8 713px)"></i><i style="background:linear-gradient(#0094ff 0px,#0098ff 62px,#00a8ff 89px,#00a6ff 303px,#006aff 331px,#0052ff 361px,#0006ff 416px,#0000fa 428px,#0000df 441px,#0000e3 501px,#0000ff 530px,#0012ff 547px,#002cff 578px,#008aff 618px,#00bcff 632px,#00c0ff 646px,#00e0fb 655px,#0ff8e7 660px,#29ffce 664px,#83ff73 679px,#83ff73 700px,#5aff9d 701px,#06ecf1 702px,#0084ff 703px,#0028ff 704px,#0000ff 706px,#0000f8 707px,#0000df 708px,#0000df 713px)"></i><i style="background:linear-gradient(#26f6d1 0px,#2bf8cc 59px,#46ffb1 87px,#43ffb4 302px,#20f2d7 313px,#06d2f5 327px,#00c4fb 332px,#009aff 360px,#0034ff 398px,#0000ff 423px,#0000ed 433px,#0000da 441px,#0000df 500px,#0000f3 525px,#0000ff 535px,#001cff 571px,#003eff 590px,#0084ff 619px,#00b2ff 632px,#00b6ff 646px,#01e2f9 658px,#1bffdc 663px,#7bff7b 680px,#7bff7b 700px,#51ffa5 701px,#01e2f9 702px,#007aff 703px,#0020ff 704px,#0000ff 706px,#0000f3 707px,#0000dd 708px,#0000da 713px)"></i><i style="background:linear-gradient(#8dff6a 0px,#94ff63 58px,#b5ff41 85px,#b1ff46 303px,#36ffc1 331px,#14fae3 352px,#04e6f6 361px,#00b0ff 376px,#0026ff 415px,#0000ff 429px,#0000f1 435px,#0000e4 441px,#0000e8 503px,#0006ff 539px,#0036ff 580px,#0098ff 620px,#00c4ff 632px,#00c8ff 646px,#09f0ee 657px,#2cffca 664px,#87ff70 679px,#8aff6d 700px,#60ff97 701px,#0cf4eb 702px,#008cff 703px,#002eff 704px,#0006ff 706px,#0000fa 707px,#0000e4 708px,#0000e4 713px)"></i><i style="background:linear-gradient(#94ff63 0px,#98ff5e 35px,#beff39 88px,#beff39 302px,#3cffba 331px,#11fae6 352px,#00dcfd 363px,#007cff 393px,#0000ff 428px,#0000f8 433px,#0000dd 440px,#0000e1 503px,#0000f1 525px,#0000ff 537px,#0014ff 559px,#0034ff 582px,#008cff 619px,#00bcff 632px,#00c0ff 646px,#01e4f8 656px,#16fee1 661px,#83ff73 680px,#83ff73 700px,#5aff9d 701px,#06ecf1 702px,#0084ff 703px,#0028ff 704px,#0000ff 706px,#0000f8 707px,#0000e1 708px,#0000dd 713px)"></i><i style="background:linear-gradient(#9cff5b 0px,#a0ff56 31px,#beff39 61px,#c6ff31 110px,#c4ff33 302px,#45ffb2 331px,#1bfadc 347px,#06e0f5 359px,#00b4ff 378px,#0090ff 390px,#0004ff 428px,#0000ed 435px,#0000da 440px,#0000df 510px,#0000ea 526px,#0002fd 543px,#0022ff 575px,#006cff 610px,#009cff 625px,#00b4ff 633px,#00b8ff 646px,#09e8f2 659px,#28ffcf 665px,#7dff7a 680px,#7dff7a 700px,#53ffa4 701px,#08e4f3 702px,#007cff 703px,#0022ff 704px,#0002ff 706px,#0000f3 707px,#0000da 708px,#0000da 713px)"></i><i style="background:linear-gradient(#65ff92 0px,#6aff8d 30px,#8cff6b 59px,#90ff66 214px,#8fff68 303px,#2bfccc 326px,#15eae6 334px,#00c2fb 348px,#009cff 359px,#0062ff 386px,#0018ff 407px,#0000e8 424px,#0000bd 440px,#0000c1 524px,#0000e8 562px,#000ef4 589px,#0028ff 610px,#005aff 626px,#006eff 632px,#0072ff 646px,#00aaff 660px,#0bdef0 667px,#2bfccc 675px,#45ffb2 679px,#45ffb2 700px,#1bf2dc 701px,#009eff 702px,#0036ff 703px,#0004ed 704px,#0000ca 707px,#0000bd 708px,#0000bd 713px)"></i><i style="background:linear-gradient(#7dff7a 0px,#82ff75 32px,#94ff63 59px,#98ff5e 195px,#b9ff3e 222px,#b4ff43 303px,#3bffbc 336px,#1bf8dc 347px,#06def5 358px,#00b0ff 375px,#0076ff 393px,#0008ff 425px,#0000ef 434px,#0000da 440px,#0000df 523px,#0000f8 542px,#0018ff 572px,#006aff 611px,#00aaff 630px,#00b2ff 646px,#08e4f3 659px,#29ffce 666px,#78ff7f 679px,#78ff7f 700px,#4effa9 701px,#06def5 702px,#0076ff 703px,#001eff 704px,#0002fd 706px,#0000da 708px,#0000da 713px)"></i><i style="background:linear-gradient(#85ff72 0px,#8cff6b 44px,#92ff65 193px,#cfff28 221px,#ccff2b 303px,#26ffd1 355px,#08e2f3 370px,#00acff 386px,#0006ff 431px,#0000ed 441px,#0000f1 522px,#0008ff 541px,#0058ff 585px,#00b6ff 621px,#04dcf6 633px,#06e0f5 646px,#24fed2 659px,#9cff5b 679px,#9dff5a 700px,#73ff83 701px,#1ffcd7 702px,#00a4ff 703px,#0042ff 704px,#0012ff 706px,#0002ff 707px,#0000ef 708px,#0000ed 713px)"></i><i style="background:linear-gradient(#51ffa5 0px,#5eff98 193px,#b9ff3e 221px,#b4ff43 303px,#14fae3 361px,#00d4ff 372px,#0002ff 430px,#0000f8 437px,#0000ef 441px,#0000f3 523px,#0000ff 533px,#000aff 543px,#0060ff 586px,#00b8ff 620px,#00e0fb 632px,#01e4f8 646px,#19ffde 654px,#39ffbe 662px,#a2ff55 680px,#a2ff55 700px,#78ff7f 701px,#23ffd4 702px,#00a8ff 703px,#0046ff 704px,#0000ff 707px,#0000ef 709px,#0000ef 713px)"></i><i style="background:linear-gradient(#00b4ff 0px,#00baff 33px,#00ccfd 60px,#00d0fb 142px,#06e4f5 170px,#06e4f5 192px,#23ffd4 200px,#78ff7f 220px,#75ff82 304px,#33ffc4 340px,#0ff8e7 355px,#00d4ff 365px,#0026ff 413px,#0000ff 428px,#0000f6 436px,#0000ed 442px,#0000f1 524px,#0000ff 537px,#0026ff 561px,#005eff 589px,#00aeff 620px,#00d6fd 632px,#00dafb 646px,#1bfedc 657px,#75ff82 673px,#9cff5b 680px,#9cff5b 700px,#72ff85 701px,#1cfedb 702px,#009eff 703px,#0040ff 704px,#000eff 706px,#0000ff 707px,#0000ed 708px,#0000ed 713px)"></i><i style="background:linear-gradient(#003eff 0px,#0042ff 30px,#006aff 58px,#006eff 141px,#0092ff 167px,#0094ff 192px,#03d6f8 202px,#10f2e7 207px,#31ffc6 213px,#53ffa4 220px,#4effa9 310px,#3bffbc 333px,#11fae6 356px,#00daff 365px,#0020ff 415px,#0000ff 431px,#0000fa 438px,#0000fa 523px,#0004ff 536px,#0064ff 583px,#00c6ff 620px,#00e2f9 628px,#07eef0 633px,#0af2ec 646px,#1effd9 652px,#40ffb7 661px,#adff49 680px,#adff49 700px,#83ff73 701px,#30ffc7 702px,#00b6ff 703px,#0052ff 704px,#0004ff 707px,#0000f6 711px,#0000f6 713px)"></i><i style="background:linear-gradient(#0004ff 0px,#0008ff 30px,#003aff 56px,#003eff 139px,#006cff 167px,#006cff 192px,#01cefa 206px,#13ece8 212px,#34ffc2 220px,#30fec7 333px,#15e6e6 354px,#04ccf6 366px,#0096ff 382px,#0022ff 413px,#0002fd 434px,#0000f6 452px,#0000fa 525px,#001eff 545px,#006aff 581px,#01cafa 618px,#0ee8ed 627px,#15eee6 641px,#18f2df 647px,#39ffbe 658px,#b7ff40 680px,#b7ff40 700px,#8dff6a 701px,#39ffbe 702px,#00c2fd 703px,#005cff 704px,#000cff 707px,#0000f8 708px,#0000f6 713px)"></i><i style="background:linear-gradient(#0038ff 0px,#003cff 30px,#006eff 57px,#0072ff 142px,#008aff 168px,#008aff 192px,#00e0fb 210px,#17fedf 217px,#21ffd6 223px,#1cffdb 332px,#01defa 346px,#004cff 397px,#0016ff 416px,#0000ff 431px,#0000f8 458px,#0000fc 523px,#0006ff 536px,#006aff 584px,#00d4ff 623px,#0cf4eb 632px,#0ff8e7 646px,#36ffc1 659px,#afff48 679px,#b1ff46 700px,#87ff70 701px,#33ffc4 702px,#00bcff 703px,#0056ff 704px,#0006ff 707px,#0000f8 711px,#0000f8 713px)"></i><i style="background:linear-gradient(#0068ff 0px,#006cff 30px,#009cff 57px,#00a0ff 157px,#00a6ff 193px,#00e0fb 213px,#0af2ec 221px,#07eef0 331px,#00d6ff 338px,#008eff 360px,#0010ff 417px,#0000ff 431px,#0000f3 445px,#0000f8 523px,#0004ff 537px,#0062ff 584px,#00c4ff 621px,#04e8f4 631px,#07eef0 646px,#21ffd6 655px,#4dffaa 664px,#a7ff50 679px,#a9ff4e 700px,#7fff78 701px,#2bffcc 702px,#00b2ff 703px,#004eff 704px,#0002ff 707px,#0000f3 709px,#0000f3 713px)"></i><i style="background:linear-gradient(#009aff 0px,#009eff 30px,#00ceff 57px,#00d2ff 196px,#08eef0 221px,#0cf4eb 313px,#08eef0 330px,#00caff 341px,#008eff 361px,#0000ff 430px,#0004ff 533px,#006eff 584px,#00ceff 620px,#0af2ec 630px,#14fce3 647px,#41ffb5 660px,#b5ff41 680px,#b5ff41 700px,#8cff6b 701px,#38ffbf 702px,#00beff 703px,#0058ff 704px,#0008ff 707px,#0000fa 709px,#0000fa 713px)"></i><i style="background:linear-gradient(#00a2ff 0px,#00a6ff 30px,#00d4ff 57px,#00dafd 254px,#07eef0 279px,#03e8f4 308px,#00ccff 334px,#0092ff 362px,#004aff 388px,#0000ff 429px,#0000f8 438px,#0000fa 524px,#0006ff 537px,#0066ff 584px,#00caff 622px,#01e6f6 629px,#07eef0 634px,#0af2ec 646px,#1cffdb 652px,#38ffbf 660px,#acff4b 679px,#acff4b 700px,#82ff75 701px,#2effc9 702px,#00b6ff 703px,#0052ff 704px,#0004ff 707px,#0000f6 711px,#0000f6 713px)"></i><i style="background:linear-gradient(#008aff 0px,#008eff 30px,#01bcfa 56px,#00b8fb 196px,#009cff 222px,#00a0ff 251px,#03c4f8 276px,#01c0fa 306px,#0096ff 335px,#0088ff 357px,#0030ff 385px,#0010ff 410px,#0000ed 433px,#0000e4 446px,#0000e8 524px,#000afa 545px,#0030ff 576px,#0094ff 618px,#03c4f8 632px,#04c8f6 646px,#13e2e8 655px,#23f4d4 662px,#43ffb4 667px,#8cff6b 680px,#8cff6b 700px,#62ff95 701px,#18e6e3 702px,#008cff 703px,#0030ff 704px,#000efd 706px,#0000e4 708px,#0000e4 713px)"></i><i style="background:linear-gradient(#00aeff 0px,#00b2ff 29px,#04e2f6 57px,#03def8 196px,#00caff 225px,#00ceff 250px,#06ecf1 269px,#0cf4eb 284px,#0af2ec 303px,#00d0ff 321px,#00bcff 336px,#00aaff 358px,#004cff 386px,#0000ff 428px,#0000f6 449px,#0000fa 525px,#000aff 540px,#005cff 581px,#00c2ff 620px,#06eaf3 632px,#08eef0 646px,#24ffd2 655px,#41ffb5 662px,#aaff4d 680px,#aaff4d 700px,#80ff77 701px,#2bffcc 702px,#00b2ff 703px,#0050ff 704px,#0004ff 707px,#0000f6 709px,#0000f6 713px)"></i><i style="background:linear-gradient(#006cff 0px,#0070ff 30px,#009eff 57px,#00a2ff 196px,#00baff 223px,#00c0fb 254px,#09d4f2 280px,#08d2f3 303px,#00a0ff 329px,#0060ff 361px,#0020ff 389px,#000cf8 412px,#0000e8 433px,#0000dd 443px,#0000e1 524px,#0006f4 543px,#0020ff 570px,#0066ff 604px,#0090ff 620px,#00b8fb 632px,#01bcfa 646px,#10dceb 656px,#21f0d7 663px,#3effb9 668px,#82ff75 680px,#85ff72 693px,#82ff75 700px,#58ff9f 701px,#13e0e8 702px,#0080ff 703px,#0026ff 704px,#000cf8 706px,#0000ef 707px,#0000df 708px,#0000dd 713px)"></i><i style="background:linear-gradient(#008cff 0px,#0090ff 29px,#00c0ff 57px,#00c4ff 193px,#00e0fb 203px,#16fee1 214px,#23ffd4 222px,#26ffd1 304px,#0ff8e7 319px,#00d6ff 334px,#0086ff 360px,#0020ff 409px,#0000ff 429px,#0000fa 437px,#0000fa 524px,#0004ff 537px,#0060ff 582px,#00a0ff 606px,#00c6ff 621px,#00e4f8 629px,#06ecf1 634px,#09f0ee 646px,#1bffdc 652px,#3cffba 661px,#acff4b 680px,#b7ff40 690px,#aaff4d 700px,#80ff77 701px,#2cffca 702px,#00b4ff 703px,#0050ff 704px,#0002ff 707px,#0000f6 709px,#0000f6 713px)"></i><i style="background:linear-gradient(#009eff 0px,#00a2ff 29px,#00d2fd 56px,#00d4fd 194px,#0af2ec 213px,#19fede 241px,#2bffcc 285px,#26ffd1 305px,#0ff8e7 320px,#00daff 333px,#0084ff 360px,#003eff 394px,#0008ff 419px,#0000ff 433px,#0000f8 450px,#0000fc 524px,#0008ff 537px,#0060ff 580px,#009eff 602px,#00caff 621px,#07eef0 630px,#0ef6e9 646px,#28ffcf 655px,#41ffb5 661px,#b2ff45 680px,#c1ff36 690px,#afff48 699px,#afff48 700px,#85ff72 701px,#31ffc6 702px,#00baff 703px,#0054ff 704px,#0006ff 707px,#0000f8 710px,#0000f8 713px)"></i><i style="background:linear-gradient(#00a6ff 0px,#00aaff 29px,#00dafb 57px,#00d6fd 194px,#009cff 220px,#00beff 250px,#01e4f8 269px,#07eef0 279px,#04eaf3 304px,#00ceff 318px,#00aeff 334px,#0066ff 362px,#0030ff 390px,#0000ff 409px,#0000f3 430px,#0000ea 450px,#0000ef 523px,#0000ff 534px,#000aff 546px,#004aff 580px,#0084ff 601px,#00acff 620px,#00d6ff 632px,#00daff 646px,#14fee3 656px,#43ffb4 665px,#9cff5b 680px,#b9ff3e 689px,#98ff5e 698px,#98ff5e 700px,#6eff88 701px,#1bffdc 702px,#009eff 703px,#003eff 704px,#000eff 706px,#0000ff 707px,#0000ed 708px,#0000ea 713px)"></i><i style="background:linear-gradient(#00c2ff 0px,#00c6ff 30px,#10eeeb 54px,#0cecee 193px,#00c4ff 200px,#0052ff 219px,#0082ff 249px,#00d6fd 275px,#00d2ff 304px,#0052ff 369px,#002eff 388px,#0000ff 403px,#0000f3 410px,#0000e6 447px,#0000ea 523px,#0000fd 535px,#0010ff 552px,#0044ff 580px,#0080ff 600px,#00a2ff 619px,#00ceff 632px,#00d2fd 646px,#0ff4e7 656px,#31ffc6 663px,#9fff58 682px,#bcff3b 689px,#92ff65 698px,#92ff65 700px,#68ff8f 701px,#14f8e3 702px,#0096ff 703px,#0038ff 704px,#000aff 706px,#0000fd 707px,#0000ea 708px,#0000e6 713px)"></i><i style="background:linear-gradient(#00a8ff 0px,#00acff 30px,#08dcf3 57px,#06daf5 192px,#00aaff 200px,#003cff 220px,#0076ff 249px,#00d2ff 275px,#00ceff 306px,#007aff 361px,#003cff 387px,#0000ff 405px,#0000ef 415px,#0000f3 524px,#0000ff 534px,#001aff 552px,#0050ff 579px,#0090ff 598px,#00b2ff 619px,#00defb 632px,#01e2f9 646px,#19ffde 655px,#45ffb2 664px,#d4ff23 689px,#a0ff56 697px,#a0ff56 700px,#77ff80 701px,#21ffd6 702px,#00a6ff 703px,#0044ff 704px,#0000ff 707px,#0000ef 708px,#0000ef 713px)"></i><i style="background:linear-gradient(#0050ff 0px,#0054ff 29px,#0082ff 55px,#0080ff 193px,#002cff 220px,#0064ff 249px,#00c2ff 275px,#00c0ff 306px,#0090ff 358px,#0030ff 390px,#0000ff 405px,#0000ef 415px,#0000f3 524px,#0002ff 536px,#0024ff 558px,#0052ff 580px,#0094ff 598px,#00b0ff 619px,#03e0f8 632px,#04e4f6 646px,#1fffd7 657px,#80ff77 674px,#deff19 689px,#a0ff56 697px,#a0ff56 700px,#77ff80 701px,#23ffd4 702px,#00a8ff 703px,#0044ff 704px,#0000ff 707px,#0000f1 708px,#0000ef 713px)"></i><i style="background:linear-gradient(#0000e1 0px,#0000e6 36px,#000ef1 62px,#000af1 201px,#0002f4 224px,#001cff 253px,#0064ff 275px,#005aff 357px,#0020ff 374px,#0004f8 392px,#0000da 407px,#0000cd 414px,#0000d1 526px,#0000f1 550px,#0016ff 581px,#003eff 594px,#004eff 600px,#0062ff 618px,#0092ff 632px,#0096ff 646px,#03d0f8 660px,#11eee9 665px,#38ffbf 672px,#7fff78 683px,#aaff4d 689px,#63ff94 697px,#63ff94 700px,#39ffbe 701px,#00c2ff 702px,#005aff 703px,#000eff 704px,#0000f1 706px,#0000cd 708px,#0000cd 713px)"></i><i style="background:linear-gradient(#000cdf 0px,#0012e4 36px,#0022ed 60px,#0026ef 227px,#003eff 256px,#0054ff 267px,#006aff 277px,#0068ff 357px,#003aff 371px,#0000dd 408px,#0000d1 421px,#0000cf 525px,#0000df 539px,#0022f4 579px,#0042ff 594px,#004eff 599px,#0060ff 618px,#0090ff 632px,#0094ff 646px,#0cc6ee 659px,#30f2c7 671px,#4dffaa 676px,#b4ff43 689px,#63ff94 697px,#60ff97 700px,#38f6bf 701px,#09c0f2 702px,#0058ff 703px,#001cf1 704px,#0004e4 706px,#0000df 707px,#0000cd 708px,#0000cd 713px)"></i><i style="background:linear-gradient(#0060ff 0px,#0064ff 30px,#0094ff 56px,#0098ff 225px,#00b2ff 253px,#00d6ff 277px,#00d4ff 357px,#0004ff 413px,#0000fa 436px,#0000fa 524px,#0004ff 537px,#0058ff 578px,#00acff 598px,#00baff 618px,#00e2f9 629px,#04eaf3 634px,#07eef0 646px,#1bffdc 652px,#3cffba 661px,#b2ff45 680px,#eeff09 686px,#ffea00 688px,#ffe200 689px,#f1fc06 691px,#acff4b 697px,#aaff4d 700px,#80ff77 701px,#2bffcc 702px,#00b2ff 703px,#004eff 704px,#0002ff 707px,#0000f6 709px,#0000f6 713px)"></i><i style="background:linear-gradient(#00b0ff 0px,#00b4ff 30px,#09e4f2 57px,#09e8f2 251px,#09f0ee 304px,#08ecf1 358px,#00c4ff 369px,#001aff 413px,#0000ff 432px,#0000f8 456px,#0000fd 524px,#0008ff 536px,#005aff 577px,#00baff 597px,#00c4ff 618px,#04e8f4 628px,#0cf4eb 633px,#0ff8e7 646px,#34ffc2 658px,#baff3c 680px,#f1fa06 685px,#ffd500 688px,#ffce00 689px,#f3f806 692px,#ceff29 695px,#b4ff43 697px,#b2ff45 700px,#88ff6e 701px,#33ffc4 702px,#00bcff 703px,#0056ff 704px,#0008ff 707px,#0000f8 709px,#0000f8 713px)"></i><i style="background:linear-gradient(#008cff 0px,#0090ff 29px,#01c2fa 57px,#03c6f8 194px,#11f4e6 216px,#1efed9 237px,#1efed9 342px,#13f6e4 358px,#00c8ff 372px,#0026ff 413px,#0002ff 433px,#0004ff 529px,#0064ff 576px,#00c8ff 597px,#00d4fb 619px,#0ef2e9 629px,#14f6e3 637px,#17f8df 646px,#3bffbc 658px,#c2ff34 680px,#f0f60b 684px,#ffd500 687px,#ffc300 689px,#f6ef04 692px,#d4ff23 695px,#b9ff3e 697px,#b9ff3e 700px,#8fff68 701px,#3bffbc 702px,#00c6ff 703px,#005cff 704px,#000aff 707px,#0000fa 708px,#0000fa 713px)"></i><i style="background:linear-gradient(#002cff 0px,#0030ff 29px,#0066ff 56px,#0066ff 192px,#01dcfa 212px,#13fae4 218px,#1fffd7 226px,#31ffc6 253px,#2cffca 335px,#14fce3 358px,#00dafd 368px,#0046ff 405px,#0024ff 414px,#0000ff 435px,#0002ff 530px,#006cff 577px,#00caff 597px,#00d2ff 618px,#0af2ec 628px,#13fae4 635px,#16fce1 646px,#45ffb2 660px,#c1ff36 680px,#eefc09 684px,#ffe600 686px,#ffc400 689px,#f9f301 692px,#deff19 694px,#b7ff40 697px,#b4ff43 700px,#8aff6d 701px,#36ffc1 702px,#00c0ff 703px,#0056ff 704px,#0008ff 707px,#0000fa 709px,#0000fa 713px)"></i><i style="background:linear-gradient(#0000ca 0px,#0000cf 29px,#0000ed 44px,#0004f8 63px,#0008fd 193px,#0028ff 198px,#00defc 220px,#17ffdf 242px,#1fffd7 255px,#1bffdc 333px,#00e2f9 353px,#00caff 361px,#0010ff 413px,#0000ff 426px,#0000f6 435px,#0000ed 443px,#0000f1 523px,#0000ff 534px,#000aff 544px,#0050ff 578px,#00a2ff 598px,#00aaff 618px,#00d0ff 632px,#00d4ff 646px,#07eef0 653px,#26ffd1 661px,#92ff65 679px,#ebff0c 687px,#fded00 689px,#f1fc06 690px,#90ff66 697px,#8fff68 700px,#66ff90 701px,#11fae6 702px,#0092ff 703px,#0030ff 704px,#0006ff 706px,#0000ff 707px,#0000e8 708px,#0000e6 713px)"></i><i style="background:linear-gradient(#0000e1 0px,#0000e6 30px,#0008ff 52px,#000eff 193px,#01d8fa 215px,#13f6e4 219px,#2effc9 242px,#2effc9 316px,#21ffd6 333px,#0cf4eb 344px,#00d8ff 356px,#000eff 412px,#0000ff 424px,#0000f8 433px,#0000ea 442px,#0000ef 524px,#0000ff 534px,#000aff 547px,#0056ff 580px,#009aff 598px,#00a8ff 620px,#00c2ff 633px,#00c6ff 646px,#00e4f8 654px,#1bffdc 661px,#90ff66 680px,#ebff0c 689px,#82ff75 697px,#80ff77 700px,#56ffa0 701px,#02e8f4 702px,#0080ff 703px,#0022ff 704px,#0000ff 706px,#0000e3 708px,#0000df 713px)"></i><i style="background:linear-gradient(#0006fa 0px,#000cff 34px,#0026ff 59px,#0026ff 192px,#0094ff 205px,#01ccfa 211px,#11ecea 215px,#2cffca 220px,#3cffba 256px,#38ffbf 307px,#1bfadc 333px,#03dcf8 347px,#0094ff 368px,#0030ff 396px,#0004ff 412px,#0000ef 431px,#0000e1 442px,#0000e6 525px,#0000fd 541px,#0012ff 558px,#003eff 578px,#007eff 598px,#0092ff 623px,#00a2ff 635px,#00a8ff 647px,#03def8 660px,#19fcde 665px,#77ff80 680px,#c6ff31 689px,#63ff94 697px,#63ff94 700px,#39ffbe 701px,#00c4ff 702px,#005cff 703px,#0006ff 704px,#0000f6 706px,#0000d1 708px,#0000d1 713px)"></i><i style="background:linear-gradient(#0026ff 0px,#002aff 30px,#0052ff 57px,#0054ff 192px,#00d0fd 206px,#16f8e1 211px,#41ffb5 217px,#53ffa4 220px,#50ffa7 306px,#26ffd1 332px,#0cf4eb 341px,#00d6ff 349px,#0038ff 393px,#0000ff 412px,#0000f8 425px,#0000df 441px,#0000e3 525px,#0000ff 542px,#0006ff 552px,#0052ff 586px,#0078ff 599px,#0096ff 636px,#009cff 647px,#00ccff 659px,#02e8f4 663px,#16ffe1 666px,#73ff83 681px,#b1ff46 689px,#58ff9f 697px,#55ffa2 700px,#2cffca 701px,#00b2ff 702px,#004cff 703px,#0000ff 704px,#0000fc 705px,#0000cd 708px,#0000cd 713px)"></i><i style="background:linear-gradient(#00a6ff 0px,#00aaff 30px,#08d8f3 56px,#09daf2 192px,#16f2e1 198px,#31ffc6 203px,#88ff6e 220px,#83ff73 304px,#49ffad 332px,#13fce4 348px,#00defc 355px,#000eff 412px,#0000ff 426px,#0000ef 437px,#0000ef 523px,#0000ff 534px,#0006ff 544px,#0092ff 600px,#00a8ff 629px,#00acff 646px,#00e0fb 659px,#19ffde 664px,#97ff60 684px,#b7ff40 689px,#63ff94 697px,#63ff94 700px,#39ffbe 701px,#00c4ff 702px,#005cff 703px,#0000ff 704px,#0000ff 705px,#0000d4 708px,#0000d1 713px)"></i><i style="background:linear-gradient(#28fecf 0px,#2cffca 30px,#51ffa5 58px,#56ffa0 194px,#9dff5a 220px,#9aff5d 303px,#4effa9 332px,#13fce4 347px,#00e0fb 353px,#0056ff 389px,#0006ff 414px,#0000fa 429px,#0000e6 442px,#0000ea 523px,#0000ff 537px,#000cff 550px,#0066ff 586px,#0086ff 602px,#009aff 622px,#009cff 646px,#00d4ff 660px,#16fce1 666px,#9fff58 689px,#51ffa5 697px,#50ffa7 700px,#26ffd1 701px,#00acff 702px,#0048ff 703px,#0000fa 704px,#0000ca 708px,#0000ca 713px)"></i><i style="background:linear-gradient(#88ff6e 0px,#8cff6b 31px,#afff48 57px,#b4ff43 200px,#bfff38 234px,#bcff3b 303px,#66ff90 331px,#17fadf 349px,#03def8 356px,#00a6ff 370px,#000cff 414px,#0000fa 431px,#0000ed 443px,#0000ef 523px,#0002ff 537px,#0014ff 550px,#006aff 581px,#00a6ff 618px,#009aff 639px,#00a0ff 647px,#00d0ff 659px,#13f8e4 665px,#36ffc1 671px,#8fff68 687px,#97ff60 689px,#50ffa7 697px,#4effa9 700px,#24ffd2 701px,#00aaff 702px,#0044ff 703px,#0000f3 704px,#0000ca 708px,#0000ca 713px)"></i><i style="background:linear-gradient(#7bff7b 0px,#80ff77 31px,#98ff5e 58px,#9dff5a 196px,#bfff38 222px,#bcff3b 303px,#56ffa0 335px,#14fae3 351px,#00d8fd 359px,#0014ff 413px,#0000ff 427px,#0000f6 437px,#0000f6 524px,#0002ff 537px,#0022ff 553px,#0070ff 579px,#00acff 619px,#009aff 635px,#009eff 646px,#00d0ff 659px,#13f8e4 665px,#38ffbf 671px,#73ff83 682px,#8cff6b 689px,#4dffaa 697px,#4dffaa 700px,#23ffd4 701px,#00a8ff 702px,#003eff 703px,#0000ea 704px,#0000c8 708px,#0000c8 713px)"></i><i style="background:linear-gradient(#4bffac 0px,#51ffa5 42px,#5aff9d 68px,#5dff9a 193px,#aaff4d 220px,#a7ff50 303px,#16fae1 348px,#00d8fb 357px,#000eff 413px,#0000ff 428px,#0000ed 443px,#0000f1 524px,#0000ff 536px,#0012ff 549px,#006aff 578px,#0088ff 602px,#00a6ff 618px,#0088ff 633px,#008cff 646px,#00c6ff 660px,#0bf2ec 666px,#29ffce 671px,#5dff9a 680px,#73ff83 689px,#3bffbc 697px,#3bffbc 700px,#11f6e6 701px,#0092ff 702px,#002cff 703px,#0000d8 704px,#0000bf 709px,#0000bf 713px)"></i><i style="background:linear-gradient(#21ffd6 0px,#28ffcf 193px,#9fff58 220px,#9cff5b 302px,#11fae6 349px,#00dcfd 357px,#000eff 413px,#0000ff 427px,#0000f8 435px,#0000ef 441px,#0000f3 524px,#0000ff 534px,#0014ff 549px,#0072ff 578px,#0080ff 598px,#00a8ff 618px,#0084ff 633px,#0088ff 646px,#00c2ff 660px,#00e0fb 664px,#14fee3 668px,#5aff9d 680px,#66ff90 689px,#34ffc2 697px,#34ffc2 700px,#0af2ec 701px,#008aff 702px,#0022ff 703px,#0000cd 704px,#0000bf 710px,#0000bf 713px)"></i><i style="background:linear-gradient(#0098ff 0px,#0098ff 192px,#06ccf5 199px,#1df2db 207px,#3bffbc 212px,#66ff90 220px,#62ff95 304px,#21fad6 329px,#08e0f3 344px,#00aeff 360px,#0030ff 395px,#000aff 408px,#0000f6 421px,#0000e1 444px,#0000e8 525px,#0000fa 537px,#000cff 552px,#005aff 578px,#0064ff 599px,#008cff 618px,#006aff 633px,#0072ff 647px,#00a4ff 660px,#03d8f8 667px,#13f4e4 672px,#31ffc6 677px,#41ffb5 682px,#48ffaf 689px,#1ffcd7 696px,#19f8de 700px,#01d4fa 701px,#000eff 703px,#0000bd 704px,#0000b4 713px)"></i><i style="background:linear-gradient(#0066ff 0px,#0068ff 192px,#01d4fa 203px,#11f4e6 207px,#30ffc7 211px,#6dff8a 220px,#6aff8d 304px,#11fae6 348px,#00d8ff 360px,#0038ff 400px,#0004ff 413px,#0000fa 436px,#0000fa 521px,#0006ff 534px,#0028ff 550px,#008cff 577px,#0092ff 598px,#00c0ff 618px,#00a0ff 633px,#00a8ff 646px,#00ceff 659px,#00e4f8 662px,#17ffdf 666px,#68ff8f 680px,#66ff90 690px,#43ffb4 698px,#43ffb4 700px,#1bffdc 701px,#009eff 702px,#002cff 703px,#0000c6 704px,#0000bd 713px)"></i><i style="background:linear-gradient(#0006fd 0px,#0006fd 192px,#003aff 197px,#00dcfb 211px,#1cffdb 215px,#41ffb5 220px,#3cffba 305px,#13fce4 334px,#00dcfe 351px,#00c6ff 360px,#000cff 406px,#0000ff 410px,#0000f6 433px,#0000f8 517px,#0006ff 535px,#0028ff 551px,#0086ff 577px,#008aff 598px,#00bcff 618px,#009eff 633px,#00aeff 649px,#00c8ff 659px,#03e4f8 663px,#19fede 667px,#62ff95 680px,#5dff9a 690px,#3cffba 699px,#3cffba 700px,#16fce1 701px,#009aff 702px,#0026ff 703px,#0000c1 704px,#0000b8 713px)"></i><i style="background:linear-gradient(#0000d6 0px,#0000d8 192px,#0000fd 196px,#0020ff 200px,#00d2fb 218px,#04def6 221px,#03daf8 305px,#00b8ff 335px,#00a6ff 358px,#0000ff 404px,#0000f3 411px,#0000e8 461px,#0000ed 501px,#0002ff 534px,#0022ff 551px,#007aff 577px,#007eff 598px,#00b4ff 617px,#00a2ff 632px,#00c0ff 658px,#01e2f9 663px,#1bffdc 668px,#5eff98 679px,#5bff9c 690px,#3effb9 698px,#3effb9 700px,#17fedf 701px,#009eff 702px,#0028ff 703px,#0000c1 704px,#0000bb 711px,#0000b6 713px)"></i><i style="background:linear-gradient(#0000a6 0px,#0000a6 192px,#0000ea 201px,#000cfa 206px,#0028ff 212px,#005aff 220px,#0056ff 310px,#004aff 333px,#005cff 357px,#000aff 389px,#0000f3 401px,#0000d1 412px,#0000dd 502px,#0000f3 527px,#0002ff 544px,#0014ff 554px,#0054ff 577px,#0058ff 598px,#008eff 618px,#008aff 634px,#009aff 651px,#00a0ff 659px,#01dcfa 667px,#0ff6e7 671px,#36ffc1 677px,#43ffb4 681px,#40ffb7 690px,#26ffd1 698px,#26ffd1 700px,#04e4f6 701px,#001aff 703px,#0000bd 704px,#0000b8 710px,#0000ab 713px)"></i><i style="background:linear-gradient(#000082 0px,#000084 193px,#0000ef 218px,#0002f6 336px,#0010ff 354px,#000eff 362px,#0000f1 382px,#0000b8 412px,#0000c4 449px,#0000c8 500px,#0000ef 536px,#0004ff 556px,#0032ff 579px,#0036ff 599px,#0066ff 620px,#0074ff 638px,#0080ff 646px,#007aff 659px,#01dcfa 672px,#16fae1 677px,#24ffd2 680px,#1effd9 691px,#0af2ec 699px,#0af2ec 700px,#00c2ff 701px,#0008ff 703px,#0000b8 704px,#0000b4 709px,#0000a2 713px)"></i><i style="background:linear-gradient(#000080 0px,#000084 195px,#0000c4 221px,#0000c8 335px,#0000e4 358px,#00009f 413px,#0000b8 445px,#0000bd 502px,#0000f6 553px,#0000ff 564px,#0014ff 581px,#0018ff 599px,#004eff 625px,#006aff 646px,#005aff 659px,#00daff 676px,#0af2ec 680px,#07eef0 690px,#00d6ff 698px,#00d6ff 700px,#00a8ff 701px,#0000ff 703px,#0000b2 704px,#0000ad 709px,#00009d 713px)"></i><i style="background:linear-gradient(#000080 0px,#000082 197px,#00009f 223px,#0000a2 337px,#0000af 359px,#00008d 412px,#0000af 441px,#0000b4 498px,#0000e1 540px,#0000ff 565px,#000aff 586px,#000eff 599px,#006cff 638px,#0076ff 646px,#005aff 659px,#00dafd 676px,#0af2ec 680px,#07eef0 690px,#00dafd 699px,#00dafd 700px,#00aeff 701px,#0002ff 703px,#0000b6 704px,#0000b2 709px,#000098 713px)"></i><i style="background:linear-gradient(#000080 0px,#000084 416px,#0000a4 442px,#0000a8 498px,#0000c8 529px,#0000e4 559px,#0000f4 573px,#0004fa 601px,#0020ff 619px,#0056ff 638px,#0060ff 646px,#003cff 659px,#00c6fd 678px,#01cefa 680px,#00cafb 691px,#00bcff 700px,#0090ff 701px,#0040ff 702px,#0000fa 703px,#0000b2 704px,#0000ad 709px,#000094 713px)"></i><i style="background:linear-gradient(#000080 0px,#000084 419px,#00009b 444px,#00009f 497px,#0000c4 526px,#0000d8 558px,#0000ed 581px,#0000ef 598px,#0000ff 606px,#0006ff 614px,#0054ff 637px,#0064ff 645px,#0032ff 659px,#00c4ff 680px,#00beff 693px,#00b6ff 700px,#008eff 701px,#003eff 702px,#0000ff 703px,#0000b2 704px,#0000ad 709px,#00008f 713px)"></i><i style="background:linear-gradient(#000080 0px,#000084 421px,#000094 444px,#000098 497px,#0000c4 524px,#0000da 564px,#0000e4 581px,#0000e8 598px,#0000ff 608px,#000cff 617px,#0060ff 634px,#0080ff 645px,#003aff 659px,#00ceff 679px,#00ceff 692px,#00c8ff 700px,#00a0ff 701px,#0000ff 703px,#0000b6 704px,#0000b2 709px,#00008d 713px)"></i><i style="background:linear-gradient(#000080 0px,#000084 427px,#00008d 453px,#000092 497px,#0000c4 524px,#0000d1 566px,#0000da 588px,#0000df 599px,#0000ff 610px,#0004ff 617px,#0066ff 633px,#0090ff 645px,#0038ff 659px,#00ceff 678px,#00d6ff 683px,#00ceff 700px,#00a8ff 701px,#0004ff 703px,#0000bd 704px,#0000bd 708px,#000089 713px)"></i><i style="background:linear-gradient(#000080 0px,#000084 435px,#00008b 497px,#0000bb 523px,#0000ca 598px,#0002ff 619px,#0022ff 625px,#004cff 632px,#007aff 645px,#0024ff 659px,#00b4ff 679px,#00b4ff 700px,#008eff 701px,#0000ff 703px,#0000b8 704px,#0000b8 708px,#000086 713px)"></i><i style="background:linear-gradient(#000080 0px,#000084 495px,#0000b8 523px,#0000c4 599px,#0000ff 620px,#0054ff 633px,#0082ff 645px,#0024ff 658px,#002aff 660px,#00b6ff 679px,#00b6ff 700px,#0092ff 701px,#0000ff 703px,#0000bb 704px,#0000bb 708px,#000084 713px)"></i><i style="background:linear-gradient(#000080 0px,#000084 498px,#0000af 523px,#0000b2 598px,#0000e6 618px,#0000ff 621px,#0006ff 624px,#0040ff 633px,#006aff 645px,#0010ff 658px,#0014ff 660px,#0096ff 679px,#0098ff 700px,#0076ff 701px,#0034ff 702px,#0000fd 703px,#0000b8 704px,#0000b8 708px,#000084 713px)"></i><i style="background:linear-gradient(#000080 0px,#000084 499px,#0000a8 523px,#0000ad 598px,#0000da 618px,#0000ff 623px,#0006ff 626px,#0030ff 633px,#005aff 645px,#0002ff 659px,#0082ff 679px,#0082ff 700px,#0064ff 701px,#0028ff 702px,#0000f8 703px,#0000b8 704px,#0000b8 708px,#000084 713px)"></i><i style="background:linear-gradient(#000080 0px,#000084 500px,#0000a2 524px,#0000a6 600px,#0000c8 618px,#0000fa 626px,#000cff 631px,#003cff 645px,#0000ff 656px,#0006ff 663px,#005cff 680px,#005cff 700px,#0042ff 701px,#000eff 702px,#0000e8 703px,#0000b4 704px,#0000b4 708px,#000084 713px)"></i><i style="background:linear-gradient(#000080 0px,#000084 502px,#00009b 526px,#00009f 601px,#0000b8 618px,#0000fa 630px,#000cff 639px,#0020ff 645px,#0002ff 652px,#0000f1 657px,#0000e8 659px,#0000ff 665px,#0020ff 674px,#003aff 681px,#003aff 700px,#0024ff 701px,#0000ff 702px,#0000ad 704px,#0000ad 708px,#000082 713px)"></i><i style="background:linear-gradient(#000080 0px,#000084 502px,#000098 525px,#00009d 601px,#0000b8 618px,#0000ff 631px,#000eff 638px,#0026ff 645px,#0000ff 653px,#0000f6 657px,#0000ed 659px,#0000ff 665px,#003eff 680px,#003eff 700px,#002aff 701px,#0002ff 702px,#0000df 703px,#0000b2 704px,#0000b2 708px,#000084 713px)"></i><i style="background:linear-gradient(#000080 0px,#000084 507px,#00008f 533px,#000094 606px,#0000a4 619px,#0000e1 635px,#0000f6 645px,#0000dd 653px,#0000c8 659px,#0000f6 674px,#0006fd 692px,#0006fd 700px,#0000f6 701px,#0000a4 704px,#00009f 709px,#000080 713px)"></i><i style="background:linear-gradient(#000080 0px,#000084 509px,#00008b 542px,#00008f 605px,#00009f 619px,#0000df 635px,#0000f4 645px,#0000da 653px,#0000c6 659px,#0000f1 673px,#0006fa 686px,#0006fa 700px,#0000f4 701px,#0000c1 703px,#0000a6 704px,#0000a6 708px,#000082 713px)"></i><i style="background:linear-gradient(#000080 0px,#000084 512px,#00008b 604px,#00009b 619px,#0000df 636px,#0002f1 645px,#0000da 653px,#0000c4 659px,#0000ed 672px,#0008f6 687px,#0008f6 700px,#0002f1 701px,#0000e1 702px,#0000ab 704px,#0000ab 708px,#000082 713px)"></i><i style="background:linear-gradient(#000080 0px,#000084 514px,#00008b 607px,#000094 618px,#0000fa 639px,#0000fa 650px,#0000d1 659px,#0000ff 672px,#000eff 684px,#000eff 700px,#0002ff 701px,#0000f1 702px,#0000bb 704px,#0000bb 708px,#000084 713px)"></i><i style="background:linear-gradient(#000080 0px,#000084 603px,#00008d 618px,#0000ff 643px,#0000fa 648px,#0000c8 659px,#0000ff 676px,#0000ff 701px,#0000b8 704px,#0000b8 708px,#000084 713px)"></i><i style="background:linear-gradient(#000080 0px,#000084 614px,#000092 620px,#0000ff 644px,#0000f3 649px,#0000c8 659px,#0000ff 675px,#0000ff 701px,#0000bf 704px,#0000bf 708px,#000084 713px)"></i><i style="background:linear-gradient(#000080 0px,#000082 618px,#0000fd 645px,#0000c6 659px,#0000ff 676px,#0000ff 701px,#0000c4 704px,#0000c4 708px,#000084 713px)"></i><i style="background:linear-gradient(#000080 0px,#000084 619px,#0000f3 645px,#0000c6 659px,#0000ff 677px,#0000fd 701px,#0000c4 704px,#0000c4 708px,#000084 713px)"></i><i style="background:linear-gradient(#000080 0px,#000084 619px,#0000da 645px,#0000bd 659px,#0000f8 679px,#0000f8 700px,#0000f1 701px,#0000bb 704px,#0000bb 708px,#000084 713px)"></i><i style="background:linear-gradient(#000080 0px,#000084 620px,#0000c8 645px,#0000b6 659px,#0000ea 680px,#0000ea 700px,#0000d4 702px,#0000b4 704px,#0000b4 708px,#000084 713px)"></i><i style="background:linear-gradient(#000080 0px,#000084 621px,#0000bf 647px,#0000b8 659px,#0000ef 680px,#0000ef 700px,#0000c6 703px,#0000b6 704px,#0000b6 708px,#000084 713px)"></i><i style="background:linear-gradient(#000080 0px,#000084 621px,#0000b8 647px,#0000bb 660px,#0000f1 680px,#0000f1 700px,#0000da 702px,#0000b6 704px,#0000b6 708px,#000084 713px)"></i><i style="background:linear-gradient(#000080 0px,#000084 622px,#0000b4 648px,#0000bf 660px,#0000f8 679px,#0000f3 701px,#0000bb 704px,#0000bb 708px,#000084 713px)"></i><i style="background:linear-gradient(#000080 0px,#000084 623px,#0000bf 661px,#0000f3 680px,#0000f3 700px,#0000ed 701px,#0000b8 704px,#0000b8 708px,#000084 713px)"></i><i style="background:linear-gradient(#000080 0px,#000084 624px,#0000a2 648px,#0000e1 671px,#0000fa 680px,#0000fa 700px,#0000f1 701px,#0000bd 704px,#0000bd 708px,#000084 713px)"></i><i style="background:linear-gradient(#000080 0px,#000084 629px,#000094 647px,#0000e8 680px,#0000e8 700px,#0000b4 704px,#0000b4 708px,#000084 713px)"></i><i style="background:linear-gradient(#000080 0px,#000084 637px,#00008b 646px,#0000c4 664px,#0000ea 681px,#0000ea 700px,#0000e4 701px,#0000b4 704px,#0000b4 708px,#000084 713px)"></i><i style="background:linear-gradient(#000080 0px,#000084 645px,#0000bf 663px,#0000e8 681px,#0000e8 700px,#0000d1 702px,#0000b2 704px,#0000b2 708px,#000084 713px)"></i><i style="background:linear-gradient(#000080 0px,#000082 646px,#0000b6 661px,#0000e1 681px,#0000e1 700px,#0000cd 702px,#0000af 704px,#0000af 708px,#000084 713px)"></i><i style="background:linear-gradient(#000080 0px,#000084 647px,#0000bb 660px,#0000ed 680px,#0000ed 700px,#0000d6 702px,#0000b6 704px,#0000b6 708px,#000084 713px)"></i><i style="background:linear-gradient(#000080 0px,#000084 647px,#0000b4 660px,#0000e4 682px,#0000e4 700px,#0000af 704px,#0000af 708px,#000084 713px)"></i><i style="background:linear-gradient(#000080 0px,#000084 647px,#0000b8 662px,#0000e4 681px,#0000e4 700px,#0000af 704px,#0000af 708px,#000084 713px)"></i><i style="width:1px;background:linear-gradient(#000080 0px,#000084 647px,#0000b6 660px,#0000e3 680px,#0000df 701px,#0000b2 704px,#0000b2 708px,#000084 713px)"></i></div>
<div id="ln"><b style="left:237.8px;top:266.9px;width:494.6px;height:1.2px;background:repeating-linear-gradient(90deg,#ff2a10 0px 1px,transparent 1px 3px,#ffffff 3px 4px,transparent 4px 5.5px,#e01000 5.5px 6.5px,transparent 6.5px 9px,#ff8080 9px 10px,transparent 10px 13px)"></b><b style="left:732.4px;top:266.9px;width:329.8px;height:1.2px;background:repeating-linear-gradient(90deg,#401010 0px 1px,transparent 1px 3px,#602010 3px 4px,transparent 4px 7px)"></b><b style="left:1062.1px;top:266.9px;width:351.9px;height:1.2px;background:repeating-linear-gradient(90deg,#ff2a10 0px 1px,transparent 1px 3px,#ffffff 3px 4px,transparent 4px 5.5px,#e01000 5.5px 6.5px,transparent 6.5px 9px,#ff8080 9px 10px,transparent 10px 13px)"></b><b style="left:237.8px;top:330.8px;width:494.6px;height:1.0px;background:repeating-linear-gradient(90deg,rgba(255,255,255,.75) 0px 1px,transparent 1px 3.5px,rgba(200,230,255,.6) 3.5px 4.5px,transparent 4.5px 7.5px)"></b><b style="left:1062.1px;top:330.8px;width:351.9px;height:1.0px;background:repeating-linear-gradient(90deg,rgba(255,255,255,.75) 0px 1px,transparent 1px 3.5px,rgba(200,230,255,.6) 3.5px 4.5px,transparent 4.5px 7.5px)"></b><b style="left:237.8px;top:400.8px;width:1114.1px;height:1.3px;background:#0c0c2a"></b><b style="left:1351.9px;top:400.8px;width:62.1px;height:1.3px;background:#c01010"></b><b style="left:237.8px;top:436.8px;width:235.5px;height:3.0px;background:linear-gradient(#7dff7a,#ceff29,#7dff7a)"></b><b style="left:473.3px;top:437.2px;width:259.1px;height:2.2px;background:repeating-linear-gradient(90deg,#deff19 0px 6px,#ffb200 6px 9px,#beff39 9px 14px,#ff9400 14px 16px)"></b><b style="left:732.4px;top:437.2px;width:336.8px;height:2.2px;background:linear-gradient(#feed00,#ff7a00)"></b><b style="left:1069.2px;top:437.3px;width:280.3px;height:2.0px;background:linear-gradient(#adff49,#deff19)"></b><b style="left:1349.5px;top:436.8px;width:64.5px;height:3.0px;background:repeating-linear-gradient(90deg,#29ffce 0px 3px,#ff9400 3px 5px,#00b0ff 5px 7px,#f10800 7px 8px,#ceff29 8px 11px)"></b><b style="left:237.8px;top:490.0px;width:847.9px;height:1.1px;background:repeating-linear-gradient(90deg,#101020 0px 6px,transparent 6px 8.5px,#101020 8.5px 10px,transparent 10px 13px)"></b><b style="left:1085.7px;top:490.0px;width:328.3px;height:1.1px;background:repeating-linear-gradient(90deg,#e02000 0px 1px,transparent 1px 3px,#ff6040 3px 4px,transparent 4px 7px)"></b><b style="left:1085.7px;top:496.8px;width:328.3px;height:1.0px;background:repeating-linear-gradient(90deg,rgba(255,255,255,.8) 0px 1px,transparent 1px 4px)"></b><b style="left:1179.9px;top:527.2px;width:171.9px;height:1.0px;background:#19ffde"></b><b style="left:237.8px;top:553.0px;width:847.9px;height:1.1px;background:repeating-linear-gradient(90deg,#201010 0px 1.5px,transparent 1.5px 4px,#502010 4px 5px,transparent 5px 8px)"></b><b style="left:1085.7px;top:553.0px;width:328.3px;height:1.1px;background:repeating-linear-gradient(90deg,#e02000 0px 1px,transparent 1px 3px,#ffffff 3px 4px,transparent 4px 7px)"></b><b style="left:237.8px;top:649.2px;width:706.6px;height:1.0px;background:repeating-linear-gradient(90deg,#ff7a00 0px 2px,transparent 2px 5px);opacity:0.8"></b><b style="left:944.4px;top:649.2px;width:469.6px;height:1.0px;background:repeating-linear-gradient(90deg,#ffff60 0px 1.5px,transparent 1.5px 3.5px,#ffffff 3.5px 4.5px,transparent 4.5px 7.5px)"></b><b style="left:237.8px;top:711.9px;width:1118.8px;height:1.3px;background:#120c18"></b><b style="left:1356.6px;top:711.9px;width:57.4px;height:1.3px;background:#c01010"></b><b style="left:237.8px;top:748.2px;width:1114.1px;height:1.0px;background:#feed00;opacity:0.7"></b><b style="left:237.8px;top:786.0px;width:1114.1px;height:2.0px;background:#ff8d00"></b><b style="left:1358.9px;top:786.0px;width:55.1px;height:2.0px;background:#09f0ee"></b><b style="left:1358.9px;top:782.2px;width:55.1px;height:1.0px;background:#00d0ff"></b><b style="left:237.8px;top:795.8px;width:1114.1px;height:1.2px;background:#deff19"></b><b style="left:1358.9px;top:795.8px;width:55.1px;height:1.2px;background:#09f0ee"></b><b style="left:1358.9px;top:800.6px;width:55.1px;height:1.0px;background:#00b0ff"></b><b style="left:237.8px;top:803.8px;width:588.8px;height:1.5px;background:#ffb200"></b><b style="left:826.6px;top:803.8px;width:525.3px;height:1.5px;background:#ff5500"></b><b style="left:1358.9px;top:803.8px;width:55.1px;height:1.5px;background:#29ffce"></b><b style="left:991.5px;top:807.5px;width:360.4px;height:1.0px;background:#ff9f00"></b><b style="left:237.8px;top:811.8px;width:282.6px;height:1.0px;background:#53ffa4"></b><b style="left:1358.9px;top:811.8px;width:55.1px;height:1.0px;background:#00d0ff"></b><b style="left:237.8px;top:138.0px;width:482.9px;height:1.0px;background:repeating-linear-gradient(90deg,rgba(255,255,255,0.3) 0px 1px,transparent 1px 5.5px,rgba(255,255,255,0.21) 5.5px 6.5px,transparent 6.5px 13.5px,rgba(255,255,255,0.3) 13.5px 14.5px,transparent 14.5px 17.5px,transparent 17.5px 23.5px)"></b><b style="left:237.8px;top:155.7px;width:482.9px;height:1.0px;background:repeating-linear-gradient(90deg,rgba(255,255,255,0.2) 0px 1px,transparent 1px 5.5px,rgba(255,255,255,0.13999999999999999) 5.5px 6.5px,transparent 6.5px 13.5px,rgba(255,255,255,0.2) 13.5px 14.5px,transparent 14.5px 17.5px,transparent 17.5px 23.5px)"></b><b style="left:237.8px;top:171.4px;width:482.9px;height:1.0px;background:repeating-linear-gradient(90deg,rgba(255,255,255,0.2) 0px 1px,transparent 1px 5.5px,rgba(255,255,255,0.13999999999999999) 5.5px 6.5px,transparent 6.5px 13.5px,rgba(255,255,255,0.2) 13.5px 14.5px,transparent 14.5px 17.5px,transparent 17.5px 23.5px)"></b><b style="left:237.8px;top:177.8px;width:482.9px;height:1.0px;background:repeating-linear-gradient(90deg,rgba(255,255,255,0.4) 0px 1px,transparent 1px 5.5px,rgba(255,255,255,0.27999999999999997) 5.5px 6.5px,transparent 6.5px 13.5px,rgba(255,255,255,0.4) 13.5px 14.5px,transparent 14.5px 17.5px,transparent 17.5px 23.5px)"></b><b style="left:237.8px;top:196.8px;width:482.9px;height:1.0px;background:repeating-linear-gradient(90deg,rgba(255,255,255,0.6) 0px 1px,transparent 1px 5.5px,rgba(255,255,255,0.42) 5.5px 6.5px,transparent 6.5px 13.5px,rgba(255,255,255,0.6) 13.5px 14.5px,transparent 14.5px 17.5px,transparent 17.5px 23.5px)"></b><b style="left:237.8px;top:203.7px;width:482.9px;height:1.0px;background:repeating-linear-gradient(90deg,rgba(255,255,255,0.45) 0px 1px,transparent 1px 5.5px,rgba(255,255,255,0.315) 5.5px 6.5px,transparent 6.5px 13.5px,rgba(255,255,255,0.45) 13.5px 14.5px,transparent 14.5px 17.5px,transparent 17.5px 23.5px)"></b><b style="left:237.8px;top:303.1px;width:482.9px;height:1.0px;background:repeating-linear-gradient(90deg,rgba(255,255,255,0.45) 0px 1px,transparent 1px 5.5px,rgba(255,255,255,0.315) 5.5px 6.5px,transparent 6.5px 13.5px,rgba(255,255,255,0.45) 13.5px 14.5px,transparent 14.5px 17.5px,transparent 17.5px 23.5px)"></b><b style="left:237.8px;top:311.1px;width:482.9px;height:1.0px;background:repeating-linear-gradient(90deg,rgba(255,255,255,0.35) 0px 1px,transparent 1px 5.5px,rgba(255,255,255,0.24499999999999997) 5.5px 6.5px,transparent 6.5px 13.5px,rgba(255,255,255,0.35) 13.5px 14.5px,transparent 14.5px 17.5px,transparent 17.5px 23.5px)"></b><b style="left:1349.5px;top:138.0px;width:64.5px;height:1.0px;background:repeating-linear-gradient(90deg,rgba(255,255,255,0.3) 0px 1px,transparent 1px 6px,rgba(255,255,255,0.21) 6px 7px,transparent 7px 15px,rgba(255,255,255,0.3) 15px 16px,transparent 16px 20px)"></b><b style="left:1349.5px;top:155.7px;width:64.5px;height:1.0px;background:repeating-linear-gradient(90deg,rgba(255,255,255,0.3) 0px 1px,transparent 1px 6px,rgba(255,255,255,0.21) 6px 7px,transparent 7px 15px,rgba(255,255,255,0.3) 15px 16px,transparent 16px 20px)"></b><b style="left:1349.5px;top:171.4px;width:64.5px;height:1.0px;background:repeating-linear-gradient(90deg,rgba(255,255,255,0.3) 0px 1px,transparent 1px 6px,rgba(255,255,255,0.21) 6px 7px,transparent 7px 15px,rgba(255,255,255,0.3) 15px 16px,transparent 16px 20px)"></b><b style="left:1349.5px;top:177.8px;width:64.5px;height:1.0px;background:repeating-linear-gradient(90deg,rgba(255,255,255,0.5) 0px 1px,transparent 1px 6px,rgba(255,255,255,0.35) 6px 7px,transparent 7px 15px,rgba(255,255,255,0.5) 15px 16px,transparent 16px 20px)"></b><b style="left:1349.5px;top:196.8px;width:64.5px;height:1.0px;background:repeating-linear-gradient(90deg,rgba(255,255,255,0.6) 0px 1px,transparent 1px 6px,rgba(255,255,255,0.42) 6px 7px,transparent 7px 15px,rgba(255,255,255,0.6) 15px 16px,transparent 16px 20px)"></b><b style="left:1349.5px;top:203.7px;width:64.5px;height:1.0px;background:repeating-linear-gradient(90deg,rgba(255,255,255,0.5) 0px 1px,transparent 1px 6px,rgba(255,255,255,0.35) 6px 7px,transparent 7px 15px,rgba(255,255,255,0.5) 15px 16px,transparent 16px 20px)"></b><b style="left:1349.5px;top:292.3px;width:64.5px;height:1.0px;background:repeating-linear-gradient(90deg,rgba(255,255,255,0.5) 0px 1px,transparent 1px 6px,rgba(255,255,255,0.35) 6px 7px,transparent 7px 15px,rgba(255,255,255,0.5) 15px 16px,transparent 16px 20px)"></b><b style="left:1349.5px;top:313.9px;width:64.5px;height:1.0px;background:repeating-linear-gradient(90deg,rgba(255,255,255,0.4) 0px 1px,transparent 1px 6px,rgba(255,255,255,0.27999999999999997) 6px 7px,transparent 7px 15px,rgba(255,255,255,0.4) 15px 16px,transparent 16px 20px)"></b><b style="left:1100.5px;top:111px;width:1.6px;height:714px;background:#0018a0;opacity:.6"></b><b style="left:1232.3px;top:111px;width:1px;height:714px;background:repeating-linear-gradient(#d0ffe0 0 2px,rgba(160,255,200,.5) 2px 5px);opacity:.8"></b><b style="left:1239.2px;top:111px;width:1.3px;height:714px;background:#0010a0;opacity:.75"></b><b style="left:1241px;top:111px;width:1px;height:714px;background:repeating-linear-gradient(#ffffff 0 2px,rgba(120,230,255,.6) 2px 6px);opacity:.85"></b><b style="left:673.5px;top:488px;width:3px;height:185px;background:linear-gradient(rgba(255,230,0,0),rgba(255,215,0,.8) 10%,rgba(255,150,0,.85) 45%,rgba(255,110,0,.9) 80%,rgba(255,140,0,0));opacity:.85"></b><b style="left:1243px;top:111px;width:1px;height:714px;background:repeating-linear-gradient(rgba(255,255,255,.8) 0 1px,rgba(0,0,0,0) 1px 7px)"></b></div>
<div id="cb"></div>
<svg width="1898" height="927" viewBox="0 0 1898 927"><g stroke="#000" stroke-linecap="butt"><line x1="261.30" y1="111.24" x2="261.30" y2="107.77" stroke-width="1.20"/><line x1="261.30" y1="825.53" x2="261.30" y2="829.00" stroke-width="1.20"/><line x1="284.86" y1="111.24" x2="284.86" y2="107.77" stroke-width="1.20"/><line x1="284.86" y1="825.53" x2="284.86" y2="829.00" stroke-width="1.20"/><line x1="308.41" y1="111.24" x2="308.41" y2="107.77" stroke-width="1.20"/><line x1="308.41" y1="825.53" x2="308.41" y2="829.00" stroke-width="1.20"/><line x1="331.97" y1="111.24" x2="331.97" y2="107.77" stroke-width="1.20"/><line x1="331.97" y1="825.53" x2="331.97" y2="829.00" stroke-width="1.20"/><line x1="355.52" y1="111.24" x2="355.52" y2="104.30" stroke-width="2.50"/><line x1="355.52" y1="825.53" x2="355.52" y2="832.47" stroke-width="2.50"/><line x1="379.07" y1="111.24" x2="379.07" y2="107.77" stroke-width="1.20"/><line x1="379.07" y1="825.53" x2="379.07" y2="829.00" stroke-width="1.20"/><line x1="402.63" y1="111.24" x2="402.63" y2="107.77" stroke-width="1.20"/><line x1="402.63" y1="825.53" x2="402.63" y2="829.00" stroke-width="1.20"/><line x1="426.18" y1="111.24" x2="426.18" y2="107.77" stroke-width="1.20"/><line x1="426.18" y1="825.53" x2="426.18" y2="829.00" stroke-width="1.20"/><line x1="449.74" y1="111.24" x2="449.74" y2="107.77" stroke-width="1.20"/><line x1="449.74" y1="825.53" x2="449.74" y2="829.00" stroke-width="1.20"/><line x1="473.29" y1="111.24" x2="473.29" y2="104.30" stroke-width="2.50"/><line x1="473.29" y1="825.53" x2="473.29" y2="832.47" stroke-width="2.50"/><line x1="496.84" y1="111.24" x2="496.84" y2="107.77" stroke-width="1.20"/><line x1="496.84" y1="825.53" x2="496.84" y2="829.00" stroke-width="1.20"/><line x1="520.40" y1="111.24" x2="520.40" y2="107.77" stroke-width="1.20"/><line x1="520.40" y1="825.53" x2="520.40" y2="829.00" stroke-width="1.20"/><line x1="543.95" y1="111.24" x2="543.95" y2="107.77" stroke-width="1.20"/><line x1="543.95" y1="825.53" x2="543.95" y2="829.00" stroke-width="1.20"/><line x1="567.51" y1="111.24" x2="567.51" y2="107.77" stroke-width="1.20"/><line x1="567.51" y1="825.53" x2="567.51" y2="829.00" stroke-width="1.20"/><line x1="591.06" y1="111.24" x2="591.06" y2="104.30" stroke-width="2.50"/><line x1="591.06" y1="825.53" x2="591.06" y2="832.47" stroke-width="2.50"/><line x1="614.61" y1="111.24" x2="614.61" y2="107.77" stroke-width="1.20"/><line x1="614.61" y1="825.53" x2="614.61" y2="829.00" stroke-width="1.20"/><line x1="638.17" y1="111.24" x2="638.17" y2="107.77" stroke-width="1.20"/><line x1="638.17" y1="825.53" x2="638.17" y2="829.00" stroke-width="1.20"/><line x1="661.72" y1="111.24" x2="661.72" y2="107.77" stroke-width="1.20"/><line x1="661.72" y1="825.53" x2="661.72" y2="829.00" stroke-width="1.20"/><line x1="685.28" y1="111.24" x2="685.28" y2="107.77" stroke-width="1.20"/><line x1="685.28" y1="825.53" x2="685.28" y2="829.00" stroke-width="1.20"/><line x1="708.83" y1="111.24" x2="708.83" y2="104.30" stroke-width="2.50"/><line x1="708.83" y1="825.53" x2="708.83" y2="832.47" stroke-width="2.50"/><line x1="732.38" y1="111.24" x2="732.38" y2="107.77" stroke-width="1.20"/><line x1="732.38" y1="825.53" x2="732.38" y2="829.00" stroke-width="1.20"/><line x1="755.94" y1="111.24" x2="755.94" y2="107.77" stroke-width="1.20"/><line x1="755.94" y1="825.53" x2="755.94" y2="829.00" stroke-width="1.20"/><line x1="779.49" y1="111.24" x2="779.49" y2="107.77" stroke-width="1.20"/><line x1="779.49" y1="825.53" x2="779.49" y2="829.00" stroke-width="1.20"/><line x1="803.05" y1="111.24" x2="803.05" y2="107.77" stroke-width="1.20"/><line x1="803.05" y1="825.53" x2="803.05" y2="829.00" stroke-width="1.20"/><line x1="826.60" y1="111.24" x2="826.60" y2="104.30" stroke-width="2.50"/><line x1="826.60" y1="825.53" x2="826.60" y2="832.47" stroke-width="2.50"/><line x1="850.15" y1="111.24" x2="850.15" y2="107.77" stroke-width="1.20"/><line x1="850.15" y1="825.53" x2="850.15" y2="829.00" stroke-width="1.20"/><line x1="873.71" y1="111.24" x2="873.71" y2="107.77" stroke-width="1.20"/><line x1="873.71" y1="825.53" x2="873.71" y2="829.00" stroke-width="1.20"/><line x1="897.26" y1="111.24" x2="897.26" y2="107.77" stroke-width="1.20"/><line x1="897.26" y1="825.53" x2="897.26" y2="829.00" stroke-width="1.20"/><line x1="920.82" y1="111.24" x2="920.82" y2="107.77" stroke-width="1.20"/><line x1="920.82" y1="825.53" x2="920.82" y2="829.00" stroke-width="1.20"/><line x1="944.37" y1="111.24" x2="944.37" y2="104.30" stroke-width="2.50"/><line x1="944.37" y1="825.53" x2="944.37" y2="832.47" stroke-width="2.50"/><line x1="967.92" y1="111.24" x2="967.92" y2="107.77" stroke-width="1.20"/><line x1="967.92" y1="825.53" x2="967.92" y2="829.00" stroke-width="1.20"/><line x1="991.48" y1="111.24" x2="991.48" y2="107.77" stroke-width="1.20"/><line x1="991.48" y1="825.53" x2="991.48" y2="829.00" stroke-width="1.20"/><line x1="1015.03" y1="111.24" x2="1015.03" y2="107.77" stroke-width="1.20"/><line x1="1015.03" y1="825.53" x2="1015.03" y2="829.00" stroke-width="1.20"/><line x1="1038.59" y1="111.24" x2="1038.59" y2="107.77" stroke-width="1.20"/><line x1="1038.59" y1="825.53" x2="1038.59" y2="829.00" stroke-width="1.20"/><line x1="1062.14" y1="111.24" x2="1062.14" y2="104.30" stroke-width="2.50"/><line x1="1062.14" y1="825.53" x2="1062.14" y2="832.47" stroke-width="2.50"/><line x1="1085.69" y1="111.24" x2="1085.69" y2="107.77" stroke-width="1.20"/><line x1="1085.69" y1="825.53" x2="1085.69" y2="829.00" stroke-width="1.20"/><line x1="1109.25" y1="111.24" x2="1109.25" y2="107.77" stroke-width="1.20"/><line x1="1109.25" y1="825.53" x2="1109.25" y2="829.00" stroke-width="1.20"/><line x1="1132.80" y1="111.24" x2="1132.80" y2="107.77" stroke-width="1.20"/><line x1="1132.80" y1="825.53" x2="1132.80" y2="829.00" stroke-width="1.20"/><line x1="1156.36" y1="111.24" x2="1156.36" y2="107.77" stroke-width="1.20"/><line x1="1156.36" y1="825.53" x2="1156.36" y2="829.00" stroke-width="1.20"/><line x1="1179.91" y1="111.24" x2="1179.91" y2="104.30" stroke-width="2.50"/><line x1="1179.91" y1="825.53" x2="1179.91" y2="832.47" stroke-width="2.50"/><line x1="1203.46" y1="111.24" x2="1203.46" y2="107.77" stroke-width="1.20"/><line x1="1203.46" y1="825.53" x2="1203.46" y2="829.00" stroke-width="1.20"/><line x1="1227.02" y1="111.24" x2="1227.02" y2="107.77" stroke-width="1.20"/><line x1="1227.02" y1="825.53" x2="1227.02" y2="829.00" stroke-width="1.20"/><line x1="1250.57" y1="111.24" x2="1250.57" y2="107.77" stroke-width="1.20"/><line x1="1250.57" y1="825.53" x2="1250.57" y2="829.00" stroke-width="1.20"/><line x1="1274.13" y1="111.24" x2="1274.13" y2="107.77" stroke-width="1.20"/><line x1="1274.13" y1="825.53" x2="1274.13" y2="829.00" stroke-width="1.20"/><line x1="1297.68" y1="111.24" x2="1297.68" y2="104.30" stroke-width="2.50"/><line x1="1297.68" y1="825.53" x2="1297.68" y2="832.47" stroke-width="2.50"/><line x1="1321.23" y1="111.24" x2="1321.23" y2="107.77" stroke-width="1.20"/><line x1="1321.23" y1="825.53" x2="1321.23" y2="829.00" stroke-width="1.20"/><line x1="1344.79" y1="111.24" x2="1344.79" y2="107.77" stroke-width="1.20"/><line x1="1344.79" y1="825.53" x2="1344.79" y2="829.00" stroke-width="1.20"/><line x1="1368.34" y1="111.24" x2="1368.34" y2="107.77" stroke-width="1.20"/><line x1="1368.34" y1="825.53" x2="1368.34" y2="829.00" stroke-width="1.20"/><line x1="1391.90" y1="111.24" x2="1391.90" y2="107.77" stroke-width="1.20"/><line x1="1391.90" y1="825.53" x2="1391.90" y2="829.00" stroke-width="1.20"/><line x1="230.31" y1="798.38" x2="237.25" y2="798.38" stroke-width="2.50"/><line x1="1414.01" y1="798.38" x2="1420.95" y2="798.38" stroke-width="2.50"/><line x1="233.78" y1="770.92" x2="237.25" y2="770.92" stroke-width="1.20"/><line x1="1414.01" y1="770.92" x2="1417.48" y2="770.92" stroke-width="1.20"/><line x1="233.78" y1="743.47" x2="237.25" y2="743.47" stroke-width="1.20"/><line x1="1414.01" y1="743.47" x2="1417.48" y2="743.47" stroke-width="1.20"/><line x1="233.78" y1="716.02" x2="237.25" y2="716.02" stroke-width="1.20"/><line x1="1414.01" y1="716.02" x2="1417.48" y2="716.02" stroke-width="1.20"/><line x1="233.78" y1="688.56" x2="237.25" y2="688.56" stroke-width="1.20"/><line x1="1414.01" y1="688.56" x2="1417.48" y2="688.56" stroke-width="1.20"/><line x1="230.31" y1="661.11" x2="237.25" y2="661.11" stroke-width="2.50"/><line x1="1414.01" y1="661.11" x2="1420.95" y2="661.11" stroke-width="2.50"/><line x1="233.78" y1="633.66" x2="237.25" y2="633.66" stroke-width="1.20"/><line x1="1414.01" y1="633.66" x2="1417.48" y2="633.66" stroke-width="1.20"/><line x1="233.78" y1="606.20" x2="237.25" y2="606.20" stroke-width="1.20"/><line x1="1414.01" y1="606.20" x2="1417.48" y2="606.20" stroke-width="1.20"/><line x1="233.78" y1="578.75" x2="237.25" y2="578.75" stroke-width="1.20"/><line x1="1414.01" y1="578.75" x2="1417.48" y2="578.75" stroke-width="1.20"/><line x1="233.78" y1="551.30" x2="237.25" y2="551.30" stroke-width="1.20"/><line x1="1414.01" y1="551.30" x2="1417.48" y2="551.30" stroke-width="1.20"/><line x1="230.31" y1="523.84" x2="237.25" y2="523.84" stroke-width="2.50"/><line x1="1414.01" y1="523.84" x2="1420.95" y2="523.84" stroke-width="2.50"/><line x1="233.78" y1="496.39" x2="237.25" y2="496.39" stroke-width="1.20"/><line x1="1414.01" y1="496.39" x2="1417.48" y2="496.39" stroke-width="1.20"/><line x1="233.78" y1="468.94" x2="237.25" y2="468.94" stroke-width="1.20"/><line x1="1414.01" y1="468.94" x2="1417.48" y2="468.94" stroke-width="1.20"/><line x1="233.78" y1="441.48" x2="237.25" y2="441.48" stroke-width="1.20"/><line x1="1414.01" y1="441.48" x2="1417.48" y2="441.48" stroke-width="1.20"/><line x1="233.78" y1="414.03" x2="237.25" y2="414.03" stroke-width="1.20"/><line x1="1414.01" y1="414.03" x2="1417.48" y2="414.03" stroke-width="1.20"/><line x1="230.31" y1="386.57" x2="237.25" y2="386.57" stroke-width="2.50"/><line x1="1414.01" y1="386.57" x2="1420.95" y2="386.57" stroke-width="2.50"/><line x1="233.78" y1="359.12" x2="237.25" y2="359.12" stroke-width="1.20"/><line x1="1414.01" y1="359.12" x2="1417.48" y2="359.12" stroke-width="1.20"/><line x1="233.78" y1="331.67" x2="237.25" y2="331.67" stroke-width="1.20"/><line x1="1414.01" y1="331.67" x2="1417.48" y2="331.67" stroke-width="1.20"/><line x1="233.78" y1="304.21" x2="237.25" y2="304.21" stroke-width="1.20"/><line x1="1414.01" y1="304.21" x2="1417.48" y2="304.21" stroke-width="1.20"/><line x1="233.78" y1="276.76" x2="237.25" y2="276.76" stroke-width="1.20"/><line x1="1414.01" y1="276.76" x2="1417.48" y2="276.76" stroke-width="1.20"/><line x1="230.31" y1="249.31" x2="237.25" y2="249.31" stroke-width="2.50"/><line x1="1414.01" y1="249.31" x2="1420.95" y2="249.31" stroke-width="2.50"/><line x1="233.78" y1="221.85" x2="237.25" y2="221.85" stroke-width="1.20"/><line x1="1414.01" y1="221.85" x2="1417.48" y2="221.85" stroke-width="1.20"/><line x1="233.78" y1="194.40" x2="237.25" y2="194.40" stroke-width="1.20"/><line x1="1414.01" y1="194.40" x2="1417.48" y2="194.40" stroke-width="1.20"/><line x1="233.78" y1="166.95" x2="237.25" y2="166.95" stroke-width="1.20"/><line x1="1414.01" y1="166.95" x2="1417.48" y2="166.95" stroke-width="1.20"/><line x1="233.78" y1="139.49" x2="237.25" y2="139.49" stroke-width="1.20"/><line x1="1414.01" y1="139.49" x2="1417.48" y2="139.49" stroke-width="1.20"/><line x1="230.31" y1="112.04" x2="237.25" y2="112.04" stroke-width="2.50"/><line x1="1414.01" y1="112.04" x2="1420.95" y2="112.04" stroke-width="2.50"/><line x1="1523.60" y1="825.03" x2="1528.46" y2="825.03" stroke-width="1.11"/><line x1="1523.60" y1="735.81" x2="1528.46" y2="735.81" stroke-width="1.11"/><line x1="1523.60" y1="646.58" x2="1528.46" y2="646.58" stroke-width="1.11"/><line x1="1523.60" y1="557.36" x2="1528.46" y2="557.36" stroke-width="1.11"/><line x1="1523.60" y1="468.13" x2="1528.46" y2="468.13" stroke-width="1.11"/><line x1="1523.60" y1="378.91" x2="1528.46" y2="378.91" stroke-width="1.11"/><line x1="1523.60" y1="289.69" x2="1528.46" y2="289.69" stroke-width="1.11"/><line x1="1523.60" y1="200.46" x2="1528.46" y2="200.46" stroke-width="1.11"/><line x1="1523.60" y1="111.24" x2="1528.46" y2="111.24" stroke-width="1.11"/></g><rect x="1488.20" y="111.24" width="35.40" height="713.79" fill="none" stroke="#000" stroke-width="1.11"/><g fill="#000" style="font-family:'DejaVu Sans','Liberation Sans',sans-serif"><text x="825.63" y="102.91" style="font-size:33.33px;text-anchor:middle">CSO Radio Spectrum L 2025-11-09</text><text x="355.52" y="858.9" style="font-size:27.78px;text-anchor:middle">07:05</text><text x="473.29" y="858.9" style="font-size:27.78px;text-anchor:middle">07:10</text><text x="591.06" y="858.9" style="font-size:27.78px;text-anchor:middle">07:15</text><text x="708.83" y="858.9" style="font-size:27.78px;text-anchor:middle">07:20</text><text x="826.60" y="858.9" style="font-size:27.78px;text-anchor:middle">07:25</text><text x="944.37" y="858.9" style="font-size:27.78px;text-anchor:middle">07:30</text><text x="1062.14" y="858.9" style="font-size:27.78px;text-anchor:middle">07:35</text><text x="1179.91" y="858.9" style="font-size:27.78px;text-anchor:middle">07:40</text><text x="1297.68" y="858.9" style="font-size:27.78px;text-anchor:middle">07:45</text><text x="827.0" y="892.9" style="font-size:27.78px;text-anchor:middle">Time (UT)</text><text x="225.2" y="122.59" style="font-size:27.78px;text-anchor:end">600</text><text x="225.2" y="259.86" style="font-size:27.78px;text-anchor:end">500</text><text x="225.2" y="397.13" style="font-size:27.78px;text-anchor:end">400</text><text x="225.2" y="534.40" style="font-size:27.78px;text-anchor:end">300</text><text x="225.2" y="671.66" style="font-size:27.78px;text-anchor:end">200</text><text x="225.2" y="808.93" style="font-size:27.78px;text-anchor:end">100</text><text x="159.8" y="469.0" transform="rotate(-90 159.8 469.0)" style="font-size:27.78px;text-anchor:middle">Frequency (MHz)</text><text x="1532.97" y="830.31" style="font-size:13.89px">2.50</text><text x="1532.97" y="741.08" style="font-size:13.89px">2.75</text><text x="1532.97" y="651.86" style="font-size:13.89px">3.00</text><text x="1532.97" y="562.64" style="font-size:13.89px">3.25</text><text x="1532.97" y="473.41" style="font-size:13.89px">3.50</text><text x="1532.97" y="384.19" style="font-size:13.89px">3.75</text><text x="1532.97" y="294.96" style="font-size:13.89px">4.00</text><text x="1532.97" y="205.74" style="font-size:13.89px">4.25</text><text x="1532.97" y="116.52" style="font-size:13.89px">4.50</text><text x="1523.25" y="104.10" style="font-size:13.89px">log10</text></g></svg>
</body></html>
